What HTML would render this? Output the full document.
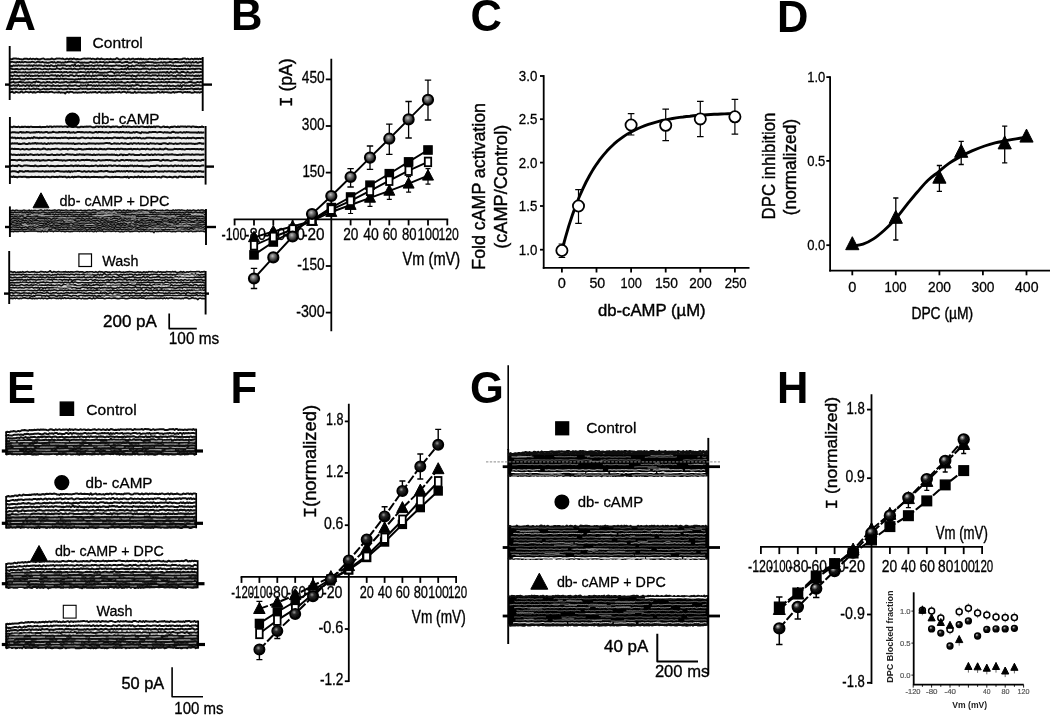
<!DOCTYPE html>
<html><head><meta charset="utf-8"><title>Figure</title>
<style>
html,body{margin:0;padding:0;background:#fff;}
body{width:1050px;height:716px;overflow:hidden;font-family:"Liberation Sans",sans-serif;}
svg{display:block;font-family:"Liberation Sans",sans-serif;}
</style></head><body>
<svg width="1050" height="716" viewBox="0 0 1050 716">
<defs>
<radialGradient id="sph" cx="0.42" cy="0.36" r="0.6">
<stop offset="0" stop-color="#c4c4c4"/><stop offset="0.3" stop-color="#808080"/><stop offset="0.7" stop-color="#3a3a3a"/><stop offset="1" stop-color="#0a0a0a"/>
</radialGradient>
<radialGradient id="sphd" cx="0.4" cy="0.35" r="0.6">
<stop offset="0" stop-color="#9a9a9a"/><stop offset="0.35" stop-color="#2a2a2a"/><stop offset="1" stop-color="#000"/>
</radialGradient>
<radialGradient id="sphh" cx="0.36" cy="0.32" r="0.62">
<stop offset="0" stop-color="#d8d8d8"/><stop offset="0.2" stop-color="#7a7a7a"/><stop offset="0.48" stop-color="#1a1a1a"/><stop offset="1" stop-color="#000"/>
</radialGradient>
<filter id="soft" x="-2%" y="-2%" width="104%" height="104%"><feGaussianBlur stdDeviation="0.45"/></filter>
</defs>
<rect width="1050" height="716" fill="#fff"/>
<g filter="url(#soft)">

<text x="4.6" y="29.8" font-size="43.5" font-weight="bold" fill="#000">A</text>
<text x="231" y="29.7" font-size="43.5" font-weight="bold" fill="#000">B</text>
<text x="470.5" y="31.2" font-size="43.5" font-weight="bold" fill="#000">C</text>
<text x="777" y="31.7" font-size="43.5" font-weight="bold" fill="#000">D</text>
<text x="7" y="402.8" font-size="43.5" font-weight="bold" fill="#000">E</text>
<text x="230.5" y="402.9" font-size="43.5" font-weight="bold" fill="#000">F</text>
<text x="470" y="402.9" font-size="43.5" font-weight="bold" fill="#000">G</text>
<text x="777" y="402.9" font-size="43.5" font-weight="bold" fill="#000">H</text>
<g id="pA">
<rect x="10" y="58.2" width="192.6" height="34.9" fill="#e6e6e6"/>
<path d="M10 58.8l1.2 .4l1.2 -.2l1.2 -.5l1.2 0l1.2 0l1.2 .4l1.2 -.3l1.2 .5l1.2 0l1.2 .4l1.2 -.1l1.2 -.8l1.2 .2l1.2 -.2l1.2 .6l1.2 -.1l1.2 -.6l1.2 .7l1.2 -.4l1.2 .1l1.2 .4l1.2 -.6l1.2 .3l1.2 .3l1.2 .2l1.2 -.6l1.2 -.3l1.2 -.1l1.2 .8l1.2 .1l1.2 -.2l1.2 -.1l1.2 .3l1.2 -.4l1.2 -.5l1.2 .7l1.2 .2l1.2 -.5l1.2 -.4l1.2 .1l1.2 -.1l1.2 .1l1.2 .3l1.2 -.4l1.2 .6l1.2 .3l1.2 -.6l1.2 0l1.2 .7l1.2 -.9l1.2 .1l1.2 .4l1.2 -.6l1.2 .4l1.2 .6l1.2 -.5l1.2 .2l1.2 .2l1.2 0l1.2 -.5l1.2 -.3l1.2 -.1l1.2 .2l1.2 .1l1.2 -.3l1.2 .1l1.2 -.1l1.2 .6l1.2 -.4l1.2 .2l1.2 .5l1.2 -.4l1.2 -.5l1.2 .3l1.2 .6l1.2 -.9l1.2 .5l1.2 .1l1.2 .4l1.2 -.3l1.2 -.3l1.2 .4l1.2 0l1.2 -.6l1.2 .8l1.2 -.2l1.2 0l1.2 -.3l1.2 -.9l1.2 .6l1.2 .8l1.2 0l1.2 0l1.2 -.8l1.2 0l1.2 .4l1.2 .3l1.2 -.2l1.2 -.7l1.2 1l1.2 -.2l1.2 -.7l1.2 .2l1.2 .7l1.2 -.6l1.2 .3l1.2 -.6l1.2 .8l1.2 -.8l1.2 .9l1.2 -.7l1.2 .6l1.2 -.2l1.2 .3l1.2 -.1l1.2 -.7l1.2 .1l1.2 .3l1.2 -.2l1.2 .6l1.2 -.5l1.2 .4l1.2 .1l1.2 -.5l1.2 -.5l1.2 .7l1.2 -.6l1.2 .6l1.2 -.4l1.2 .3l1.2 -.5l1.2 .1l1.2 .6l1.2 -.2l1.2 .4l1.2 -.4l1.2 -.1l1.2 -.1l1.2 .1l1.2 .2l1.2 .3l1.2 -.4l1.2 .3l1.2 -.8l1.2 -.1l1.2 0l1.2 .8l1.2 -.7l1.2 .6l1.2 .2l1.2 -.7l1.2 .2l1.2 .6l1.2 -.9l1.2 .4l1.2 -.3l1.2 .6l1.2 -.7l1.2 .5l1.2 -.6" stroke="#111" stroke-width="1.9" fill="none" stroke-linejoin="round"/>
<path d="M10 62.6l1.2 -.7l1.2 -.1l1.2 .3l1.2 .1l1.2 .5l1.2 -.8l1.2 .5l1.2 -.5l1.2 .6l1.2 -.6l1.2 .6l1.2 -.6l1.2 0l1.2 .4l1.2 .1l1.2 -.3l1.2 .3l1.2 -.5l1.2 -.1l1.2 .3l1.2 .5l1.2 -.3l1.2 -.6l1.2 .1l1.2 .6l1.2 -.1l1.2 -.4l1.2 .4l1.2 .4l1.2 -.4l1.2 .6l1.2 -.2l1.2 -.2l1.2 -.3l1.2 -.3l1.2 .7l1.2 -.6l1.2 .7l1.2 -.2l1.2 -.5l1.2 .3l1.2 0l1.2 .5l1.2 -.4l1.2 .4l1.2 -.8l1.2 .3l1.2 -.3l1.2 -.2l1.2 .1l1.2 -.4l1.2 .5l1.2 .4l1.2 .1l1.2 .2l1.2 -.6l1.2 -.2l1.2 .6l1.2 .2l1.2 -.2l1.2 .2l1.2 -.3l1.2 .3l1.2 0l1.2 .1l1.2 -.3l1.2 -.7l1.2 .4l1.2 .5l1.2 -.2l1.2 0l1.2 -.7l1.2 .8l1.2 -.2l1.2 -.5l1.2 .2l1.2 0l1.2 -.1l1.2 .9l1.2 -.7l1.2 .3l1.2 0l1.2 -.6l1.2 .2l1.2 0l1.2 -.3l1.2 .3l1.2 .4l1.2 -.4l1.2 .2l1.2 -.4l1.2 .1l1.2 .7l1.2 0l1.2 -.4l1.2 -.3l1.2 0l1.2 -.1l1.2 .9l1.2 -.1l1.2 .1l1.2 -.8l1.2 -.6l1.2 .9l1.2 -.2l1.2 .1l1.2 .9l1.2 -.4l1.2 .1l1.2 0l1.2 -.6l1.2 .7l1.2 -.7l1.2 -.1l1.2 -.2l1.2 .2l1.2 0l1.2 .2l1.2 -.1l1.2 .6l1.2 -.3l1.2 .3l1.2 -.2l1.2 0l1.2 0l1.2 -.5l1.2 .7l1.2 -.5l1.2 -.2l1.2 .8l1.2 -.4l1.2 -.1l1.2 -.4l1.2 0l1.2 .3l1.2 .5l1.2 -.5l1.2 -.3l1.2 .2l1.2 -.2l1.2 .4l1.2 .2l1.2 -.4l1.2 0l1.2 -.4l1.2 1l1.2 -.5l1.2 .4l1.2 -.6l1.2 .1l1.2 .6l1.2 -.9l1.2 .7l1.2 -.3l1.2 -.5l1.2 1l1.2 -.1l1.2 -.6l1.2 -.2l1.2 .6" stroke="#111" stroke-width="1.9" fill="none" stroke-linejoin="round"/>
<path d="M10 65.9l1.2 .1l1.2 .2l1.2 -.8l1.2 .4l1.2 -.5l1.2 .5l1.2 -.6l1.2 .5l1.2 -.2l1.2 -.1l1.2 .2l1.2 .2l1.2 -.2l1.2 -.2l1.2 .5l1.2 -.8l1.2 .8l1.2 -.5l1.2 .7l1.2 -1l1.2 .5l1.2 -.3l1.2 .6l1.2 -.6l1.2 .2l1.2 -.1l1.2 .5l1.2 .3l1.2 -.9l1.2 .3l1.2 .6l1.2 -.7l1.2 .7l1.2 -1l1.2 .3l1.2 .6l1.2 .1l1.2 -.7l1.2 .6l1.2 -1l1.2 .4l1.2 0l1.2 -.4l1.2 .4l1.2 -.3l1.2 .1l1.2 .7l1.2 -.4l1.2 0l1.2 .5l1.2 -.6l1.2 -.4l1.2 .9l1.2 -1.6l1.2 1.7l1.2 -.2l1.2 -.4l1.2 .7l1.2 -.8l1.2 .1l1.2 -.4l1.2 1l1.2 -.4l1.2 -.1l1.2 .6l1.2 -.8l1.2 .3l1.2 -.4l1.2 .6l1.2 .1l1.2 -.5l1.2 0l1.2 -.3l1.2 .7l1.2 -.6l1.2 .2l1.2 .6l1.2 -.7l1.2 -.2l1.2 .7l1.2 -.5l1.2 .4l1.2 .1l1.2 -.1l1.2 .2l1.2 -.3l1.2 .2l1.2 -.5l1.2 -.1l1.2 .4l1.2 -.2l1.2 .2l1.2 .3l1.2 .2l1.2 -.6l1.2 .4l1.2 -.8l1.2 0l1.2 1l1.2 -.1l1.2 0l1.2 -.7l1.2 .8l1.2 -.4l1.2 -.5l1.2 0l1.2 .1l1.2 .4l1.2 -.7l1.2 .8l1.2 -.4l1.2 .5l1.2 -.8l1.2 .3l1.2 .3l1.2 -.5l1.2 .3l1.2 -.2l1.2 .1l1.2 0l1.2 .6l1.2 -.6l1.2 .4l1.2 -.8l1.2 .5l1.2 0l1.2 0l1.2 -.5l1.2 .7l1.2 -.6l1.2 .3l1.2 -.2l1.2 .4l1.2 -.5l1.2 .8l1.2 -.7l1.2 .8l1.2 -.5l1.2 .5l1.2 0l1.2 -.1l1.2 0l1.2 -.4l1.2 .4l1.2 -.7l1.2 .4l1.2 -.5l1.2 .7l1.2 -.7l1.2 1.3l1.2 -1.3l1.2 .5l1.2 -.3l1.2 .4l1.2 0l1.2 0l1.2 -.2l1.2 .3l1.2 -.3l1.2 0" stroke="#111" stroke-width="1.9" fill="none" stroke-linejoin="round"/>
<path d="M10 68.6l1.2 -.1l1.2 .5l1.2 .1l1.2 .1l1.2 -.2l1.2 0l1.2 .5l1.2 -.1l1.2 -.2l1.2 -.5l1.2 .3l1.2 .4l1.2 -.1l1.2 -.8l1.2 .8l1.2 .1l1.2 -.1l1.2 -.3l1.2 -.3l1.2 .3l1.2 -.5l1.2 .1l1.2 .6l1.2 -.6l1.2 0l1.2 .5l1.2 .3l1.2 -.3l1.2 -.5l1.2 .5l1.2 .2l1.2 .2l1.2 -.7l1.2 .1l1.2 .4l1.2 0l1.2 -.2l1.2 0l1.2 -1.1l1.2 .6l1.2 .3l1.2 .5l1.2 -.7l1.2 -.5l1.2 .4l1.2 .1l1.2 .4l1.2 0l1.2 -.5l1.2 .1l1.2 -.2l1.2 .9l1.2 -.5l1.2 -.4l1.2 .6l1.2 .1l1.2 .3l1.2 -.8l1.2 -.2l1.2 .4l1.2 -.4l1.2 0l1.2 1l1.2 -.8l1.2 .3l1.2 .3l1.2 -.5l1.2 -.3l1.2 .8l1.2 -.9l1.2 .9l1.2 0l1.2 -.6l1.2 -.3l1.2 .9l1.2 .1l1.2 -.7l1.2 .2l1.2 .1l1.2 .1l1.2 -.4l1.2 -.2l1.2 .2l1.2 .8l1.2 -.7l1.2 0l1.2 .6l1.2 -.2l1.2 .3l1.2 -.1l1.2 0l1.2 -.2l1.2 -.4l1.2 .3l1.2 .3l1.2 -.9l1.2 1l1.2 -1.7l1.2 1.4l1.2 0l1.2 -.7l1.2 .3l1.2 .5l1.2 -.8l1.2 .9l1.2 -.8l1.2 .6l1.2 .1l1.2 0l1.2 -.5l1.2 -.3l1.2 .2l1.2 -.2l1.2 .3l1.2 0l1.2 .7l1.2 -.1l1.2 -.9l1.2 .4l1.2 -.1l1.2 .2l1.2 .4l1.2 -.1l1.2 -.9l1.2 .9l1.2 -.9l1.2 .6l1.2 -.4l1.2 .2l1.2 -.1l1.2 .1l1.2 .4l1.2 -.6l1.2 -.1l1.2 .7l1.2 -.1l1.2 -.2l1.2 .5l1.2 -.5l1.2 -.2l1.2 .3l1.2 .4l1.2 -.5l1.2 .4l1.2 -.1l1.2 -.4l1.2 .6l1.2 -.1l1.2 -.4l1.2 .2l1.2 -.2l1.2 -.2l1.2 .1l1.2 .6l1.2 -.8l1.2 .2l1.2 -.2l1.2 0l1.2 .6l1.2 .3" stroke="#111" stroke-width="1.9" fill="none" stroke-linejoin="round"/>
<path d="M10 72.2l1.2 .4l1.2 -.4l1.2 .3l1.2 -.5l1.2 -.2l1.2 .8l1.2 -.3l1.2 0l1.2 .1l1.2 .2l1.2 -.4l1.2 .4l1.2 -.6l1.2 .7l1.2 -.2l1.2 0l1.2 -.2l1.2 .2l1.2 -.3l1.2 .4l1.2 -.6l1.2 .3l1.2 -.1l1.2 .6l1.2 -.3l1.2 -.3l1.2 .7l1.2 -1l1.2 .9l1.2 -.9l1.2 .5l1.2 -.1l1.2 .4l1.2 -.5l1.2 -.2l1.2 .2l1.2 -.3l1.2 .3l1.2 -.1l1.2 -.3l1.2 .4l1.2 0l1.2 -.2l1.2 .8l1.2 -.8l1.2 .2l1.2 -.3l1.2 .8l1.2 -.4l1.2 -.3l1.2 .2l1.2 .5l1.2 -.4l1.2 .1l1.2 .3l1.2 0l1.2 -.5l1.2 0l1.2 -.4l1.2 .3l1.2 0l1.2 .1l1.2 .3l1.2 .3l1.2 -1l1.2 1l1.2 -.9l1.2 -.3l1.2 1.2l1.2 -.8l1.2 -.1l1.2 .7l1.2 -.7l1.2 .7l1.2 .2l1.2 -.2l1.2 .2l1.2 -.1l1.2 -.2l1.2 .1l1.2 .1l1.2 -.6l1.2 -.2l1.2 -.1l1.2 .1l1.2 .4l1.2 1l1.2 -1l1.2 .2l1.2 -.3l1.2 .6l1.2 -.3l1.2 -.7l1.2 .7l1.2 -.4l1.2 .2l1.2 .8l1.2 -.6l1.2 .2l1.2 -.4l1.2 .3l1.2 -.4l1.2 .2l1.2 -.3l1.2 .1l1.2 -.1l1.2 .7l1.2 -.2l1.2 -.5l1.2 .3l1.2 .2l1.2 0l1.2 -.2l1.2 -.8l1.2 1.2l1.2 -.3l1.2 .3l1.2 -.4l1.2 .1l1.2 0l1.2 0l1.2 .1l1.2 -.1l1.2 .3l1.2 -.6l1.2 .4l1.2 -.5l1.2 .1l1.2 0l1.2 .6l1.2 -1.1l1.2 1l1.2 .1l1.2 -1l1.2 .6l1.2 .4l1.2 -.6l1.2 .3l1.2 -1.4l1.2 1.4l1.2 .3l1.2 -.1l1.2 -.9l1.2 .2l1.2 0l1.2 .6l1.2 .1l1.2 -.8l1.2 .7l1.2 .2l1.2 0l1.2 -.8l1.2 .7l1.2 -.6l1.2 -.1l1.2 .3l1.2 -.1l1.2 .1l1.2 -.4l1.2 .3" stroke="#111" stroke-width="1.9" fill="none" stroke-linejoin="round"/>
<path d="M10 75.8l1.2 -.3l1.2 .6l1.2 -.4l1.2 -.5l1.2 .7l1.2 -.4l1.2 .7l1.2 -.4l1.2 -.2l1.2 -.1l1.2 .3l1.2 .2l1.2 -.9l1.2 .5l1.2 .4l1.2 -.9l1.2 .9l1.2 -.3l1.2 .3l1.2 -.1l1.2 -.4l1.2 .2l1.2 -.4l1.2 .8l1.2 -.3l1.2 -.2l1.2 -.2l1.2 .6l1.2 -.8l1.2 .7l1.2 -.2l1.2 .4l1.2 -.5l1.2 -.3l1.2 0l1.2 .2l1.2 0l1.2 -.2l1.2 .9l1.2 -1l1.2 .8l1.2 -.2l1.2 -.9l1.2 1.3l1.2 -.6l1.2 -.2l1.2 .2l1.2 .3l1.2 .3l1.2 -1.1l1.2 .2l1.2 -.1l1.2 .9l1.2 0l1.2 -.9l1.2 .3l1.2 .7l1.2 -.5l1.2 .5l1.2 -.7l1.2 -.2l1.2 .9l1.2 -1.1l1.2 .4l1.2 .6l1.2 -.9l1.2 .7l1.2 .3l1.2 -.9l1.2 .8l1.2 -.7l1.2 .5l1.2 -.4l1.2 -.3l1.2 .1l1.2 0l1.2 -.2l1.2 1l1.2 -.8l1.2 .8l1.2 -.8l1.2 -.1l1.2 .8l1.2 -.4l1.2 .4l1.2 -.2l1.2 -.5l1.2 .6l1.2 -.6l1.2 .1l1.2 -.1l1.2 .7l1.2 -.7l1.2 .1l1.2 -.2l1.2 0l1.2 .6l1.2 -.2l1.2 -.2l1.2 .1l1.2 .7l1.2 -1l1.2 .9l1.2 -.2l1.2 .8l1.2 -1.2l1.2 -.4l1.2 .6l1.2 -.1l1.2 -.3l1.2 0l1.2 .6l1.2 -.6l1.2 -.1l1.2 .4l1.2 -.3l1.2 .6l1.2 -.2l1.2 -.5l1.2 .3l1.2 -.3l1.2 .3l1.2 .6l1.2 -1l1.2 .5l1.2 -.2l1.2 .6l1.2 -.7l1.2 .5l1.2 -.2l1.2 -.4l1.2 .8l1.2 -.5l1.2 0l1.2 -.3l1.2 .9l1.2 -.4l1.2 .8l1.2 -1.2l1.2 -.1l1.2 .1l1.2 .6l1.2 -.8l1.2 .6l1.2 .2l1.2 .2l1.2 -1l1.2 .5l1.2 -.2l1.2 .1l1.2 .3l1.2 -.5l1.2 .6l1.2 .1l1.2 -.5l1.2 .5l1.2 -.5l1.2 .5l1.2 -.6l1.2 .2" stroke="#111" stroke-width="1.9" fill="none" stroke-linejoin="round"/>
<path d="M10 79.3l1.2 0l1.2 -.8l1.2 1l1.2 -.8l1.2 .4l1.2 -.1l1.2 -.1l1.2 -.4l1.2 1l1.2 0l1.2 -.2l1.2 .4l1.2 -1l1.2 0l1.2 .7l1.2 -.7l1.2 .2l1.2 -.2l1.2 .4l1.2 0l1.2 -.1l1.2 -.1l1.2 -.3l1.2 0l1.2 .3l1.2 -.2l1.2 .3l1.2 .1l1.2 0l1.2 .1l1.2 -.2l1.2 -.1l1.2 -.2l1.2 .3l1.2 -.2l1.2 .6l1.2 -.4l1.2 -.3l1.2 .1l1.2 -.2l1.2 .8l1.2 -.9l1.2 .4l1.2 -.3l1.2 .9l1.2 -.9l1.2 .2l1.2 .3l1.2 .2l1.2 -.1l1.2 .1l1.2 0l1.2 .1l1.2 .5l1.2 -.8l1.2 .4l1.2 -.6l1.2 .5l1.2 -.6l1.2 .1l1.2 -.1l1.2 .2l1.2 -.2l1.2 .6l1.2 -.5l1.2 -.1l1.2 .3l1.2 -.6l1.2 .3l1.2 .6l1.2 -.7l1.2 -.1l1.2 .5l1.2 .3l1.2 -.4l1.2 0l1.2 .2l1.2 -.4l1.2 0l1.2 .4l1.2 -.7l1.2 .4l1.2 .2l1.2 .4l1.2 -.6l1.2 .6l1.2 -.5l1.2 -.4l1.2 .9l1.2 -.5l1.2 .4l1.2 -.1l1.2 .1l1.2 -.8l1.2 .4l1.2 -.4l1.2 .5l1.2 -.3l1.2 .3l1.2 -.2l1.2 -.1l1.2 -.4l1.2 1l1.2 -.2l1.2 -.2l1.2 -.3l1.2 .3l1.2 .1l1.2 -.5l1.2 .7l1.2 -.8l1.2 .5l1.2 .1l1.2 -.1l1.2 -.2l1.2 0l1.2 -.1l1.2 .7l1.2 -.6l1.2 .1l1.2 .5l1.2 .1l1.2 -.4l1.2 -.6l1.2 .9l1.2 0l1.2 -.6l1.2 .7l1.2 0l1.2 -.6l1.2 -.2l1.2 .7l1.2 -.1l1.2 -.7l1.2 0l1.2 .1l1.2 -.1l1.2 .3l1.2 -.4l1.2 .8l1.2 -.6l1.2 0l1.2 -.2l1.2 .3l1.2 .4l1.2 -.5l1.2 -.1l1.2 .7l1.2 -.7l1.2 .6l1.2 .3l1.2 0l1.2 -.8l1.2 -.1l1.2 .1l1.2 .4l1.2 -.4l1.2 0l1.2 -.1l1.2 .4" stroke="#111" stroke-width="1.9" fill="none" stroke-linejoin="round"/>
<path d="M10 82.6l1.2 -.1l1.2 -.4l1.2 -.2l1.2 .8l1.2 -.2l1.2 -.1l1.2 -.1l1.2 -.5l1.2 .2l1.2 .5l1.2 -.3l1.2 .4l1.2 .1l1.2 -.3l1.2 .1l1.2 -.3l1.2 .3l1.2 .2l1.2 -.2l1.2 -.6l1.2 .7l1.2 -1.4l1.2 .8l1.2 -.2l1.2 .7l1.2 .2l1.2 -.2l1.2 -.3l1.2 .5l1.2 -.1l1.2 -.8l1.2 .6l1.2 -.4l1.2 .6l1.2 .2l1.2 -.9l1.2 .3l1.2 .5l1.2 -.8l1.2 .3l1.2 .3l1.2 .2l1.2 -.4l1.2 .2l1.2 -.2l1.2 -.4l1.2 -.1l1.2 .8l1.2 -.2l1.2 .1l1.2 -.5l1.2 .2l1.2 -.2l1.2 -.1l1.2 .6l1.2 -.5l1.2 .2l1.2 -.1l1.2 .6l1.2 -.3l1.2 .3l1.2 -.1l1.2 -.1l1.2 -.2l1.2 .4l1.2 -.6l1.2 -.1l1.2 .1l1.2 .4l1.2 -.6l1.2 .4l1.2 -.4l1.2 -.1l1.2 .8l1.2 -.1l1.2 -.1l1.2 -.1l1.2 -.3l1.2 -.2l1.2 .7l1.2 .3l1.2 -.8l1.2 .4l1.2 .3l1.2 -.7l1.2 .7l1.2 -.8l1.2 .8l1.2 -.6l1.2 .6l1.2 -.5l1.2 0l1.2 -.2l1.2 .4l1.2 .3l1.2 .1l1.2 -.5l1.2 -.4l1.2 .5l1.2 .1l1.2 -.3l1.2 -.4l1.2 .2l1.2 -.2l1.2 .9l1.2 -.5l1.2 .3l1.2 -.3l1.2 0l1.2 .5l1.2 -.8l1.2 .3l1.2 -.1l1.2 -.2l1.2 .4l1.2 .5l1.2 0l1.2 -.4l1.2 -.6l1.2 .6l1.2 0l1.2 -.1l1.2 -.2l1.2 .1l1.2 .3l1.2 -.6l1.2 .3l1.2 0l1.2 .2l1.2 -.5l1.2 .8l1.2 -.8l1.2 .1l1.2 .3l1.2 0l1.2 -.3l1.2 -.1l1.2 .5l1.2 -.2l1.2 0l1.2 .2l1.2 .2l1.2 .2l1.2 -.9l1.2 .3l1.2 .6l1.2 -.2l1.2 0l1.2 -.6l1.2 -.2l1.2 .2l1.2 .5l1.2 .2l1.2 0l1.2 .1l1.2 -.9l1.2 .2l1.2 .4l1.2 -.6l1.2 .7" stroke="#111" stroke-width="1.9" fill="none" stroke-linejoin="round"/>
<path d="M10 85.9l1.2 -.1l1.2 -.1l1.2 -.5l1.2 .6l1.2 -.5l1.2 .7l1.2 -1.5l1.2 1.5l1.2 -.3l1.2 .1l1.2 -.6l1.2 .5l1.2 .3l1.2 -.9l1.2 .2l1.2 .8l1.2 -1l1.2 .9l1.2 -.5l1.2 -.2l1.2 .2l1.2 .3l1.2 -.3l1.2 .6l1.2 -1l1.2 .4l1.2 .2l1.2 -.1l1.2 -.2l1.2 .8l1.2 -.9l1.2 .1l1.2 .2l1.2 .1l1.2 .4l1.2 -1l1.2 .8l1.2 0l1.2 -.1l1.2 -.4l1.2 .7l1.2 -.3l1.2 .1l1.2 -.3l1.2 -.1l1.2 0l1.2 0l1.2 .7l1.2 -.7l1.2 -.2l1.2 .6l1.2 -.3l1.2 .1l1.2 -.4l1.2 .1l1.2 .5l1.2 .2l1.2 0l1.2 -.9l1.2 .5l1.2 -.2l1.2 .1l1.2 -.4l1.2 .9l1.2 -1.3l1.2 .6l1.2 -.1l1.2 0l1.2 .7l1.2 -.7l1.2 .8l1.2 -.9l1.2 .9l1.2 -.9l1.2 .5l1.2 .1l1.2 -.5l1.2 .6l1.2 -.4l1.2 0l1.2 0l1.2 .3l1.2 -.2l1.2 -.2l1.2 -.3l1.2 .6l1.2 -.5l1.2 .7l1.2 -.7l1.2 0l1.2 0l1.2 .4l1.2 .1l1.2 .1l1.2 -.3l1.2 -.1l1.2 .5l1.2 -.5l1.2 .8l1.2 -.8l1.2 .7l1.2 -1l1.2 .7l1.2 -.3l1.2 -.2l1.2 -.8l1.2 .7l1.2 .5l1.2 .4l1.2 -.8l1.2 .6l1.2 -.1l1.2 -.4l1.2 .2l1.2 -.1l1.2 .1l1.2 .5l1.2 -.2l1.2 -.1l1.2 .2l1.2 -.3l1.2 .4l1.2 -.3l1.2 -.4l1.2 .2l1.2 -.3l1.2 .5l1.2 .4l1.2 -.5l1.2 .3l1.2 -.6l1.2 .6l1.2 -.5l1.2 .6l1.2 -.3l1.2 -.2l1.2 .5l1.2 0l1.2 -.2l1.2 -.6l1.2 .9l1.2 -1.1l1.2 1.8l1.2 -1.6l1.2 -.1l1.2 .6l1.2 -.3l1.2 .4l1.2 -.2l1.2 .3l1.2 -.9l1.2 .2l1.2 .8l1.2 -.7l1.2 -.2l1.2 0l1.2 .1l1.2 0l1.2 .3l1.2 -.1" stroke="#111" stroke-width="1.9" fill="none" stroke-linejoin="round"/>
<path d="M10 89.4l1.2 -.7l1.2 .7l1.2 -.7l1.2 0l1.2 -.2l1.2 .4l1.2 .3l1.2 -.1l1.2 -.1l1.2 .5l1.2 -.3l1.2 -.4l1.2 .7l1.2 -.7l1.2 -.2l1.2 -.2l1.2 1l1.2 -.3l1.2 -.4l1.2 -.2l1.2 .8l1.2 -.8l1.2 .3l1.2 .2l1.2 .9l1.2 -.5l1.2 -.3l1.2 -.4l1.2 .5l1.2 0l1.2 -.2l1.2 .2l1.2 -.1l1.2 -.4l1.2 0l1.2 .2l1.2 .1l1.2 -.3l1.2 .7l1.2 -.4l1.2 .3l1.2 -.7l1.2 .3l1.2 .4l1.2 .1l1.2 -.6l1.2 .5l1.2 -.7l1.2 -.1l1.2 .8l1.2 -.4l1.2 0l1.2 .3l1.2 -.3l1.2 .4l1.2 -.1l1.2 -.2l1.2 -.2l1.2 -.5l1.2 .7l1.2 -.4l1.2 .1l1.2 0l1.2 -.2l1.2 .9l1.2 -.5l1.2 .2l1.2 -.6l1.2 .3l1.2 -.1l1.2 .4l1.2 -.3l1.2 .3l1.2 -.5l1.2 .6l1.2 0l1.2 -.7l1.2 .3l1.2 .2l1.2 .4l1.2 -.5l1.2 .4l1.2 -.4l1.2 0l1.2 .1l1.2 .2l1.2 -.3l1.2 .3l1.2 .1l1.2 -.8l1.2 0l1.2 0l1.2 .7l1.2 -.7l1.2 .7l1.2 -.7l1.2 .4l1.2 .6l1.2 -.1l1.2 -.6l1.2 -.4l1.2 .3l1.2 .1l1.2 .6l1.2 -.4l1.2 -.5l1.2 .9l1.2 0l1.2 -.8l1.2 .4l1.2 -.1l1.2 .2l1.2 .2l1.2 .1l1.2 -.9l1.2 .5l1.2 0l1.2 -.3l1.2 0l1.2 .6l1.2 -.4l1.2 0l1.2 -.4l1.2 .6l1.2 .3l1.2 -.3l1.2 .3l1.2 -.1l1.2 -.1l1.2 -.5l1.2 .6l1.2 .1l1.2 -.9l1.2 .8l1.2 -.4l1.2 -.2l1.2 .5l1.2 -.7l1.2 0l1.2 .2l1.2 .4l1.2 -.1l1.2 .4l1.2 -.1l1.2 0l1.2 -.7l1.2 .5l1.2 -.1l1.2 -.1l1.2 0l1.2 -.4l1.2 .1l1.2 .9l1.2 -.5l1.2 -.2l1.2 .2l1.2 -.5l1.2 .9l1.2 -.4l1.2 -.4" stroke="#111" stroke-width="1.9" fill="none" stroke-linejoin="round"/>
<path d="M10 92.7l1.2 -.7l1.2 -.2l1.2 1l1.2 0l1.2 -1l1.2 .4l1.2 .4l1.2 0l1.2 -.8l1.2 .1l1.2 .7l1.2 -.3l1.2 -.4l1.2 0l1.2 .2l1.2 .4l1.2 -.6l1.2 .2l1.2 .6l1.2 -.8l1.2 .8l1.2 -.4l1.2 -.4l1.2 0l1.2 .4l1.2 -.3l1.2 0l1.2 0l1.2 .3l1.2 -.5l1.2 .5l1.2 .1l1.2 -.4l1.2 -.1l1.2 -.1l1.2 .5l1.2 .4l1.2 -.3l1.2 0l1.2 .1l1.2 -.5l1.2 .8l1.2 -.4l1.2 .2l1.2 0l1.2 .9l1.2 -1.3l1.2 -.4l1.2 .8l1.2 -.7l1.2 0l1.2 .1l1.2 .8l1.2 -.2l1.2 -.3l1.2 .4l1.2 -.2l1.2 -.1l1.2 .2l1.2 -.1l1.2 -.6l1.2 .6l1.2 -.6l1.2 .9l1.2 -.2l1.2 0l1.2 -.4l1.2 .4l1.2 -.5l1.2 .2l1.2 -.4l1.2 .7l1.2 .1l1.2 -.7l1.2 0l1.2 .7l1.2 -.2l1.2 .1l1.2 -.1l1.2 .2l1.2 -.9l1.2 .9l1.2 -.3l1.2 .2l1.2 -.8l1.2 .8l1.2 -.2l1.2 -.3l1.2 0l1.2 .3l1.2 -.6l1.2 .7l1.2 0l1.2 -.6l1.2 -.1l1.2 .2l1.2 .8l1.2 -.8l1.2 .4l1.2 -.2l1.2 .6l1.2 0l1.2 -.1l1.2 -.9l1.2 1l1.2 -.2l1.2 -.5l1.2 .3l1.2 -.1l1.2 .5l1.2 -.3l1.2 -.1l1.2 .4l1.2 -.3l1.2 -.3l1.2 .3l1.2 -.2l1.2 .5l1.2 -.1l1.2 -.3l1.2 .2l1.2 0l1.2 -.8l1.2 .1l1.2 .8l1.2 -.3l1.2 -.6l1.2 .8l1.2 -.5l1.2 0l1.2 .1l1.2 .3l1.2 0l1.2 .3l1.2 -.3l1.2 -.6l1.2 .8l1.2 -.6l1.2 .2l1.2 -.4l1.2 0l1.2 -.1l1.2 .4l1.2 .6l1.2 -.7l1.2 -.1l1.2 .2l1.2 -.2l1.2 .2l1.2 -.2l1.2 .7l1.2 0l1.2 -.1l1.2 -.7l1.2 .4l1.2 .2l1.2 -.4l1.2 .7l1.2 -.7l1.2 -.1" stroke="#111" stroke-width="1.9" fill="none" stroke-linejoin="round"/>
<path d="M9.7 46L9.7 100" stroke="#000" stroke-width="1.9" stroke-linecap="butt" fill="none"/>
<path d="M202.7 57L202.7 111" stroke="#000" stroke-width="1.9" stroke-linecap="butt" fill="none"/>
<path d="M5 84.6L10 84.6" stroke="#000" stroke-width="2.4" stroke-linecap="butt" fill="none"/>
<path d="M202.5 84.6L212 84.6" stroke="#000" stroke-width="2.4" stroke-linecap="butt" fill="none"/>
<rect x="67.1" y="37.5" width="13.2" height="13.2" fill="#000" stroke="#000" stroke-width="1.4"/>
<text x="92.6" y="47.7" font-size="15.5" font-weight="normal" fill="#000" stroke="#000" stroke-width=".3" textLength="50.2" lengthAdjust="spacingAndGlyphs">Control</text>
<rect x="10" y="126" width="195.5" height="51.8" fill="#eeeeee"/>
<path d="M10 126.4l1.2 .5l1.2 .3l1.2 -.6l1.2 .2l1.2 .2l1.2 .1l1.2 -.5l1.2 .6l1.2 -.2l1.2 -.3l1.2 .3l1.2 -.3l1.2 0l1.2 .4l1.2 -.3l1.2 .4l1.2 -.5l1.2 0l1.2 .4l1.2 -.2l1.2 0l1.2 .2l1.2 0l1.2 -.1l1.2 -.2l1.2 .4l1.2 -.1l1.2 0l1.2 -.1l1.2 -.1l1.2 -.5l1.2 .7l1.2 -.6l1.2 -.1l1.2 .8l1.2 -.5l1.2 -.3l1.2 .4l1.2 -.3l1.2 -.1l1.2 .4l1.2 -.4l1.2 0l1.2 .5l1.2 -.3l1.2 -.1l1.2 0l1.2 .6l1.2 -.7l1.2 0l1.2 .3l1.2 .2l1.2 0l1.2 -.1l1.2 -.2l1.2 .6l1.2 0l1.2 0l1.2 -.4l1.2 0l1.2 .2l1.2 -.3l1.2 0l1.2 -.2l1.2 .3l1.2 -.3l1.2 0l1.2 .4l1.2 .3l1.2 0l1.2 -.2l1.2 -.6l1.2 0l1.2 .6l1.2 -.4l1.2 -.1l1.2 .7l1.2 -.8l1.2 .3l1.2 .4l1.2 -.7l1.2 .1l1.2 .3l1.2 .4l1.2 -.4l1.2 -.3l1.2 .4l1.2 -.4l1.2 -.1l1.2 .6l1.2 .2l1.2 -.2l1.2 .1l1.2 -1l1.2 .8l1.2 -.5l1.2 .7l1.2 -.7l1.2 .4l1.2 -.2l1.2 .5l1.2 -.2l1.2 -.3l1.2 .1l1.2 .2l1.2 -.4l1.2 .4l1.2 .1l1.2 -.6l1.2 0l1.2 .3l1.2 .3l1.2 -.1l1.2 -.1l1.2 .4l1.2 -.8l1.2 .8l1.2 -.5l1.2 .4l1.2 -.7l1.2 .8l1.2 -.8l1.2 .2l1.2 -.1l1.2 .7l1.2 0l1.2 -.3l1.2 -.5l1.2 .6l1.2 .1l1.2 -.3l1.2 .3l1.2 .6l1.2 -.8l1.2 -.1l1.2 .1l1.2 -.5l1.2 .4l1.2 .3l1.2 -.7l1.2 .7l1.2 -.6l1.2 0l1.2 -.1l1.2 .4l1.2 -.4l1.2 .7l1.2 -.7l1.2 .2l1.2 -.1l1.2 .7l1.2 -.8l1.2 .1l1.2 .4l1.2 -.1l1.2 .1l1.2 .3l1.2 -.1l1.2 0l1.2 -.7l1.2 .7l1.2 0" stroke="#111" stroke-width="2" fill="none" stroke-linejoin="round"/>
<path d="M10 132.8l1.2 -.2l1.2 -.4l1.2 0l1.2 .1l1.2 .2l1.2 .1l1.2 .2l1.2 -.6l1.2 -.3l1.2 .8l1.2 -.5l1.2 .4l1.2 0l1.2 -.6l1.2 .2l1.2 .1l1.2 .5l1.2 -.4l1.2 0l1.2 -.1l1.2 .2l1.2 -.5l1.2 .2l1.2 -.3l1.2 .7l1.2 -.5l1.2 .4l1.2 .1l1.2 -.4l1.2 -.2l1.2 .1l1.2 .7l1.2 -.3l1.2 0l1.2 -.3l1.2 -.4l1.2 .3l1.2 .3l1.2 .1l1.2 .1l1.2 -.6l1.2 .3l1.2 0l1.2 -.3l1.2 .2l1.2 -.2l1.2 .1l1.2 .6l1.2 -1l1.2 1l1.2 -.2l1.2 0l1.2 -.4l1.2 .7l1.2 -.3l1.2 -.4l1.2 -.2l1.2 .1l1.2 .3l1.2 -.2l1.2 .1l1.2 .2l1.2 -.2l1.2 0l1.2 .4l1.2 -.5l1.2 .2l1.2 .2l1.2 .2l1.2 -.2l1.2 -.4l1.2 -.1l1.2 .6l1.2 -.6l1.2 .1l1.2 .2l1.2 -.3l1.2 .4l1.2 0l1.2 -.3l1.2 .3l1.2 .4l1.2 -.8l1.2 .4l1.2 -.3l1.2 0l1.2 .1l1.2 .1l1.2 -.3l1.2 .2l1.2 .3l1.2 -.5l1.2 .4l1.2 -.5l1.2 .4l1.2 .3l1.2 -.5l1.2 .4l1.2 -.4l1.2 .7l1.2 -.1l1.2 0l1.2 -.6l1.2 .6l1.2 -.7l1.2 .1l1.2 .5l1.2 .2l1.2 .4l1.2 -1.1l1.2 .3l1.2 0l1.2 .1l1.2 .2l1.2 .1l1.2 -.7l1.2 .1l1.2 0l1.2 -.3l1.2 .2l1.2 -.2l1.2 .3l1.2 .2l1.2 -.3l1.2 -.1l1.2 .1l1.2 .3l1.2 .3l1.2 -.6l1.2 .4l1.2 -.2l1.2 .2l1.2 .3l1.2 0l1.2 -.8l1.2 -.3l1.2 .5l1.2 .5l1.2 -.3l1.2 .3l1.2 -.3l1.2 -.3l1.2 .4l1.2 .2l1.2 -.6l1.2 .6l1.2 -.6l1.2 .1l1.2 .1l1.2 .2l1.2 .1l1.2 -.2l1.2 .2l1.2 -.1l1.2 0l1.2 .3l1.2 -.7l1.2 .7l1.2 -.5l1.2 .4l1.2 -.1l1.2 -.1" stroke="#111" stroke-width="2" fill="none" stroke-linejoin="round"/>
<path d="M10 137.6l1.2 .1l1.2 -.2l1.2 .4l1.2 -.3l1.2 .8l1.2 -.6l1.2 .1l1.2 .3l1.2 -.5l1.2 .7l1.2 -.1l1.2 -.2l1.2 .3l1.2 -.2l1.2 -.5l1.2 .3l1.2 .3l1.2 -.6l1.2 .5l1.2 -1.1l1.2 .6l1.2 0l1.2 .1l1.2 .5l1.2 -.7l1.2 .4l1.2 -.1l1.2 -.2l1.2 -.1l1.2 0l1.2 .5l1.2 .1l1.2 -.4l1.2 -.1l1.2 .3l1.2 -.4l1.2 .3l1.2 -.2l1.2 .5l1.2 -.2l1.2 .1l1.2 .1l1.2 -.6l1.2 .4l1.2 -.3l1.2 -.1l1.2 .1l1.2 .2l1.2 .6l1.2 -.8l1.2 .4l1.2 0l1.2 -.4l1.2 .4l1.2 -.5l1.2 .6l1.2 0l1.2 0l1.2 -.4l1.2 -.2l1.2 0l1.2 .4l1.2 .3l1.2 -.4l1.2 -.3l1.2 .4l1.2 .2l1.2 0l1.2 -.6l1.2 .3l1.2 .2l1.2 -.3l1.2 .3l1.2 -.3l1.2 .5l1.2 -.2l1.2 -.2l1.2 .5l1.2 -.1l1.2 -.4l1.2 -.1l1.2 .4l1.2 -.3l1.2 0l1.2 .5l1.2 -.6l1.2 -.2l1.2 0l1.2 .4l1.2 -.3l1.2 .5l1.2 -.4l1.2 -.1l1.2 -.1l1.2 .6l1.2 .1l1.2 .1l1.2 -.6l1.2 .3l1.2 -.5l1.2 .8l1.2 -.2l1.2 -.5l1.2 .2l1.2 -.3l1.2 .2l1.2 .4l1.2 -.5l1.2 .5l1.2 .2l1.2 -.3l1.2 .3l1.2 -.1l1.2 -.6l1.2 .1l1.2 0l1.2 -.1l1.2 .2l1.2 .4l1.2 -.6l1.2 .5l1.2 0l1.2 0l1.2 -.1l1.2 .2l1.2 -.3l1.2 .2l1.2 .1l1.2 0l1.2 0l1.2 -.2l1.2 -.6l1.2 .5l1.2 -.2l1.2 .4l1.2 -.5l1.2 0l1.2 .5l1.2 -.5l1.2 -.1l1.2 .1l1.2 .2l1.2 .5l1.2 -.3l1.2 -.2l1.2 .3l1.2 .1l1.2 -.7l1.2 .7l1.2 -.4l1.2 .4l1.2 -.6l1.2 .1l1.2 .3l1.2 .4l1.2 -.6l1.2 0l1.2 .1l1.2 .2l1.2 -.5l1.2 .5l1.2 .1" stroke="#111" stroke-width="2" fill="none" stroke-linejoin="round"/>
<path d="M10 143.5l1.2 .2l1.2 -.4l1.2 .1l1.2 -.1l1.2 .2l1.2 -.3l1.2 .8l1.2 -.2l1.2 .1l1.2 -.1l1.2 -.4l1.2 -.1l1.2 .6l1.2 0l1.2 0l1.2 -.7l1.2 .6l1.2 -.2l1.2 -.3l1.2 .2l1.2 -.6l1.2 .8l1.2 -.4l1.2 .2l1.2 .1l1.2 -.3l1.2 .4l1.2 0l1.2 -.4l1.2 .6l1.2 0l1.2 -.7l1.2 .6l1.2 -.6l1.2 .5l1.2 -.3l1.2 -.1l1.2 -.1l1.2 .4l1.2 -.4l1.2 0l1.2 .2l1.2 -.2l1.2 .3l1.2 0l1.2 0l1.2 .1l1.2 -.4l1.2 .5l1.2 -.3l1.2 .1l1.2 .2l1.2 -.5l1.2 .9l1.2 -.4l1.2 0l1.2 -.3l1.2 0l1.2 .3l1.2 .2l1.2 -.5l1.2 .4l1.2 -.1l1.2 .2l1.2 -.5l1.2 -.2l1.2 .3l1.2 0l1.2 -.1l1.2 0l1.2 .5l1.2 -.4l1.2 -.1l1.2 .4l1.2 -.4l1.2 0l1.2 .2l1.2 -.2l1.2 -.2l1.2 -.1l1.2 0l1.2 .1l1.2 -.1l1.2 .6l1.2 .2l1.2 -.3l1.2 -.4l1.2 .3l1.2 .3l1.2 -.4l1.2 .5l1.2 -.3l1.2 -.5l1.2 .4l1.2 .2l1.2 -.5l1.2 .4l1.2 .4l1.2 0l1.2 -.6l1.2 -.1l1.2 .7l1.2 -.8l1.2 0l1.2 .5l1.2 -.1l1.2 -.5l1.2 .7l1.2 -.3l1.2 .1l1.2 -.2l1.2 .5l1.2 -.3l1.2 -.4l1.2 .9l1.2 -.3l1.2 -.7l1.2 .4l1.2 .1l1.2 -.1l1.2 .4l1.2 -.3l1.2 -.2l1.2 .5l1.2 -.1l1.2 .2l1.2 -.6l1.2 -.1l1.2 -.1l1.2 .3l1.2 .4l1.2 0l1.2 -.7l1.2 .4l1.2 0l1.2 .3l1.2 -.1l1.2 -.5l1.2 .6l1.2 -.2l1.2 0l1.2 -.5l1.2 .5l1.2 0l1.2 -.3l1.2 .5l1.2 -.4l1.2 .3l1.2 -.3l1.2 -.1l1.2 .1l1.2 .3l1.2 -.1l1.2 .3l1.2 -.3l1.2 0l1.2 -.4l1.2 -.2l1.2 .1l1.2 .6l1.2 -.3l1.2 .2" stroke="#111" stroke-width="2" fill="none" stroke-linejoin="round"/>
<path d="M10 149.5l1.2 -.7l1.2 0l1.2 .3l1.2 -.3l1.2 .3l1.2 -.2l1.2 0l1.2 .3l1.2 .2l1.2 -.3l1.2 0l1.2 .4l1.2 -.2l1.2 -.4l1.2 .5l1.2 .1l1.2 -.2l1.2 -.3l1.2 -.2l1.2 .3l1.2 -.1l1.2 .3l1.2 -.5l1.2 .2l1.2 .5l1.2 -.3l1.2 -.2l1.2 -.5l1.2 .3l1.2 .4l1.2 .3l1.2 -.5l1.2 .2l1.2 .2l1.2 -.4l1.2 -.1l1.2 0l1.2 -.1l1.2 0l1.2 0l1.2 .5l1.2 .2l1.2 -.2l1.2 -.6l1.2 .3l1.2 -.1l1.2 -.2l1.2 .8l1.2 -.5l1.2 -.2l1.2 0l1.2 .1l1.2 .2l1.2 .4l1.2 -.2l1.2 .1l1.2 -.6l1.2 .1l1.2 .1l1.2 .5l1.2 .1l1.2 -.4l1.2 .1l1.2 -.3l1.2 -.1l1.2 -.1l1.2 .4l1.2 -.4l1.2 .4l1.2 -.2l1.2 -.3l1.2 .3l1.2 .3l1.2 .1l1.2 -.7l1.2 .3l1.2 .3l1.2 0l1.2 -.2l1.2 .4l1.2 -.7l1.2 -.1l1.2 0l1.2 .3l1.2 .1l1.2 -.2l1.2 0l1.2 .6l1.2 -.5l1.2 -.3l1.2 .7l1.2 -.6l1.2 -.1l1.2 .3l1.2 .3l1.2 -.2l1.2 .2l1.2 0l1.2 -.2l1.2 -.1l1.2 -.3l1.2 .9l1.2 -.7l1.2 0l1.2 .4l1.2 -.5l1.2 .3l1.2 .4l1.2 -.4l1.2 -.3l1.2 .3l1.2 -.2l1.2 .5l1.2 -.6l1.2 0l1.2 .5l1.2 .2l1.2 -.2l1.2 -.5l1.2 -.1l1.2 .6l1.2 0l1.2 0l1.2 .2l1.2 -.8l1.2 .6l1.2 -.1l1.2 .2l1.2 -.6l1.2 -.2l1.2 .4l1.2 .6l1.2 -.1l1.2 -.1l1.2 .1l1.2 0l1.2 -.7l1.2 .3l1.2 -.1l1.2 .2l1.2 -.3l1.2 .2l1.2 .2l1.2 -.2l1.2 .3l1.2 0l1.2 -.5l1.2 .2l1.2 -.2l1.2 .4l1.2 -.2l1.2 -.2l1.2 .1l1.2 0l1.2 .3l1.2 -.4l1.2 .4l1.2 -.1l1.2 -.3l1.2 .8l1.2 -.6l1.2 .4" stroke="#111" stroke-width="2" fill="none" stroke-linejoin="round"/>
<path d="M10 154.4l1.2 -.1l1.2 .6l1.2 -.3l1.2 .1l1.2 .3l1.2 0l1.2 -.4l1.2 .5l1.2 -.7l1.2 .7l1.2 -.6l1.2 .5l1.2 -.6l1.2 .2l1.2 .5l1.2 -.5l1.2 -.3l1.2 .1l1.2 .5l1.2 0l1.2 -.2l1.2 .1l1.2 -.4l1.2 .7l1.2 -.3l1.2 -.5l1.2 .5l1.2 -.1l1.2 -.3l1.2 .2l1.2 .5l1.2 0l1.2 -.1l1.2 -.2l1.2 -.5l1.2 .7l1.2 -.1l1.2 .2l1.2 -.5l1.2 .2l1.2 .2l1.2 -.4l1.2 -.3l1.2 .6l1.2 .2l1.2 -.4l1.2 -.5l1.2 .1l1.2 .3l1.2 -.1l1.2 .2l1.2 -.3l1.2 .3l1.2 .3l1.2 0l1.2 -.5l1.2 .2l1.2 -.4l1.2 .3l1.2 .2l1.2 -.3l1.2 .5l1.2 -.4l1.2 0l1.2 -.2l1.2 .4l1.2 -.2l1.2 .3l1.2 .1l1.2 -.5l1.2 .6l1.2 -.3l1.2 -.1l1.2 -.3l1.2 .5l1.2 -.1l1.2 0l1.2 -.1l1.2 0l1.2 0l1.2 -.3l1.2 .4l1.2 0l1.2 0l1.2 -.2l1.2 .1l1.2 -.1l1.2 .5l1.2 -.3l1.2 .6l1.2 -.3l1.2 -.6l1.2 -.1l1.2 .9l1.2 -.7l1.2 .3l1.2 .1l1.2 0l1.2 -.7l1.2 0l1.2 .5l1.2 -.4l1.2 .1l1.2 .6l1.2 0l1.2 -.1l1.2 .1l1.2 -.2l1.2 -.6l1.2 .4l1.2 .3l1.2 -.1l1.2 0l1.2 -.5l1.2 .1l1.2 .5l1.2 -.1l1.2 -.5l1.2 .7l1.2 -.4l1.2 -.4l1.2 .6l1.2 -.3l1.2 0l1.2 .2l1.2 -.1l1.2 .4l1.2 -.4l1.2 -.3l1.2 .2l1.2 -.3l1.2 .5l1.2 -.2l1.2 -.2l1.2 -.2l1.2 .3l1.2 .2l1.2 .1l1.2 .1l1.2 .1l1.2 -.2l1.2 -.2l1.2 .5l1.2 -.8l1.2 .4l1.2 -.3l1.2 .2l1.2 -.2l1.2 0l1.2 .3l1.2 0l1.2 -.4l1.2 .5l1.2 0l1.2 -.4l1.2 .1l1.2 -.1l1.2 .4l1.2 -.1l1.2 .1l1.2 -.4l1.2 .5" stroke="#111" stroke-width="2" fill="none" stroke-linejoin="round"/>
<path d="M10 160.6l1.2 -.7l1.2 0l1.2 0l1.2 .1l1.2 .2l1.2 .3l1.2 -.6l1.2 -.1l1.2 .1l1.2 .6l1.2 -.1l1.2 -.2l1.2 0l1.2 -.3l1.2 .4l1.2 -.1l1.2 .4l1.2 -.6l1.2 .6l1.2 -.2l1.2 -.2l1.2 -.2l1.2 .6l1.2 -.5l1.2 .8l1.2 -.5l1.2 -.2l1.2 -.1l1.2 .4l1.2 -.1l1.2 -.1l1.2 -.2l1.2 0l1.2 .3l1.2 .1l1.2 -.2l1.2 -.4l1.2 0l1.2 -.1l1.2 .3l1.2 .1l1.2 0l1.2 .1l1.2 .4l1.2 -.5l1.2 .5l1.2 -.3l1.2 -.2l1.2 -.1l1.2 -.2l1.2 .7l1.2 -.4l1.2 -.1l1.2 .2l1.2 .4l1.2 -.7l1.2 .1l1.2 .5l1.2 -.3l1.2 -.4l1.2 0l1.2 .4l1.2 -.4l1.2 -.1l1.2 .2l1.2 -.1l1.2 .4l1.2 .3l1.2 -.6l1.2 .6l1.2 -.1l1.2 .2l1.2 -.3l1.2 -.5l1.2 .5l1.2 .1l1.2 -.2l1.2 -.1l1.2 .1l1.2 -.2l1.2 -.2l1.2 .4l1.2 -.4l1.2 .4l1.2 -.1l1.2 .4l1.2 .1l1.2 0l1.2 -.7l1.2 .4l1.2 .3l1.2 -.2l1.2 -.6l1.2 .1l1.2 .4l1.2 -.2l1.2 -.3l1.2 0l1.2 .5l1.2 -.5l1.2 .8l1.2 -.5l1.2 .2l1.2 0l1.2 -.1l1.2 -.3l1.2 .7l1.2 0l1.2 -.1l1.2 -.1l1.2 .2l1.2 -.1l1.2 -.1l1.2 -.4l1.2 .4l1.2 .1l1.2 -.6l1.2 .3l1.2 -.2l1.2 -.1l1.2 0l1.2 .1l1.2 0l1.2 0l1.2 .6l1.2 .1l1.2 -.8l1.2 -.2l1.2 .7l1.2 -.2l1.2 -.2l1.2 .1l1.2 .4l1.2 .3l1.2 -.4l1.2 -.2l1.2 -.3l1.2 .1l1.2 -.1l1.2 .3l1.2 .1l1.2 .2l1.2 -.3l1.2 .4l1.2 -.8l1.2 .6l1.2 -.1l1.2 .3l1.2 -.5l1.2 .3l1.2 -.6l1.2 .6l1.2 -.1l1.2 -.5l1.2 .4l1.2 .4l1.2 -.5l1.2 .2l1.2 .3l1.2 -.8l1.2 -.1l1.2 .4" stroke="#111" stroke-width="2" fill="none" stroke-linejoin="round"/>
<path d="M10 165.8l1.2 .3l1.2 -.5l1.2 .2l1.2 .2l1.2 -.3l1.2 .6l1.2 -1.2l1.2 .3l1.2 .7l1.2 .2l1.2 -.4l1.2 -.5l1.2 .2l1.2 -.1l1.2 .2l1.2 .1l1.2 .3l1.2 -.2l1.2 0l1.2 .4l1.2 -.9l1.2 .6l1.2 .2l1.2 0l1.2 -.3l1.2 -.2l1.2 .2l1.2 0l1.2 0l1.2 0l1.2 -.5l1.2 .5l1.2 .4l1.2 -.5l1.2 .1l1.2 .1l1.2 .2l1.2 .1l1.2 -.2l1.2 -.4l1.2 .3l1.2 -.1l1.2 0l1.2 .2l1.2 -.5l1.2 .1l1.2 .4l1.2 -.2l1.2 0l1.2 -.1l1.2 -.3l1.2 .3l1.2 .4l1.2 -.5l1.2 -.2l1.2 .5l1.2 -.5l1.2 .4l1.2 .2l1.2 -.5l1.2 .5l1.2 -.7l1.2 .7l1.2 0l1.2 -.1l1.2 .3l1.2 -.2l1.2 -.4l1.2 .3l1.2 -.1l1.2 -.3l1.2 -.1l1.2 .7l1.2 -.2l1.2 -.5l1.2 .6l1.2 -.6l1.2 .6l1.2 0l1.2 -.6l1.2 .7l1.2 -.7l1.2 0l1.2 0l1.2 .5l1.2 -.2l1.2 -.4l1.2 .2l1.2 .4l1.2 -.1l1.2 -.4l1.2 .2l1.2 .4l1.2 -.4l1.2 .5l1.2 -.4l1.2 .4l1.2 -.4l1.2 .4l1.2 -.6l1.2 .2l1.2 -.3l1.2 .8l1.2 -.6l1.2 .5l1.2 -.7l1.2 .6l1.2 -.1l1.2 -.1l1.2 -.1l1.2 .4l1.2 0l1.2 .1l1.2 -.1l1.2 0l1.2 .6l1.2 -.7l1.2 0l1.2 0l1.2 -.3l1.2 .3l1.2 -.6l1.2 .1l1.2 .2l1.2 .4l1.2 -.2l1.2 -.5l1.2 .4l1.2 -.1l1.2 0l1.2 0l1.2 .4l1.2 -.3l1.2 -.3l1.2 .2l1.2 .5l1.2 -.7l1.2 -.1l1.2 .6l1.2 -.5l1.2 .2l1.2 .1l1.2 -.4l1.2 .5l1.2 .2l1.2 -.5l1.2 .2l1.2 -.3l1.2 .6l1.2 -.2l1.2 -.2l1.2 -.2l1.2 .5l1.2 -.1l1.2 .1l1.2 -.1l1.2 -.1l1.2 .4l1.2 -.4l1.2 -.4l1.2 .1l1.2 -.2" stroke="#111" stroke-width="2" fill="none" stroke-linejoin="round"/>
<path d="M10 171.8l1.2 -.2l1.2 -.4l1.2 0l1.2 .1l1.2 .2l1.2 .4l1.2 .5l1.2 -1.4l1.2 .3l1.2 0l1.2 .4l1.2 0l1.2 -.7l1.2 .2l1.2 -.2l1.2 .6l1.2 -.1l1.2 .1l1.2 -.4l1.2 .3l1.2 -.3l1.2 .1l1.2 0l1.2 .2l1.2 .1l1.2 0l1.2 -.5l1.2 .3l1.2 .4l1.2 -.6l1.2 .4l1.2 -.4l1.2 .4l1.2 -.3l1.2 .1l1.2 -.4l1.2 .8l1.2 -.6l1.2 -.1l1.2 0l1.2 .1l1.2 .2l1.2 0l1.2 .2l1.2 .2l1.2 -.3l1.2 -.2l1.2 .5l1.2 -.7l1.2 1l1.2 -.9l1.2 .5l1.2 -.3l1.2 -.3l1.2 .3l1.2 -.3l1.2 -.1l1.2 .1l1.2 .3l1.2 .3l1.2 -.2l1.2 -.4l1.2 .6l1.2 .1l1.2 -.5l1.2 0l1.2 .5l1.2 -.3l1.2 -.4l1.2 .6l1.2 -.2l1.2 .3l1.2 -.1l1.2 -.4l1.2 0l1.2 -.3l1.2 .3l1.2 .1l1.2 -.2l1.2 -.2l1.2 0l1.2 .6l1.2 .2l1.2 0l1.2 -.2l1.2 .5l1.2 -.7l1.2 .3l1.2 -.7l1.2 .2l1.2 -.1l1.2 .5l1.2 -.5l1.2 .5l1.2 -.5l1.2 .6l1.2 -.7l1.2 .1l1.2 .6l1.2 -.7l1.2 .4l1.2 -.3l1.2 .6l1.2 .1l1.2 -.6l1.2 .2l1.2 .1l1.2 -.1l1.2 .5l1.2 -.9l1.2 .3l1.2 .7l1.2 -.6l1.2 .2l1.2 .1l1.2 -.1l1.2 -.1l1.2 .2l1.2 -.4l1.2 .4l1.2 -.6l1.2 0l1.2 .5l1.2 .1l1.2 -.2l1.2 .1l1.2 -.1l1.2 .2l1.2 -.6l1.2 .3l1.2 .1l1.2 -.2l1.2 0l1.2 .1l1.2 -.1l1.2 .2l1.2 .2l1.2 .1l1.2 -.4l1.2 -.4l1.2 .7l1.2 -.5l1.2 .5l1.2 -.4l1.2 .4l1.2 0l1.2 -.2l1.2 .1l1.2 -.5l1.2 .5l1.2 .1l1.2 -.3l1.2 .4l1.2 -.7l1.2 .3l1.2 .4l1.2 -.7l1.2 .2l1.2 0l1.2 .4l1.2 -.1l1.2 .2" stroke="#111" stroke-width="2" fill="none" stroke-linejoin="round"/>
<path d="M10 176.8l1.2 -.2l1.2 .5l1.2 -.8l1.2 .8l1.2 -.3l1.2 .6l1.2 -.6l1.2 0l1.2 -.1l1.2 .2l1.2 -.2l1.2 0l1.2 .1l1.2 .4l1.2 -.2l1.2 .2l1.2 -.3l1.2 -.1l1.2 .2l1.2 -.1l1.2 -.2l1.2 .2l1.2 .1l1.2 -.3l1.2 .2l1.2 .4l1.2 -.4l1.2 -.1l1.2 .5l1.2 -.5l1.2 0l1.2 .1l1.2 .4l1.2 0l1.2 -.6l1.2 0l1.2 .3l1.2 .1l1.2 -.3l1.2 .4l1.2 -.6l1.2 .2l1.2 -.1l1.2 .2l1.2 -.1l1.2 -.1l1.2 .7l1.2 -.2l1.2 -.4l1.2 .6l1.2 -.3l1.2 -.4l1.2 .7l1.2 -.7l1.2 .4l1.2 -.4l1.2 -.1l1.2 .2l1.2 .2l1.2 .2l1.2 -.2l1.2 0l1.2 -.3l1.2 .6l1.2 -.5l1.2 .4l1.2 0l1.2 -.3l1.2 .2l1.2 -.4l1.2 .2l1.2 0l1.2 .1l1.2 .3l1.2 -.5l1.2 .5l1.2 -.1l1.2 .1l1.2 -.6l1.2 -.1l1.2 .2l1.2 .2l1.2 .2l1.2 .1l1.2 -.5l1.2 .4l1.2 -.3l1.2 -.2l1.2 .3l1.2 -.1l1.2 .1l1.2 .3l1.2 -.1l1.2 .1l1.2 -.3l1.2 -.2l1.2 .5l1.2 -.7l1.2 1.3l1.2 -.9l1.2 0l1.2 .1l1.2 .3l1.2 -.7l1.2 .4l1.2 .1l1.2 -1l1.2 1.1l1.2 -.3l1.2 -.3l1.2 .7l1.2 -.5l1.2 -.1l1.2 .5l1.2 -.5l1.2 .2l1.2 -.1l1.2 .3l1.2 -.1l1.2 -.1l1.2 -.4l1.2 .6l1.2 .1l1.2 -.4l1.2 .4l1.2 .1l1.2 -.8l1.2 0l1.2 .2l1.2 .2l1.2 .4l1.2 -.3l1.2 -.3l1.2 .1l1.2 .5l1.2 -.1l1.2 -.6l1.2 0l1.2 .7l1.2 0l1.2 -1l1.2 .2l1.2 .2l1.2 .3l1.2 -.3l1.2 .4l1.2 -.2l1.2 -.2l1.2 .2l1.2 -.3l1.2 .6l1.2 0l1.2 -.6l1.2 .5l1.2 -.8l1.2 .5l1.2 -.2l1.2 .2l1.2 -.1l1.2 -.1l1.2 .4l1.2 -.5" stroke="#111" stroke-width="2" fill="none" stroke-linejoin="round"/>
<path d="M9.9 117L9.9 184" stroke="#000" stroke-width="1.9" stroke-linecap="butt" fill="none"/>
<path d="M205.6 126L205.6 184.6" stroke="#000" stroke-width="1.9" stroke-linecap="butt" fill="none"/>
<path d="M5 166.6L10 166.6" stroke="#000" stroke-width="2.4" stroke-linecap="butt" fill="none"/>
<path d="M205.5 166.6L214 166.6" stroke="#000" stroke-width="2.4" stroke-linecap="butt" fill="none"/>
<circle cx="72.4" cy="120" r="6.6" fill="#000" stroke="#000" stroke-width="1.6"/>
<text x="92.6" y="124" font-size="15.5" font-weight="normal" fill="#000" stroke="#000" stroke-width=".3" textLength="66.9" lengthAdjust="spacingAndGlyphs">db- cAMP</text>
<rect x="10" y="209.6" width="196" height="22.5" fill="#8e8e8e"/>
<path d="M10 210.7l1.2 .2l1.2 -.7l1.2 .2l1.2 .6l1.2 -.9l1.2 .1l1.2 .7l1.2 0l1.2 -.3l1.2 .3l1.2 -.7l1.2 -.1l1.2 .5l1.2 .3l1.2 -.3l1.2 -.6l1.2 1l1.2 -.6l1.2 .6l1.2 -.6l1.2 0l1.2 .3l1.2 .1l1.2 -.3l1.2 -.5l1.2 -.2l1.2 .7l1.2 .4l1.2 -.9l1.2 .5l1.2 -.7l1.2 .9l1.2 -.6l1.2 .7l1.2 -.3l1.2 0l1.2 -.7l1.2 .3l1.2 .9l1.2 -1.1l1.2 0l1.2 .4l1.2 -.1l1.2 .2l1.2 -.1l1.2 -.1l1.2 -.2l1.2 .6l1.2 .3l1.2 -.2l1.2 -.5l1.2 .3l1.2 -.1l1.2 .2l1.2 -.3l1.2 .1l1.2 .5l1.2 -.4l1.2 -.4l1.2 .6l1.2 -.1l1.2 -.3l1.2 0l1.2 .5l1.2 -.6l1.2 -.3l1.2 .5l1.2 .2l1.2 -.8l1.2 0l1.2 0l1.2 .8l1.2 .2l1.2 .2l1.2 -.5l1.2 -.4l1.2 -.3l1.2 .4l1.2 -.2l1.2 .5l1.2 -.6l1.2 .4l1.2 0l1.2 .7l1.2 -.1l1.2 -.3l1.2 -.8l1.2 .8l1.2 -.4l1.2 .7l1.2 -1.1l1.2 .4l1.2 .8l1.2 -.4l1.2 -.7l1.2 .9l1.2 0l1.2 -1l1.2 1l1.2 -.4l1.2 .4l1.2 .3l1.2 -.8l1.2 .5l1.2 .2l1.2 -.1l1.2 -1l1.2 .2l1.2 .1l1.2 -.3l1.2 .1l1.2 .4l1.2 0l1.2 -.2l1.2 .5l1.2 .2l1.2 -.1l1.2 -.3l1.2 0l1.2 -.6l1.2 0l1.2 .8l1.2 -.2l1.2 .2l1.2 -.2l1.2 0l1.2 -.4l1.2 .7l1.2 .1l1.2 -.8l1.2 -.2l1.2 .5l1.2 .5l1.2 -.3l1.2 .1l1.2 -.9l1.2 1l1.2 -.9l1.2 .7l1.2 -.8l1.2 0l1.2 .5l1.2 -.5l1.2 .3l1.2 .2l1.2 .5l1.2 -.1l1.2 -.9l1.2 1.1l1.2 -.9l1.2 .9l1.2 -.5l1.2 -.5l1.2 .6l1.2 .1l1.2 -.3l1.2 -.5l1.2 1l1.2 -.9l1.2 .1l1.2 0l1.2 .8l1.2 -.5" stroke="#111" stroke-width="1.3" fill="none" stroke-linejoin="round"/>
<path d="M10 212.2l1.2 .5l1.2 -.4l1.2 .5l1.2 -.7l1.2 .6l1.2 -.2l1.2 .3l1.2 -.3l1.2 -.3l1.2 -.2l1.2 1l1.2 -1l1.2 .6l1.2 -.7l1.2 .7l1.2 -.6l1.2 .2l1.2 .3l1.2 .5l1.2 -.6l1.2 .5l1.2 -.1l1.2 0l1.2 .2l1.2 -.2l1.2 -.2l1.2 -.4l1.2 0l1.2 .3l1.2 .2l1.2 .4l1.2 -.3l1.2 -.1l1.2 .3l1.2 -.7l1.2 .2l1.2 -.5l1.2 0l1.2 .4l1.2 .1l1.2 -.1l1.2 -.5l1.2 1.2l1.2 -.8l1.2 .5l1.2 -.7l1.2 0l1.2 .3l1.2 .6l1.2 -.4l1.2 .1l1.2 .2l1.2 -1l1.2 .6l1.2 -.5l1.2 .3l1.2 -.1l1.2 .1l1.2 .7l1.2 -.8l1.2 .9l1.2 -1l1.2 -.1l1.2 .8l1.2 0l1.2 .2l1.2 -.1l1.2 .1l1.2 -.8l1.2 .3l1.2 -.4l1.2 .5l1.2 -.5l1.2 .4l1.2 -.3l1.2 .6l1.2 -.2l1.2 .4l1.2 -1l1.2 .1l1.2 0l1.2 .5l1.2 -.1l1.2 .3l1.2 -.5l1.2 .7l1.2 .1l1.2 -.7l1.2 -.2l1.2 .8l1.2 -.5l1.2 .5l1.2 -1l1.2 .5l1.2 -.4l1.2 1.2l1.2 -1.3l1.2 .4l1.2 -.2l1.2 0l1.2 -.2l1.2 .4l1.2 -.1l1.2 -.4l1.2 .6l1.2 .1l1.2 -.3l1.2 .4l1.2 -.7l1.2 .2l1.2 .9l1.2 -.2l1.2 -.1l1.2 -.3l1.2 .1l1.2 -.5l1.2 .5l1.2 -.6l1.2 1.1l1.2 -.9l1.2 -.2l1.2 1l1.2 -.2l1.2 -.2l1.2 -.1l1.2 -.3l1.2 -.2l1.2 .2l1.2 .3l1.2 .5l1.2 -.8l1.2 .7l1.2 -.5l1.2 .7l1.2 -1l1.2 .2l1.2 .5l1.2 -.5l1.2 .6l1.2 -.3l1.2 -.4l1.2 .3l1.2 .3l1.2 -.5l1.2 .6l1.2 .1l1.2 -1l1.2 -.1l1.2 .8l1.2 -.3l1.2 -.3l1.2 .7l1.2 -.2l1.2 -.4l1.2 -.3l1.2 .7l1.2 0l1.2 -.1l1.2 -.3l1.2 .8l1.2 -1.1l1.2 .2l1.2 .4" stroke="#111" stroke-width="1.3" fill="none" stroke-linejoin="round"/>
<path d="M10 215.1l1.2 -.6l1.2 .2l1.2 -.2l1.2 .5l1.2 -1l1.2 1.1l1.2 -.9l1.2 .9l1.2 -.3l1.2 -.7l1.2 .9l1.2 -.8l1.2 -.2l1.2 .6l1.2 .1l1.2 -.6l1.2 .1l1.2 0l1.2 -.2l1.2 .8l1.2 .1l1.2 .1l1.2 .1l1.2 -1l1.2 .1l1.2 .4l1.2 0l1.2 .2l1.2 -.3l1.2 0l1.2 -.2l1.2 .3l1.2 -.5l1.2 1l1.2 -.2l1.2 -.8l1.2 .9l1.2 -1l1.2 .7l1.2 .1l1.2 -.6l1.2 -.1l1.2 .9l1.2 -.4l1.2 0l1.2 -.2l1.2 -.4l1.2 1.1l1.2 -.9l1.2 .1l1.2 .5l1.2 .1l1.2 .1l1.2 -.1l1.2 -.6l1.2 .1l1.2 .6l1.2 -.4l1.2 .4l1.2 -.6l1.2 .2l1.2 -.3l1.2 .5l1.2 .3l1.2 0l1.2 -.5l1.2 -.2l1.2 .2l1.2 .3l1.2 -.6l1.2 -.3l1.2 1l1.2 .1l1.2 -.7l1.2 .3l1.2 .3l1.2 -.1l1.2 -.1l1.2 -.7l1.2 1l1.2 -.6l1.2 -.3l1.2 -.1l1.2 .8l1.2 0l1.2 .1l1.2 .1l1.2 -.5l1.2 .3l1.2 -.1l1.2 -.4l1.2 .6l1.2 -.7l1.2 -.2l1.2 .3l1.2 .7l1.2 -.7l1.2 .2l1.2 -.1l1.2 .6l1.2 -.5l1.2 -.5l1.2 .5l1.2 -.1l1.2 .6l1.2 -.1l1.2 -.2l1.2 -.5l1.2 .6l1.2 -.4l1.2 .1l1.2 .5l1.2 -1l1.2 .3l1.2 -.4l1.2 .4l1.2 -.1l1.2 .1l1.2 -.1l1.2 .2l1.2 -.2l1.2 .3l1.2 .2l1.2 -.7l1.2 .1l1.2 0l1.2 .2l1.2 -.1l1.2 -.1l1.2 .6l1.2 -.5l1.2 .5l1.2 -.1l1.2 -.2l1.2 -.1l1.2 0l1.2 -.3l1.2 .9l1.2 -.6l1.2 -.1l1.2 -.2l1.2 .5l1.2 .5l1.2 0l1.2 -1.1l1.2 1.2l1.2 -.5l1.2 -.2l1.2 -.3l1.2 .1l1.2 .7l1.2 0l1.2 -.3l1.2 .3l1.2 -.2l1.2 -.4l1.2 .2l1.2 .4l1.2 -.8l1.2 .7l1.2 -1l1.2 .9l1.2 -.7" stroke="#111" stroke-width="1.3" fill="none" stroke-linejoin="round"/>
<path d="M10 217.2l1.2 -.5l1.2 0l1.2 .4l1.2 -.6l1.2 -.2l1.2 .8l1.2 -.3l1.2 0l1.2 -.5l1.2 -.9l1.2 1.5l1.2 .4l1.2 .3l1.2 -.9l1.2 -.6l1.2 .5l1.2 0l1.2 .2l1.2 .1l1.2 0l1.2 0l1.2 -.5l1.2 .1l1.2 .6l1.2 -.3l1.2 .4l1.2 0l1.2 -.1l1.2 0l1.2 -.5l1.2 .4l1.2 -.3l1.2 -.7l1.2 .2l1.2 0l1.2 .1l1.2 .7l1.2 -.4l1.2 .1l1.2 0l1.2 -.1l1.2 .3l1.2 0l1.2 .1l1.2 -.5l1.2 -.3l1.2 .9l1.2 -.8l1.2 .7l1.2 .1l1.2 -.6l1.2 .4l1.2 -.5l1.2 .1l1.2 -.2l1.2 .6l1.2 0l1.2 -.8l1.2 .3l1.2 .8l1.2 -1.1l1.2 .2l1.2 .4l1.2 -.3l1.2 -.1l1.2 .9l1.2 -.9l1.2 -.1l1.2 .6l1.2 -.1l1.2 .3l1.2 .2l1.2 -.9l1.2 .6l1.2 -.8l1.2 .3l1.2 .7l1.2 -.1l1.2 -.6l1.2 .1l1.2 .2l1.2 -.4l1.2 0l1.2 .8l1.2 -.6l1.2 -.4l1.2 .7l1.2 -.5l1.2 -.2l1.2 .4l1.2 .1l1.2 .4l1.2 .2l1.2 -.9l1.2 .8l1.2 -.4l1.2 -.2l1.2 -.2l1.2 .2l1.2 .3l1.2 -.6l1.2 .5l1.2 -.3l1.2 .2l1.2 .2l1.2 -.4l1.2 -.3l1.2 .6l1.2 -.2l1.2 .1l1.2 -.4l1.2 .2l1.2 0l1.2 -.1l1.2 .2l1.2 .5l1.2 .6l1.2 -.8l1.2 -.1l1.2 .2l1.2 .3l1.2 -1l1.2 .9l1.2 -.2l1.2 .2l1.2 0l1.2 -.1l1.2 -.4l1.2 .4l1.2 .2l1.2 -.2l1.2 -.4l1.2 .1l1.2 -.3l1.2 .7l1.2 -.2l1.2 -.1l1.2 -.7l1.2 1.1l1.2 -.6l1.2 -.2l1.2 -.3l1.2 .9l1.2 -.6l1.2 .1l1.2 .7l1.2 -.3l1.2 -.8l1.2 .1l1.2 .2l1.2 .5l1.2 0l1.2 -.2l1.2 .4l1.2 -.3l1.2 -.3l1.2 0l1.2 .2l1.2 -.3l1.2 -.3l1.2 .5l1.2 .5l1.2 -.1" stroke="#111" stroke-width="1.3" fill="none" stroke-linejoin="round"/>
<path d="M10 218.5l1.2 .9l1.2 -.8l1.2 -.1l1.2 0l1.2 0l1.2 .7l1.2 -.8l1.2 .6l1.2 .2l1.2 -.3l1.2 .2l1.2 -.9l1.2 .3l1.2 .1l1.2 .2l1.2 .4l1.2 -.7l1.2 -.2l1.2 1l1.2 -.7l1.2 .6l1.2 .2l1.2 -1.2l1.2 .1l1.2 .4l1.2 -.4l1.2 .3l1.2 -.3l1.2 .8l1.2 -.9l1.2 1l1.2 -.7l1.2 -.2l1.2 1l1.2 0l1.2 -1.1l1.2 .7l1.2 .1l1.2 -.6l1.2 0l1.2 .5l1.2 0l1.2 .3l1.2 -.4l1.2 0l1.2 0l1.2 0l1.2 -.6l1.2 1l1.2 -.8l1.2 .5l1.2 -.2l1.2 .3l1.2 -.2l1.2 .2l1.2 -.5l1.2 .1l1.2 -.1l1.2 .5l1.2 0l1.2 -.6l1.2 .9l1.2 -.1l1.2 -.7l1.2 .6l1.2 -.5l1.2 .4l1.2 .3l1.2 -.9l1.2 -.2l1.2 .4l1.2 .1l1.2 .2l1.2 -.4l1.2 .7l1.2 -.1l1.2 -.6l1.2 .5l1.2 .3l1.2 -.5l1.2 -.3l1.2 .8l1.2 -.4l1.2 .4l1.2 -.2l1.2 -.7l1.2 -.2l1.2 .1l1.2 .1l1.2 .7l1.2 .2l1.2 -1l1.2 .8l1.2 0l1.2 0l1.2 -.9l1.2 .8l1.2 .1l1.2 -.6l1.2 .7l1.2 -.9l1.2 -.1l1.2 .3l1.2 .5l1.2 -.6l1.2 .5l1.2 -.7l1.2 1l1.2 -.4l1.2 .5l1.2 -.5l1.2 0l1.2 -.1l1.2 -.1l1.2 -.1l1.2 .7l1.2 0l1.2 -.4l1.2 .3l1.2 -.7l1.2 .5l1.2 -.3l1.2 .2l1.2 .4l1.2 -.1l1.2 0l1.2 .3l1.2 -.5l1.2 -.6l1.2 .7l1.2 -.5l1.2 .6l1.2 .2l1.2 0l1.2 -.5l1.2 -.1l1.2 .5l1.2 -.4l1.2 -.5l1.2 1l1.2 -.9l1.2 0l1.2 .6l1.2 -.2l1.2 -.1l1.2 -.5l1.2 0l1.2 .9l1.2 -.6l1.2 -.5l1.2 1l1.2 -.7l1.2 .3l1.2 -.4l1.2 0l1.2 1.1l1.2 -1l1.2 .3l1.2 .4l1.2 -.5l1.2 .3l1.2 0l1.2 -.1" stroke="#111" stroke-width="1.3" fill="none" stroke-linejoin="round"/>
<path d="M10 220.7l1.2 .5l1.2 -.1l1.2 0l1.2 -.7l1.2 .1l1.2 1.4l1.2 -1.5l1.2 1l1.2 -.1l1.2 -.5l1.2 -.5l1.2 .7l1.2 -.6l1.2 .5l1.2 .2l1.2 -.2l1.2 -.3l1.2 .8l1.2 -.6l1.2 0l1.2 -.5l1.2 .2l1.2 .2l1.2 .2l1.2 .4l1.2 -.5l1.2 .1l1.2 .3l1.2 -.2l1.2 -.2l1.2 .6l1.2 -.7l1.2 .7l1.2 -.5l1.2 .3l1.2 0l1.2 -.2l1.2 -.1l1.2 -.1l1.2 -.3l1.2 .2l1.2 .1l1.2 .2l1.2 -.5l1.2 1.3l1.2 -.9l1.2 -.4l1.2 .4l1.2 .5l1.2 -.1l1.2 -.1l1.2 -.4l1.2 -.4l1.2 -.1l1.2 .5l1.2 .6l1.2 -.6l1.2 .4l1.2 -.7l1.2 -.2l1.2 .5l1.2 -.4l1.2 .8l1.2 -.3l1.2 -.3l1.2 -.2l1.2 .9l1.2 -.1l1.2 -.4l1.2 -.4l1.2 .7l1.2 -.7l1.2 -.1l1.2 .9l1.2 .2l1.2 -.9l1.2 0l1.2 .5l1.2 .2l1.2 -.6l1.2 .8l1.2 -.6l1.2 .3l1.2 .2l1.2 .1l1.2 -.4l1.2 .2l1.2 -.8l1.2 -.1l1.2 1.1l1.2 0l1.2 -.3l1.2 -.6l1.2 .6l1.2 -.7l1.2 .2l1.2 .7l1.2 -.2l1.2 -.3l1.2 0l1.2 .4l1.2 -.6l1.2 .3l1.2 .3l1.2 .2l1.2 -.8l1.2 .7l1.2 0l1.2 -.7l1.2 .3l1.2 -.3l1.2 .4l1.2 .1l1.2 -.5l1.2 -.3l1.2 .6l1.2 -.9l1.2 1.4l1.2 -1.1l1.2 .6l1.2 .4l1.2 .1l1.2 -.1l1.2 -.1l1.2 .2l1.2 0l1.2 -.7l1.2 .5l1.2 -.3l1.2 .2l1.2 -.1l1.2 -.3l1.2 .6l1.2 -.4l1.2 .4l1.2 -.7l1.2 .4l1.2 .4l1.2 -.3l1.2 -.8l1.2 .6l1.2 .5l1.2 -1.1l1.2 .4l1.2 -.2l1.2 .1l1.2 .5l1.2 .1l1.2 -.8l1.2 .4l1.2 .6l1.2 -.1l1.2 .4l1.2 -.9l1.2 0l1.2 -.3l1.2 .5l1.2 -.4l1.2 0l1.2 .3l1.2 .5l1.2 -1l1.2 .1" stroke="#111" stroke-width="1.3" fill="none" stroke-linejoin="round"/>
<path d="M10 222.7l1.2 .7l1.2 -1l1.2 .3l1.2 .2l1.2 .3l1.2 .3l1.2 -.4l1.2 0l1.2 .3l1.2 -.9l1.2 .7l1.2 -.8l1.2 0l1.2 .9l1.2 -1l1.2 1.2l1.2 -.7l1.2 .5l1.2 -.5l1.2 .7l1.2 -.6l1.2 .3l1.2 -.3l1.2 -.1l1.2 .5l1.2 -.1l1.2 .1l1.2 .2l1.2 -.6l1.2 .8l1.2 -1l1.2 -.3l1.2 .9l1.2 -.2l1.2 -.7l1.2 .9l1.2 -.3l1.2 -.1l1.2 0l1.2 .3l1.2 .1l1.2 -.2l1.2 .3l1.2 -.1l1.2 -.5l1.2 .4l1.2 .3l1.2 -.1l1.2 .1l1.2 -.3l1.2 -.4l1.2 .6l1.2 -.2l1.2 -.3l1.2 -.1l1.2 .1l1.2 .2l1.2 .3l1.2 -.1l1.2 -.2l1.2 .1l1.2 0l1.2 .1l1.2 -.2l1.2 .3l1.2 -.4l1.2 .3l1.2 -.5l1.2 0l1.2 .5l1.2 -.5l1.2 0l1.2 .6l1.2 .1l1.2 -.5l1.2 -.3l1.2 .7l1.2 -.5l1.2 -.3l1.2 .5l1.2 0l1.2 -.8l1.2 .7l1.2 0l1.2 -.3l1.2 .1l1.2 .4l1.2 -.8l1.2 .6l1.2 .2l1.2 1.1l1.2 -1.2l1.2 .3l1.2 -.1l1.2 -.5l1.2 .5l1.2 .1l1.2 -1.5l1.2 .8l1.2 .8l1.2 -.8l1.2 .4l1.2 0l1.2 -.7l1.2 .8l1.2 -.8l1.2 0l1.2 .8l1.2 -.4l1.2 -.4l1.2 1l1.2 -.2l1.2 -.2l1.2 .1l1.2 -.3l1.2 -.1l1.2 .5l1.2 -.4l1.2 0l1.2 0l1.2 -.2l1.2 .1l1.2 .6l1.2 -.4l1.2 .2l1.2 -.5l1.2 .1l1.2 .7l1.2 -.1l1.2 -.4l1.2 0l1.2 -.5l1.2 .2l1.2 .1l1.2 -.3l1.2 .6l1.2 .2l1.2 -.5l1.2 .4l1.2 .4l1.2 -.6l1.2 -.5l1.2 .9l1.2 -.8l1.2 .4l1.2 -.1l1.2 .6l1.2 -.4l1.2 -.1l1.2 .3l1.2 -.6l1.2 .4l1.2 -.6l1.2 .5l1.2 .5l1.2 -.2l1.2 -.1l1.2 -.7l1.2 .1l1.2 -.6l1.2 .6l1.2 .4l1.2 -.5" stroke="#111" stroke-width="1.3" fill="none" stroke-linejoin="round"/>
<path d="M10 224.7l1.2 -.2l1.2 .4l1.2 .1l1.2 .3l1.2 -.5l1.2 .8l1.2 -.4l1.2 -.2l1.2 -.4l1.2 .9l1.2 -.1l1.2 -.4l1.2 -.1l1.2 -.4l1.2 .1l1.2 .2l1.2 .8l1.2 -.6l1.2 -.1l1.2 .7l1.2 0l1.2 -1.1l1.2 0l1.2 .6l1.2 .3l1.2 .2l1.2 0l1.2 -.7l1.2 .4l1.2 -.8l1.2 .8l1.2 -.8l1.2 .6l1.2 .3l1.2 .2l1.2 -.7l1.2 0l1.2 .6l1.2 -.4l1.2 .2l1.2 .1l1.2 -.2l1.2 -.6l1.2 .6l1.2 -.6l1.2 .2l1.2 0l1.2 .2l1.2 -.2l1.2 .5l1.2 .3l1.2 -.3l1.2 -.8l1.2 .7l1.2 0l1.2 -.3l1.2 .5l1.2 -.4l1.2 .6l1.2 -.4l1.2 .3l1.2 -.9l1.2 .1l1.2 .6l1.2 .2l1.2 -.3l1.2 .2l1.2 0l1.2 -.1l1.2 -.4l1.2 0l1.2 .1l1.2 0l1.2 .3l1.2 .3l1.2 -.4l1.2 -.5l1.2 .4l1.2 -.4l1.2 .7l1.2 -.7l1.2 .8l1.2 -.5l1.2 -.8l1.2 1.2l1.2 -.6l1.2 -.3l1.2 .9l1.2 -.7l1.2 -.2l1.2 .6l1.2 -.1l1.2 .6l1.2 -1.1l1.2 .7l1.2 .3l1.2 -1l1.2 .4l1.2 .2l1.2 -.3l1.2 .5l1.2 0l1.2 -.3l1.2 -.4l1.2 .6l1.2 -.7l1.2 .5l1.2 .4l1.2 -.3l1.2 .2l1.2 -.4l1.2 .4l1.2 -.2l1.2 .5l1.2 -.3l1.2 -.6l1.2 .1l1.2 .3l1.2 .4l1.2 -.6l1.2 .2l1.2 -.2l1.2 -.2l1.2 -.1l1.2 .2l1.2 .3l1.2 -.2l1.2 .2l1.2 -.6l1.2 0l1.2 .9l1.2 -.3l1.2 .1l1.2 .2l1.2 .2l1.2 0l1.2 -.8l1.2 .3l1.2 -.6l1.2 .7l1.2 -.3l1.2 0l1.2 .1l1.2 .5l1.2 -1l1.2 .2l1.2 .2l1.2 -.5l1.2 .7l1.2 -.7l1.2 1.1l1.2 -.8l1.2 .2l1.2 -.1l1.2 .2l1.2 -.1l1.2 .1l1.2 -.2l1.2 -.1l1.2 .4l1.2 -.5l1.2 -.1l1.2 0" stroke="#111" stroke-width="1.3" fill="none" stroke-linejoin="round"/>
<path d="M10 227.2l1.2 .1l1.2 -.4l1.2 -.1l1.2 .4l1.2 -.2l1.2 .3l1.2 .3l1.2 -.7l1.2 .7l1.2 -.1l1.2 -.2l1.2 .1l1.2 -.7l1.2 .7l1.2 .2l1.2 -1l1.2 .2l1.2 .3l1.2 -.5l1.2 .8l1.2 .2l1.2 -.4l1.2 -.7l1.2 .7l1.2 .4l1.2 -.4l1.2 -.2l1.2 -.1l1.2 .4l1.2 -.7l1.2 0l1.2 .3l1.2 .2l1.2 -.5l1.2 .7l1.2 -.4l1.2 .7l1.2 -.5l1.2 -.2l1.2 .1l1.2 .3l1.2 0l1.2 -.6l1.2 .8l1.2 -.3l1.2 0l1.2 -.3l1.2 .5l1.2 -.5l1.2 .1l1.2 0l1.2 -.3l1.2 .1l1.2 .2l1.2 .2l1.2 0l1.2 .2l1.2 -.2l1.2 -.5l1.2 .6l1.2 -.4l1.2 .3l1.2 .5l1.2 -.4l1.2 .1l1.2 .3l1.2 -.4l1.2 -.2l1.2 .5l1.2 -.4l1.2 .1l1.2 -.5l1.2 .1l1.2 .7l1.2 -.3l1.2 -.2l1.2 -.5l1.2 -.1l1.2 .1l1.2 .5l1.2 -.3l1.2 .5l1.2 -.7l1.2 0l1.2 .8l1.2 -.5l1.2 .6l1.2 -1l1.2 1l1.2 -.3l1.2 .3l1.2 -.6l1.2 .2l1.2 .2l1.2 -.2l1.2 .3l1.2 -.3l1.2 .1l1.2 -.7l1.2 .2l1.2 .4l1.2 -.4l1.2 .7l1.2 -.7l1.2 .3l1.2 .4l1.2 .3l1.2 -.6l1.2 -.4l1.2 .2l1.2 -.2l1.2 .5l1.2 -.2l1.2 .4l1.2 -.1l1.2 -.7l1.2 0l1.2 .6l1.2 .3l1.2 0l1.2 -.6l1.2 .5l1.2 -.1l1.2 -.2l1.2 -.1l1.2 .7l1.2 -.1l1.2 -.6l1.2 .1l1.2 -.1l1.2 -.2l1.2 0l1.2 .7l1.2 -.1l1.2 -.4l1.2 -.2l1.2 .8l1.2 -1l1.2 .8l1.2 .3l1.2 -.4l1.2 -.3l1.2 0l1.2 -.1l1.2 .3l1.2 .1l1.2 -.3l1.2 .5l1.2 -.4l1.2 -.2l1.2 .8l1.2 -.5l1.2 -.3l1.2 .1l1.2 .2l1.2 0l1.2 -.2l1.2 0l1.2 -.5l1.2 .6l1.2 .3l1.2 -.7l1.2 -.1" stroke="#111" stroke-width="1.3" fill="none" stroke-linejoin="round"/>
<path d="M10 229.2l1.2 .4l1.2 -.6l1.2 .5l1.2 0l1.2 0l1.2 0l1.2 -.2l1.2 .4l1.2 -.4l1.2 -.6l1.2 1l1.2 -.2l1.2 0l1.2 -.2l1.2 -.7l1.2 .6l1.2 -.2l1.2 .5l1.2 -.8l1.2 .7l1.2 .1l1.2 -.4l1.2 -.3l1.2 .6l1.2 0l1.2 .4l1.2 -.1l1.2 -.8l1.2 .4l1.2 .1l1.2 0l1.2 .4l1.2 -.7l1.2 .7l1.2 -1l1.2 .4l1.2 -.3l1.2 -.3l1.2 .5l1.2 -.2l1.2 .7l1.2 -.6l1.2 .7l1.2 -.4l1.2 -.2l1.2 .5l1.2 .1l1.2 -1l1.2 .7l1.2 -.3l1.2 -.2l1.2 .2l1.2 .4l1.2 .1l1.2 -.5l1.2 -.2l1.2 .5l1.2 -.1l1.2 -.4l1.2 .6l1.2 -.7l1.2 0l1.2 0l1.2 1.6l1.2 -.9l1.2 -.4l1.2 -.4l1.2 1l1.2 0l1.2 0l1.2 -.6l1.2 -.1l1.2 -.4l1.2 .7l1.2 -.4l1.2 -.1l1.2 .9l1.2 -.9l1.2 .2l1.2 .5l1.2 -.6l1.2 .6l1.2 -.5l1.2 -.1l1.2 .4l1.2 0l1.2 -.6l1.2 .4l1.2 .2l1.2 .1l1.2 -.1l1.2 -.6l1.2 1l1.2 -.1l1.2 -.5l1.2 .1l1.2 .4l1.2 -.4l1.2 -.3l1.2 .4l1.2 0l1.2 -.5l1.2 .5l1.2 -.1l1.2 -.3l1.2 -.2l1.2 .6l1.2 0l1.2 -.4l1.2 .4l1.2 -.2l1.2 .6l1.2 -.3l1.2 -.4l1.2 -.1l1.2 -.1l1.2 .6l1.2 -.6l1.2 .2l1.2 -.5l1.2 1.1l1.2 -.9l1.2 .4l1.2 -.1l1.2 -.3l1.2 0l1.2 1.1l1.2 -.1l1.2 .1l1.2 -.9l1.2 .8l1.2 -.6l1.2 .2l1.2 -.2l1.2 -.3l1.2 .9l1.2 0l1.2 -.4l1.2 -.7l1.2 1l1.2 .2l1.2 -.1l1.2 -.6l1.2 .5l1.2 -.6l1.2 -.2l1.2 0l1.2 .2l1.2 .7l1.2 -1l1.2 -.1l1.2 0l1.2 .8l1.2 -.5l1.2 .9l1.2 -.1l1.2 -.6l1.2 0l1.2 -.3l1.2 .4l1.2 .6l1.2 -1.2l1.2 1.1" stroke="#111" stroke-width="1.3" fill="none" stroke-linejoin="round"/>
<path d="M10 231.3l1.2 .4l1.2 -.3l1.2 .5l1.2 -.8l1.2 .5l1.2 -.1l1.2 .1l1.2 -.6l1.2 .4l1.2 -.4l1.2 .1l1.2 .8l1.2 -.5l1.2 0l1.2 -.1l1.2 -.2l1.2 -.1l1.2 0l1.2 .2l1.2 -.4l1.2 .4l1.2 0l1.2 .3l1.2 -.1l1.2 .2l1.2 .3l1.2 -1.1l1.2 1l1.2 -.6l1.2 .3l1.2 .4l1.2 -1.1l1.2 -.1l1.2 .7l1.2 -.6l1.2 1l1.2 -.6l1.2 -.4l1.2 .6l1.2 -.1l1.2 -.6l1.2 .5l1.2 .4l1.2 -.4l1.2 .3l1.2 .3l1.2 -.4l1.2 -.1l1.2 .2l1.2 .4l1.2 -.6l1.2 .4l1.2 -.6l1.2 .1l1.2 0l1.2 .1l1.2 -.5l1.2 .8l1.2 -.7l1.2 .6l1.2 -.1l1.2 -.6l1.2 .5l1.2 .2l1.2 -.5l1.2 .5l1.2 -.3l1.2 -.2l1.2 .6l1.2 .2l1.2 -1.1l1.2 1.1l1.2 -1l1.2 .4l1.2 -.5l1.2 .6l1.2 -.6l1.2 1.1l1.2 -.1l1.2 -.2l1.2 -.4l1.2 .1l1.2 -.4l1.2 .7l1.2 -.2l1.2 -.4l1.2 .1l1.2 .7l1.2 -.5l1.2 -.1l1.2 .7l1.2 .1l1.2 -.6l1.2 .5l1.2 0l1.2 -.8l1.2 .5l1.2 -.5l1.2 -.2l1.2 1.1l1.2 -.6l1.2 .2l1.2 -.2l1.2 -.3l1.2 .1l1.2 -.1l1.2 .7l1.2 .1l1.2 -.9l1.2 .8l1.2 -.7l1.2 -.1l1.2 .7l1.2 -.4l1.2 .1l1.2 -.5l1.2 .8l1.2 0l1.2 -.1l1.2 1.2l1.2 -1.5l1.2 .4l1.2 -.2l1.2 .2l1.2 -.4l1.2 .5l1.2 -.6l1.2 -.2l1.2 .5l1.2 0l1.2 .1l1.2 -.1l1.2 -.4l1.2 .7l1.2 .2l1.2 -.6l1.2 .2l1.2 .3l1.2 -.6l1.2 -.4l1.2 .4l1.2 -.4l1.2 1l1.2 -.2l1.2 -.1l1.2 -.5l1.2 .4l1.2 -.1l1.2 .5l1.2 -.7l1.2 -.2l1.2 .9l1.2 -.1l1.2 -.4l1.2 .4l1.2 -.5l1.2 -.2l1.2 .5l1.2 -.7l1.2 .4l1.2 0l1.2 .7l1.2 -.6" stroke="#111" stroke-width="1.3" fill="none" stroke-linejoin="round"/>
<path d="M40.7 215.8l2.5 -.1l2.5 0l2.5 .1l2.5 -.2l2.5 -.2" stroke="#dcdcdc" stroke-width=".6" fill="none" stroke-linejoin="round"/>
<path d="M163.7 223.3l2.5 -.4l2.5 .2" stroke="#dcdcdc" stroke-width=".6" fill="none" stroke-linejoin="round"/>
<path d="M147.7 218.2l2.5 -.2l2.5 .2l2.5 .1l2.5 0l2.5 .1" stroke="#dcdcdc" stroke-width=".6" fill="none" stroke-linejoin="round"/>
<path d="M52.2 229.7l2.5 -.1" stroke="#dcdcdc" stroke-width=".6" fill="none" stroke-linejoin="round"/>
<path d="M57.7 218.1l2.5 -.2l2.5 -.3l2.5 .3l2.5 .2l2.5 -.4l2.5 .3l2.5 0" stroke="#dcdcdc" stroke-width=".6" fill="none" stroke-linejoin="round"/>
<path d="M22.1 224.8l2.5 -.3l2.5 .2" stroke="#dcdcdc" stroke-width=".6" fill="none" stroke-linejoin="round"/>
<path d="M84.5 224.4l2.5 0l2.5 0l2.5 .1l2.5 .2" stroke="#dcdcdc" stroke-width=".6" fill="none" stroke-linejoin="round"/>
<path d="M191.2 214.6l2.5 0l2.5 -.5l2.5 .4l2.5 .2l2.5 -.1" stroke="#dcdcdc" stroke-width=".6" fill="none" stroke-linejoin="round"/>
<path d="M182.7 218l2.5 -.2" stroke="#dcdcdc" stroke-width=".6" fill="none" stroke-linejoin="round"/>
<path d="M131.7 212.7l2.5 .3l2.5 -.5l2.5 .6l2.5 -.4l2.5 .4l2.5 -.3l2.5 -.3" stroke="#dcdcdc" stroke-width=".6" fill="none" stroke-linejoin="round"/>
<path d="M131.2 218.1l2.5 .1l2.5 -.1" stroke="#dcdcdc" stroke-width=".6" fill="none" stroke-linejoin="round"/>
<path d="M120.8 216.7l2.5 0l2.5 -.1l2.5 -.1l2.5 .1l2.5 0l2.5 0" stroke="#dcdcdc" stroke-width=".6" fill="none" stroke-linejoin="round"/>
<path d="M170.8 225.9l2.5 -.1l2.5 .1l2.5 -.2l2.5 .1l2.5 0l2.5 .1l2.5 -.4l2.5 .7" stroke="#dcdcdc" stroke-width=".6" fill="none" stroke-linejoin="round"/>
<path d="M137.9 219.1l2.5 0" stroke="#dcdcdc" stroke-width=".6" fill="none" stroke-linejoin="round"/>
<path d="M125.5 222.3l2.5 .2l2.5 0" stroke="#dcdcdc" stroke-width=".6" fill="none" stroke-linejoin="round"/>
<path d="M107.7 219.2l2.5 -.1" stroke="#dcdcdc" stroke-width=".6" fill="none" stroke-linejoin="round"/>
<path d="M191.1 214.7l2.5 -.1l2.5 -.3l2.5 0l2.5 .2l2.5 -.1" stroke="#dcdcdc" stroke-width=".6" fill="none" stroke-linejoin="round"/>
<path d="M147.5 228.4l2.5 -.1l2.5 0l2.5 -.1l2.5 .2" stroke="#dcdcdc" stroke-width=".6" fill="none" stroke-linejoin="round"/>
<path d="M166 228.6l2.5 -.3l2.5 .1l2.5 .2" stroke="#dcdcdc" stroke-width=".6" fill="none" stroke-linejoin="round"/>
<path d="M92.3 215.9l2.5 .1l2.5 -.2l2.5 .2l2.5 .4l2.5 -.6l2.5 0" stroke="#dcdcdc" stroke-width=".6" fill="none" stroke-linejoin="round"/>
<path d="M193.6 230.1l2.5 -.5l2.5 .1l2.5 0l2.5 .2" stroke="#dcdcdc" stroke-width=".6" fill="none" stroke-linejoin="round"/>
<path d="M103.8 214.9l2.5 0l2.5 -.2l2.5 .2l2.5 -.1l2.5 .3l2.5 -.3l2.5 .2" stroke="#dcdcdc" stroke-width=".6" fill="none" stroke-linejoin="round"/>
<path d="M155.6 211.6l2.5 0l2.5 .4l2.5 -.1l2.5 -.2" stroke="#dcdcdc" stroke-width=".6" fill="none" stroke-linejoin="round"/>
<path d="M76.3 211.3l2.5 .3l2.5 .1" stroke="#dcdcdc" stroke-width=".6" fill="none" stroke-linejoin="round"/>
<path d="M31 214.6l2.5 -.1l2.5 .2l2.5 0l2.5 .1l2.5 0" stroke="#dcdcdc" stroke-width=".6" fill="none" stroke-linejoin="round"/>
<path d="M13.8 213.9l2.5 0l2.5 0l2.5 .4l2.5 -.1l2.5 .1" stroke="#dcdcdc" stroke-width=".6" fill="none" stroke-linejoin="round"/>
<path d="M144.3 212.9l2.5 0l2.5 .2" stroke="#dcdcdc" stroke-width=".6" fill="none" stroke-linejoin="round"/>
<path d="M96.7 212.5l2.5 .2l2.5 .1l2.5 -.1l2.5 -.4l2.5 .3l2.5 .1l2.5 -.3l2.5 .2" stroke="#dcdcdc" stroke-width=".6" fill="none" stroke-linejoin="round"/>
<path d="M63.8 220.7l2.5 0l2.5 .2l2.5 0l2.5 -.2" stroke="#dcdcdc" stroke-width=".6" fill="none" stroke-linejoin="round"/>
<path d="M131.3 225l2.5 .5" stroke="#dcdcdc" stroke-width=".6" fill="none" stroke-linejoin="round"/>
<path d="M95 215.5l2.5 -.3l2.5 .3l2.5 .1l2.5 -.4l2.5 0l2.5 -.1l2.5 0" stroke="#dcdcdc" stroke-width=".6" fill="none" stroke-linejoin="round"/>
<path d="M173.5 230l2.5 0l2.5 -.2l2.5 .1l2.5 .2" stroke="#dcdcdc" stroke-width=".6" fill="none" stroke-linejoin="round"/>
<path d="M154 228.3l2.5 -.2l2.5 .3l2.5 -.1l2.5 .1" stroke="#dcdcdc" stroke-width=".6" fill="none" stroke-linejoin="round"/>
<path d="M179 223.9l2.5 0l2.5 -.3l2.5 .5l2.5 -.6l2.5 .1l2.5 0l2.5 0" stroke="#dcdcdc" stroke-width=".6" fill="none" stroke-linejoin="round"/>
<path d="M35.6 229.4l2.5 -.2l2.5 .1l2.5 .1l2.5 -.2l2.5 .4" stroke="#dcdcdc" stroke-width=".6" fill="none" stroke-linejoin="round"/>
<path d="M23.3 225.2l2.5 .3l2.5 -.3l2.5 .1l2.5 -.2l2.5 0l2.5 0" stroke="#dcdcdc" stroke-width=".6" fill="none" stroke-linejoin="round"/>
<path d="M162.3 216.8l2.5 -.4l2.5 .5l2.5 -.4l2.5 0l2.5 .1l2.5 .4" stroke="#dcdcdc" stroke-width=".6" fill="none" stroke-linejoin="round"/>
<path d="M69.8 226.2l2.5 -.1" stroke="#dcdcdc" stroke-width=".6" fill="none" stroke-linejoin="round"/>
<path d="M132.5 229.4l2.5 -.4" stroke="#dcdcdc" stroke-width=".6" fill="none" stroke-linejoin="round"/>
<path d="M131.7 222.4l2.5 -.1" stroke="#dcdcdc" stroke-width=".6" fill="none" stroke-linejoin="round"/>
<path d="M9.9 206.4L9.9 237" stroke="#000" stroke-width="1.9" stroke-linecap="butt" fill="none"/>
<path d="M206 209L206 245" stroke="#000" stroke-width="1.9" stroke-linecap="butt" fill="none"/>
<path d="M5 227L10 227" stroke="#000" stroke-width="2.4" stroke-linecap="butt" fill="none"/>
<path d="M206 227L216 227" stroke="#000" stroke-width="2.4" stroke-linecap="butt" fill="none"/>
<path d="M41 192.8L49 207.8L33 207.8Z" fill="#000" stroke="#000" stroke-width="1" stroke-linejoin="round"/>
<text x="59.6" y="206" font-size="15.5" font-weight="normal" fill="#000" stroke="#000" stroke-width=".3" textLength="109.9" lengthAdjust="spacingAndGlyphs">db- cAMP + DPC</text>
<rect x="9.5" y="271.2" width="196" height="27.9" fill="#d6d6d6"/>
<path d="M9.5 271.5l1.2 .1l1.2 .3l1.2 .6l1.2 -.8l1.2 .6l1.2 .2l1.2 -.4l1.2 .1l1.2 -.3l1.2 .5l1.2 -.8l1.2 .7l1.2 -.1l1.2 -.5l1.2 -.2l1.2 .6l1.2 .2l1.2 -.4l1.2 -.2l1.2 .2l1.2 -.3l1.2 .8l1.2 0l1.2 -.1l1.2 -.2l1.2 -.5l1.2 -.1l1.2 .4l1.2 .2l1.2 -.4l1.2 .7l1.2 -.3l1.2 -.6l1.2 -.7l1.2 1.5l1.2 .1l1.2 -.9l1.2 .4l1.2 .3l1.2 -.4l1.2 -.2l1.2 .4l1.2 0l1.2 0l1.2 -.3l1.2 .2l1.2 -.3l1.2 .7l1.2 -.5l1.2 .5l1.2 -.5l1.2 .1l1.2 .2l1.2 -.1l1.2 -.2l1.2 -.2l1.2 0l1.2 .5l1.2 -.2l1.2 -.2l1.2 .2l1.2 .4l1.2 .2l1.2 -.6l1.2 0l1.2 .1l1.2 -.3l1.2 .1l1.2 0l1.2 .5l1.2 -.1l1.2 -.6l1.2 .8l1.2 -.3l1.2 -.5l1.2 .3l1.2 0l1.2 .3l1.2 .3l1.2 -.8l1.2 .1l1.2 .7l1.2 -.5l1.2 .5l1.2 -.2l1.2 -.6l1.2 .3l1.2 .1l1.2 -.4l1.2 .3l1.2 -.1l1.2 -.3l1.2 .6l1.2 0l1.2 -.2l1.2 .5l1.2 -.5l1.2 -.1l1.2 0l1.2 -.3l1.2 .1l1.2 .1l1.2 .4l1.2 .2l1.2 0l1.2 -.1l1.2 -.6l1.2 .5l1.2 -.2l1.2 .5l1.2 0l1.2 -.7l1.2 .6l1.2 -.5l1.2 .6l1.2 -.9l1.2 .2l1.2 .1l1.2 -.4l1.2 .5l1.2 0l1.2 .2l1.2 .2l1.2 -.9l1.2 .6l1.2 -.3l1.2 .5l1.2 -.3l1.2 .1l1.2 .1l1.2 -.7l1.2 .3l1.2 0l1.2 .1l1.2 .1l1.2 -.5l1.2 .4l1.2 -.4l1.2 .9l1.2 .1l1.2 0l1.2 -.6l1.2 -.3l1.2 .6l1.2 -.6l1.2 .9l1.2 0l1.2 -.8l1.2 .5l1.2 -.5l1.2 -.1l1.2 .1l1.2 0l1.2 0l1.2 .2l1.2 -.4l1.2 0l1.2 0l1.2 .9l1.2 -.6l1.2 .1l1.2 -.4l1.2 .1" stroke="#111" stroke-width="1.6" fill="none" stroke-linejoin="round"/>
<path d="M9.5 274.4l1.2 .4l1.2 -.2l1.2 0l1.2 .3l1.2 -.6l1.2 .5l1.2 -.4l1.2 -.1l1.2 .3l1.2 .4l1.2 -.7l1.2 0l1.2 .8l1.2 -.6l1.2 .5l1.2 -.1l1.2 0l1.2 -.2l1.2 .4l1.2 0l1.2 -.8l1.2 .9l1.2 -.7l1.2 .5l1.2 .1l1.2 -.8l1.2 .8l1.2 -.1l1.2 -.4l1.2 .1l1.2 .3l1.2 -.2l1.2 -.2l1.2 .4l1.2 .2l1.2 -.4l1.2 .2l1.2 -.4l1.2 .4l1.2 -.9l1.2 .1l1.2 .7l1.2 -.7l1.2 .6l1.2 -.4l1.2 -.1l1.2 .2l1.2 .2l1.2 -.3l1.2 .6l1.2 -.8l1.2 0l1.2 .3l1.2 .6l1.2 -.9l1.2 0l1.2 .5l1.2 -.4l1.2 .8l1.2 -.4l1.2 -.3l1.2 -.3l1.2 1l1.2 -.5l1.2 -.3l1.2 .5l1.2 -.4l1.2 .7l1.2 -.6l1.2 .5l1.2 .1l1.2 0l1.2 -.3l1.2 -.6l1.2 .9l1.2 -.7l1.2 .8l1.2 -.7l1.2 -1.1l1.2 1l1.2 .6l1.2 0l1.2 -.5l1.2 -.4l1.2 1l1.2 0l1.2 -.5l1.2 -.4l1.2 .1l1.2 .6l1.2 .3l1.2 -.3l1.2 -.6l1.2 .9l1.2 -1l1.2 .6l1.2 -.2l1.2 -.4l1.2 .5l1.2 -.6l1.2 .1l1.2 .1l1.2 .8l1.2 -.3l1.2 -.5l1.2 .8l1.2 -.1l1.2 -.7l1.2 .7l1.2 -.7l1.2 0l1.2 .7l1.2 -.7l1.2 .4l1.2 -.1l1.2 .2l1.2 .3l1.2 -.8l1.2 .4l1.2 -.5l1.2 0l1.2 0l1.2 .3l1.2 .6l1.2 -.4l1.2 -.2l1.2 -.4l1.2 .8l1.2 -.1l1.2 -.3l1.2 -.2l1.2 .4l1.2 0l1.2 -.3l1.2 .2l1.2 .5l1.2 -.5l1.2 .5l1.2 -.6l1.2 -.5l1.2 .6l1.2 -.2l1.2 0l1.2 -.2l1.2 .1l1.2 .6l1.2 -.1l1.2 0l1.2 0l1.2 .2l1.2 -.4l1.2 -.5l1.2 .4l1.2 .5l1.2 -1.2l1.2 1.3l1.2 -.6l1.2 .6l1.2 -.1l1.2 -.4l1.2 .1l1.2 0l1.2 -.3" stroke="#111" stroke-width="1.6" fill="none" stroke-linejoin="round"/>
<path d="M9.5 276.7l1.2 .7l1.2 .2l1.2 .1l1.2 -.4l1.2 .1l1.2 .3l1.2 0l1.2 -.2l1.2 -.1l1.2 .4l1.2 -.7l1.2 -.3l1.2 .6l1.2 -.6l1.2 0l1.2 .5l1.2 .4l1.2 -.3l1.2 -.5l1.2 -.2l1.2 .6l1.2 .2l1.2 -.6l1.2 .6l1.2 -.6l1.2 .2l1.2 .5l1.2 -.5l1.2 .7l1.2 -.1l1.2 -.7l1.2 -.1l1.2 .8l1.2 -.6l1.2 .6l1.2 -.3l1.2 .4l1.2 -.6l1.2 -.2l1.2 .3l1.2 -.1l1.2 .1l1.2 -.4l1.2 .4l1.2 -.4l1.2 .3l1.2 -.3l1.2 .4l1.2 -.2l1.2 .6l1.2 -.6l1.2 0l1.2 .1l1.2 -.1l1.2 .3l1.2 -.6l1.2 .6l1.2 -.4l1.2 .5l1.2 -.2l1.2 .1l1.2 -.7l1.2 .9l1.2 .1l1.2 -.5l1.2 .3l1.2 -.4l1.2 .3l1.2 .2l1.2 -.7l1.2 0l1.2 .8l1.2 -.7l1.2 .6l1.2 -.2l1.2 .3l1.2 -.3l1.2 .3l1.2 -.2l1.2 -.7l1.2 .2l1.2 0l1.2 .1l1.2 .2l1.2 .5l1.2 -1l1.2 0l1.2 .5l1.2 .2l1.2 .1l1.2 -.6l1.2 -.3l1.2 0l1.2 .6l1.2 .5l1.2 .3l1.2 -.5l1.2 .1l1.2 -.4l1.2 -.4l1.2 .4l1.2 -.4l1.2 -.1l1.2 .6l1.2 -.1l1.2 .4l1.2 0l1.2 .1l1.2 -.3l1.2 .3l1.2 -1l1.2 0l1.2 .9l1.2 -.6l1.2 -.4l1.2 .4l1.2 .6l1.2 .1l1.2 -.4l1.2 -.2l1.2 .1l1.2 -.1l1.2 -.5l1.2 .2l1.2 -.1l1.2 1l1.2 -.2l1.2 0l1.2 .1l1.2 -.7l1.2 0l1.2 .5l1.2 .3l1.2 -.7l1.2 .3l1.2 .3l1.2 .1l1.2 -.9l1.2 .2l1.2 -.3l1.2 .9l1.2 -.9l1.2 .4l1.2 -.2l1.2 .2l1.2 -.4l1.2 .6l1.2 -.1l1.2 .4l1.2 -.4l1.2 -.1l1.2 -.1l1.2 .4l1.2 -.1l1.2 -.3l1.2 .1l1.2 -.1l1.2 .3l1.2 -.5l1.2 .4l1.2 .1l1.2 -.7l1.2 .6" stroke="#111" stroke-width="1.6" fill="none" stroke-linejoin="round"/>
<path d="M9.5 280.4l1.2 -.3l1.2 .1l1.2 .1l1.2 -.5l1.2 .1l1.2 -.4l1.2 .5l1.2 -.4l1.2 .3l1.2 -.2l1.2 -.1l1.2 .8l1.2 -.7l1.2 .7l1.2 -1l1.2 .5l1.2 -.1l1.2 -.5l1.2 .3l1.2 0l1.2 .1l1.2 .4l1.2 -.1l1.2 -.4l1.2 -.1l1.2 .2l1.2 -.4l1.2 .6l1.2 .2l1.2 .1l1.2 .1l1.2 -.9l1.2 .2l1.2 .1l1.2 .1l1.2 .4l1.2 -.8l1.2 .3l1.2 -.2l1.2 .9l1.2 -.3l1.2 -.5l1.2 .1l1.2 .5l1.2 -.4l1.2 -.4l1.2 .6l1.2 -.4l1.2 .7l1.2 -.9l1.2 .2l1.2 .4l1.2 .3l1.2 -.6l1.2 .2l1.2 -.5l1.2 .1l1.2 0l1.2 .4l1.2 .4l1.2 -.2l1.2 0l1.2 -.2l1.2 -.1l1.2 .5l1.2 -.2l1.2 -.4l1.2 -.1l1.2 .6l1.2 .1l1.2 -.6l1.2 .2l1.2 .4l1.2 -.4l1.2 .2l1.2 -.3l1.2 .4l1.2 .2l1.2 -.2l1.2 -.5l1.2 .3l1.2 -.5l1.2 .9l1.2 -.5l1.2 -.2l1.2 -.1l1.2 .7l1.2 -.4l1.2 -.5l1.2 .6l1.2 -.6l1.2 0l1.2 .2l1.2 .4l1.2 -.2l1.2 -.3l1.2 -.1l1.2 1l1.2 -.6l1.2 -.3l1.2 .6l1.2 -.3l1.2 1l1.2 -1.4l1.2 .2l1.2 .5l1.2 .2l1.2 -.2l1.2 -.6l1.2 1.2l1.2 -.8l1.2 0l1.2 .4l1.2 -.2l1.2 -.7l1.2 .9l1.2 .1l1.2 0l1.2 -.3l1.2 -.1l1.2 -.4l1.2 .4l1.2 -.4l1.2 .5l1.2 -.5l1.2 .4l1.2 .3l1.2 -.2l1.2 .2l1.2 -.9l1.2 .1l1.2 .7l1.2 -.1l1.2 .3l1.2 -.8l1.2 0l1.2 .7l1.2 -.6l1.2 0l1.2 .2l1.2 .4l1.2 -.1l1.2 -.6l1.2 .6l1.2 .2l1.2 -.8l1.2 .1l1.2 .5l1.2 -.1l1.2 -.7l1.2 .9l1.2 0l1.2 0l1.2 -.7l1.2 .1l1.2 .6l1.2 -.6l1.2 .4l1.2 -.5l1.2 -.2l1.2 .9l1.2 .1l1.2 -.2" stroke="#111" stroke-width="1.6" fill="none" stroke-linejoin="round"/>
<path d="M9.5 282.6l1.2 .4l1.2 -.6l1.2 .2l1.2 .3l1.2 -.2l1.2 -.1l1.2 0l1.2 .1l1.2 -.6l1.2 .8l1.2 -.9l1.2 .4l1.2 0l1.2 -.3l1.2 .4l1.2 .3l1.2 -.7l1.2 .5l1.2 .1l1.2 -.3l1.2 .2l1.2 -.5l1.2 .8l1.2 0l1.2 -.3l1.2 -.3l1.2 0l1.2 -.4l1.2 .3l1.2 .6l1.2 -.7l1.2 .1l1.2 .4l1.2 .2l1.2 0l1.2 -.8l1.2 .3l1.2 .2l1.2 .1l1.2 .3l1.2 -.8l1.2 .1l1.2 .6l1.2 -.7l1.2 .9l1.2 -.8l1.2 0l1.2 .5l1.2 -.6l1.2 .9l1.2 -.2l1.2 -1.6l1.2 1.6l1.2 -.8l1.2 0l1.2 .3l1.2 .6l1.2 -.2l1.2 0l1.2 -.5l1.2 .1l1.2 .4l1.2 -.1l1.2 .1l1.2 -.1l1.2 .3l1.2 -.3l1.2 .4l1.2 -.8l1.2 .4l1.2 -.6l1.2 .5l1.2 .4l1.2 -.8l1.2 .9l1.2 -.4l1.2 .1l1.2 -.5l1.2 .2l1.2 .5l1.2 -.6l1.2 -.2l1.2 -.1l1.2 .6l1.2 0l1.2 -.4l1.2 .2l1.2 .6l1.2 -.2l1.2 -.3l1.2 -.3l1.2 .2l1.2 .6l1.2 -.7l1.2 .1l1.2 .2l1.2 0l1.2 -.2l1.2 .1l1.2 -.3l1.2 -.2l1.2 .7l1.2 -.2l1.2 -.1l1.2 -.4l1.2 1l1.2 -.7l1.2 .7l1.2 -.6l1.2 .5l1.2 -.2l1.2 -.3l1.2 0l1.2 .1l1.2 -.4l1.2 -.1l1.2 .9l1.2 -.4l1.2 -.1l1.2 -.3l1.2 .8l1.2 -.1l1.2 -.1l1.2 0l1.2 -.2l1.2 .2l1.2 -.5l1.2 .9l1.2 -.4l1.2 -.7l1.2 .3l1.2 -.2l1.2 .6l1.2 .4l1.2 -.9l1.2 .4l1.2 0l1.2 -.4l1.2 .7l1.2 -.2l1.2 -.5l1.2 .7l1.2 -.9l1.2 .9l1.2 -.5l1.2 .1l1.2 .1l1.2 -.1l1.2 .2l1.2 -.1l1.2 -.6l1.2 0l1.2 .9l1.2 -.7l1.2 .2l1.2 -.3l1.2 0l1.2 .2l1.2 -.2l1.2 .3l1.2 -.4l1.2 .7l1.2 .3" stroke="#111" stroke-width="1.6" fill="none" stroke-linejoin="round"/>
<path d="M9.5 285.1l1.2 .2l1.2 -.6l1.2 .9l1.2 -.7l1.2 .4l1.2 .3l1.2 -.1l1.2 0l1.2 -.5l1.2 -.4l1.2 .5l1.2 .4l1.2 -.1l1.2 -.6l1.2 .1l1.2 .7l1.2 -.2l1.2 -.6l1.2 .4l1.2 -.1l1.2 -.1l1.2 -.2l1.2 .4l1.2 .8l1.2 -1l1.2 .3l1.2 -.3l1.2 .3l1.2 0l1.2 -.3l1.2 .3l1.2 -.6l1.2 .4l1.2 .1l1.2 -.3l1.2 .5l1.2 -.1l1.2 0l1.2 -.4l1.2 .1l1.2 -.2l1.2 .4l1.2 .7l1.2 -.6l1.2 -.7l1.2 .1l1.2 .2l1.2 .7l1.2 -.1l1.2 -.4l1.2 -.2l1.2 -.2l1.2 .3l1.2 -.1l1.2 0l1.2 1l1.2 0l1.2 -.4l1.2 .2l1.2 -.4l1.2 -.7l1.2 .8l1.2 -.8l1.2 .3l1.2 .7l1.2 -.9l1.2 .7l1.2 .2l1.2 -.3l1.2 -.4l1.2 .2l1.2 -.4l1.2 0l1.2 .2l1.2 .6l1.2 -.5l1.2 .4l1.2 -.7l1.2 .5l1.2 -.4l1.2 .5l1.2 .3l1.2 -.3l1.2 -.4l1.2 .6l1.2 -.6l1.2 .3l1.2 .1l1.2 -.3l1.2 .1l1.2 -.1l1.2 -.2l1.2 .3l1.2 -.3l1.2 .5l1.2 .2l1.2 0l1.2 -.5l1.2 -.7l1.2 .6l1.2 -.1l1.2 .4l1.2 .1l1.2 .2l1.2 -.5l1.2 -.2l1.2 0l1.2 -.1l1.2 .5l1.2 -.5l1.2 0l1.2 .2l1.2 0l1.2 .5l1.2 -.4l1.2 .3l1.2 -.5l1.2 .8l1.2 -.1l1.2 -.8l1.2 .2l1.2 .6l1.2 -.5l1.2 -.1l1.2 -.1l1.2 .4l1.2 .3l1.2 -.4l1.2 0l1.2 -.2l1.2 -.1l1.2 -.1l1.2 .5l1.2 .5l1.2 -1l1.2 1l1.2 -.1l1.2 -.3l1.2 .2l1.2 0l1.2 0l1.2 .2l1.2 -.4l1.2 .1l1.2 -.6l1.2 .1l1.2 -.3l1.2 .1l1.2 .2l1.2 .5l1.2 -.5l1.2 .6l1.2 .1l1.2 -.9l1.2 .1l1.2 .1l1.2 .7l1.2 .1l1.2 -.7l1.2 .6l1.2 -.6l1.2 .4l1.2 -.3" stroke="#111" stroke-width="1.6" fill="none" stroke-linejoin="round"/>
<path d="M9.5 287.4l1.2 .2l1.2 .1l1.2 -.2l1.2 .5l1.2 -.5l1.2 .3l1.2 .2l1.2 -.3l1.2 -.3l1.2 .5l1.2 0l1.2 .4l1.2 -.8l1.2 -.2l1.2 .2l1.2 .5l1.2 -.1l1.2 -.6l1.2 -.1l1.2 .9l1.2 -.4l1.2 -.3l1.2 .5l1.2 -.5l1.2 .9l1.2 -.9l1.2 -.2l1.2 1.6l1.2 -1.3l1.2 .8l1.2 -.9l1.2 .2l1.2 .3l1.2 -.2l1.2 -.1l1.2 .1l1.2 -.2l1.2 .1l1.2 .4l1.2 -.7l1.2 .8l1.2 0l1.2 -.1l1.2 0l1.2 .2l1.2 -.5l1.2 .6l1.2 -.4l1.2 -.3l1.2 -.2l1.2 -.1l1.2 .7l1.2 -.5l1.2 0l1.2 .3l1.2 .5l1.2 -.1l1.2 0l1.2 .1l1.2 -.9l1.2 -.1l1.2 0l1.2 .3l1.2 -.3l1.2 1l1.2 -.6l1.2 -.1l1.2 .7l1.2 -.6l1.2 .1l1.2 .5l1.2 0l1.2 -.2l1.2 -.1l1.2 -.4l1.2 .7l1.2 -.5l1.2 .1l1.2 -.4l1.2 .2l1.2 .3l1.2 -.2l1.2 .3l1.2 -.8l1.2 .7l1.2 .1l1.2 .1l1.2 .1l1.2 -.1l1.2 -.8l1.2 .6l1.2 -.7l1.2 0l1.2 .2l1.2 .4l1.2 -.3l1.2 .2l1.2 0l1.2 -.4l1.2 .1l1.2 .2l1.2 .3l1.2 -.4l1.2 0l1.2 -.9l1.2 1.1l1.2 -.3l1.2 .2l1.2 -.3l1.2 1.2l1.2 -1.1l1.2 0l1.2 .2l1.2 0l1.2 -.4l1.2 .4l1.2 .5l1.2 -.1l1.2 -.7l1.2 .1l1.2 .8l1.2 -.6l1.2 .3l1.2 -.6l1.2 0l1.2 .5l1.2 .2l1.2 -.3l1.2 -.1l1.2 -.1l1.2 .2l1.2 -.4l1.2 -.2l1.2 .3l1.2 .2l1.2 .1l1.2 .2l1.2 .3l1.2 0l1.2 -.5l1.2 -.4l1.2 .2l1.2 0l1.2 .5l1.2 -.9l1.2 .1l1.2 .1l1.2 .2l1.2 -.1l1.2 -.3l1.2 .3l1.2 .1l1.2 0l1.2 .1l1.2 -.3l1.2 .5l1.2 -.5l1.2 .3l1.2 .3l1.2 -.8l1.2 .9l1.2 -.7l1.2 .2" stroke="#111" stroke-width="1.6" fill="none" stroke-linejoin="round"/>
<path d="M9.5 290.3l1.2 -.3l1.2 .1l1.2 .3l1.2 .4l1.2 .2l1.2 -.2l1.2 -.5l1.2 .2l1.2 -.5l1.2 .4l1.2 -.1l1.2 .3l1.2 0l1.2 -.6l1.2 -.1l1.2 .2l1.2 .4l1.2 -.1l1.2 .2l1.2 .1l1.2 -.4l1.2 .5l1.2 0l1.2 -.8l1.2 -.1l1.2 .7l1.2 -.7l1.2 .8l1.2 .2l1.2 -.7l1.2 .7l1.2 -.3l1.2 -.6l1.2 .6l1.2 -.3l1.2 0l1.2 -.4l1.2 .1l1.2 .2l1.2 .5l1.2 -.2l1.2 -.4l1.2 .2l1.2 -.2l1.2 .6l1.2 -.6l1.2 .2l1.2 .4l1.2 -.8l1.2 .4l1.2 .1l1.2 .4l1.2 -.5l1.2 .3l1.2 -.4l1.2 .2l1.2 .2l1.2 .2l1.2 -.6l1.2 .6l1.2 -.1l1.2 -.5l1.2 .4l1.2 .2l1.2 -.5l1.2 0l1.2 -.1l1.2 -.1l1.2 .7l1.2 -.7l1.2 .7l1.2 -.7l1.2 -.2l1.2 .3l1.2 -.3l1.2 1l1.2 -.4l1.2 -.4l1.2 .7l1.2 -.6l1.2 0l1.2 .6l1.2 -.2l1.2 -.2l1.2 .3l1.2 -.8l1.2 .3l1.2 .5l1.2 -.2l1.2 -.5l1.2 .8l1.2 -.7l1.2 .2l1.2 0l1.2 .4l1.2 -.4l1.2 -.2l1.2 0l1.2 .2l1.2 -.1l1.2 0l1.2 .6l1.2 -.6l1.2 -.2l1.2 .7l1.2 .2l1.2 -.9l1.2 .3l1.2 -.3l1.2 -.1l1.2 .6l1.2 .4l1.2 -.8l1.2 -.9l1.2 .8l1.2 .4l1.2 0l1.2 -.4l1.2 .9l1.2 -.8l1.2 .2l1.2 -.1l1.2 -.3l1.2 1l1.2 -.6l1.2 -.2l1.2 -.2l1.2 .8l1.2 -.6l1.2 .4l1.2 -.1l1.2 0l1.2 .3l1.2 .2l1.2 -.6l1.2 .3l1.2 -.2l1.2 -.1l1.2 .2l1.2 0l1.2 0l1.2 -.4l1.2 .8l1.2 -.5l1.2 .1l1.2 -.1l1.2 .5l1.2 -.8l1.2 .4l1.2 -.5l1.2 .4l1.2 -.5l1.2 .7l1.2 -.5l1.2 .6l1.2 -.2l1.2 .2l1.2 -.4l1.2 -.4l1.2 .5l1.2 -.3l1.2 .1l1.2 -.3" stroke="#111" stroke-width="1.6" fill="none" stroke-linejoin="round"/>
<path d="M9.5 293.4l1.2 -.7l1.2 -.2l1.2 .9l1.2 -.4l1.2 -.2l1.2 0l1.2 .2l1.2 0l1.2 .5l1.2 -.1l1.2 -.4l1.2 -.3l1.2 .3l1.2 0l1.2 .2l1.2 -.2l1.2 .1l1.2 .8l1.2 -1.1l1.2 .1l1.2 .3l1.2 .2l1.2 -.6l1.2 -.1l1.2 -.1l1.2 .1l1.2 .2l1.2 .2l1.2 .1l1.2 -.2l1.2 -.4l1.2 -.1l1.2 1l1.2 -.1l1.2 .1l1.2 -.6l1.2 0l1.2 .1l1.2 -.5l1.2 1l1.2 -.1l1.2 .1l1.2 -.5l1.2 .5l1.2 -.2l1.2 -.1l1.2 -.6l1.2 .4l1.2 -.4l1.2 .9l1.2 -.6l1.2 -.1l1.2 .3l1.2 -.1l1.2 .1l1.2 .2l1.2 -.8l1.2 .1l1.2 .1l1.2 .2l1.2 .4l1.2 -.4l1.2 .3l1.2 0l1.2 .4l1.2 -.6l1.2 -.1l1.2 .2l1.2 .3l1.2 .1l1.2 -.2l1.2 -.3l1.2 -.2l1.2 .6l1.2 .1l1.2 -.7l1.2 .7l1.2 -.8l1.2 .6l1.2 -.8l1.2 .7l1.2 .3l1.2 -.2l1.2 -.5l1.2 .4l1.2 .7l1.2 -1.4l1.2 .3l1.2 -.2l1.2 0l1.2 .3l1.2 -.1l1.2 .7l1.2 0l1.2 -.4l1.2 -.2l1.2 0l1.2 .1l1.2 .4l1.2 -.9l1.2 .8l1.2 -.4l1.2 -.2l1.2 0l1.2 .7l1.2 0l1.2 -.2l1.2 .1l1.2 .3l1.2 -.7l1.2 -.1l1.2 .6l1.2 -.1l1.2 -.5l1.2 .5l1.2 -.4l1.2 .5l1.2 0l1.2 -.2l1.2 -.5l1.2 .4l1.2 0l1.2 -.1l1.2 -.4l1.2 .2l1.2 .2l1.2 0l1.2 0l1.2 .6l1.2 -.6l1.2 .2l1.2 .2l1.2 -.8l1.2 .6l1.2 .1l1.2 .1l1.2 0l1.2 -.4l1.2 -.1l1.2 .2l1.2 -.4l1.2 .9l1.2 0l1.2 -.4l1.2 -.1l1.2 -.1l1.2 1.2l1.2 -1.7l1.2 .1l1.2 .4l1.2 .4l1.2 .1l1.2 -.4l1.2 .2l1.2 -.2l1.2 -.2l1.2 -.1l1.2 .4l1.2 -.5l1.2 .5l1.2 .2l1.2 -.2l1.2 -.1" stroke="#111" stroke-width="1.6" fill="none" stroke-linejoin="round"/>
<path d="M9.5 295.1l1.2 .5l1.2 .4l1.2 -.8l1.2 .3l1.2 .5l1.2 -.2l1.2 -.4l1.2 0l1.2 0l1.2 .4l1.2 .1l1.2 -.8l1.2 .4l1.2 .1l1.2 .2l1.2 -.6l1.2 .7l1.2 .1l1.2 .7l1.2 -1.1l1.2 .6l1.2 -1l1.2 0l1.2 .1l1.2 -.1l1.2 0l1.2 .8l1.2 -.2l1.2 0l1.2 .3l1.2 -.8l1.2 .8l1.2 0l1.2 -.7l1.2 -.2l1.2 .2l1.2 -.1l1.2 .5l1.2 .6l1.2 -.3l1.2 -.7l1.2 .2l1.2 .4l1.2 0l1.2 -.8l1.2 0l1.2 .1l1.2 -.2l1.2 .3l1.2 .2l1.2 .5l1.2 .1l1.2 -1l1.2 .3l1.2 -.3l1.2 .8l1.2 .2l1.2 -.3l1.2 -.6l1.2 0l1.2 .3l1.2 -.2l1.2 .5l1.2 -.5l1.2 .4l1.2 -.5l1.2 .2l1.2 .3l1.2 -.4l1.2 .8l1.2 -.8l1.2 .8l1.2 -.2l1.2 -.3l1.2 .2l1.2 .3l1.2 -.6l1.2 0l1.2 .6l1.2 -.9l1.2 -.2l1.2 .1l1.2 .4l1.2 .3l1.2 .1l1.2 -.1l1.2 0l1.2 -.1l1.2 -.4l1.2 -.3l1.2 .1l1.2 .1l1.2 .8l1.2 .1l1.2 -.4l1.2 0l1.2 -.5l1.2 .1l1.2 0l1.2 .7l1.2 -.8l1.2 .2l1.2 .6l1.2 -.4l1.2 -.4l1.2 .3l1.2 -.1l1.2 .3l1.2 -.6l1.2 .9l1.2 -.2l1.2 -.4l1.2 .6l1.2 -.9l1.2 .3l1.2 .2l1.2 -.5l1.2 0l1.2 -.1l1.2 .3l1.2 .4l1.2 -.1l1.2 -.3l1.2 .5l1.2 -.4l1.2 .4l1.2 0l1.2 0l1.2 -.6l1.2 .1l1.2 -.2l1.2 .1l1.2 0l1.2 -.1l1.2 .7l1.2 -.3l1.2 .5l1.2 -.6l1.2 .4l1.2 -.1l1.2 -.5l1.2 .2l1.2 -.2l1.2 .2l1.2 0l1.2 .3l1.2 -.5l1.2 .2l1.2 .1l1.2 0l1.2 .3l1.2 -.7l1.2 .4l1.2 -.3l1.2 -.1l1.2 -.6l1.2 1.3l1.2 -.4l1.2 -.3l1.2 .9l1.2 -.8l1.2 .2l1.2 .5" stroke="#111" stroke-width="1.6" fill="none" stroke-linejoin="round"/>
<path d="M9.5 298.4l1.2 0l1.2 0l1.2 .2l1.2 -.6l1.2 .6l1.2 -.5l1.2 .4l1.2 .2l1.2 -.5l1.2 .4l1.2 -.6l1.2 -.2l1.2 .1l1.2 .3l1.2 .2l1.2 .1l1.2 -.7l1.2 .7l1.2 .3l1.2 -.6l1.2 .5l1.2 -.4l1.2 .4l1.2 -.4l1.2 -.1l1.2 .4l1.2 -.7l1.2 .8l1.2 -.5l1.2 .1l1.2 .5l1.2 -.1l1.2 -.8l1.2 .2l1.2 .3l1.2 -.4l1.2 0l1.2 .2l1.2 .4l1.2 -.4l1.2 .4l1.2 -.6l1.2 .7l1.2 -.7l1.2 .4l1.2 -.6l1.2 .7l1.2 -.2l1.2 -.2l1.2 .4l1.2 -.1l1.2 -.2l1.2 0l1.2 -.1l1.2 .1l1.2 .4l1.2 0l1.2 -.5l1.2 .4l1.2 .2l1.2 -.6l1.2 .6l1.2 -.1l1.2 .1l1.2 .1l1.2 -.7l1.2 -.2l1.2 .8l1.2 .1l1.2 -1l1.2 .9l1.2 -.5l1.2 -.4l1.2 .3l1.2 .2l1.2 0l1.2 -.3l1.2 .1l1.2 .6l1.2 -.1l1.2 -.4l1.2 .1l1.2 -.4l1.2 .4l1.2 .2l1.2 -.3l1.2 -.2l1.2 .1l1.2 .3l1.2 .2l1.2 .2l1.2 -.4l1.2 -.1l1.2 -.2l1.2 .2l1.2 .1l1.2 .4l1.2 0l1.2 -.4l1.2 -.2l1.2 -.2l1.2 -.2l1.2 .5l1.2 -.2l1.2 0l1.2 .1l1.2 .2l1.2 -.3l1.2 -.3l1.2 .3l1.2 0l1.2 -.2l1.2 .6l1.2 .2l1.2 -.3l1.2 .1l1.2 -.1l1.2 -.2l1.2 .3l1.2 -.3l1.2 .2l1.2 -.3l1.2 .4l1.2 -.2l1.2 .1l1.2 -.3l1.2 .1l1.2 .5l1.2 -.8l1.2 .7l1.2 -.7l1.2 .8l1.2 -.6l1.2 -.1l1.2 -.1l1.2 .2l1.2 .5l1.2 -.3l1.2 .1l1.2 .1l1.2 -.2l1.2 .1l1.2 .4l1.2 -.5l1.2 .3l1.2 -.7l1.2 0l1.2 -.1l1.2 .8l1.2 .1l1.2 -.2l1.2 -.7l1.2 .1l1.2 .6l1.2 -.3l1.2 .5l1.2 .9l1.2 -1.4l1.2 -.2l1.2 .6l1.2 -.1l1.2 .3l1.2 -.1" stroke="#111" stroke-width="1.6" fill="none" stroke-linejoin="round"/>
<path d="M53.8 288.1l2.5 .1l2.5 -.1l2.5 -.3l2.5 -.2l2.5 .1l2.5 .2l2.5 .3" stroke="#f4f4f4" stroke-width=".6" fill="none" stroke-linejoin="round"/>
<path d="M63.5 285.7l2.5 -.3l2.5 0l2.5 -.2l2.5 0" stroke="#f4f4f4" stroke-width=".6" fill="none" stroke-linejoin="round"/>
<path d="M177.6 275.2l2.5 -.4l2.5 .5l2.5 -.5l2.5 .5l2.5 -.5l2.5 .3l2.5 -.3l2.5 .4" stroke="#f4f4f4" stroke-width=".6" fill="none" stroke-linejoin="round"/>
<path d="M41.4 280.6l2.5 .1l2.5 -.2l2.5 .4" stroke="#f4f4f4" stroke-width=".6" fill="none" stroke-linejoin="round"/>
<path d="M84.8 275.2l2.5 -.1l2.5 -.2l2.5 .1" stroke="#f4f4f4" stroke-width=".6" fill="none" stroke-linejoin="round"/>
<path d="M185.9 279l2.5 -.2l2.5 .2" stroke="#f4f4f4" stroke-width=".6" fill="none" stroke-linejoin="round"/>
<path d="M76.1 281.2l2.5 .2l2.5 -.3l2.5 .2l2.5 .2l2.5 -.1l2.5 -.3" stroke="#f4f4f4" stroke-width=".6" fill="none" stroke-linejoin="round"/>
<path d="M180.9 276.8l2.5 -.3l2.5 -.1l2.5 .2l2.5 -.2l2.5 .2" stroke="#f4f4f4" stroke-width=".6" fill="none" stroke-linejoin="round"/>
<path d="M110.9 275.4l2.5 -.2l2.5 .2" stroke="#f4f4f4" stroke-width=".6" fill="none" stroke-linejoin="round"/>
<path d="M170.4 296.4l2.5 .2l2.5 0l2.5 .1l2.5 -.2l2.5 -.1l2.5 .3" stroke="#f4f4f4" stroke-width=".6" fill="none" stroke-linejoin="round"/>
<path d="M34.1 286.3l2.5 -.2l2.5 .1l2.5 .3l2.5 .2l2.5 -.3" stroke="#f4f4f4" stroke-width=".6" fill="none" stroke-linejoin="round"/>
<path d="M129 281.8l2.5 .3l2.5 -.1l2.5 .1" stroke="#f4f4f4" stroke-width=".6" fill="none" stroke-linejoin="round"/>
<path d="M89.1 280.5l2.5 .1" stroke="#f4f4f4" stroke-width=".6" fill="none" stroke-linejoin="round"/>
<path d="M53 280.7l2.5 .1l2.5 -.1l2.5 .2" stroke="#f4f4f4" stroke-width=".6" fill="none" stroke-linejoin="round"/>
<path d="M12.2 289.5l2.5 -.2l2.5 .2l2.5 -.1l2.5 0l2.5 -.3l2.5 .2l2.5 -.1l2.5 -.1" stroke="#f4f4f4" stroke-width=".6" fill="none" stroke-linejoin="round"/>
<path d="M68.5 294.4l2.5 .1l2.5 -.3l2.5 .3l2.5 -.4l2.5 .2l2.5 -.1" stroke="#f4f4f4" stroke-width=".6" fill="none" stroke-linejoin="round"/>
<path d="M72 286.2l2.5 .4l2.5 -.1l2.5 -.2l2.5 -.1" stroke="#f4f4f4" stroke-width=".6" fill="none" stroke-linejoin="round"/>
<path d="M65 276l2.5 .2l2.5 .1l2.5 .2l2.5 -.1l2.5 -.3" stroke="#f4f4f4" stroke-width=".6" fill="none" stroke-linejoin="round"/>
<path d="M20.6 283.5l2.5 -.2l2.5 0" stroke="#f4f4f4" stroke-width=".6" fill="none" stroke-linejoin="round"/>
<path d="M97.9 279.7l2.5 -.5l2.5 0l2.5 .4" stroke="#f4f4f4" stroke-width=".6" fill="none" stroke-linejoin="round"/>
<path d="M152.5 285.6l2.5 .1l2.5 -.3l2.5 .2l2.5 -.2l2.5 .2l2.5 -.3l2.5 0" stroke="#f4f4f4" stroke-width=".6" fill="none" stroke-linejoin="round"/>
<path d="M53.9 284.3l2.5 -.4l2.5 -.1" stroke="#f4f4f4" stroke-width=".6" fill="none" stroke-linejoin="round"/>
<path d="M173.5 277.9l2.5 -.3l2.5 .6l2.5 -.2l2.5 .2l2.5 -.1" stroke="#f4f4f4" stroke-width=".6" fill="none" stroke-linejoin="round"/>
<path d="M197.1 297.1l2.5 -.3l2.5 .1" stroke="#f4f4f4" stroke-width=".6" fill="none" stroke-linejoin="round"/>
<path d="M98.4 289.8l2.5 0l2.5 .2l2.5 0" stroke="#f4f4f4" stroke-width=".6" fill="none" stroke-linejoin="round"/>
<path d="M103.3 285.2l2.5 -.1l2.5 -.4l2.5 0l2.5 .5l2.5 -.4l2.5 .3l2.5 -.4" stroke="#f4f4f4" stroke-width=".6" fill="none" stroke-linejoin="round"/>
<path d="M193 291.2l2.5 .1l2.5 -.3l2.5 .2l2.5 -.3" stroke="#f4f4f4" stroke-width=".6" fill="none" stroke-linejoin="round"/>
<path d="M101.4 296.4l2.5 -.4l2.5 .3l2.5 .1l2.5 -.3l2.5 -.2l2.5 .1l2.5 .1l2.5 0" stroke="#f4f4f4" stroke-width=".6" fill="none" stroke-linejoin="round"/>
<path d="M27.4 275.9l2.5 -.3l2.5 .1l2.5 .3l2.5 -.3l2.5 .3" stroke="#f4f4f4" stroke-width=".6" fill="none" stroke-linejoin="round"/>
<path d="M79.8 275.6l2.5 -.1" stroke="#f4f4f4" stroke-width=".6" fill="none" stroke-linejoin="round"/>
<path d="M9.2 251L9.2 304" stroke="#000" stroke-width="1.9" stroke-linecap="butt" fill="none"/>
<path d="M205.6 271L205.6 314.5" stroke="#000" stroke-width="1.9" stroke-linecap="butt" fill="none"/>
<path d="M4 293.6L9.5 293.6" stroke="#000" stroke-width="2.4" stroke-linecap="butt" fill="none"/>
<path d="M205.5 293.6L209 293.6" stroke="#000" stroke-width="2.4" stroke-linecap="butt" fill="none"/>
<rect x="78.9" y="253.9" width="12.6" height="12.6" fill="#fff" stroke="#000" stroke-width="1.2"/>
<text x="102.3" y="265.5" font-size="15.5" font-weight="normal" fill="#000" stroke="#000" stroke-width=".3" textLength="36.2" lengthAdjust="spacingAndGlyphs">Wash</text>
<text x="103" y="327" font-size="16.5" font-weight="normal" fill="#000" stroke="#000" stroke-width=".4" textLength="53.8" lengthAdjust="spacingAndGlyphs">200 pA</text>
<path d="M169.2 313.4L169.2 328.6L196.8 328.6" stroke="#000" stroke-width="1.7" fill="none" stroke-linejoin="round"/>
<text x="168.8" y="343.6" font-size="15.6" font-weight="normal" fill="#000" stroke="#000" stroke-width=".3" textLength="50.4" lengthAdjust="spacingAndGlyphs">100 ms</text>
</g>
<g id="pB">
<path d="M331.3 58.8L331.3 331.3" stroke="#000" stroke-width="1.8" stroke-linecap="butt" fill="none"/>
<path d="M233.7 219.4L448.2 219.4" stroke="#000" stroke-width="1.8" stroke-linecap="butt" fill="none"/>
<path d="M234.6 219.4L234.6 225.4" stroke="#000" stroke-width="1.8" stroke-linecap="butt" fill="none"/>
<path d="M254 219.4L254 225.4" stroke="#000" stroke-width="1.8" stroke-linecap="butt" fill="none"/>
<path d="M273.3 219.4L273.3 225.4" stroke="#000" stroke-width="1.8" stroke-linecap="butt" fill="none"/>
<path d="M292.6 219.4L292.6 225.4" stroke="#000" stroke-width="1.8" stroke-linecap="butt" fill="none"/>
<path d="M312 219.4L312 225.4" stroke="#000" stroke-width="1.8" stroke-linecap="butt" fill="none"/>
<path d="M350.6 219.4L350.6 225.4" stroke="#000" stroke-width="1.8" stroke-linecap="butt" fill="none"/>
<path d="M370 219.4L370 225.4" stroke="#000" stroke-width="1.8" stroke-linecap="butt" fill="none"/>
<path d="M389.3 219.4L389.3 225.4" stroke="#000" stroke-width="1.8" stroke-linecap="butt" fill="none"/>
<path d="M408.6 219.4L408.6 225.4" stroke="#000" stroke-width="1.8" stroke-linecap="butt" fill="none"/>
<path d="M428 219.4L428 225.4" stroke="#000" stroke-width="1.8" stroke-linecap="butt" fill="none"/>
<path d="M447.3 219.4L447.3 225.4" stroke="#000" stroke-width="1.8" stroke-linecap="butt" fill="none"/>
<path d="M325.8 79.4L331.3 79.4" stroke="#000" stroke-width="1.8" stroke-linecap="butt" fill="none"/>
<path d="M325.8 126L331.3 126" stroke="#000" stroke-width="1.8" stroke-linecap="butt" fill="none"/>
<path d="M325.8 172.6L331.3 172.6" stroke="#000" stroke-width="1.8" stroke-linecap="butt" fill="none"/>
<path d="M325.8 266L331.3 266" stroke="#000" stroke-width="1.8" stroke-linecap="butt" fill="none"/>
<path d="M325.8 312.6L331.3 312.6" stroke="#000" stroke-width="1.8" stroke-linecap="butt" fill="none"/>
<text x="301.8" y="83.4" font-size="15.6" font-weight="normal" fill="#000" stroke="#000" stroke-width=".3" textLength="22.9" lengthAdjust="spacingAndGlyphs">450</text>
<text x="301.8" y="130" font-size="15.6" font-weight="normal" fill="#000" stroke="#000" stroke-width=".3" textLength="22.9" lengthAdjust="spacingAndGlyphs">300</text>
<text x="302.4" y="176.6" font-size="15.6" font-weight="normal" fill="#000" stroke="#000" stroke-width=".3" textLength="22.3" lengthAdjust="spacingAndGlyphs">150</text>
<text x="297.2" y="270" font-size="15.6" font-weight="normal" fill="#000" stroke="#000" stroke-width=".3" textLength="27.5" lengthAdjust="spacingAndGlyphs">-150</text>
<text x="296.2" y="316.6" font-size="15.6" font-weight="normal" fill="#000" stroke="#000" stroke-width=".3" textLength="28.5" lengthAdjust="spacingAndGlyphs">-300</text>
<text x="221.5" y="239.9" font-size="15.6" font-weight="normal" fill="#000" stroke="#000" stroke-width=".3" textLength="25" lengthAdjust="spacingAndGlyphs">-100</text>
<text x="244.5" y="239.9" font-size="15.6" font-weight="normal" fill="#000" stroke="#000" stroke-width=".3" textLength="21.5" lengthAdjust="spacingAndGlyphs">-80</text>
<text x="263.8" y="239.9" font-size="15.6" font-weight="normal" fill="#000" stroke="#000" stroke-width=".3" textLength="21.5" lengthAdjust="spacingAndGlyphs">-60</text>
<text x="283" y="239.9" font-size="15.6" font-weight="normal" fill="#000" stroke="#000" stroke-width=".3" textLength="21.8" lengthAdjust="spacingAndGlyphs">-40</text>
<text x="302.4" y="239.9" font-size="15.6" font-weight="normal" fill="#000" stroke="#000" stroke-width=".3" textLength="22.2" lengthAdjust="spacingAndGlyphs">-20</text>
<text x="343.2" y="239.9" font-size="15.6" font-weight="normal" fill="#000" stroke="#000" stroke-width=".3" textLength="15.2" lengthAdjust="spacingAndGlyphs">20</text>
<text x="363.2" y="239.9" font-size="15.6" font-weight="normal" fill="#000" stroke="#000" stroke-width=".3" textLength="15.6" lengthAdjust="spacingAndGlyphs">40</text>
<text x="382.8" y="239.9" font-size="15.6" font-weight="normal" fill="#000" stroke="#000" stroke-width=".3" textLength="14.6" lengthAdjust="spacingAndGlyphs">60</text>
<text x="402" y="239.9" font-size="15.6" font-weight="normal" fill="#000" stroke="#000" stroke-width=".3" textLength="14.6" lengthAdjust="spacingAndGlyphs">80</text>
<text x="417.6" y="239.9" font-size="15.6" font-weight="normal" fill="#000" stroke="#000" stroke-width=".3" textLength="21.8" lengthAdjust="spacingAndGlyphs">100</text>
<text x="438.4" y="239.9" font-size="15.6" font-weight="normal" fill="#000" stroke="#000" stroke-width=".3" textLength="20.4" lengthAdjust="spacingAndGlyphs">120</text>
<text x="402.6" y="265.1" font-size="18" font-weight="normal" fill="#000" stroke="#000" stroke-width=".4" textLength="57.6" lengthAdjust="spacingAndGlyphs">Vm (mV)</text>
<text transform="translate(291.7 106.9) rotate(-90)" x="0" y="0" font-size="19" font-weight="normal" fill="#000" stroke="#000" stroke-width=".4" textLength="48.6" lengthAdjust="spacingAndGlyphs"><tspan font-family="Liberation Mono">I</tspan> (pA)</text>
<path d="M254 268.4V288.5M250.8 268.4H257.2M250.8 288.5H257.2" stroke="#000" stroke-width="1.3" fill="none"/>
<path d="M350.6 168.6V187M347.4 168.6H353.8M347.4 187H353.8" stroke="#000" stroke-width="1.3" fill="none"/>
<path d="M370 146V169.4M366.8 146H373.2M366.8 169.4H373.2" stroke="#000" stroke-width="1.3" fill="none"/>
<path d="M389.3 124.2V154.3M386.1 124.2H392.5M386.1 154.3H392.5" stroke="#000" stroke-width="1.3" fill="none"/>
<path d="M408.6 101.5V138M405.4 101.5H411.8M405.4 138H411.8" stroke="#000" stroke-width="1.3" fill="none"/>
<path d="M428 80.2V120M424.8 80.2H431.2M424.8 120H431.2" stroke="#000" stroke-width="1.3" fill="none"/>
<path d="M350.6 198V213.5M348.1 198H353.1M348.1 213.5H353.1" stroke="#000" stroke-width="1.2" fill="none"/>
<path d="M370 190.8V206.3M367.5 190.8H372.5M367.5 206.3H372.5" stroke="#000" stroke-width="1.2" fill="none"/>
<path d="M389.3 183.8V199.3M386.8 183.8H391.8M386.8 199.3H391.8" stroke="#000" stroke-width="1.2" fill="none"/>
<path d="M408.6 176.7V192.2M406.1 176.7H411.1M406.1 192.2H411.1" stroke="#000" stroke-width="1.2" fill="none"/>
<path d="M428 168.7V184.2M425.5 168.7H430.5M425.5 184.2H430.5" stroke="#000" stroke-width="1.2" fill="none"/>
<path d="M254 237.3L273.3 231.5L292.6 226.5L312 221L331.3 212L350.6 205L370 197.8L389.3 190.8L408.6 183.7L428 175.7" stroke="#000" stroke-width="1.9" fill="none" stroke-linejoin="round"/>
<path d="M254 254.9L273.3 242L292.6 231L312 220L331.3 207.6L350.6 197L370 185.2L389.3 173.7L408.6 161.9L428 150" stroke="#000" stroke-width="1.9" fill="none" stroke-linejoin="round"/>
<path d="M254 245.3L273.3 237L292.6 229.5L312 220.5L331.3 209.6L350.6 200.8L370 190.8L389.3 180.7L408.6 170.7L428 161.9" stroke="#000" stroke-width="1.9" fill="none" stroke-linejoin="round"/>
<path d="M254 278.5L273.3 257.4L292.6 236.5L312 214L331.3 196L350.6 177L370 157.6L389.3 138.7L408.6 119.4L428 99.8" stroke="#000" stroke-width="1.9" fill="none" stroke-linejoin="round"/>
<path d="M254 231.2L259.5 241.7L248.5 241.7Z" fill="#000" stroke="#000" stroke-width="1" stroke-linejoin="round"/>
<path d="M273.3 225.4L278.8 235.9L267.8 235.9Z" fill="#000" stroke="#000" stroke-width="1" stroke-linejoin="round"/>
<path d="M292.6 220.4L298.1 230.9L287.1 230.9Z" fill="#000" stroke="#000" stroke-width="1" stroke-linejoin="round"/>
<path d="M312 214.9L317.5 225.4L306.5 225.4Z" fill="#000" stroke="#000" stroke-width="1" stroke-linejoin="round"/>
<path d="M331.3 205.9L336.8 216.4L325.8 216.4Z" fill="#000" stroke="#000" stroke-width="1" stroke-linejoin="round"/>
<path d="M350.6 198.9L356.1 209.4L345.1 209.4Z" fill="#000" stroke="#000" stroke-width="1" stroke-linejoin="round"/>
<path d="M370 191.7L375.5 202.2L364.5 202.2Z" fill="#000" stroke="#000" stroke-width="1" stroke-linejoin="round"/>
<path d="M389.3 184.7L394.8 195.2L383.8 195.2Z" fill="#000" stroke="#000" stroke-width="1" stroke-linejoin="round"/>
<path d="M408.6 177.6L414.1 188.1L403.1 188.1Z" fill="#000" stroke="#000" stroke-width="1" stroke-linejoin="round"/>
<path d="M428 169.6L433.5 180.1L422.5 180.1Z" fill="#000" stroke="#000" stroke-width="1" stroke-linejoin="round"/>
<rect x="249.9" y="250.8" width="8.2" height="8.2" fill="#000" stroke="#000" stroke-width="1.4"/>
<rect x="269.2" y="237.9" width="8.2" height="8.2" fill="#000" stroke="#000" stroke-width="1.4"/>
<rect x="288.5" y="226.9" width="8.2" height="8.2" fill="#000" stroke="#000" stroke-width="1.4"/>
<rect x="307.9" y="215.9" width="8.2" height="8.2" fill="#000" stroke="#000" stroke-width="1.4"/>
<rect x="327.2" y="203.5" width="8.2" height="8.2" fill="#000" stroke="#000" stroke-width="1.4"/>
<rect x="346.5" y="192.9" width="8.2" height="8.2" fill="#000" stroke="#000" stroke-width="1.4"/>
<rect x="365.9" y="181.1" width="8.2" height="8.2" fill="#000" stroke="#000" stroke-width="1.4"/>
<rect x="385.2" y="169.6" width="8.2" height="8.2" fill="#000" stroke="#000" stroke-width="1.4"/>
<rect x="404.5" y="157.8" width="8.2" height="8.2" fill="#000" stroke="#000" stroke-width="1.4"/>
<rect x="423.9" y="145.9" width="8.2" height="8.2" fill="#000" stroke="#000" stroke-width="1.4"/>
<rect x="250.8" y="241" width="6.4" height="8.6" fill="#fff" stroke="#000" stroke-width="1.8"/>
<rect x="270.1" y="232.7" width="6.4" height="8.6" fill="#fff" stroke="#000" stroke-width="1.8"/>
<rect x="289.4" y="225.2" width="6.4" height="8.6" fill="#fff" stroke="#000" stroke-width="1.8"/>
<rect x="308.8" y="216.2" width="6.4" height="8.6" fill="#fff" stroke="#000" stroke-width="1.8"/>
<rect x="328.1" y="205.3" width="6.4" height="8.6" fill="#fff" stroke="#000" stroke-width="1.8"/>
<rect x="347.4" y="196.5" width="6.4" height="8.6" fill="#fff" stroke="#000" stroke-width="1.8"/>
<rect x="366.8" y="186.5" width="6.4" height="8.6" fill="#fff" stroke="#000" stroke-width="1.8"/>
<rect x="386.1" y="176.4" width="6.4" height="8.6" fill="#fff" stroke="#000" stroke-width="1.8"/>
<rect x="405.4" y="166.4" width="6.4" height="8.6" fill="#fff" stroke="#000" stroke-width="1.8"/>
<rect x="424.8" y="157.6" width="6.4" height="8.6" fill="#fff" stroke="#000" stroke-width="1.8"/>
<circle cx="254" cy="278.5" r="5.1" fill="url(#sph)" stroke="#000" stroke-width="2"/>
<circle cx="273.3" cy="257.4" r="5.1" fill="url(#sph)" stroke="#000" stroke-width="2"/>
<circle cx="292.6" cy="236.5" r="5.1" fill="url(#sph)" stroke="#000" stroke-width="2"/>
<circle cx="312" cy="214" r="5.1" fill="url(#sph)" stroke="#000" stroke-width="2"/>
<circle cx="331.3" cy="196" r="5.1" fill="url(#sph)" stroke="#000" stroke-width="2"/>
<circle cx="350.6" cy="177" r="5.1" fill="url(#sph)" stroke="#000" stroke-width="2"/>
<circle cx="370" cy="157.6" r="5.1" fill="url(#sph)" stroke="#000" stroke-width="2"/>
<circle cx="389.3" cy="138.7" r="5.1" fill="url(#sph)" stroke="#000" stroke-width="2"/>
<circle cx="408.6" cy="119.4" r="5.1" fill="url(#sph)" stroke="#000" stroke-width="2"/>
<circle cx="428" cy="99.8" r="5.1" fill="url(#sph)" stroke="#000" stroke-width="2"/>
</g>
<g id="pC">
<path d="M543.7 75.1L543.7 268.8" stroke="#000" stroke-width="1.8" stroke-linecap="butt" fill="none"/>
<path d="M542.8 267.9L749.5 267.9" stroke="#000" stroke-width="1.8" stroke-linecap="butt" fill="none"/>
<path d="M540 76L543.7 76" stroke="#000" stroke-width="1.8" stroke-linecap="butt" fill="none"/>
<path d="M540 119.2L543.7 119.2" stroke="#000" stroke-width="1.8" stroke-linecap="butt" fill="none"/>
<path d="M540 162.6L543.7 162.6" stroke="#000" stroke-width="1.8" stroke-linecap="butt" fill="none"/>
<path d="M540 206L543.7 206" stroke="#000" stroke-width="1.8" stroke-linecap="butt" fill="none"/>
<path d="M540 249.7L543.7 249.7" stroke="#000" stroke-width="1.8" stroke-linecap="butt" fill="none"/>
<path d="M561.9 267.9L561.9 272.5" stroke="#000" stroke-width="1.8" stroke-linecap="butt" fill="none"/>
<path d="M596.5 267.9L596.5 272.5" stroke="#000" stroke-width="1.8" stroke-linecap="butt" fill="none"/>
<path d="M631.1 267.9L631.1 272.5" stroke="#000" stroke-width="1.8" stroke-linecap="butt" fill="none"/>
<path d="M665.7 267.9L665.7 272.5" stroke="#000" stroke-width="1.8" stroke-linecap="butt" fill="none"/>
<path d="M700.3 267.9L700.3 272.5" stroke="#000" stroke-width="1.8" stroke-linecap="butt" fill="none"/>
<path d="M734.9 267.9L734.9 272.5" stroke="#000" stroke-width="1.8" stroke-linecap="butt" fill="none"/>
<text x="518.8" y="81.1" font-size="15" font-weight="normal" fill="#000" stroke="#000" stroke-width=".3" textLength="18.5" lengthAdjust="spacingAndGlyphs">3.0</text>
<text x="518.8" y="124.3" font-size="15" font-weight="normal" fill="#000" stroke="#000" stroke-width=".3" textLength="18.5" lengthAdjust="spacingAndGlyphs">2.5</text>
<text x="518.8" y="167.7" font-size="15" font-weight="normal" fill="#000" stroke="#000" stroke-width=".3" textLength="18.5" lengthAdjust="spacingAndGlyphs">2.0</text>
<text x="518.8" y="211.1" font-size="15" font-weight="normal" fill="#000" stroke="#000" stroke-width=".3" textLength="18.5" lengthAdjust="spacingAndGlyphs">1.5</text>
<text x="518.8" y="254.8" font-size="15" font-weight="normal" fill="#000" stroke="#000" stroke-width=".3" textLength="18.5" lengthAdjust="spacingAndGlyphs">1.0</text>
<text x="557.8" y="287.9" font-size="15" font-weight="normal" fill="#000" stroke="#000" stroke-width=".3" textLength="8.1" lengthAdjust="spacingAndGlyphs">0</text>
<text x="589.4" y="287.9" font-size="15" font-weight="normal" fill="#000" stroke="#000" stroke-width=".3" textLength="15.8" lengthAdjust="spacingAndGlyphs">50</text>
<text x="620.6" y="287.9" font-size="15" font-weight="normal" fill="#000" stroke="#000" stroke-width=".3" textLength="21.3" lengthAdjust="spacingAndGlyphs">100</text>
<text x="654.9" y="287.9" font-size="15" font-weight="normal" fill="#000" stroke="#000" stroke-width=".3" textLength="23.1" lengthAdjust="spacingAndGlyphs">150</text>
<text x="689.3" y="287.9" font-size="15" font-weight="normal" fill="#000" stroke="#000" stroke-width=".3" textLength="22.5" lengthAdjust="spacingAndGlyphs">200</text>
<text x="724.7" y="287.9" font-size="15" font-weight="normal" fill="#000" stroke="#000" stroke-width=".3" textLength="21.9" lengthAdjust="spacingAndGlyphs">250</text>
<text x="598" y="316" font-size="16.5" font-weight="normal" fill="#000" stroke="#000" stroke-width=".4" textLength="107.6" lengthAdjust="spacingAndGlyphs">db-cAMP (&#181;M)</text>
<text transform="translate(485.3 269.7) rotate(-90)" x="0" y="0" font-size="18" font-weight="normal" fill="#000" stroke="#000" stroke-width=".4" textLength="166.7" lengthAdjust="spacingAndGlyphs">Fold cAMP activation</text>
<text transform="translate(506.8 248.8) rotate(-90)" x="0" y="0" font-size="18" font-weight="normal" fill="#000" stroke="#000" stroke-width=".4" textLength="124.1" lengthAdjust="spacingAndGlyphs">(cAMP/Control)</text>
<path d="M578.5 189.7V223.3M575.2 189.7H581.8M575.2 223.3H581.8" stroke="#000" stroke-width="1.2" fill="none"/>
<path d="M631.1 113.6V135M627.8 113.6H634.4M627.8 135H634.4" stroke="#000" stroke-width="1.2" fill="none"/>
<path d="M665.7 109.1V140.7M662.4 109.1H669M662.4 140.7H669" stroke="#000" stroke-width="1.2" fill="none"/>
<path d="M700.3 101.4V136.7M697 101.4H703.6M697 136.7H703.6" stroke="#000" stroke-width="1.2" fill="none"/>
<path d="M734.9 99.4V134.2M731.6 99.4H738.2M731.6 134.2H738.2" stroke="#000" stroke-width="1.2" fill="none"/>
<path d="M561.9 244V257.5M558.6 244H565.2M558.6 257.5H565.2" stroke="#000" stroke-width="1.2" fill="none"/>
<path d="M561.9 250.5L565.4 237.6L568.8 225.9L572.3 215.3L575.7 205.7L579.2 197L582.7 189.1L586.1 182L589.6 175.5L593 169.6L596.5 164.3L600 159.4L603.4 155.1L606.9 151.1L610.3 147.5L613.8 144.2L617.3 141.2L620.7 138.6L624.2 136.1L627.6 133.9L631.1 131.9L634.6 130.1L638 128.5L641.5 127L644.9 125.6L648.4 124.4L651.9 123.3L655.3 122.3L658.8 121.4L662.2 120.5L665.7 119.8L669.2 119.1L672.6 118.5L676.1 117.9L679.5 117.4L683 117L686.5 116.5L689.9 116.2L693.4 115.8L696.8 115.5L700.3 115.2L703.8 115L707.2 114.7L710.7 114.5L714.1 114.3L717.6 114.2L721.1 114L724.5 113.9L728 113.7L731.4 113.6L734.9 113.5" stroke="#000" stroke-width="2.9" fill="none" stroke-linejoin="round"/>
<circle cx="561.9" cy="250.5" r="5.6" fill="#fff" stroke="#000" stroke-width="1.8"/>
<circle cx="578.5" cy="206" r="5.6" fill="#fff" stroke="#000" stroke-width="1.8"/>
<circle cx="631.1" cy="125" r="5.6" fill="#fff" stroke="#000" stroke-width="1.8"/>
<circle cx="665.7" cy="125.3" r="5.6" fill="#fff" stroke="#000" stroke-width="1.8"/>
<circle cx="700.3" cy="118.9" r="5.6" fill="#fff" stroke="#000" stroke-width="1.8"/>
<circle cx="734.9" cy="116.8" r="5.6" fill="#fff" stroke="#000" stroke-width="1.8"/>
</g>
<g id="pD">
<path d="M830.1 76.3L830.1 271.6" stroke="#000" stroke-width="1.8" stroke-linecap="butt" fill="none"/>
<path d="M829.2 270.7L1050 270.7" stroke="#000" stroke-width="1.8" stroke-linecap="butt" fill="none"/>
<path d="M826.3 77.1L830.1 77.1" stroke="#000" stroke-width="1.8" stroke-linecap="butt" fill="none"/>
<path d="M826.3 160.9L830.1 160.9" stroke="#000" stroke-width="1.8" stroke-linecap="butt" fill="none"/>
<path d="M826.3 245.2L830.1 245.2" stroke="#000" stroke-width="1.8" stroke-linecap="butt" fill="none"/>
<path d="M852.3 270.7L852.3 275.3" stroke="#000" stroke-width="1.8" stroke-linecap="butt" fill="none"/>
<path d="M895.8 270.7L895.8 275.3" stroke="#000" stroke-width="1.8" stroke-linecap="butt" fill="none"/>
<path d="M939.4 270.7L939.4 275.3" stroke="#000" stroke-width="1.8" stroke-linecap="butt" fill="none"/>
<path d="M982.9 270.7L982.9 275.3" stroke="#000" stroke-width="1.8" stroke-linecap="butt" fill="none"/>
<path d="M1026.5 270.7L1026.5 275.3" stroke="#000" stroke-width="1.8" stroke-linecap="butt" fill="none"/>
<text x="807.2" y="82.2" font-size="15" font-weight="normal" fill="#000" stroke="#000" stroke-width=".3" textLength="18.1" lengthAdjust="spacingAndGlyphs">1.0</text>
<text x="807.2" y="166" font-size="15" font-weight="normal" fill="#000" stroke="#000" stroke-width=".3" textLength="18.1" lengthAdjust="spacingAndGlyphs">0.5</text>
<text x="807.2" y="250.3" font-size="15" font-weight="normal" fill="#000" stroke="#000" stroke-width=".3" textLength="18.1" lengthAdjust="spacingAndGlyphs">0.0</text>
<text x="848.3" y="292.2" font-size="15" font-weight="normal" fill="#000" stroke="#000" stroke-width=".3" textLength="8.1" lengthAdjust="spacingAndGlyphs">0</text>
<text x="884.6" y="292.2" font-size="15" font-weight="normal" fill="#000" stroke="#000" stroke-width=".3" textLength="22" lengthAdjust="spacingAndGlyphs">100</text>
<text x="928" y="292.2" font-size="15" font-weight="normal" fill="#000" stroke="#000" stroke-width=".3" textLength="23" lengthAdjust="spacingAndGlyphs">200</text>
<text x="971.5" y="292.2" font-size="15" font-weight="normal" fill="#000" stroke="#000" stroke-width=".3" textLength="23" lengthAdjust="spacingAndGlyphs">300</text>
<text x="1015" y="292.2" font-size="15" font-weight="normal" fill="#000" stroke="#000" stroke-width=".3" textLength="23.5" lengthAdjust="spacingAndGlyphs">400</text>
<text x="911.4" y="319.3" font-size="16.5" font-weight="normal" fill="#000" stroke="#000" stroke-width=".4" textLength="61.8" lengthAdjust="spacingAndGlyphs">DPC (&#181;M)</text>
<text transform="translate(775 219.4) rotate(-90)" x="0" y="0" font-size="17.5" font-weight="normal" fill="#000" stroke="#000" stroke-width=".4" textLength="106.8" lengthAdjust="spacingAndGlyphs">DPC inhibition</text>
<text transform="translate(796.3 215.2) rotate(-90)" x="0" y="0" font-size="17.5" font-weight="normal" fill="#000" stroke="#000" stroke-width=".4" textLength="96.3" lengthAdjust="spacingAndGlyphs">(normalized)</text>
<path d="M895.8 198V240M893.2 198H898.4M893.2 240H898.4" stroke="#000" stroke-width="1.3" fill="none"/>
<path d="M939.4 165.5V191.3M936.8 165.5H942M936.8 191.3H942" stroke="#000" stroke-width="1.3" fill="none"/>
<path d="M961.2 141.4V164.5M958.6 141.4H963.8M958.6 164.5H963.8" stroke="#000" stroke-width="1.3" fill="none"/>
<path d="M1004.7 126.1V162.8M1002.1 126.1H1007.3M1002.1 162.8H1007.3" stroke="#000" stroke-width="1.3" fill="none"/>
<path d="M852.6 246.2C854.3 245.8 859.5 245.3 863 244.1C866.5 242.9 870 241.2 873.5 238.9C877 236.6 880.3 233.8 884 230.5C887.7 227.2 891.6 223.4 895.5 219C899.4 214.6 903.4 208.9 907.1 204.3C910.8 199.8 914.1 195.7 917.6 191.7C921.1 187.7 924.5 183.5 928 180.2C931.5 176.9 935 174.6 938.5 171.8C942 169 945.3 166 949 163.4C952.7 160.8 956.7 158.6 960.5 156.5C964.3 154.4 968 152.7 972 150.9C976 149.2 980.8 147.3 984.6 146C988.5 144.7 991.6 143.8 995.1 142.9C998.6 142 1002.1 141.5 1005.6 140.8C1009.1 140.1 1012.6 139.5 1016.1 138.9C1019.6 138.3 1024.8 137.5 1026.5 137.2" stroke="#000" stroke-width="2.9" fill="none" stroke-linecap="round"/>
<path d="M852.3 236.7L858.9 249.7L845.7 249.7Z" fill="#000" stroke="#000" stroke-width="1" stroke-linejoin="round"/>
<path d="M895.8 210.3L902.4 223.3L889.2 223.3Z" fill="#000" stroke="#000" stroke-width="1" stroke-linejoin="round"/>
<path d="M939.4 170.2L946 183.2L932.8 183.2Z" fill="#000" stroke="#000" stroke-width="1" stroke-linejoin="round"/>
<path d="M961.2 144.3L967.8 157.3L954.6 157.3Z" fill="#000" stroke="#000" stroke-width="1" stroke-linejoin="round"/>
<path d="M1004.7 135.9L1011.3 148.9L998.1 148.9Z" fill="#000" stroke="#000" stroke-width="1" stroke-linejoin="round"/>
<path d="M1026.5 129.1L1033.1 142.1L1019.9 142.1Z" fill="#000" stroke="#000" stroke-width="1" stroke-linejoin="round"/>
</g>
<g id="pE">
<rect x="5.8" y="440.5" width="190.7" height="13.9" fill="#5a5a5a"/>
<path d="M5.8 432.7l1.2 -1l1.3 .2l1.3 .4l1.2 -.9l1.3 .2l1.2 -.5l1.3 .1l1.2 .5l1.3 -.3l1.2 -.5l1.3 .5l1.2 -.5l1.3 -.7l1.2 0l1.3 -.1l1.2 .2l1.3 .3l1.2 .2l1.3 -.9l1.2 .4l1.2 -.2l1.3 .1l1.2 -.5l1.3 .4l1.2 -.4l1.3 -.1l1.2 .4l1.3 -.5l1.2 .3l1.3 -.2l1.2 .1l1.3 .1l1.2 .3l1.3 .3l1.2 -1l1.3 -.1l1.2 .2l1.3 .6l1.2 .2l1.3 -1l1.2 .7l1.3 -.4l1.2 -.3l1.3 .6l1.2 -.1l1.3 -.2l1.2 .2l1.3 -.3l1.2 0l1.3 1l1.2 -1.4l1.3 .8l1.2 -.5l1.3 .7l1.2 -.7l1.3 -.1l1.2 .5l1.3 .1l1.2 -.1l1.3 -.5l1.2 .6l1.3 -.3l1.2 -.2l1.3 .6l1.2 0l1.3 -.6l1.2 .6l1.3 0l1.2 -.2l1.3 -.4l1.2 -.2l1.3 .5l1.2 .2l1.3 -.6l1.2 .1l1.3 .5l1.2 -.2l1.3 -.4l1.2 .5l1.3 .3l1.2 -.9l1.3 .8l1.2 0l1.3 -.9l1.2 .1l1.3 .5l1.2 .3l1.3 -.3l1.2 .2l1.3 -.4l1.2 .5l1.3 -.8l1.2 .4l1.3 -.1l1.2 -.1l1.3 .4l1.2 -.7l1.3 .4l1.3 -.2l1.2 -.1l1.3 .7l1.2 0l1.3 -.9l1.2 .5l1.3 -.1l1.2 .1l1.3 -.1l1.2 -.1l1.3 -.2l1.2 .7l1.3 -.8l1.2 .1l1.3 .2l1.2 -.2l1.3 .4l1.2 .5l1.3 -.3l1.2 -.5l1.3 .7l1.2 -.2l1.3 -.2l1.2 0l1.3 -.2l1.2 0l1.3 0l1.2 -.1l1.3 .7l1.2 .1l1.3 -.1l1.2 -.1l1.3 -.6l1.2 .1l1.3 0l1.2 -.2l1.3 .8l1.2 -.9l1.3 0l1.2 1l1.3 -.4l1.2 .2l1.3 0l1.2 .2l1.3 -.4l1.2 .2l1.3 .2l1.2 -.5l1.3 0l1.2 -.1l1.3 .5l1.2 -.8l1.3 .8l1.2 -.6" stroke="#111" stroke-width="2" fill="none" stroke-linejoin="round"/>
<path d="M5.8 436.3l1.2 -1.1l1.3 -.2l1.3 .6l1.2 -.2l1.3 .3l1.2 -.7l1.3 -.2l1.2 0l1.3 0l1.2 -.4l1.3 .5l1.2 -.4l1.3 .2l1.2 .2l1.3 -.9l1.2 .3l1.3 -.5l1.2 .1l1.3 .7l1.2 -.5l1.2 .1l1.3 -.3l1.2 -.2l1.3 0l1.2 0l1.3 -.3l1.2 .6l1.3 .1l1.2 .6l1.3 -.7l1.2 -.7l1.3 .2l1.2 .5l1.3 .2l1.2 -.9l1.3 .3l1.2 -.4l1.3 .7l1.2 -.7l1.3 -.1l1.2 0l1.3 1l1.2 -.5l1.3 .1l1.2 .2l1.3 .1l1.2 0l1.3 -.9l1.2 -.1l1.3 1.1l1.2 -.8l1.3 -.3l1.2 .9l1.3 -.8l1.2 .2l1.3 0l1.2 .4l1.3 -.1l1.2 .3l1.3 -.4l1.2 .4l1.3 -.5l1.2 -.4l1.3 0l1.2 .8l1.3 -.6l1.2 .3l1.3 -.1l1.2 0l1.3 -.4l1.2 -.1l1.3 .2l1.2 .5l1.3 .1l1.2 -.2l1.3 -.1l1.2 -.4l1.3 .3l1.2 -.2l1.3 .1l1.2 .1l1.3 -.2l1.2 1.1l1.3 -1.2l1.2 1l1.3 -.8l1.2 .6l1.3 -.8l1.2 0l1.3 .6l1.2 -.1l1.3 -.3l1.2 -.3l1.3 1l1.2 -.5l1.3 .2l1.2 -.4l1.3 .1l1.3 .1l1.2 .5l1.3 -.5l1.2 -.4l1.3 .1l1.2 -.1l1.3 .7l1.2 -.3l1.3 -.3l1.2 .8l1.3 -.2l1.2 -.3l1.3 .2l1.2 .1l1.3 -.6l1.2 .6l1.3 -.8l1.2 1l1.3 -.4l1.2 0l1.3 -.3l1.2 .2l1.3 -.5l1.2 .2l1.3 .6l1.2 -.2l1.3 0l1.2 .6l1.3 -.7l1.2 .2l1.3 -.5l1.2 .6l1.3 -.8l1.2 .4l1.3 .1l1.2 -.3l1.3 .8l1.2 -.1l1.3 -.7l1.2 .8l1.3 -.9l1.2 -.1l1.3 1.1l1.2 -1.1l1.3 .8l1.2 -.7l1.3 .4l1.2 -.4l1.3 .3l1.2 -.1l1.3 -.3l1.2 .1l1.3 .2l1.2 .3" stroke="#111" stroke-width="2" fill="none" stroke-linejoin="round"/>
<path d="M5.8 438.8l1.2 0l1.3 -.9l1.3 .8l1.2 -.4l1.3 .2l1.2 -.3l1.3 .2l1.2 -.1l1.3 -.6l1.2 .1l1.3 .2l1.2 -.8l1.3 .4l1.2 .3l1.3 -.5l1.2 -.3l1.3 .8l1.2 -.4l1.3 .2l1.2 -.6l1.2 .1l1.3 -.2l1.2 -.1l1.3 .4l1.2 .3l1.3 -.6l1.2 .4l1.3 -.6l1.2 .5l1.3 -.5l1.2 -.3l1.3 .4l1.2 .2l1.3 -.4l1.2 -.2l1.3 .6l1.2 .3l1.3 -.7l1.2 -.1l1.3 -.1l1.2 .9l1.3 -.1l1.2 -.2l1.3 -.1l1.2 -.5l1.3 .8l1.2 .1l1.3 -.4l1.2 .1l1.3 .1l1.2 0l1.3 0l1.2 -.7l1.3 .6l1.2 -.3l1.3 .4l1.2 -.2l1.3 -.7l1.2 .9l1.3 -.9l1.2 .2l1.3 .7l1.2 -.4l1.3 .4l1.2 -.5l1.3 -.3l1.2 .7l1.3 -.9l1.2 .7l1.3 -.2l1.2 0l1.3 -.2l1.2 .7l1.3 -.6l1.2 0l1.3 -.2l1.2 .2l1.3 0l1.2 .6l1.3 -.2l1.2 -.4l1.3 .3l1.2 -.1l1.3 -.5l1.2 .4l1.3 -.1l1.2 .5l1.3 -.3l1.2 -.3l1.3 .6l1.2 0l1.3 0l1.2 -.3l1.3 .2l1.2 -.6l1.3 .8l1.2 -.8l1.3 .2l1.3 -.1l1.2 .1l1.3 -.1l1.2 -.2l1.3 .3l1.2 .5l1.3 .1l1.2 -.2l1.3 -.6l1.2 .2l1.3 .1l1.2 .4l1.3 -.1l1.2 -.8l1.3 1l1.2 -.5l1.3 .6l1.2 -1.1l1.3 .2l1.2 .4l1.3 -.5l1.2 .6l1.3 .2l1.2 .2l1.3 -.6l1.2 -.3l1.3 .6l1.2 -.4l1.3 .2l1.2 -.3l1.3 .7l1.2 -.6l1.3 0l1.2 -.2l1.3 -.2l1.2 .1l1.3 .6l1.2 -.4l1.3 .1l1.2 .5l1.3 -.3l1.2 .5l1.3 -1.1l1.2 1l1.3 -.2l1.2 0l1.3 -.2l1.2 .3l1.3 -.2l1.2 -.5l1.3 .8l1.2 -.5l1.3 .1l1.2 .4" stroke="#111" stroke-width="2.1" fill="none" stroke-linejoin="round"/>
<path d="M5.8 441.6l1.2 -.6l1.3 .2l1.3 -.2l1.2 -.3l1.3 -.2l1.2 .3l1.3 -.1l1.2 0l1.3 -.1l1.2 -.3l1.3 .1l1.2 .2l1.3 -.1l1.2 -.1l1.3 -.5l1.2 .3l1.3 0l1.2 -.3l1.3 0l1.2 0l1.2 .3l1.3 0l1.2 .5l1.3 -.9l1.2 .3l1.3 -.5l1.2 .7l1.3 -.1l1.2 .1l1.3 -.2l1.2 -.2l1.3 -.4l1.2 .8l1.3 -.4l1.2 .2l1.3 -.1l1.2 -.4l1.3 .4l1.2 -.2l1.3 .6l1.2 .1l1.3 -.8l1.2 .7l1.3 -.4l1.2 .2l1.3 -.6l1.2 -.2l1.3 .2l1.2 .7l1.3 -.5l1.2 .6l1.3 -.2l1.2 -.4l1.3 0l1.2 -.3l1.3 .9l1.2 -.7l1.3 .5l1.2 -.5l1.3 -.1l1.2 .2l1.3 .3l1.2 .1l1.3 -.6l1.2 .4l1.3 .1l1.2 .1l1.3 0l1.2 -.1l1.3 0l1.2 -.2l1.3 -.4l1.2 -.1l1.3 .9l1.2 -.5l1.3 .3l1.2 -.4l1.3 .4l1.2 -.1l1.3 -.2l1.2 .4l1.3 -.1l1.2 .2l1.3 -1.5l1.2 1.1l1.3 -.4l1.2 0l1.3 .4l1.2 0l1.3 -.1l1.2 .6l1.3 -.3l1.2 -.7l1.3 .1l1.2 0l1.3 .7l1.2 -.1l1.3 .2l1.3 -.9l1.2 .9l1.3 -.4l1.2 -.5l1.3 0l1.2 .7l1.3 -.4l1.2 -.1l1.3 -.1l1.2 0l1.3 .8l1.2 .4l1.3 -.9l1.2 .1l1.3 0l1.2 -.2l1.3 .6l1.2 -1l1.3 .1l1.2 0l1.3 .2l1.2 .6l1.3 -.3l1.2 -.5l1.3 0l1.2 .1l1.3 0l1.2 .8l1.3 -.3l1.2 .3l1.3 -.5l1.2 .3l1.3 -.2l1.2 -.5l1.3 .9l1.2 0l1.3 -.7l1.2 .5l1.3 -.6l1.2 .2l1.3 .2l1.2 -.2l1.3 -.3l1.2 .6l1.3 .3l1.2 -.5l1.3 .2l1.2 .2l1.3 -.7l1.2 .8l1.3 -.6l1.2 -.1l1.3 -.3l1.2 0" stroke="#111" stroke-width="2.1" fill="none" stroke-linejoin="round"/>
<path d="M5.8 443.6l1.2 .4l1.3 -.5l1.3 .3l1.2 -.6l1.3 .2l1.2 .3l1.3 0l1.2 -.3l1.3 -.5l1.2 .5l1.3 .3l1.2 -.6l1.3 .3l1.2 -.6l1.3 .6l1.2 .1l1.3 -.1l1.2 .2l1.3 -.1l1.2 -.3l1.2 -.3l1.3 .6l1.2 -.5l1.3 .1l1.2 -.6l1.3 0l1.2 .7l1.3 0l1.2 -.2l1.3 .1l1.2 -.3l1.3 .1l1.2 -.2l1.3 -.2l1.2 .1l1.3 .8l1.2 -.1l1.3 -.5l1.2 -.1l1.3 .7l1.2 -.5l1.3 .9l1.2 -1.1l1.3 .5l1.2 0l1.3 -.4l1.2 .4l1.3 -.6l1.2 .2l1.3 .5l1.2 -.9l1.3 .4l1.2 .2l1.3 -.5l1.2 .7l1.3 -.2l1.2 0l1.3 -.5l1.2 .2l1.3 .5l1.2 -.1l1.3 -.5l1.2 .7l1.3 -.5l1.2 .1l1.3 0l1.2 -.2l1.3 .4l1.2 -.4l1.3 -.3l1.2 .3l1.3 .1l1.2 .4l1.3 0l1.2 -.3l1.3 0l1.2 -.4l1.3 .1l1.2 .1l1.3 .4l1.2 -.3l1.3 0l1.2 -.4l1.3 .3l1.2 .1l1.3 0l1.2 -.5l1.3 .2l1.2 .2l1.3 0l1.2 -.2l1.3 -.1l1.2 .7l1.3 -.5l1.2 .5l1.3 .1l1.2 -.8l1.3 .1l1.3 .7l1.2 0l1.3 -.6l1.2 .1l1.3 -.2l1.2 .4l1.3 -.4l1.2 .5l1.3 -.4l1.2 .2l1.3 -.2l1.2 .5l1.3 -.7l1.2 .6l1.3 .3l1.2 -.3l1.3 -.4l1.2 0l1.3 .2l1.2 -.4l1.3 .3l1.2 -.3l1.3 .1l1.2 .4l1.3 .3l1.2 -.1l1.3 -.8l1.2 .2l1.3 .6l1.2 -.6l1.3 .5l1.2 .3l1.3 -.7l1.2 .2l1.3 .3l1.2 .1l1.3 -.5l1.2 -.1l1.3 .7l1.2 0l1.3 -.2l1.2 -.5l1.3 .7l1.2 -.7l1.3 -.2l1.2 .5l1.3 -.6l1.2 .6l1.3 -.5l1.2 -.1l1.3 0l1.2 .5l1.3 .2l1.2 -.2" stroke="#111" stroke-width="2.1" fill="none" stroke-linejoin="round"/>
<path d="M5.8 446l1.2 .8l1.3 -.5l1.3 .4l1.2 -.7l1.3 .2l1.2 .2l1.3 .1l1.2 -.2l1.3 .2l1.2 -.2l1.3 .2l1.2 -.7l1.3 .6l1.2 -.8l1.3 .1l1.2 .5l1.3 .1l1.2 -.4l1.3 -.9l1.2 1.4l1.2 -.7l1.3 0l1.2 .6l1.3 -.3l1.2 -.6l1.3 .7l1.2 -.1l1.3 -.1l1.2 -.4l1.3 .2l1.2 -.2l1.3 .6l1.2 -.7l1.3 .7l1.2 -.9l1.3 .8l1.2 0l1.3 -.4l1.2 -.1l1.3 -.2l1.2 .7l1.3 -.4l1.2 .3l1.3 .1l1.2 .1l1.3 -.1l1.2 .2l1.3 -.4l1.2 .3l1.3 -.3l1.2 .2l1.3 -.6l1.2 .1l1.3 .5l1.2 -.5l1.3 .3l1.2 -.2l1.3 -.4l1.2 .4l1.3 .3l1.2 -.5l1.3 0l1.2 .6l1.3 -.7l1.2 .6l1.3 -.3l1.2 -.4l1.3 .5l1.2 -.3l1.3 .3l1.2 -.3l1.3 0l1.2 .4l1.3 -.2l1.2 -.4l1.3 .8l1.2 -.5l1.3 -.1l1.2 .8l1.3 -.2l1.2 .2l1.3 -.9l1.2 .2l1.3 .6l1.2 -.7l1.3 0l1.2 0l1.3 .5l1.2 .1l1.3 -.5l1.2 0l1.3 .7l1.2 -.6l1.3 -.2l1.2 .8l1.3 0l1.2 -1l1.3 1.1l1.3 -.2l1.2 -.5l1.3 -.2l1.2 .8l1.3 -.4l1.2 -.3l1.3 .6l1.2 .1l1.3 -1.2l1.2 1l1.3 .2l1.2 -.9l1.3 .1l1.2 -.2l1.3 .3l1.2 -.3l1.3 .4l1.2 0l1.3 -.4l1.2 .3l1.3 .5l1.2 -.2l1.3 -.2l1.2 .1l1.3 .5l1.2 0l1.3 -.9l1.2 -.1l1.3 1l1.2 0l1.3 -.2l1.2 .2l1.3 -.9l1.2 0l1.3 .3l1.2 -.3l1.3 .5l1.2 .1l1.3 -.7l1.2 .5l1.3 .3l1.2 -.5l1.3 .6l1.2 -.4l1.3 .5l1.2 -.8l1.3 -.1l1.2 .6l1.3 .3l1.2 -.1l1.3 -.3l1.2 .4l1.3 0l1.2 -.3" stroke="#111" stroke-width="2.2" fill="none" stroke-linejoin="round"/>
<path d="M5.8 448.6l1.2 .3l1.3 0l1.3 .4l1.2 -.6l1.3 -1.3l1.2 1.8l1.3 -.2l1.2 -.1l1.3 -.1l1.2 .1l1.3 .3l1.2 0l1.3 -.3l1.2 .3l1.3 -.7l1.2 .4l1.3 -.1l1.2 .2l1.3 -.1l1.2 -.7l1.2 .7l1.3 .9l1.2 -1.1l1.3 -.6l1.2 .5l1.3 0l1.2 .5l1.3 -.3l1.2 -.6l1.3 .9l1.2 -.4l1.3 -.1l1.2 0l1.3 -.3l1.2 0l1.3 -.1l1.2 .9l1.3 -1.1l1.2 .6l1.3 .4l1.2 -1l1.3 .2l1.2 .7l1.3 -.3l1.2 -.2l1.3 .4l1.2 -.7l1.3 -.1l1.2 .5l1.3 -.4l1.2 .4l1.3 -.4l1.2 .5l1.3 .9l1.2 -1.1l1.3 .7l1.2 -.7l1.3 .1l1.2 -.4l1.3 .8l1.2 -.2l1.3 -.5l1.2 -.1l1.3 0l1.2 .2l1.3 .4l1.2 .1l1.3 -.3l1.2 .3l1.3 -.4l1.2 -.3l1.3 .3l1.2 -.1l1.3 .4l1.2 -.6l1.3 .9l1.2 -.9l1.3 .5l1.2 -.6l1.3 .5l1.2 -.2l1.3 -.3l1.2 .4l1.3 .2l1.2 -.5l1.3 .1l1.2 .2l1.3 0l1.2 0l1.3 0l1.2 .6l1.3 -.2l1.2 0l1.3 .3l1.2 -1.1l1.3 .7l1.2 .3l1.3 -.3l1.3 .4l1.2 -.3l1.3 -.3l1.2 .3l1.3 -.8l1.2 .5l1.3 .5l1.2 -.5l1.3 0l1.2 -.5l1.3 1l1.2 -.4l1.3 -.3l1.2 .5l1.3 -.2l1.2 0l1.3 -.2l1.2 .2l1.3 -.2l1.2 .4l1.3 -.6l1.2 .4l1.3 -.6l1.2 .2l1.3 -.1l1.2 .2l1.3 .1l1.2 .2l1.3 .3l1.2 -.1l1.3 0l1.2 0l1.3 -.2l1.2 -.1l1.3 -.2l1.2 .6l1.3 .1l1.2 -.1l1.3 -.8l1.2 .6l1.3 -.6l1.2 .6l1.3 -.2l1.2 .5l1.3 -.3l1.2 .2l1.3 -.9l1.2 .7l1.3 .3l1.2 -.5l1.3 -.4l1.2 .6l1.3 -.1l1.2 .2" stroke="#111" stroke-width="2.2" fill="none" stroke-linejoin="round"/>
<path d="M5.8 451l1.2 .7l1.3 0l1.3 -.4l1.2 -.4l1.3 .1l1.2 .7l1.3 .1l1.2 -.6l1.3 .4l1.2 .3l1.3 -.4l1.2 -.5l1.3 0l1.2 .1l1.3 .6l1.2 -.6l1.3 .5l1.2 .2l1.3 -.4l1.2 -.3l1.2 .8l1.3 -.7l1.2 -.4l1.3 .5l1.2 -.2l1.3 .2l1.2 -.2l1.3 -.9l1.2 .8l1.3 .5l1.2 -.7l1.3 1l1.2 -.1l1.3 -.2l1.2 0l1.3 -.1l1.2 -.4l1.3 .3l1.2 -.1l1.3 .2l1.2 -.3l1.3 .3l1.2 0l1.3 -.3l1.2 .4l1.3 0l1.2 -.1l1.3 0l1.2 -.3l1.3 .7l1.2 -.7l1.3 -.3l1.2 .2l1.3 0l1.2 .5l1.3 .2l1.2 -.4l1.3 -.1l1.2 .1l1.3 .2l1.2 .1l1.3 .1l1.2 -.1l1.3 -.5l1.2 .5l1.3 -.2l1.2 .3l1.3 -.7l1.2 .4l1.3 -.6l1.2 .9l1.3 -.8l1.2 .8l1.3 -.9l1.2 .6l1.3 -.1l1.2 .2l1.3 -.6l1.2 0l1.3 .3l1.2 -.3l1.3 .1l1.2 -.1l1.3 .4l1.2 .2l1.3 .3l1.2 -.8l1.3 .6l1.2 -.2l1.3 .4l1.2 -.5l1.3 -.4l1.2 .7l1.3 .2l1.2 -.7l1.3 -.1l1.2 -.3l1.3 .9l1.3 -.2l1.2 -.3l1.3 .7l1.2 -.3l1.3 .1l1.2 -.7l1.3 .4l1.2 0l1.3 -.2l1.2 -.3l1.3 0l1.2 .9l1.3 -.4l1.2 -.4l1.3 .8l1.2 0l1.3 -.2l1.2 -.6l1.3 .1l1.2 -.1l1.3 .2l1.2 .6l1.3 -.3l1.2 .2l1.3 .1l1.2 .7l1.3 -1.1l1.2 -.4l1.3 .7l1.2 -.6l1.3 .4l1.2 0l1.3 -.6l1.2 .6l1.3 .3l1.2 -.4l1.3 -.1l1.2 0l1.3 -.2l1.2 0l1.3 .8l1.2 -.2l1.3 -.1l1.2 -.5l1.3 .6l1.2 -.4l1.3 .6l1.2 -1l1.3 0l1.2 .9l1.3 -.8l1.2 -.1l1.3 .1l1.2 .1" stroke="#111" stroke-width="2.3" fill="none" stroke-linejoin="round"/>
<path d="M5.8 454.4l1.2 -.2l1.3 -.3l1.3 -.2l1.2 -.2l1.3 .6l1.2 0l1.3 -.3l1.2 .1l1.3 .4l1.2 -.5l1.3 .5l1.2 -.3l1.3 -.3l1.2 .1l1.3 .2l1.2 .2l1.3 -.5l1.2 .1l1.3 0l1.2 .1l1.2 .4l1.3 .2l1.2 -.4l1.3 .4l1.2 -.1l1.3 -.1l1.2 -.5l1.3 .1l1.2 0l1.3 -.1l1.2 .4l1.3 -.1l1.2 -.1l1.3 .1l1.2 0l1.3 -.5l1.2 .2l1.3 -.3l1.2 .3l1.3 -.1l1.2 .8l1.3 -.6l1.2 -.2l1.3 .5l1.2 .1l1.3 -.5l1.2 -.3l1.3 .8l1.2 -.2l1.3 -.6l1.2 .1l1.3 .7l1.2 .1l1.3 -.2l1.2 -.6l1.3 .5l1.2 -.5l1.3 .8l1.2 .1l1.3 -1l1.2 .9l1.3 -.4l1.2 -.1l1.3 -.1l1.2 .3l1.3 -.5l1.2 .5l1.3 -.1l1.2 .5l1.3 -.5l1.2 .1l1.3 -.2l1.2 -.1l1.3 .3l1.2 -.6l1.3 .2l1.2 .7l1.3 -.2l1.2 -.2l1.3 -.4l1.2 .1l1.3 0l1.2 .2l1.3 .1l1.2 -.3l1.3 .3l1.2 -.7l1.3 .5l1.2 .3l1.3 -.5l1.2 .9l1.3 -.9l1.2 .4l1.3 .4l1.2 -.5l1.3 .6l1.2 -.5l1.3 .2l1.3 .1l1.2 0l1.3 .1l1.2 -.9l1.3 .7l1.2 -.2l1.3 -.5l1.2 .8l1.3 0l1.2 -.3l1.3 .2l1.2 -.6l1.3 .7l1.2 -.2l1.3 -.4l1.2 .8l1.3 -.3l1.2 -.2l1.3 -.2l1.2 .5l1.3 .2l1.2 0l1.3 -.4l1.2 -.6l1.3 .1l1.2 .1l1.3 .5l1.2 .2l1.3 -.7l1.2 .5l1.3 -.3l1.2 .6l1.3 -.4l1.2 -.6l1.3 .9l1.2 0l1.3 0l1.2 -.3l1.3 -.5l1.2 .2l1.3 .4l1.2 .3l1.3 -.3l1.2 -.7l1.3 .9l1.2 -.4l1.3 .1l1.2 -.1l1.3 -.5l1.2 0l1.3 .1l1.2 -.1l1.3 1l1.2 -.6" stroke="#111" stroke-width="2.3" fill="none" stroke-linejoin="round"/>
<path d="M10 441.3L15.8 441.5M18 441.5L31.8 441.5M38.1 441.7L48.3 441.4M55.2 441.4L68.8 441.7M70.3 441.5L81.3 441.2M86.5 441.4L100.1 441.4M107.4 441.1L122.3 441M129.6 441.3L142.5 441.6M151 441.2L161.7 441M162.9 441.3L171 441M173.8 441.5L188 441.4M189.9 441.6L194.5 441.8" stroke="#efefef" stroke-width=".7" fill="none"/>
<path d="M11.9 444.3L18.4 444M23.1 444L28.5 444.1M34.5 444.5L41.6 444.5M49.9 444L64.6 444M66.8 444.4L79.3 444.2M84.2 444.5L88.2 444.5M92.1 444.6L104.2 444.8M109.6 444.2L112.9 444M121.5 444.5L128.8 444.4M139.3 444.3L154.4 444M163.8 444L177.9 444.1M180.3 444.1L187.4 443.9" stroke="#efefef" stroke-width=".6" fill="none"/>
<path d="M13.7 447.4L23.3 447.3M26.9 447.3L33.6 447.2M40.1 447.2L54.4 447.1M68 446.9L72.8 447M81.3 447.3L93.2 447.4M97.5 446.9L109.9 446.7M115.7 447.1L123.7 446.9M134.1 447.5L142 447.4M155.1 447.2L168.6 447.3M171.6 447.4L186.4 447.7M189.4 447L194.5 446.8" stroke="#efefef" stroke-width=".6" fill="none"/>
<path d="M8.4 450.2L19 450.1M36.3 450L50.5 450.2M57.5 450L68.5 449.7M88.4 449.9L94.8 450.1M105.8 450.2L110.4 450.5M121.7 449.6L128.9 449.4M148.7 449.7L161.5 449.7M165.6 450.2L175 449.9M186.3 449.6L194.5 449.6" stroke="#efefef" stroke-width=".6" fill="none"/>
<path d="M12.9 452.7L22.8 452.7M42.2 452.8L57.9 452.6M66.8 452.8L76.2 452.9M86 452.4L91.5 452.5M95.6 452.6L98.8 452.8M125.4 452.5L131.9 452.3M138.4 452.8L144 453M163.9 452.4L177 452.7" stroke="#efefef" stroke-width=".5" fill="none"/>
<path d="M6.1 431.6L6.1 455" stroke="#000" stroke-width="1.7" stroke-linecap="butt" fill="none"/>
<path d="M196.2 428.6L196.2 455" stroke="#000" stroke-width="1.7" stroke-linecap="butt" fill="none"/>
<path d="M1.8 451L7.8 451" stroke="#000" stroke-width="3.2" stroke-linecap="butt" fill="none"/>
<path d="M194.5 451L203 451" stroke="#000" stroke-width="3.2" stroke-linecap="butt" fill="none"/>
<rect x="60.3" y="402.1" width="13.2" height="13.2" fill="#000" stroke="#000" stroke-width="1.4"/>
<text x="86.3" y="414.7" font-size="15.5" font-weight="normal" fill="#000" stroke="#000" stroke-width=".3" textLength="50.3" lengthAdjust="spacingAndGlyphs">Control</text>
<rect x="5.8" y="515.6" width="190.7" height="12.1" fill="#5a5a5a"/>
<path d="M5.8 496.4l1.2 .3l1.3 -.7l1.3 .6l1.2 0l1.3 -.6l1.2 .3l1.3 -.8l1.2 -.1l1.3 .6l1.2 -.5l1.3 -.7l1.2 .7l1.3 .1l1.2 -1.1l1.3 .4l1.2 .2l1.3 -.2l1.2 .1l1.3 -.3l1.2 .3l1.2 -.5l1.3 0l1.2 -.3l1.3 .5l1.2 -.7l1.3 .7l1.2 -.2l1.3 .3l1.2 -.6l1.3 -.1l1.2 .6l1.3 -.7l1.2 -.2l1.3 .3l1.2 -.4l1.3 0l1.2 .4l1.3 -.3l1.2 -.2l1.3 .3l1.2 .6l1.3 0l1.2 .4l1.3 -1l1.2 .6l1.3 -.6l1.2 .5l1.3 -.5l1.2 .1l1.3 .2l1.2 0l1.3 .1l1.2 .1l1.3 -.5l1.2 0l1.3 -.4l1.2 0l1.3 .4l1.2 0l1.3 -.4l1.2 .6l1.3 -.1l1.2 -.2l1.3 .1l1.2 0l1.3 .1l1.2 .7l1.3 -1.5l1.2 1.6l1.3 -.6l1.2 -.3l1.3 -.4l1.2 1.1l1.3 -.4l1.2 -.1l1.3 .2l1.2 .1l1.3 -.3l1.2 .7l1.3 -.9l1.2 -.1l1.3 .4l1.2 -.4l1.3 -.4l1.2 1l1.3 -.5l1.2 -.5l1.3 .3l1.2 .7l1.3 -.5l1.2 .1l1.3 .2l1.2 -.1l1.3 .3l1.2 -.8l1.3 .2l1.2 -.3l1.3 -.1l1.3 .4l1.2 .6l1.3 0l1.2 -.1l1.3 -.9l1.2 .4l1.3 -.4l1.2 .3l1.3 .5l1.2 0l1.3 -.7l1.2 .9l1.3 -.4l1.2 -.5l1.3 .2l1.2 .7l1.3 -.8l1.2 .3l1.3 -.4l1.2 .3l1.3 .2l1.2 -.3l1.3 .3l1.2 .3l1.3 -.6l1.2 .2l1.3 -.5l1.2 .5l1.3 .4l1.2 -.2l1.3 -.3l1.2 -.2l1.3 .8l1.2 -.9l1.3 .3l1.2 .4l1.3 -.1l1.2 0l1.3 -.6l1.2 .5l1.3 .4l1.2 0l1.3 -.1l1.2 -.8l1.3 .4l1.2 .1l1.3 -.6l1.2 .1l1.3 .7l1.2 -.7l1.3 .9l1.2 -.9l1.3 -.1l1.2 .3" stroke="#111" stroke-width="2" fill="none" stroke-linejoin="round"/>
<path d="M5.8 501.5l1.2 -.8l1.3 .3l1.3 -.1l1.2 -.5l1.3 -.3l1.2 -.1l1.3 .6l1.2 -.6l1.3 .5l1.2 -.9l1.3 .1l1.2 -.1l1.3 0l1.2 .5l1.3 -.4l1.2 -.3l1.3 0l1.2 .2l1.3 -.4l1.2 .4l1.2 .2l1.3 -.8l1.2 -.1l1.3 .1l1.2 .7l1.3 -.7l1.2 .4l1.3 -.7l1.2 .5l1.3 .2l1.2 -.6l1.3 -.2l1.2 1l1.3 -.9l1.2 0l1.3 .3l1.2 .2l1.3 -.6l1.2 .4l1.3 .2l1.2 -.6l1.3 .3l1.2 -.4l1.3 -.2l1.2 1l1.3 -.3l1.2 -.3l1.3 -.4l1.2 .5l1.3 .2l1.2 -.3l1.3 -.2l1.2 -.2l1.3 1l1.2 .1l1.3 -.6l1.2 -.4l1.3 0l1.2 .7l1.3 0l1.2 0l1.3 -.2l1.2 -.4l1.3 .5l1.2 -.2l1.3 -.6l1.2 .9l1.3 -.7l1.2 .1l1.3 .2l1.2 .1l1.3 -.5l1.2 .9l1.3 -.3l1.2 0l1.3 .1l1.2 -.5l1.3 0l1.2 -.1l1.3 .3l1.2 .2l1.3 -.1l1.2 -.4l1.3 .7l1.2 -.9l1.3 -.3l1.2 1.2l1.3 -.2l1.2 -.6l1.3 .9l1.2 .1l1.3 -.7l1.2 .5l1.3 -.6l1.2 .1l1.3 .2l1.2 .4l1.3 0l1.3 -.4l1.2 -.6l1.3 .5l1.2 .5l1.3 -.6l1.2 .3l1.3 -.1l1.2 -.2l1.3 .5l1.2 .1l1.3 -.9l1.2 .8l1.3 .2l1.2 -.4l1.3 -.1l1.2 0l1.3 .4l1.2 -.5l1.3 .1l1.2 .4l1.3 -.9l1.2 .6l1.3 -.6l1.2 -.1l1.3 .1l1.2 .7l1.3 0l1.2 .3l1.3 -.5l1.2 1l1.3 -.8l1.2 -.7l1.3 .7l1.2 -.3l1.3 .4l1.2 -.2l1.3 -.5l1.2 .7l1.3 -.6l1.2 .2l1.3 -.5l1.2 .8l1.3 -.7l1.2 0l1.3 0l1.2 -.1l1.3 1l1.2 -.9l1.3 .6l1.2 -.8l1.3 1.1l1.2 -.7l1.3 .5l1.2 0" stroke="#111" stroke-width="2" fill="none" stroke-linejoin="round"/>
<path d="M5.8 504.6l1.2 -.5l1.3 .4l1.3 .1l1.2 -.3l1.3 -.2l1.2 -.1l1.3 0l1.2 .2l1.3 .1l1.2 -.8l1.3 .3l1.2 -.1l1.3 -.4l1.2 -.2l1.3 .4l1.2 0l1.3 .2l1.2 -.8l1.3 .3l1.2 .5l1.2 0l1.3 0l1.2 0l1.3 -.6l1.2 .1l1.3 -.3l1.2 .6l1.3 0l1.2 0l1.3 -.5l1.2 -.2l1.3 .6l1.2 -.5l1.3 .4l1.2 -.7l1.3 .1l1.2 .4l1.3 .2l1.2 -.4l1.3 -.3l1.2 -.1l1.3 .3l1.2 -.3l1.3 0l1.2 .9l1.3 -.1l1.2 -.8l1.3 .5l1.2 .1l1.3 -.5l1.2 .7l1.3 -.1l1.2 .6l1.3 -1l1.2 .2l1.3 -.3l1.2 .2l1.3 .5l1.2 -.6l1.3 -.7l1.2 .7l1.3 0l1.2 -.5l1.3 .7l1.2 -.7l1.3 .4l1.2 .3l1.3 -.5l1.2 .7l1.3 .1l1.2 -.6l1.3 -.4l1.2 .9l1.3 -.1l1.2 -.5l1.3 -.3l1.2 0l1.3 0l1.2 .6l1.3 0l1.2 -.3l1.3 .6l1.2 .1l1.3 -.5l1.2 .5l1.3 -.7l1.2 -.3l1.3 .2l1.2 .1l1.3 .1l1.2 .2l1.3 -.6l1.2 .3l1.3 .6l1.2 -.4l1.3 -.1l1.2 .1l1.3 -.2l1.3 .6l1.2 .1l1.3 -1l1.2 .6l1.3 -.4l1.2 .6l1.3 -.5l1.2 0l1.3 -.3l1.2 .8l1.3 -.4l1.2 .6l1.3 -.2l1.2 -.4l1.3 -.5l1.2 .6l1.3 -.1l1.2 -.3l1.3 .8l1.2 -.9l1.3 .5l1.2 .4l1.3 -.3l1.2 .1l1.3 -.2l1.2 -.2l1.3 .2l1.2 0l1.3 0l1.2 -.5l1.3 .6l1.2 .1l1.3 -.7l1.2 .2l1.3 .7l1.2 -.5l1.3 .1l1.2 .2l1.3 .3l1.2 0l1.3 -.4l1.2 -.5l1.3 .6l1.2 -.6l1.3 .9l1.2 -.2l1.3 -.7l1.2 .7l1.3 -.5l1.2 .4l1.3 0l1.2 -.2l1.3 -.3l1.2 -.2" stroke="#111" stroke-width="2.1" fill="none" stroke-linejoin="round"/>
<path d="M5.8 508.7l1.2 -.3l1.3 -.9l1.3 .4l1.2 .1l1.3 .2l1.2 -.4l1.3 -.1l1.2 -.5l1.3 .5l1.2 -.3l1.3 0l1.2 -.3l1.3 0l1.2 .6l1.3 -.8l1.2 .2l1.3 0l1.2 0l1.3 -.3l1.2 -.3l1.2 .9l1.3 -.8l1.2 .4l1.3 .4l1.2 -.7l1.3 .6l1.2 -.2l1.3 -.8l1.2 .5l1.3 -.4l1.2 0l1.3 .5l1.2 -.5l1.3 .7l1.2 -.5l1.3 .2l1.2 -.5l1.3 .8l1.2 -.8l1.3 0l1.2 .1l1.3 .3l1.2 -.1l1.3 .2l1.2 .3l1.3 -.4l1.2 .3l1.3 -.2l1.2 -.6l1.3 .5l1.2 -.4l1.3 .8l1.2 -.8l1.3 -.8l1.2 1.5l1.3 -.6l1.2 .5l1.3 .2l1.2 -1l1.3 .8l1.2 0l1.3 .2l1.2 -.2l1.3 .3l1.2 -.6l1.3 .5l1.2 -.2l1.3 -.5l1.2 .5l1.3 -.5l1.2 .2l1.3 .4l1.2 -.1l1.3 .2l1.2 -.7l1.3 .6l1.2 -.2l1.3 -.6l1.2 .3l1.3 .5l1.2 -.2l1.3 .3l1.2 -1l1.3 .3l1.2 -.3l1.3 0l1.2 0l1.3 .6l1.2 -.6l1.3 .9l1.2 0l1.3 0l1.2 -.9l1.3 .3l1.2 .5l1.3 -.5l1.2 .1l1.3 .2l1.3 0l1.2 .1l1.3 .3l1.2 -1l1.3 .3l1.2 .4l1.3 -.2l1.2 .4l1.3 -.6l1.2 .2l1.3 -.2l1.2 .7l1.3 -.5l1.2 .1l1.3 -.4l1.2 .8l1.3 -.5l1.2 .5l1.3 -.4l1.2 -.5l1.3 .8l1.2 -.9l1.3 1l1.2 -.5l1.3 -.7l1.2 1.1l1.3 0l1.2 -.2l1.3 -.3l1.2 -.2l1.3 -.2l1.2 .5l1.3 .1l1.2 -.3l1.3 .1l1.2 0l1.3 .5l1.2 0l1.3 .1l1.2 -.1l1.3 -.9l1.2 .3l1.3 -.3l1.2 .7l1.3 -.4l1.2 .3l1.3 -.1l1.2 -.2l1.3 .6l1.2 -.5l1.3 .6l1.2 -.8l1.3 -.1l1.2 .9" stroke="#111" stroke-width="2.1" fill="none" stroke-linejoin="round"/>
<path d="M5.8 511.1l1.2 .8l1.3 -.3l1.3 -.5l1.2 .2l1.3 .3l1.2 -.1l1.3 -.9l1.2 0l1.3 -.1l1.2 1.2l1.3 -.5l1.2 .1l1.3 -1l1.2 .1l1.3 .5l1.2 .1l1.3 -.3l1.2 -.2l1.3 .2l1.2 -.2l1.2 .3l1.3 -.6l1.2 .3l1.3 .6l1.2 -.8l1.3 -.1l1.2 -.2l1.3 .2l1.2 .4l1.3 .1l1.2 0l1.3 -.4l1.2 -.1l1.3 .2l1.2 -.2l1.3 .6l1.2 -.5l1.3 .1l1.2 .3l1.3 -.8l1.2 .5l1.3 .6l1.2 -.5l1.3 -.6l1.2 .1l1.3 -.3l1.2 .7l1.3 0l1.2 -.3l1.3 .1l1.2 -.3l1.3 .6l1.2 .1l1.3 -.2l1.2 .3l1.3 -.3l1.2 -.6l1.3 .9l1.2 -.5l1.3 .1l1.2 -.1l1.3 .2l1.2 -.6l1.3 .7l1.2 -.4l1.3 .7l1.2 -.1l1.3 -.2l1.2 -.2l1.3 -.3l1.2 .8l1.3 -.4l1.2 -.4l1.3 -.2l1.2 .6l1.3 -.5l1.2 .5l1.3 -.3l1.2 .6l1.3 0l1.2 -.5l1.3 -.3l1.2 .5l1.3 -.4l1.2 -.2l1.3 .6l1.2 -.5l1.3 .5l1.2 .3l1.3 -.3l1.2 -.3l1.3 0l1.2 .2l1.3 -.2l1.2 .6l1.3 -.5l1.2 -.6l1.3 .6l1.3 .4l1.2 .2l1.3 -.8l1.2 .4l1.3 .3l1.2 -.2l1.3 .1l1.2 -.7l1.3 .1l1.2 .1l1.3 .2l1.2 .1l1.3 -.7l1.2 .4l1.3 -.1l1.2 .6l1.3 -.3l1.2 -.2l1.3 -.1l1.2 -.2l1.3 .9l1.2 -.2l1.3 -.1l1.2 .3l1.3 -.6l1.2 -.1l1.3 -.2l1.2 0l1.3 .2l1.2 .7l1.3 -.9l1.2 .3l1.3 -.1l1.2 .2l1.3 .2l1.2 .2l1.3 -.6l1.2 .4l1.3 -.5l1.2 .8l1.3 -.7l1.2 -.2l1.3 .3l1.2 0l1.3 -.3l1.2 1l1.3 -.5l1.2 -.3l1.3 .8l1.2 -.9l1.3 .6l1.2 -.1l1.3 -.2l1.2 .3" stroke="#111" stroke-width="2.1" fill="none" stroke-linejoin="round"/>
<path d="M5.8 514.7l1.2 -.1l1.3 .3l1.3 -.3l1.2 .2l1.3 -.8l1.2 .3l1.3 .3l1.2 -.2l1.3 .1l1.2 0l1.3 0l1.2 -.3l1.3 -.3l1.2 .7l1.3 -1l1.2 .8l1.3 -.1l1.2 .1l1.3 .2l1.2 -.3l1.2 -.5l1.3 -.2l1.2 -.1l1.3 .8l1.2 -.5l1.3 -.1l1.2 .1l1.3 .2l1.2 -.3l1.3 -.3l1.2 .2l1.3 .5l1.2 .3l1.3 -.9l1.2 .5l1.3 .2l1.2 -.6l1.3 .8l1.2 -.9l1.3 .1l1.2 -.1l1.3 .3l1.2 0l1.3 -.5l1.2 .4l1.3 .4l1.2 -.2l1.3 -.6l1.2 .8l1.3 .2l1.2 -.9l1.3 .1l1.2 0l1.3 .1l1.2 .7l1.3 -.2l1.2 -.1l1.3 -.1l1.2 .1l1.3 .3l1.2 -.5l1.3 -.2l1.2 -.1l1.3 .1l1.2 .5l1.3 -.7l1.2 .3l1.3 .3l1.2 .2l1.3 -.3l1.2 -.6l1.3 0l1.2 .3l1.3 -.3l1.2 .2l1.3 .1l1.2 .3l1.3 -.7l1.2 .2l1.3 .1l1.2 .5l1.3 .1l1.2 0l1.3 -.8l1.2 1l1.3 -1l1.2 .1l1.3 .3l1.2 -.1l1.3 .5l1.2 -.4l1.3 -.1l1.2 -.3l1.3 .3l1.2 -.1l1.3 .5l1.2 -.6l1.3 -.1l1.3 .2l1.2 -.2l1.3 .5l1.2 .5l1.3 -.9l1.2 .5l1.3 -.5l1.2 .9l1.3 -.5l1.2 .1l1.3 0l1.2 .1l1.3 -.1l1.2 -.5l1.3 .2l1.2 .1l1.3 .9l1.2 -.7l1.3 .2l1.2 -.2l1.3 -.5l1.2 .5l1.3 .1l1.2 .1l1.3 -.4l1.2 .5l1.3 -.8l1.2 .6l1.3 -.3l1.2 .4l1.3 -.1l1.2 -.7l1.3 .8l1.2 -.4l1.3 .4l1.2 -.8l1.3 .8l1.2 .1l1.3 -.3l1.2 -.5l1.3 .2l1.2 -.2l1.3 .2l1.2 0l1.3 .2l1.2 -.1l1.3 .2l1.2 -.6l1.3 1l1.2 -.7l1.3 .6l1.2 -.4l1.3 -.4l1.2 0" stroke="#111" stroke-width="2.2" fill="none" stroke-linejoin="round"/>
<path d="M5.8 517.4l1.2 .5l1.3 -.4l1.3 .7l1.2 -.6l1.3 -.4l1.2 -.1l1.3 .7l1.2 .3l1.3 -.1l1.2 -.2l1.3 0l1.2 .2l1.3 -.6l1.2 -.1l1.3 .2l1.2 -.2l1.3 .6l1.2 -.2l1.3 -.8l1.2 1l1.2 0l1.3 -.8l1.2 .3l1.3 .6l1.2 -1.1l1.3 .1l1.2 .6l1.3 -.2l1.2 -.2l1.3 .6l1.2 0l1.3 -.6l1.2 .2l1.3 -.6l1.2 .7l1.3 .4l1.2 -.3l1.3 .1l1.2 -.8l1.3 .1l1.2 .8l1.3 -.8l1.2 .1l1.3 .5l1.2 -.6l1.3 .5l1.2 .3l1.3 -.1l1.2 -.1l1.3 -.4l1.2 .3l1.3 0l1.2 -.4l1.3 -.3l1.2 -.3l1.3 .8l1.2 -.4l1.3 .8l1.2 -.8l1.3 -.1l1.2 .6l1.3 .4l1.2 -.3l1.3 -.2l1.2 .1l1.3 -.5l1.2 .7l1.3 -.7l1.2 0l1.3 .2l1.2 .3l1.3 .1l1.2 0l1.3 -.2l1.2 .2l1.3 -.1l1.2 -.3l1.3 .5l1.2 -.8l1.3 .4l1.2 -.1l1.3 -.6l1.2 .7l1.3 -.4l1.2 .9l1.3 -.5l1.2 -.4l1.3 .2l1.2 .5l1.3 -1.1l1.2 .7l1.3 -.1l1.2 .3l1.3 -.1l1.2 .6l1.3 -1l1.2 .9l1.3 -.8l1.3 .7l1.2 0l1.3 -.7l1.2 .8l1.3 -.9l1.2 .6l1.3 .1l1.2 -.1l1.3 .3l1.2 0l1.3 -.5l1.2 .3l1.3 -.8l1.2 .3l1.3 -.2l1.2 .3l1.3 0l1.2 .3l1.3 .2l1.2 -.7l1.3 -.1l1.2 0l1.3 .9l1.2 -.5l1.3 .4l1.2 -.3l1.3 .3l1.2 0l1.3 0l1.2 -.8l1.3 .7l1.2 -.1l1.3 .3l1.2 -.6l1.3 .2l1.2 -.5l1.3 .1l1.2 .6l1.3 -.7l1.2 .5l1.3 .4l1.2 -.8l1.3 .4l1.2 0l1.3 -.4l1.2 -.2l1.3 .6l1.2 0l1.3 -.1l1.2 .3l1.3 -.6l1.2 .8l1.3 -.8l1.2 .2" stroke="#111" stroke-width="2.2" fill="none" stroke-linejoin="round"/>
<path d="M5.8 520.7l1.2 .4l1.3 -.4l1.3 .6l1.2 -.2l1.3 .2l1.2 -.3l1.3 -.1l1.2 -.2l1.3 .1l1.2 -.1l1.3 .3l1.2 0l1.3 -.3l1.2 .6l1.3 -.8l1.2 -.1l1.3 .8l1.2 -.7l1.3 .3l1.2 -.4l1.2 .2l1.3 .3l1.2 .3l1.3 -.4l1.2 .2l1.3 -.2l1.2 -.5l1.3 .9l1.2 -.8l1.3 .3l1.2 -.1l1.3 .2l1.2 -.6l1.3 .4l1.2 -.2l1.3 .2l1.2 0l1.3 -.1l1.2 .5l1.3 -.4l1.2 -.3l1.3 .8l1.2 -1.3l1.3 .8l1.2 0l1.3 .2l1.2 -.4l1.3 .7l1.2 -.6l1.3 .2l1.2 -.3l1.3 .8l1.2 -.3l1.3 -.3l1.2 .3l1.3 0l1.2 -.1l1.3 -.3l1.2 .5l1.3 -.1l1.2 0l1.3 -.7l1.2 0l1.3 .3l1.2 .6l1.3 -.4l1.2 0l1.3 .1l1.2 -.6l1.3 1.3l1.2 -1l1.3 .5l1.2 -.1l1.3 0l1.2 .2l1.3 -.9l1.2 .3l1.3 .6l1.2 -.5l1.3 .3l1.2 -.6l1.3 .3l1.2 -.1l1.3 .1l1.2 .3l1.3 -.7l1.2 .3l1.3 0l1.2 .6l1.3 -.6l1.2 .6l1.3 -.3l1.2 -.6l1.3 .6l1.2 .1l1.3 .1l1.2 -.5l1.3 -.1l1.3 .1l1.2 .3l1.3 -.2l1.2 .6l1.3 -1l1.2 .8l1.3 -.5l1.2 0l1.3 -.1l1.2 .1l1.3 -.4l1.2 .3l1.3 .3l1.2 .5l1.3 -.4l1.2 -.3l1.3 .7l1.2 -.6l1.3 .3l1.2 -.5l1.3 .7l1.2 -.1l1.3 0l1.2 -.5l1.3 -.3l1.2 .5l1.3 -.5l1.2 .8l1.3 -.3l1.2 .3l1.3 -.4l1.2 0l1.3 .5l1.2 0l1.3 -.9l1.2 .1l1.3 .7l1.2 -.9l1.3 .8l1.2 -.7l1.3 .8l1.2 0l1.3 .1l1.2 -.5l1.3 0l1.2 .2l1.3 -.6l1.2 .2l1.3 .4l1.2 .1l1.3 .1l1.2 -.4l1.3 -.1l1.2 .3" stroke="#111" stroke-width="2.2" fill="none" stroke-linejoin="round"/>
<path d="M5.8 524.1l1.2 -.2l1.3 .7l1.3 0l1.2 -.5l1.3 -.2l1.2 .4l1.3 -.7l1.2 .4l1.3 -.1l1.2 .4l1.3 -.5l1.2 -.2l1.3 .9l1.2 -1.1l1.3 1.2l1.2 -.1l1.3 -.9l1.2 .7l1.3 0l1.2 -.8l1.2 .2l1.3 .1l1.2 .6l1.3 -.6l1.2 0l1.3 .6l1.2 -.2l1.3 0l1.2 .1l1.3 .2l1.2 -.2l1.3 -.2l1.2 .1l1.3 -.2l1.2 .4l1.3 0l1.2 .1l1.3 -.7l1.2 .5l1.3 -.6l1.2 0l1.3 -.2l1.2 .4l1.3 .1l1.2 .3l1.3 -.8l1.2 .1l1.3 .5l1.2 .4l1.3 -.4l1.2 .4l1.3 -.4l1.2 -.5l1.3 .1l1.2 .4l1.3 -.1l1.2 .4l1.3 0l1.2 -.4l1.3 .5l1.2 -1l1.3 .8l1.2 -.6l1.3 .4l1.2 0l1.3 -.2l1.2 .5l1.3 -.9l1.2 .8l1.3 0l1.2 -.3l1.3 -.1l1.2 .2l1.3 -.1l1.2 .5l1.3 -.3l1.2 0l1.3 -.3l1.2 .5l1.3 -.3l1.2 .2l1.3 -.3l1.2 -.4l1.3 .8l1.2 -.1l1.3 0l1.2 -.8l1.3 .5l1.2 -.5l1.3 .1l1.2 1l1.3 -.3l1.2 -.8l1.3 .8l1.2 -.7l1.3 .4l1.2 -.4l1.3 .3l1.3 0l1.2 .4l1.3 -.1l1.2 -.1l1.3 .4l1.2 -.4l1.3 .2l1.2 -.8l1.3 .5l1.2 -.2l1.3 -.2l1.2 .4l1.3 .4l1.2 .1l1.3 -.5l1.2 .4l1.3 -.2l1.2 -.3l1.3 .3l1.2 0l1.3 .3l1.2 -.9l1.3 .2l1.2 .2l1.3 .1l1.2 .2l1.3 .1l1.2 -.7l1.3 .2l1.2 .1l1.3 .4l1.2 -.7l1.3 .6l1.2 -.5l1.3 .3l1.2 -.5l1.3 .1l1.2 .8l1.3 -.8l1.2 0l1.3 .1l1.2 .6l1.3 -.6l1.2 .4l1.3 .3l1.2 .7l1.3 -1.5l1.2 .2l1.3 .1l1.2 .2l1.3 -.3l1.2 .4l1.3 -.6l1.2 -.1" stroke="#111" stroke-width="2.3" fill="none" stroke-linejoin="round"/>
<path d="M5.8 527.3l1.2 .4l1.3 -.3l1.3 .2l1.2 -.7l1.3 .6l1.2 -.1l1.3 -.3l1.2 .5l1.3 -.8l1.2 .3l1.3 -.1l1.2 .8l1.3 -.7l1.2 .2l1.3 0l1.2 -.5l1.3 .5l1.2 .3l1.3 -.8l1.2 .3l1.2 .5l1.3 -.7l1.2 .9l1.3 -.4l1.2 .4l1.3 -.8l1.2 .8l1.3 -1l1.2 .2l1.3 .3l1.2 -.5l1.3 .9l1.2 .1l1.3 -.9l1.2 .6l1.3 -.2l1.2 -.5l1.3 .9l1.2 -.4l1.3 -.4l1.2 .6l1.3 -.3l1.2 .6l1.3 -.5l1.2 -.3l1.3 .6l1.2 .2l1.3 -.6l1.2 .4l1.3 .2l1.2 -.5l1.3 .5l1.2 -.2l1.3 -.3l1.2 -.3l1.3 .5l1.2 0l1.3 -.5l1.2 .6l1.3 0l1.2 -.1l1.3 .3l1.2 0l1.3 -1l1.2 .9l1.3 .1l1.2 -.6l1.3 .2l1.2 -.2l1.3 .3l1.2 .1l1.3 .2l1.2 -.3l1.3 -.2l1.2 -.1l1.3 -.1l1.2 -.3l1.3 .3l1.2 .4l1.3 .2l1.2 -.1l1.3 .2l1.2 -.8l1.3 .4l1.2 -.4l1.3 0l1.2 .5l1.3 -.1l1.2 -.4l1.3 .1l1.2 .1l1.3 .5l1.2 -.1l1.3 -.3l1.2 -.1l1.3 0l1.2 .1l1.3 -.1l1.3 .5l1.2 -.5l1.3 .6l1.2 -.8l1.3 -.1l1.2 .4l1.3 .4l1.2 -.6l1.3 .1l1.2 .6l1.3 -.8l1.2 0l1.3 .6l1.2 .1l1.3 -.4l1.2 .4l1.3 -.4l1.2 .5l1.3 -1l1.2 1l1.3 -.7l1.2 -.2l1.3 .2l1.2 .2l1.3 .1l1.2 .3l1.3 -.8l1.2 .4l1.3 .2l1.2 .1l1.3 -.2l1.2 .1l1.3 -.4l1.2 .5l1.3 -.2l1.2 0l1.3 -.1l1.2 -.3l1.3 .5l1.2 -.6l1.3 .8l1.2 .1l1.3 0l1.2 -.7l1.3 -.2l1.2 .3l1.3 -.1l1.2 .1l1.3 .6l1.2 0l1.3 -.4l1.2 -.5l1.3 0l1.2 -.1" stroke="#111" stroke-width="2.3" fill="none" stroke-linejoin="round"/>
<path d="M10.7 515.8L15.4 515.8M18.7 515.3L29.8 515.2M34.7 515.3L39.6 515.1M46.5 515.8L57.8 515.9M62.8 515.4L71.6 515.4M73.8 515.5L89.1 515.4M96.1 515.3L110.9 515.6M118.1 515.4L128.1 515.1M133.7 515.8L143.7 515.9M150.8 515.7L162.8 516M166.6 515.6L182.5 515.5M189.3 515.4L194.5 515.4" stroke="#efefef" stroke-width=".7" fill="none"/>
<path d="M12.4 519.1L25 519M27.8 518.9L37.9 518.8M48.7 518.9L60 519M63.5 518.7L76.4 518.8M84.5 519.3L92.5 519.6M100.4 518.8L106 519M111.2 519L119.2 518.9M121.9 518.9L129 518.8M130.9 519.3L144.2 519M153.2 519.2L165.4 519.4M170.7 519.2L178.1 519.3M184.1 519.1L193 518.8" stroke="#efefef" stroke-width=".6" fill="none"/>
<path d="M11.3 522.5L22.1 522.3M35.8 522.2L39.6 521.9M44.3 522.5L55.8 522.7M70.9 522.1L85.5 522.2M90.3 522.2L101.9 522.4M115.9 522.6L129.1 522.5M144.7 522.6L155.2 522.7M165.7 522.6L169.2 522.7M174.4 522.3L183.9 522.5M190.6 522.7L193.9 522.9" stroke="#efefef" stroke-width=".6" fill="none"/>
<path d="M11.8 525.9L16.2 525.8M24.4 525.9L35.3 526M40.5 525.6L51.9 525.8M75 525.7L88.6 525.9M99.3 526L110.6 525.8M130.9 525.3L141.5 525.5M160.6 526L166.5 526.1M186.8 525.4L194.5 525.3" stroke="#efefef" stroke-width=".5" fill="none"/>
<path d="M6.1 496L6.1 528.3" stroke="#000" stroke-width="1.7" stroke-linecap="butt" fill="none"/>
<path d="M196.2 493L196.2 528.3" stroke="#000" stroke-width="1.7" stroke-linecap="butt" fill="none"/>
<path d="M1.8 523.3L7.8 523.3" stroke="#000" stroke-width="3.2" stroke-linecap="butt" fill="none"/>
<path d="M194.5 523.3L203 523.3" stroke="#000" stroke-width="3.2" stroke-linecap="butt" fill="none"/>
<circle cx="61.8" cy="482.6" r="6.8" fill="#000" stroke="#000" stroke-width="1.6"/>
<text x="85.6" y="487.6" font-size="15.5" font-weight="normal" fill="#000" stroke="#000" stroke-width=".3" textLength="66.9" lengthAdjust="spacingAndGlyphs">db- cAMP</text>
<rect x="5.8" y="572.8" width="192.2" height="14.9" fill="#5a5a5a"/>
<path d="M5.8 564.3l1.2 -.2l1.3 -.7l1.3 .2l1.2 .2l1.3 -.3l1.2 -.1l1.3 -.7l1.2 .5l1.3 0l1.2 -.8l1.3 .3l1.2 -.1l1.3 -.5l1.2 .6l1.3 -.5l1.2 -.1l1.3 .4l1.2 -.7l1.3 .3l1.2 -.7l1.2 .2l1.3 .2l1.2 -.3l1.3 .7l1.2 -.6l1.3 -.4l1.2 .7l1.3 -.1l1.2 -.1l1.3 -.3l1.2 .3l1.3 -.6l1.2 .4l1.3 -.1l1.2 -.2l1.3 .4l1.2 -.2l1.3 -.2l1.2 .7l1.3 -.4l1.2 -.3l1.3 .6l1.2 -.3l1.3 .3l1.2 -.8l1.3 0l1.2 .3l1.3 .2l1.2 0l1.3 -.7l1.2 .3l1.3 -.2l1.2 .7l1.3 -.1l1.2 -.4l1.3 -.3l1.2 .6l1.3 .2l1.2 -.2l1.3 -.2l1.2 .5l1.3 -.8l1.2 .4l1.3 0l1.2 -.3l1.3 .5l1.2 .1l1.3 -1l1.2 0l1.3 .4l1.2 0l1.3 .5l1.2 -.6l1.3 .1l1.2 .2l1.3 0l1.2 -.2l1.3 -.4l1.2 .7l1.3 -.4l1.2 .6l1.3 -.7l1.2 .3l1.3 -.2l1.2 .2l1.3 -.3l1.2 -.1l1.3 .4l1.2 -.2l1.3 -.3l1.2 -.2l1.3 .4l1.2 .1l1.3 .2l1.2 0l1.3 .3l1.2 -.6l1.3 .5l1.3 -.3l1.2 .1l1.3 -.4l1.2 .1l1.3 .1l1.2 .2l1.3 -.1l1.2 .7l1.3 -.8l1.2 .5l1.3 -.1l1.2 -.4l1.3 -.2l1.2 .9l1.3 -.4l1.2 0l1.3 -.6l1.2 .8l1.3 -.1l1.2 -.4l1.3 .1l1.2 .1l1.3 -.3l1.2 0l1.3 0l1.2 .5l1.3 .2l1.2 -.7l1.3 .8l1.2 0l1.3 .2l1.2 -1.1l1.3 .3l1.2 .6l1.3 -.2l1.2 -.2l1.3 0l1.2 0l1.3 -.3l1.2 .1l1.3 .3l1.2 -.2l1.3 -.3l1.2 .5l1.3 -.5l1.2 -.8l1.3 .7l1.2 .9l1.3 -.6l1.2 .4l1.3 -.7l1.2 .5l1.3 -.4l1.2 .1l1.3 .4" stroke="#111" stroke-width="2" fill="none" stroke-linejoin="round"/>
<path d="M5.8 567.6l1.2 0l1.3 -.4l1.3 -.1l1.2 -.3l1.3 .1l1.2 -.4l1.3 .4l1.2 .2l1.3 -.7l1.2 .2l1.3 -.6l1.2 .4l1.3 0l1.2 0l1.3 -.6l1.2 .7l1.3 -.9l1.2 .4l1.3 .1l1.2 -.4l1.2 .1l1.3 -.2l1.2 -.2l1.3 .6l1.2 -.4l1.3 .4l1.2 -.8l1.3 .9l1.2 .1l1.3 -1l1.2 .4l1.3 .5l1.2 -.7l1.3 .4l1.2 -.2l1.3 -.4l1.2 .2l1.3 -.4l1.2 1l1.3 -.7l1.2 -.1l1.3 .2l1.2 -.1l1.3 .4l1.2 -.6l1.3 .7l1.2 -.8l1.3 .3l1.2 -.2l1.3 .2l1.2 .1l1.3 -.1l1.2 0l1.3 .2l1.2 .4l1.3 -.5l1.2 -.6l1.3 .6l1.2 0l1.3 -.5l1.2 .3l1.3 .7l1.2 -.3l1.3 .1l1.2 -.6l1.3 .5l1.2 0l1.3 0l1.2 -.7l1.3 .5l1.2 -.4l1.3 -.1l1.2 .6l1.3 -.1l1.2 .3l1.3 -.8l1.2 .1l1.3 .1l1.2 .5l1.3 -.1l1.2 -.4l1.3 .4l1.2 -.6l1.3 .3l1.2 .2l1.3 -.3l1.2 -.2l1.3 .2l1.2 .5l1.3 -.6l1.2 .1l1.3 0l1.2 -.7l1.3 .7l1.2 .5l1.3 .2l1.2 -.3l1.3 .2l1.3 -.8l1.2 .2l1.3 .7l1.2 -.8l1.3 0l1.2 -.2l1.3 .9l1.2 0l1.3 -.1l1.2 -.8l1.3 .2l1.2 .2l1.3 0l1.2 -.1l1.3 -.3l1.2 1l1.3 -.1l1.2 -.2l1.3 -.5l1.2 .4l1.3 -.2l1.2 .1l1.3 .2l1.2 -.6l1.3 .1l1.2 .2l1.3 -.2l1.2 -.2l1.3 .5l1.2 -.5l1.3 .8l1.2 0l1.3 -.2l1.2 .3l1.3 -.9l1.2 .2l1.3 -.1l1.2 .1l1.3 .4l1.2 .3l1.3 -.6l1.2 .6l1.3 .1l1.2 -.2l1.3 .2l1.2 -.1l1.3 -.3l1.2 .2l1.3 0l1.2 .2l1.3 .6l1.2 -.6l1.3 -1l1.2 .3l1.3 .4" stroke="#111" stroke-width="2" fill="none" stroke-linejoin="round"/>
<path d="M5.8 570.8l1.2 -.6l1.3 .4l1.3 .3l1.2 -1.2l1.3 .6l1.2 -.7l1.3 .6l1.2 .1l1.3 -.4l1.2 -.4l1.3 .7l1.2 -.1l1.3 -.4l1.2 -.6l1.3 .4l1.2 0l1.3 .1l1.2 0l1.3 .1l1.2 -.7l1.2 -.1l1.3 0l1.2 -.1l1.3 .8l1.2 -.6l1.3 0l1.2 -.2l1.3 .3l1.2 -.2l1.3 .2l1.2 .5l1.3 -.9l1.2 .7l1.3 -.1l1.2 -.2l1.3 .4l1.2 -.5l1.3 -.2l1.2 -.1l1.3 .6l1.2 -.1l1.3 0l1.2 .3l1.3 -.8l1.2 .4l1.3 -.4l1.2 .5l1.3 -.2l1.2 -.1l1.3 -.3l1.2 .3l1.3 .5l1.2 -.4l1.3 -.4l1.2 .5l1.3 .3l1.2 -.7l1.3 .2l1.2 .2l1.3 -.8l1.2 .6l1.3 -.5l1.2 .3l1.3 0l1.2 -.3l1.3 .4l1.2 .5l1.3 -.1l1.2 -.7l1.3 .7l1.2 0l1.3 0l1.2 -.4l1.3 .5l1.2 -.9l1.3 .1l1.2 .4l1.3 -.1l1.2 0l1.3 -.5l1.2 .8l1.3 -.5l1.2 .1l1.3 -.2l1.2 .7l1.3 .1l1.2 -.3l1.3 -.2l1.2 -.1l1.3 .6l1.2 -.3l1.3 -.3l1.2 -.3l1.3 .3l1.2 .2l1.3 .2l1.2 -.3l1.3 .1l1.3 .3l1.2 -.8l1.3 .4l1.2 -.3l1.3 .4l1.2 0l1.3 .2l1.2 -.5l1.3 0l1.2 .6l1.3 0l1.2 .1l1.3 -.8l1.2 0l1.3 .4l1.2 -.5l1.3 .9l1.2 0l1.3 -1l1.2 .9l1.3 0l1.2 -.9l1.3 .1l1.2 .8l1.3 -.9l1.2 0l1.3 .7l1.2 -.3l1.3 0l1.2 .7l1.3 -.2l1.2 -.2l1.3 0l1.2 -.6l1.3 .7l1.2 -.6l1.3 .3l1.2 0l1.3 -.4l1.2 .5l1.3 -.3l1.2 .8l1.3 -.9l1.2 -.2l1.3 .1l1.2 .9l1.3 -.3l1.2 -.6l1.3 .2l1.2 -.2l1.3 .7l1.2 -.6l1.3 .8l1.2 -.6l1.3 .2" stroke="#111" stroke-width="2.1" fill="none" stroke-linejoin="round"/>
<path d="M5.8 574.1l1.2 -.9l1.3 .6l1.3 0l1.2 -.2l1.3 -.8l1.2 .1l1.3 .5l1.2 -.9l1.3 .1l1.2 0l1.3 .4l1.2 -.4l1.3 -.3l1.2 .5l1.3 -.2l1.2 0l1.3 -.3l1.2 .2l1.3 -.2l1.2 -.3l1.2 .2l1.3 .2l1.2 -.2l1.3 .1l1.2 -.3l1.3 .4l1.2 -.3l1.3 0l1.2 .7l1.3 -.9l1.2 .8l1.3 -.2l1.2 -.4l1.3 -.1l1.2 -.1l1.3 0l1.2 0l1.3 .7l1.2 -.6l1.3 .4l1.2 -.2l1.3 -.5l1.2 .7l1.3 -.7l1.2 1l1.3 -.5l1.2 .1l1.3 -.2l1.2 -.1l1.3 .8l1.2 -.5l1.3 .3l1.2 -.9l1.3 1l1.2 -.8l1.3 .7l1.2 -.5l1.3 -.2l1.2 .3l1.3 0l1.2 .3l1.3 0l1.2 0l1.3 -.5l1.2 -.3l1.3 .8l1.2 -.5l1.3 -.2l1.2 .5l1.3 -.1l1.2 .4l1.3 -.6l1.2 .7l1.3 -1l1.2 .1l1.3 .8l1.2 0l1.3 -.5l1.2 -.3l1.3 0l1.2 .3l1.3 .3l1.2 .2l1.3 -.8l1.2 .6l1.3 -.8l1.2 -.5l1.3 .8l1.2 .2l1.3 .2l1.2 -.3l1.3 0l1.2 0l1.3 .2l1.2 .1l1.3 -.2l1.2 -.2l1.3 0l1.3 .7l1.2 -.3l1.3 -.1l1.2 -.4l1.3 .2l1.2 0l1.3 .3l1.2 0l1.3 .1l1.2 .2l1.3 -.6l1.2 -.1l1.3 .2l1.2 .3l1.3 -.2l1.2 .3l1.3 -.2l1.2 -.1l1.3 -.5l1.2 .6l1.3 .1l1.2 .2l1.3 -.1l1.2 -.1l1.3 -.2l1.2 -.2l1.3 0l1.2 .5l1.3 .2l1.2 0l1.3 -1l1.2 .6l1.3 -.2l1.2 -.2l1.3 .1l1.2 -.1l1.3 -.3l1.2 1l1.3 -.7l1.2 .1l1.3 -.1l1.2 .3l1.3 .3l1.2 -.8l1.3 .4l1.2 .2l1.3 -.2l1.2 -.3l1.3 .8l1.2 -.5l1.3 -.5l1.2 .7l1.3 -.4l1.2 .7l1.3 -.4" stroke="#111" stroke-width="2.1" fill="none" stroke-linejoin="round"/>
<path d="M5.8 576.7l1.2 -.7l1.3 .1l1.3 -.5l1.2 .2l1.3 .1l1.2 .4l1.3 -.1l1.2 -.4l1.3 -.3l1.2 .2l1.3 -.1l1.2 .1l1.3 .3l1.2 .1l1.3 -.4l1.2 .5l1.3 -1l1.2 .3l1.3 .6l1.2 0l1.2 -.4l1.3 -.1l1.2 -.4l1.3 -.1l1.2 .3l1.3 -.4l1.2 0l1.3 .3l1.2 .5l1.3 -.7l1.2 .6l1.3 .1l1.2 -.7l1.3 .3l1.2 -.2l1.3 .3l1.2 -.4l1.3 -.1l1.2 .7l1.3 -.4l1.2 0l1.3 .3l1.2 -.6l1.3 .9l1.2 -.6l1.3 .1l1.2 .2l1.3 -.5l1.2 .4l1.3 -.3l1.2 -.4l1.3 .4l1.2 .2l1.3 -.3l1.2 -.1l1.3 .3l1.2 -.4l1.3 0l1.2 0l1.3 .1l1.2 .5l1.3 .1l1.2 -.2l1.3 -.4l1.2 .7l1.3 -.2l1.2 -.6l1.3 0l1.2 .7l1.3 .2l1.2 -.2l1.3 .2l1.2 -.6l1.3 .1l1.2 -.2l1.3 .2l1.2 .4l1.3 -.3l1.2 .2l1.3 -.1l1.2 0l1.3 -.2l1.2 -.4l1.3 .5l1.2 .2l1.3 -.4l1.2 .2l1.3 .2l1.2 -.3l1.3 .4l1.2 -.3l1.3 .1l1.2 -.4l1.3 -.1l1.2 .3l1.3 .5l1.2 -.6l1.3 .1l1.3 .1l1.2 0l1.3 .4l1.2 -.8l1.3 .3l1.2 .1l1.3 0l1.2 -.3l1.3 .2l1.2 -.4l1.3 .1l1.2 .2l1.3 -.3l1.2 .6l1.3 .4l1.2 -1.1l1.3 .4l1.2 .4l1.3 0l1.2 .2l1.3 -.4l1.2 -.2l1.3 .4l1.2 -.7l1.3 .3l1.2 .2l1.3 .4l1.2 -.2l1.3 0l1.2 -.1l1.3 .3l1.2 -.4l1.3 -.1l1.2 .1l1.3 .3l1.2 .1l1.3 -.8l1.2 .5l1.3 -.5l1.2 .2l1.3 -.4l1.2 1l1.3 0l1.2 -.2l1.3 .1l1.2 -.4l1.3 .2l1.2 -.4l1.3 .4l1.2 .3l1.3 -.8l1.2 -.2l1.3 .8l1.2 -.1l1.3 .2" stroke="#111" stroke-width="2.1" fill="none" stroke-linejoin="round"/>
<path d="M5.8 578.9l1.2 -.1l1.3 -.3l1.3 .5l1.2 -.1l1.3 -.2l1.2 -.3l1.3 .5l1.2 -.6l1.3 .4l1.2 -.4l1.3 .9l1.2 -1l1.3 .4l1.2 0l1.3 .3l1.2 .3l1.3 -.9l1.2 .6l1.3 .1l1.2 -.7l1.2 .4l1.3 0l1.2 -.4l1.3 .2l1.2 -.3l1.3 .3l1.2 .5l1.3 -.4l1.2 .3l1.3 -.3l1.2 -.5l1.3 -.1l1.2 .2l1.3 .4l1.2 -.6l1.3 1l1.2 -.6l1.3 -.3l1.2 .7l1.3 -.6l1.2 .2l1.3 -.7l1.2 .3l1.3 .4l1.2 .4l1.3 0l1.2 0l1.3 0l1.2 .1l1.3 -1l1.2 1l1.3 -.5l1.2 -.4l1.3 .4l1.2 -.5l1.3 .5l1.2 .1l1.3 -.4l1.2 .4l1.3 0l1.2 -.1l1.3 -.1l1.2 .4l1.3 -.7l1.2 .5l1.3 -.5l1.2 .2l1.3 .4l1.2 -.2l1.3 -.1l1.2 .5l1.3 0l1.2 .5l1.3 -.4l1.2 -.1l1.3 -.8l1.2 .3l1.3 .3l1.2 -.2l1.3 .1l1.2 .1l1.3 .3l1.2 -.1l1.3 -.1l1.2 .1l1.3 -.5l1.2 -.4l1.3 1l1.2 -.8l1.3 0l1.2 -.2l1.3 .8l1.2 -.1l1.3 0l1.2 -.6l1.3 .2l1.2 1.3l1.3 -1.4l1.3 .3l1.2 .4l1.3 -.5l1.2 .3l1.3 .3l1.2 -.4l1.3 -.5l1.2 .3l1.3 -.1l1.2 -.1l1.3 -.2l1.2 0l1.3 .6l1.2 -.2l1.3 -.3l1.2 .4l1.3 .4l1.2 -.3l1.3 -.1l1.2 -.4l1.3 .7l1.2 -.8l1.3 .9l1.2 -.9l1.3 0l1.2 .5l1.3 -.2l1.2 .5l1.3 -.4l1.2 -.8l1.3 1.2l1.2 -.7l1.3 .6l1.2 -.7l1.3 1.1l1.2 -.1l1.3 -1l1.2 1l1.3 -.9l1.2 .7l1.3 -.7l1.2 .4l1.3 -.5l1.2 .4l1.3 .5l1.2 -.2l1.3 -.4l1.2 .3l1.3 -.3l1.2 0l1.3 1l1.2 -.7l1.3 -.2l1.2 -.1l1.3 .4" stroke="#111" stroke-width="2.2" fill="none" stroke-linejoin="round"/>
<path d="M5.8 581.8l1.2 .3l1.3 -.3l1.3 -.4l1.2 -.2l1.3 .6l1.2 -.7l1.3 .6l1.2 -.3l1.3 .1l1.2 -.2l1.3 .1l1.2 -.3l1.3 .6l1.2 0l1.3 -.3l1.2 .4l1.3 -.1l1.2 .4l1.3 -.4l1.2 -.6l1.2 .6l1.3 -.4l1.2 0l1.3 -.2l1.2 .3l1.3 .6l1.2 -.4l1.3 .1l1.2 -.4l1.3 .5l1.2 -.6l1.3 .3l1.2 -.1l1.3 .2l1.2 .3l1.3 -.1l1.2 -.8l1.3 -.2l1.2 1.1l1.3 -.7l1.2 .1l1.3 .1l1.2 .5l1.3 -.9l1.2 .7l1.3 0l1.2 .1l1.3 -.5l1.2 -.2l1.3 .2l1.2 -.1l1.3 -.1l1.2 .5l1.3 -.3l1.2 -.3l1.3 .7l1.2 -.5l1.3 .2l1.2 0l1.3 .1l1.2 -.2l1.3 .4l1.2 -.3l1.3 -.2l1.2 .7l1.3 -.6l1.2 .5l1.3 -.9l1.2 .5l1.3 -.7l1.2 .8l1.3 -.3l1.2 .4l1.3 0l1.2 -.3l1.3 .5l1.2 -.8l1.3 0l1.2 .6l1.3 -.3l1.2 .6l1.3 -.7l1.2 -.1l1.3 -.1l1.2 .3l1.3 .2l1.2 -.5l1.3 .1l1.2 .1l1.3 .1l1.2 .2l1.3 -.3l1.2 -.2l1.3 .8l1.2 -.3l1.3 .2l1.2 -.6l1.3 -.2l1.3 0l1.2 .5l1.3 .4l1.2 -.9l1.3 .2l1.2 .4l1.3 -.2l1.2 -.2l1.3 .8l1.2 -.4l1.3 0l1.2 0l1.3 .3l1.2 -.3l1.3 .1l1.2 .1l1.3 -.2l1.2 -.3l1.3 .2l1.2 .3l1.3 -.1l1.2 -.1l1.3 0l1.2 -.1l1.3 .4l1.2 -.3l1.3 -.4l1.2 -.1l1.3 0l1.2 .1l1.3 -.2l1.2 1l1.3 -.5l1.2 -.3l1.3 .6l1.2 -.2l1.3 .1l1.2 -.7l1.3 .3l1.2 .3l1.3 0l1.2 .2l1.3 -.1l1.2 -.5l1.3 .1l1.2 .1l1.3 .3l1.2 -.1l1.3 -.4l1.2 0l1.3 .2l1.2 .2l1.3 -.5l1.2 .9l1.3 -.1" stroke="#111" stroke-width="2.2" fill="none" stroke-linejoin="round"/>
<path d="M5.8 584.9l1.2 -.9l1.3 .5l1.3 0l1.2 .4l1.3 -.6l1.2 .3l1.3 -.3l1.2 .5l1.3 -.7l1.2 .2l1.3 -.2l1.2 -.2l1.3 .5l1.2 .3l1.3 -.8l1.2 .7l1.3 -.2l1.2 -.4l1.3 .9l1.2 -.5l1.2 -.4l1.3 .2l1.2 .3l1.3 -.3l1.2 .2l1.3 .3l1.2 0l1.3 0l1.2 -.3l1.3 .2l1.2 .1l1.3 -.8l1.2 .2l1.3 .7l1.2 -.1l1.3 .1l1.2 -.3l1.3 .3l1.2 0l1.3 -.4l1.2 .5l1.3 -.9l1.2 .4l1.3 -.4l1.2 .7l1.3 -.5l1.2 0l1.3 -.1l1.2 .3l1.3 .1l1.2 -.6l1.3 .8l1.2 -.6l1.3 .7l1.2 -.1l1.3 -.7l1.2 .7l1.3 -.7l1.2 .2l1.3 -.2l1.2 .2l1.3 .5l1.2 -.4l1.3 -.2l1.2 .6l1.3 -.1l1.2 -.2l1.3 -.1l1.2 .4l1.3 -.3l1.2 -.4l1.3 .8l1.2 -.4l1.3 -.3l1.2 .6l1.3 -.6l1.2 .8l1.3 -.3l1.2 -.5l1.3 .2l1.2 .1l1.3 -.5l1.2 .4l1.3 .2l1.2 -.6l1.3 0l1.2 .3l1.3 .3l1.2 -.5l1.3 .1l1.2 1.2l1.3 -1.3l1.2 .3l1.3 .3l1.2 -.2l1.3 -.4l1.2 .1l1.3 .3l1.3 -.3l1.2 .5l1.3 0l1.2 .3l1.3 -.4l1.2 -.4l1.3 .4l1.2 .1l1.3 -.1l1.2 -.1l1.3 .4l1.2 0l1.3 -.5l1.2 -.1l1.3 .6l1.2 -.9l1.3 .7l1.2 -1l1.3 .5l1.2 .5l1.3 -.6l1.2 .1l1.3 .1l1.2 .2l1.3 .6l1.2 -.2l1.3 -.1l1.2 -.3l1.3 -.1l1.2 .4l1.3 -.6l1.2 .5l1.3 .2l1.2 -.3l1.3 .1l1.2 -.2l1.3 0l1.2 .2l1.3 -.1l1.2 .4l1.3 -.6l1.2 -.4l1.3 -.3l1.2 1.1l1.3 -.1l1.2 -.2l1.3 -.2l1.2 -.1l1.3 .3l1.2 0l1.3 0l1.2 -.4l1.3 .5l1.2 -.5l1.3 .8" stroke="#111" stroke-width="2.3" fill="none" stroke-linejoin="round"/>
<path d="M5.8 587.1l1.2 -.3l1.3 1l1.3 -.2l1.2 -.4l1.3 -.4l1.2 .9l1.3 -.1l1.2 -.1l1.3 .2l1.2 -.8l1.3 0l1.2 -.1l1.3 .1l1.2 .3l1.3 .6l1.2 -.1l1.3 -.1l1.2 -.6l1.3 .4l1.2 .3l1.2 .1l1.3 -1l1.2 .1l1.3 0l1.2 .9l1.3 -.9l1.2 .7l1.3 -.1l1.2 -.5l1.3 .8l1.2 -.6l1.3 -.4l1.2 .2l1.3 1.2l1.2 -.8l1.3 .2l1.2 -.8l1.3 .4l1.2 -.2l1.3 .3l1.2 -.2l1.3 -.1l1.2 0l1.3 .6l1.2 0l1.3 0l1.2 -.6l1.3 .3l1.2 -.3l1.3 -.1l1.2 .8l1.3 -.7l1.2 .6l1.3 -.2l1.2 -.3l1.3 -.3l1.2 0l1.3 .2l1.2 .5l1.3 -.2l1.2 .8l1.3 -1.2l1.2 .5l1.3 -.4l1.2 .6l1.3 0l1.2 0l1.3 -.1l1.2 -.1l1.3 .4l1.2 -.3l1.3 .1l1.2 -.3l1.3 .3l1.2 -.4l1.3 .3l1.2 -.2l1.3 .5l1.2 -.8l1.3 .8l1.2 -.6l1.3 .6l1.2 -.9l1.3 -.1l1.2 .2l1.3 .5l1.2 0l1.3 -.7l1.2 .9l1.3 0l1.2 -.5l1.3 -.2l1.2 .8l1.3 -.3l1.2 .1l1.3 -.8l1.2 .7l1.3 -.6l1.3 0l1.2 .8l1.3 -.9l1.2 .1l1.3 .9l1.2 0l1.3 -.8l1.2 .8l1.3 -.7l1.2 .7l1.3 -.6l1.2 .5l1.3 -.3l1.2 -.2l1.3 0l1.2 -.3l1.3 .4l1.2 -.2l1.3 -.1l1.2 .2l1.3 -.2l1.2 -.1l1.3 0l1.2 .1l1.3 .1l1.2 -.2l1.3 0l1.2 0l1.3 .4l1.2 0l1.3 -.3l1.2 0l1.3 .4l1.2 -.2l1.3 -.3l1.2 .5l1.3 -.1l1.2 .2l1.3 .3l1.2 -.9l1.3 0l1.2 .2l1.3 -.3l1.2 .6l1.3 -.3l1.2 .7l1.3 -1.3l1.2 .5l1.3 .1l1.2 .3l1.3 .1l1.2 0l1.3 -.2l1.2 -.1l1.3 .2" stroke="#111" stroke-width="2.3" fill="none" stroke-linejoin="round"/>
<path d="M10.8 574L24.2 573.9M32.3 574L39.6 574.2M42.5 573.7L53.7 573.9M62 574.1L67.2 573.8M68.4 573.5L78.5 573.4M83.5 573.6L93.4 573.4M101.1 574L113.1 574.2M120.8 573.4L130.3 573.7M134 573.5L145.3 573.4M151.5 573.5L160.4 573.4M164.8 574L180.1 574.2M181.2 573.9L196 573.6" stroke="#efefef" stroke-width=".7" fill="none"/>
<path d="M13.3 576.9L21.6 576.8M33 576.7L40.2 576.8M47.7 577L61.6 576.9M71.3 576.9L81.3 576.8M86.4 577.1L89.5 577.2M94.9 576.6L100.7 576.4M108.2 576.9L118.7 577.1M124.4 576.7L133.7 576.7M135.3 577.1L149.9 577.1M158.6 576.7L174 577M177.2 577L188.2 576.7" stroke="#efefef" stroke-width=".6" fill="none"/>
<path d="M8.5 579.8L13.4 579.9M28 579.6L39.1 579.6M50.7 580L54.5 580M64.9 580L72.9 579.8M76 579.9L80.2 580.1M95.3 579.8L101.3 580M116.3 579.9L131.4 579.8M144.8 579.8L151.5 579.5M157 579.9L160.6 580.2M169.8 580.1L177.2 580M182.2 580.3L193.9 580.1" stroke="#efefef" stroke-width=".6" fill="none"/>
<path d="M13.1 582.9L27.2 582.8M30.3 582.7L40 582.6M44.2 583.1L59.7 583.2M71.6 582.9L84.9 582.8M100.5 582.6L115.6 582.6M129.8 582.6L142.1 582.7M157.2 582.8L165.5 582.9M177.1 583L183.3 582.7M192.5 582.7L196 582.6" stroke="#efefef" stroke-width=".6" fill="none"/>
<path d="M10.3 586.1L26.2 586.2M45.6 585.7L53.7 585.8M64 586.1L69 585.9M95.6 585.6L106.8 585.7M130.1 586.2L137 586.2M152.1 585.6L157.8 585.6M183.3 585.9L193.1 585.9" stroke="#efefef" stroke-width=".5" fill="none"/>
<path d="M6.1 563.2L6.1 588.3" stroke="#000" stroke-width="1.7" stroke-linecap="butt" fill="none"/>
<path d="M197.7 560.2L197.7 588.3" stroke="#000" stroke-width="1.7" stroke-linecap="butt" fill="none"/>
<path d="M1.8 583.7L7.8 583.7" stroke="#000" stroke-width="3.2" stroke-linecap="butt" fill="none"/>
<path d="M196 583.7L204.5 583.7" stroke="#000" stroke-width="3.2" stroke-linecap="butt" fill="none"/>
<path d="M39 545.5L47.2 560.5L30.8 560.5Z" fill="#000" stroke="#000" stroke-width="1" stroke-linejoin="round"/>
<text x="54.9" y="556.1" font-size="15.5" font-weight="normal" fill="#000" stroke="#000" stroke-width=".3" textLength="108.9" lengthAdjust="spacingAndGlyphs">db- cAMP + DPC</text>
<rect x="5.8" y="634.6" width="192.7" height="13.4" fill="#5a5a5a"/>
<path d="M5.8 624.5l1.2 -.7l1.3 .5l1.3 -.5l1.2 .2l1.3 -.4l1.2 .2l1.3 -.2l1.2 -.1l1.3 .1l1.2 -.1l1.3 -.5l1.2 -.2l1.3 -.2l1.2 .3l1.3 -.2l1.2 -.5l1.3 .3l1.2 -.5l1.3 .5l1.2 -.4l1.2 0l1.3 -.1l1.2 .7l1.3 -.6l1.2 .5l1.3 -.1l1.2 -.5l1.3 .4l1.2 -.5l1.3 -.1l1.2 .6l1.3 -.8l1.2 .6l1.3 -.4l1.2 -.4l1.3 .9l1.2 -.6l1.3 -.2l1.2 -.2l1.3 .4l1.2 -.5l1.3 .9l1.2 -.5l1.3 .6l1.2 -.2l1.3 -.7l1.2 .8l1.3 -.3l1.2 -.5l1.3 -.1l1.2 1.1l1.3 -1l1.2 .1l1.3 .6l1.2 -.6l1.3 .3l1.2 -.3l1.3 -.1l1.2 .3l1.3 -.4l1.2 0l1.3 -.2l1.2 .1l1.3 .3l1.2 -.3l1.3 .9l1.2 -.2l1.3 -.5l1.2 .3l1.3 -.5l1.2 .4l1.3 -.3l1.2 .6l1.3 -.8l1.2 .5l1.3 .5l1.2 -.9l1.3 .1l1.2 .3l1.3 -.3l1.2 .5l1.3 .1l1.2 -.6l1.3 -.2l1.2 .1l1.3 .5l1.2 .3l1.3 0l1.2 -.3l1.3 -.6l1.2 .8l1.3 -.7l1.2 .3l1.3 -.1l1.2 .1l1.3 -.4l1.2 .6l1.3 .2l1.3 -.3l1.2 .2l1.3 .2l1.2 -.9l1.3 .1l1.2 0l1.3 .5l1.2 .3l1.3 -.9l1.2 .5l1.3 .4l1.2 -.9l1.3 1l1.2 -1l1.3 .6l1.2 0l1.3 .2l1.2 -.2l1.3 -.1l1.2 .2l1.3 -.7l1.2 .5l1.3 .4l1.2 0l1.3 -.4l1.2 -.1l1.3 -.2l1.2 .3l1.3 -.5l1.2 .8l1.3 -.3l1.2 .2l1.3 .3l1.2 -.9l1.3 .4l1.2 .2l1.3 .3l1.2 -.3l1.3 -.1l1.2 -.4l1.3 .5l1.2 -.2l1.3 .4l1.2 -.6l1.3 .7l1.2 -.9l1.3 .2l1.2 -.3l1.3 0l1.2 1l1.3 -.6l1.2 .3l1.3 -.7l1.2 1l1.3 -.6l1.2 .4" stroke="#111" stroke-width="2" fill="none" stroke-linejoin="round"/>
<path d="M5.8 627.9l1.2 -.4l1.3 .5l1.3 -.3l1.2 .2l1.3 -.3l1.2 -.2l1.3 -.4l1.2 -.1l1.3 .3l1.2 .2l1.3 -.8l1.2 .6l1.3 .5l1.2 -.7l1.3 -.7l1.2 .8l1.3 -.6l1.2 -.5l1.3 .3l1.2 -.2l1.2 .4l1.3 .1l1.2 -.7l1.3 .4l1.2 -.5l1.3 .4l1.2 .3l1.3 -.2l1.2 .3l1.3 -.6l1.2 .1l1.3 -.1l1.2 -.4l1.3 .7l1.2 0l1.3 -.8l1.2 .9l1.3 -.8l1.2 .2l1.3 -.2l1.2 -.1l1.3 .3l1.2 -.1l1.3 -.1l1.2 .3l1.3 -.6l1.2 .5l1.3 -.4l1.2 .9l1.3 -.2l1.2 -.7l1.3 .6l1.2 -.1l1.3 -.3l1.2 .6l1.3 -.8l1.2 .5l1.3 -.6l1.2 .2l1.3 .4l1.2 -.5l1.3 .5l1.2 -.3l1.3 .2l1.2 -.3l1.3 .3l1.2 -.5l1.3 .8l1.2 -.2l1.3 -.7l1.2 .8l1.3 -.2l1.2 -.3l1.3 .7l1.2 -.6l1.3 -.3l1.2 .6l1.3 0l1.2 -.1l1.3 -.5l1.2 .7l1.3 -.1l1.2 .2l1.3 .1l1.2 -.1l1.3 -.9l1.2 .3l1.3 .2l1.2 .6l1.3 -1l1.2 -.1l1.3 .6l1.2 .4l1.3 -.7l1.2 -.2l1.3 .6l1.2 -.5l1.3 .3l1.3 -.5l1.2 .8l1.3 -.7l1.2 .3l1.3 1l1.2 -.4l1.3 -.3l1.2 -.5l1.3 .7l1.2 -.1l1.3 0l1.2 -.1l1.3 .2l1.2 -.4l1.3 -.5l1.2 .5l1.3 .1l1.2 .2l1.3 -.2l1.2 -.4l1.3 .2l1.2 -.2l1.3 .6l1.2 0l1.3 -.8l1.2 .7l1.3 .2l1.2 0l1.3 -.3l1.2 -.4l1.3 .6l1.2 0l1.3 -.6l1.2 .6l1.3 -.6l1.2 .2l1.3 .4l1.2 0l1.3 -.5l1.2 .6l1.3 -.7l1.2 .8l1.3 0l1.2 -.4l1.3 -.1l1.2 -.3l1.3 .5l1.2 -.7l1.3 .9l1.2 0l1.3 -.6l1.2 .1l1.3 -.1l1.2 -.2l1.3 .8l1.2 -.9" stroke="#111" stroke-width="2" fill="none" stroke-linejoin="round"/>
<path d="M5.8 631l1.2 .2l1.3 -.6l1.3 .3l1.2 -.7l1.3 .2l1.2 -.1l1.3 -.2l1.2 -.1l1.3 .6l1.2 0l1.3 -.6l1.2 -.1l1.3 .2l1.2 .3l1.3 -.8l1.2 .1l1.3 .5l1.2 -.7l1.3 -.1l1.2 .7l1.2 -.8l1.3 .5l1.2 -.1l1.3 -.3l1.2 .2l1.3 .4l1.2 -.6l1.3 .6l1.2 -1l1.3 .3l1.2 .2l1.3 -.3l1.2 -.1l1.3 .4l1.2 .4l1.3 -.4l1.2 .3l1.3 .1l1.2 -.1l1.3 -.6l1.2 0l1.3 .1l1.2 -.4l1.3 .4l1.2 -.3l1.3 .4l1.2 .3l1.3 -.9l1.2 .5l1.3 -.4l1.2 .5l1.3 -.2l1.2 .6l1.3 -.4l1.2 .1l1.3 -.2l1.2 -.4l1.3 .8l1.2 -.2l1.3 .3l1.2 -.3l1.3 .3l1.2 -.6l1.3 .6l1.2 -.8l1.3 .3l1.2 .5l1.3 -.3l1.2 -.2l1.3 .2l1.2 -.4l1.3 -.2l1.2 .5l1.3 .2l1.2 0l1.3 -.5l1.2 0l1.3 .6l1.2 -.5l1.3 -.4l1.2 .4l1.3 .5l1.2 -.1l1.3 -.2l1.2 -.6l1.3 .8l1.2 -.8l1.3 .8l1.2 -.6l1.3 .5l1.2 -.5l1.3 -.2l1.2 .9l1.3 -.4l1.2 0l1.3 0l1.2 .2l1.3 -.7l1.3 .6l1.2 -.2l1.3 .1l1.2 -.1l1.3 0l1.2 -.2l1.3 .1l1.2 .3l1.3 -.7l1.2 0l1.3 .2l1.2 .5l1.3 .1l1.2 0l1.3 -.8l1.2 .9l1.3 -.5l1.2 .6l1.3 -.5l1.2 .1l1.3 -.2l1.2 -.2l1.3 .8l1.2 0l1.3 -.9l1.2 1l1.3 -.8l1.2 .4l1.3 .3l1.2 -.9l1.3 .4l1.2 0l1.3 .1l1.2 -.6l1.3 .1l1.2 .3l1.3 .1l1.2 .5l1.3 -.4l1.2 -.4l1.3 .6l1.2 -.7l1.3 0l1.2 .6l1.3 0l1.2 -.4l1.3 .4l1.2 -.4l1.3 -.1l1.2 0l1.3 -.7l1.2 .5l1.3 .9l1.2 -.1l1.3 -.7l1.2 .3" stroke="#111" stroke-width="2.1" fill="none" stroke-linejoin="round"/>
<path d="M5.8 634.2l1.2 -.5l1.3 -.2l1.3 .4l1.2 -.1l1.3 -.5l1.2 .4l1.3 -.5l1.2 0l1.3 .1l1.2 .4l1.3 -.5l1.2 -.2l1.3 .2l1.2 0l1.3 -.5l1.2 .7l1.3 0l1.2 -.5l1.3 -.4l1.2 0l1.2 .4l1.3 .4l1.2 0l1.3 -.3l1.2 -.2l1.3 .2l1.2 0l1.3 .2l1.2 -.7l1.3 .4l1.2 -.2l1.3 0l1.2 .4l1.3 -.2l1.2 -.6l1.3 .6l1.2 -.2l1.3 -.3l1.2 .3l1.3 .2l1.2 -.7l1.3 .5l1.2 -.3l1.3 .7l1.2 -.9l1.3 .2l1.2 -.2l1.3 .6l1.2 -.3l1.3 -.2l1.2 .7l1.3 -.9l1.2 .7l1.3 0l1.2 -.7l1.3 .1l1.2 .9l1.3 -.7l1.2 .2l1.3 0l1.2 .2l1.3 0l1.2 -.5l1.3 .3l1.2 0l1.3 0l1.2 .2l1.3 -.6l1.2 .6l1.3 .1l1.2 .1l1.3 -.1l1.2 -.3l1.3 0l1.2 -.3l1.3 .1l1.2 -.4l1.3 1l1.2 -.2l1.3 0l1.2 .1l1.3 -.3l1.2 -.6l1.3 .8l1.2 -.4l1.3 -.2l1.2 0l1.3 .4l1.2 -.4l1.3 .6l1.2 0l1.3 -.1l1.2 -.5l1.3 .5l1.2 .1l1.3 .1l1.2 -.8l1.3 .7l1.3 0l1.2 -.6l1.3 .5l1.2 -.2l1.3 .2l1.2 -.2l1.3 -.1l1.2 .1l1.3 -.2l1.2 .5l1.3 .2l1.2 -.8l1.3 0l1.2 .1l1.3 .4l1.2 -.3l1.3 .5l1.2 -.4l1.3 -.1l1.2 .1l1.3 0l1.2 .1l1.3 .4l1.2 -1l1.3 .7l1.2 -.6l1.3 .6l1.2 -.1l1.3 -.6l1.2 .1l1.3 .6l1.2 0l1.3 -.5l1.2 .7l1.3 -.8l1.2 0l1.3 .3l1.2 .5l1.3 0l1.2 0l1.3 -.1l1.2 -.5l1.3 0l1.2 .1l1.3 .6l1.2 -.5l1.3 -.5l1.2 .9l1.3 0l1.2 -.3l1.3 .2l1.2 -.3l1.3 -.1l1.2 .5l1.3 -.3l1.2 -.6" stroke="#111" stroke-width="2.1" fill="none" stroke-linejoin="round"/>
<path d="M5.8 636.9l1.2 -.5l1.3 .1l1.3 -.5l1.2 .6l1.3 -.6l1.2 -.5l1.3 .8l1.2 .2l1.3 .1l1.2 -.5l1.3 .3l1.2 .2l1.3 0l1.2 -.1l1.3 -.2l1.2 -.7l1.3 .4l1.2 -.3l1.3 .2l1.2 .6l1.2 -1l1.3 -.1l1.2 0l1.3 .2l1.2 .7l1.3 -.1l1.2 0l1.3 -.7l1.2 -.1l1.3 .6l1.2 -.1l1.3 -.3l1.2 .5l1.3 -.4l1.2 0l1.3 .2l1.2 -.5l1.3 .2l1.2 .7l1.3 -.1l1.2 -.1l1.3 -.4l1.2 .3l1.3 -.3l1.2 -.4l1.3 .2l1.2 -.3l1.3 .5l1.2 .1l1.3 .3l1.2 -.9l1.3 .9l1.2 -.3l1.3 -.4l1.2 .3l1.3 0l1.2 .1l1.3 0l1.2 .3l1.3 -.4l1.2 -.2l1.3 -.3l1.2 .4l1.3 .3l1.2 0l1.3 -.2l1.2 0l1.3 -.2l1.2 0l1.3 .4l1.2 -.1l1.3 -.5l1.2 .7l1.3 -.5l1.2 .1l1.3 -.1l1.2 -.2l1.3 0l1.2 .5l1.3 -.3l1.2 .1l1.3 -.1l1.2 .1l1.3 .4l1.2 .2l1.3 -.2l1.2 -.8l1.3 .9l1.2 -.5l1.3 -.2l1.2 .1l1.3 .4l1.2 -.7l1.3 .2l1.2 .3l1.3 0l1.2 1l1.3 -1.1l1.3 .3l1.2 -.2l1.3 -.5l1.2 .3l1.3 -.3l1.2 .9l1.3 0l1.2 -.1l1.3 .1l1.2 -.8l1.3 .1l1.2 .4l1.3 -.6l1.2 .5l1.3 -.3l1.2 .5l1.3 -.7l1.2 .7l1.3 .3l1.2 -.5l1.3 .3l1.2 -.4l1.3 -.3l1.2 .8l1.3 .1l1.2 0l1.3 -.4l1.2 .2l1.3 .2l1.2 -1l1.3 .7l1.2 -.7l1.3 -.1l1.2 .1l1.3 0l1.2 .8l1.3 -.2l1.2 .4l1.3 -.8l1.2 0l1.3 .4l1.2 -.3l1.3 .4l1.2 .1l1.3 .1l1.2 -.9l1.3 .6l1.2 .4l1.3 -.8l1.2 -.1l1.3 .3l1.2 -.4l1.3 .4l1.2 -.4l1.3 .9l1.2 -.8" stroke="#111" stroke-width="2.1" fill="none" stroke-linejoin="round"/>
<path d="M5.8 639l1.2 .4l1.3 -.3l1.3 .2l1.2 .4l1.3 -1l1.2 .7l1.3 .3l1.2 -.5l1.3 -.5l1.2 .6l1.3 -.8l1.2 .5l1.3 -.1l1.2 -.2l1.3 .4l1.2 -.2l1.3 0l1.2 .2l1.3 -.2l1.2 .2l1.2 .1l1.3 0l1.2 -.2l1.3 -.2l1.2 .2l1.3 .4l1.2 -.1l1.3 -.3l1.2 -.3l1.3 -.1l1.2 .1l1.3 0l1.2 .3l1.3 0l1.2 0l1.3 -.2l1.2 .5l1.3 -.5l1.2 -.4l1.3 .8l1.2 -.1l1.3 -.6l1.2 0l1.3 .3l1.2 -.2l1.3 .7l1.2 -1l1.3 .8l1.2 -.6l1.3 .5l1.2 -.6l1.3 .1l1.2 .2l1.3 -.2l1.2 .2l1.3 .3l1.2 -.3l1.3 -.1l1.2 -.2l1.3 .6l1.2 -.4l1.3 .1l1.2 -.9l1.3 1.2l1.2 .2l1.3 .1l1.2 -.7l1.3 0l1.2 .3l1.3 -.4l1.2 .3l1.3 .3l1.2 0l1.3 -.2l1.2 .3l1.3 -.3l1.2 -.6l1.3 -.1l1.2 .4l1.3 .2l1.2 .2l1.3 .1l1.2 -.7l1.3 .3l1.2 0l1.3 .2l1.2 .4l1.3 -.3l1.2 .1l1.3 -.8l1.2 .5l1.3 .5l1.2 -1l1.3 .9l1.2 -.1l1.3 -.4l1.2 .5l1.3 -.4l1.3 -.3l1.2 -.1l1.3 .5l1.2 -.1l1.3 .4l1.2 -.1l1.3 .2l1.2 -.8l1.3 -.2l1.2 .7l1.3 .2l1.2 -.3l1.3 .2l1.2 -.8l1.3 .1l1.2 .7l1.3 -.8l1.2 .1l1.3 .8l1.2 -.2l1.3 0l1.2 .2l1.3 -.6l1.2 .3l1.3 -.4l1.2 .7l1.3 -1.4l1.2 1.1l1.3 .2l1.2 -.2l1.3 .3l1.2 -.3l1.3 -.4l1.2 -.2l1.3 .8l1.2 0l1.3 -.9l1.2 .4l1.3 -.3l1.2 .7l1.3 -.7l1.2 .4l1.3 -.5l1.2 .6l1.3 -.5l1.2 .4l1.3 0l1.2 -.3l1.3 .3l1.2 -.4l1.3 .9l1.2 -.6l1.3 0l1.2 -.1l1.3 -.1l1.2 .7" stroke="#111" stroke-width="2.2" fill="none" stroke-linejoin="round"/>
<path d="M5.8 642.2l1.2 -.2l1.3 -.4l1.3 .3l1.2 .6l1.3 -.8l1.2 0l1.3 .8l1.2 0l1.3 -.3l1.2 -.7l1.3 .5l1.2 .1l1.3 -.4l1.2 .3l1.3 -.6l1.2 .7l1.3 -.3l1.2 .2l1.3 .2l1.2 -.3l1.2 -.5l1.3 .2l1.2 -.1l1.3 .5l1.2 -.1l1.3 -.6l1.2 .8l1.3 .2l1.2 -.6l1.3 .4l1.2 -.7l1.3 .1l1.2 .4l1.3 -.1l1.2 .1l1.3 -.4l1.2 .6l1.3 -.8l1.2 .9l1.3 -.3l1.2 -.6l1.3 .5l1.2 .1l1.3 -.4l1.2 .1l1.3 .6l1.2 -.6l1.3 -.3l1.2 .1l1.3 .5l1.2 -.1l1.3 -.1l1.2 -.1l1.3 .1l1.2 -.2l1.3 0l1.2 0l1.3 .2l1.2 .5l1.3 .1l1.2 -.9l1.3 .4l1.2 .3l1.3 -.7l1.2 -.2l1.3 .7l1.2 -.3l1.3 -.3l1.2 .3l1.3 0l1.2 .1l1.3 -.1l1.2 -.2l1.3 .1l1.2 .3l1.3 -.4l1.2 .3l1.3 -.1l1.2 .5l1.3 0l1.2 -.5l1.3 .3l1.2 -.6l1.3 .5l1.2 -.3l1.3 0l1.2 .6l1.3 -.2l1.2 -.6l1.3 .5l1.2 -.4l1.3 .9l1.2 -1l1.3 .1l1.2 .9l1.3 -.5l1.2 -.6l1.3 .7l1.3 .3l1.2 -1l1.3 0l1.2 1.1l1.3 -.8l1.2 .4l1.3 -.6l1.2 .3l1.3 .4l1.2 -.5l1.3 .1l1.2 .4l1.3 -.8l1.2 .3l1.3 -.3l1.2 .9l1.3 -.7l1.2 .5l1.3 -.3l1.2 -.2l1.3 -.1l1.2 .7l1.3 -.3l1.2 0l1.3 -.4l1.2 1l1.3 -.6l1.2 -.3l1.3 .6l1.2 -.4l1.3 1.1l1.2 -.9l1.3 .2l1.2 -.7l1.3 .5l1.2 -.6l1.3 .9l1.2 .2l1.3 0l1.2 -.8l1.3 .3l1.2 .3l1.3 0l1.2 .1l1.3 -.6l1.2 .1l1.3 .4l1.2 -.2l1.3 .2l1.2 0l1.3 -.3l1.2 .1l1.3 -.5l1.2 -.1l1.3 1.4l1.2 -.7" stroke="#111" stroke-width="2.2" fill="none" stroke-linejoin="round"/>
<path d="M5.8 645l1.2 -.5l1.3 .7l1.3 -.7l1.2 .5l1.3 .1l1.2 -.4l1.3 -.3l1.2 .2l1.3 0l1.2 -.3l1.3 1l1.2 -.4l1.3 -.7l1.2 .7l1.3 -.7l1.2 .1l1.3 -.1l1.2 0l1.3 .8l1.2 -.8l1.2 .9l1.3 -.4l1.2 .3l1.3 -.5l1.2 .2l1.3 .5l1.2 -1.4l1.3 1.7l1.2 -.3l1.3 -.1l1.2 -.5l1.3 -.4l1.2 0l1.3 .6l1.2 -.6l1.3 .3l1.2 -.2l1.3 .6l1.2 .2l1.3 -.9l1.2 .6l1.3 0l1.2 -.4l1.3 -.1l1.2 .7l1.3 -.3l1.2 -.4l1.3 .9l1.2 -.9l1.3 .4l1.2 .4l1.3 -.7l1.2 .8l1.3 -.4l1.2 -.6l1.3 .3l1.2 .4l1.3 -.1l1.2 -.5l1.3 .5l1.2 -.4l1.3 .4l1.2 -.4l1.3 -.1l1.2 .3l1.3 .3l1.2 0l1.3 0l1.2 -.6l1.3 0l1.2 .3l1.3 -.1l1.2 .6l1.3 -.2l1.2 0l1.3 -.5l1.2 -.2l1.3 .2l1.2 .7l1.3 -.1l1.2 -.1l1.3 -.2l1.2 -.4l1.3 .6l1.2 -.6l1.3 -.1l1.2 0l1.3 .6l1.2 -.5l1.3 0l1.2 .5l1.3 .4l1.2 -.2l1.3 .2l1.2 -.2l1.3 -.2l1.2 -.4l1.3 .4l1.3 .1l1.2 -.6l1.3 .1l1.2 0l1.3 .7l1.2 .1l1.3 -.7l1.2 .3l1.3 -.5l1.2 -.1l1.3 .3l1.2 .4l1.3 -.3l1.2 .5l1.3 -.2l1.2 -.5l1.3 .8l1.2 0l1.3 -.3l1.2 -.2l1.3 0l1.2 0l1.3 -.3l1.2 .3l1.3 -.1l1.2 .2l1.3 -.4l1.2 .4l1.3 -.2l1.2 .1l1.3 -.2l1.2 -.1l1.3 .6l1.2 -.7l1.3 .1l1.2 .5l1.3 -.2l1.2 .3l1.3 0l1.2 -.8l1.3 .8l1.2 -.6l1.3 .1l1.2 .2l1.3 0l1.2 -.2l1.3 .1l1.2 -.1l1.3 .3l1.2 .1l1.3 .1l1.2 -.6l1.3 .1l1.2 .5l1.3 -.5l1.2 .9" stroke="#111" stroke-width="2.3" fill="none" stroke-linejoin="round"/>
<path d="M5.8 648.1l1.2 -.2l1.3 -.5l1.3 -.2l1.2 -.1l1.3 .8l1.2 -.5l1.3 -.3l1.2 1l1.3 -.2l1.2 -.6l1.3 .5l1.2 -.5l1.3 .8l1.2 -1.6l1.3 .8l1.2 .6l1.3 -.5l1.2 .2l1.3 -.3l1.2 .5l1.2 .1l1.3 -.7l1.2 .1l1.3 -.1l1.2 .2l1.3 .4l1.2 -.1l1.3 -.3l1.2 .3l1.3 -.2l1.2 -.4l1.3 1l1.2 -1l1.3 .5l1.2 -.3l1.3 .6l1.2 .2l1.3 -.3l1.2 -.3l1.3 -.1l1.2 .1l1.3 .4l1.2 .1l1.3 0l1.2 -.1l1.3 -.7l1.2 0l1.3 .9l1.2 -.4l1.3 -.3l1.2 .1l1.3 -.1l1.2 0l1.3 -.1l1.2 -.2l1.3 1l1.2 .1l1.3 -.4l1.2 .2l1.3 -.2l1.2 0l1.3 -.5l1.2 .4l1.3 -.6l1.2 .6l1.3 .2l1.2 0l1.3 .1l1.2 -.8l1.3 .9l1.2 -.6l1.3 .6l1.2 -.6l1.3 0l1.2 -.4l1.3 .5l1.2 .3l1.3 -.8l1.2 .9l1.3 -.4l1.2 .5l1.3 -.5l1.2 -.5l1.3 .2l1.2 0l1.3 .5l1.2 -.5l1.3 .7l1.2 -.6l1.3 .3l1.2 -.3l1.3 .3l1.2 .1l1.3 -.6l1.2 -.1l1.3 1.1l1.2 -.5l1.3 0l1.3 .2l1.2 -.5l1.3 .1l1.2 .2l1.3 -.5l1.2 .5l1.3 .2l1.2 -.3l1.3 -.2l1.2 -.3l1.3 .5l1.2 0l1.3 .1l1.2 -.4l1.3 .1l1.2 .2l1.3 .2l1.2 -.6l1.3 1.2l1.2 -1.1l1.3 .8l1.2 -.7l1.3 -.1l1.2 .5l1.3 -.5l1.2 .3l1.3 -.3l1.2 -.1l1.3 .8l1.2 -.1l1.3 -.5l1.2 -.2l1.3 -.1l1.2 .3l1.3 0l1.2 .3l1.3 -.6l1.2 .8l1.3 -.2l1.2 .2l1.3 -.5l1.2 .6l1.3 .1l1.2 -.7l1.3 .3l1.2 -.5l1.3 .8l1.2 -.7l1.3 0l1.2 .3l1.3 -.5l1.2 .1l1.3 -.1l1.2 .9l1.3 -.4l1.2 -.2" stroke="#111" stroke-width="2.3" fill="none" stroke-linejoin="round"/>
<path d="M12.4 634.3L18.7 634.1M22.5 633.9L29.1 633.9M30.6 634.3L35.1 634.1M41.3 633.9L56.1 634.1M62.9 633.8L75.4 633.7M82.9 634.2L95.4 634.4M97.5 634.1L111.2 634M118.7 633.9L134.5 633.9M138.8 634.1L148.9 634.1M155.2 633.9L166.2 633.9M173.8 634.1L176.9 634M178.3 634.4L188.2 634.6M192.1 634.3L196.5 634.2" stroke="#efefef" stroke-width=".7" fill="none"/>
<path d="M9.1 637.1L23.6 637M30.9 637.1L45 637.1M55 637.2L66.2 637.5M71.7 637.1L85.6 637.4M90.1 637.5L105.6 637.3M108.6 637L121.9 637M124.9 637.4L134.7 637.1M139.2 637.4L145.6 637.6M149.3 636.9L160.6 636.7M168.2 637.1L177.6 637M184.2 637.1L196.5 636.8" stroke="#efefef" stroke-width=".7" fill="none"/>
<path d="M8.3 640L14.1 639.7M25.1 640.6L30.6 640.4M36.7 640.4L49.1 640.2M57.1 640.4L62 640.2M75.5 640.1L87.8 640.3M90.5 640.6L98.2 640.3M108.8 640.2L115.8 640.4M126 640.4L139 640.7M145.2 640.4L154.5 640.2M157 640.6L171.8 640.5M176.7 640L190.2 639.8" stroke="#efefef" stroke-width=".6" fill="none"/>
<path d="M9.9 643L13.3 643.1M20.5 643L24.6 643.2M35 643.6L45.6 643.6M50.9 643.3L59.6 643.5M67.6 643.1L70.7 643.2M74.1 643L81.1 643M98.9 643.1L102.7 642.8M121.3 643.1L126.1 643.3M141 643.4L151.7 643.2M164.9 643.6L173.6 643.3M188.5 643.3L196.5 643.1" stroke="#efefef" stroke-width=".6" fill="none"/>
<path d="M9.7 646.5L22.9 646.4M39.4 646.3L44.8 646.4M51.7 645.9L59.8 645.7M63.6 646L79.4 646M85.5 645.9L88.9 646.2M100.1 646L112.5 646.2M122.5 646.2L138.1 646.1M147.6 646L152.1 646.1M176.8 646.5L187.6 646.3" stroke="#efefef" stroke-width=".5" fill="none"/>
<path d="M6.1 623.6L6.1 648.6" stroke="#000" stroke-width="1.7" stroke-linecap="butt" fill="none"/>
<path d="M198.2 620.6L198.2 648.6" stroke="#000" stroke-width="1.7" stroke-linecap="butt" fill="none"/>
<path d="M1.8 644.5L7.8 644.5" stroke="#000" stroke-width="3.2" stroke-linecap="butt" fill="none"/>
<path d="M196.5 644.5L205 644.5" stroke="#000" stroke-width="3.2" stroke-linecap="butt" fill="none"/>
<rect x="63.3" y="605.3" width="12.8" height="12.8" fill="#fff" stroke="#000" stroke-width="1.1"/>
<text x="96.4" y="616.4" font-size="15.5" font-weight="normal" fill="#000" stroke="#000" stroke-width=".3" textLength="36.1" lengthAdjust="spacingAndGlyphs">Wash</text>
<text x="121.5" y="688.8" font-size="16.5" font-weight="normal" fill="#000" stroke="#000" stroke-width=".4" textLength="42.8" lengthAdjust="spacingAndGlyphs">50 pA</text>
<path d="M172.1 667.2L172.1 696.8L203 696.8" stroke="#000" stroke-width="1.6" fill="none" stroke-linejoin="round"/>
<text x="174.3" y="714.4" font-size="15.6" font-weight="normal" fill="#000" stroke="#000" stroke-width=".3" textLength="49.2" lengthAdjust="spacingAndGlyphs">100 ms</text>
</g>
<g id="pF">
<path d="M348.8 403.8L348.8 682.1" stroke="#000" stroke-width="1.8" stroke-linecap="butt" fill="none"/>
<path d="M240.6 576.9L457 576.9" stroke="#000" stroke-width="1.8" stroke-linecap="butt" fill="none"/>
<path d="M241.5 576.9L241.5 582.9" stroke="#000" stroke-width="1.8" stroke-linecap="butt" fill="none"/>
<path d="M259.4 576.9L259.4 582.9" stroke="#000" stroke-width="1.8" stroke-linecap="butt" fill="none"/>
<path d="M277.3 576.9L277.3 582.9" stroke="#000" stroke-width="1.8" stroke-linecap="butt" fill="none"/>
<path d="M295.2 576.9L295.2 582.9" stroke="#000" stroke-width="1.8" stroke-linecap="butt" fill="none"/>
<path d="M313 576.9L313 582.9" stroke="#000" stroke-width="1.8" stroke-linecap="butt" fill="none"/>
<path d="M330.9 576.9L330.9 582.9" stroke="#000" stroke-width="1.8" stroke-linecap="butt" fill="none"/>
<path d="M366.7 576.9L366.7 582.9" stroke="#000" stroke-width="1.8" stroke-linecap="butt" fill="none"/>
<path d="M384.6 576.9L384.6 582.9" stroke="#000" stroke-width="1.8" stroke-linecap="butt" fill="none"/>
<path d="M402.4 576.9L402.4 582.9" stroke="#000" stroke-width="1.8" stroke-linecap="butt" fill="none"/>
<path d="M420.3 576.9L420.3 582.9" stroke="#000" stroke-width="1.8" stroke-linecap="butt" fill="none"/>
<path d="M438.2 576.9L438.2 582.9" stroke="#000" stroke-width="1.8" stroke-linecap="butt" fill="none"/>
<path d="M456.1 576.9L456.1 582.9" stroke="#000" stroke-width="1.8" stroke-linecap="butt" fill="none"/>
<path d="M344.8 421.4L348.8 421.4" stroke="#000" stroke-width="1.8" stroke-linecap="butt" fill="none"/>
<path d="M344.8 472.9L348.8 472.9" stroke="#000" stroke-width="1.8" stroke-linecap="butt" fill="none"/>
<path d="M344.8 525.2L348.8 525.2" stroke="#000" stroke-width="1.8" stroke-linecap="butt" fill="none"/>
<path d="M344.8 629L348.8 629" stroke="#000" stroke-width="1.8" stroke-linecap="butt" fill="none"/>
<path d="M344.8 681.2L348.8 681.2" stroke="#000" stroke-width="1.8" stroke-linecap="butt" fill="none"/>
<text x="326" y="425.4" font-size="15.6" font-weight="normal" fill="#000" stroke="#000" stroke-width=".3" textLength="17.4" lengthAdjust="spacingAndGlyphs">1.8</text>
<text x="326" y="476.9" font-size="15.6" font-weight="normal" fill="#000" stroke="#000" stroke-width=".3" textLength="17.4" lengthAdjust="spacingAndGlyphs">1.2</text>
<text x="323.9" y="529.2" font-size="15.6" font-weight="normal" fill="#000" stroke="#000" stroke-width=".3" textLength="19.5" lengthAdjust="spacingAndGlyphs">0.6</text>
<text x="318.4" y="633" font-size="15.6" font-weight="normal" fill="#000" stroke="#000" stroke-width=".3" textLength="25" lengthAdjust="spacingAndGlyphs">-0.6</text>
<text x="319.9" y="685.2" font-size="15.6" font-weight="normal" fill="#000" stroke="#000" stroke-width=".3" textLength="23.5" lengthAdjust="spacingAndGlyphs">-1.2</text>
<text x="231.3" y="597.5" font-size="15.6" font-weight="normal" fill="#000" stroke="#000" stroke-width=".3" textLength="22.7" lengthAdjust="spacingAndGlyphs">-120</text>
<text x="249.5" y="597.5" font-size="15.6" font-weight="normal" fill="#000" stroke="#000" stroke-width=".3" textLength="23" lengthAdjust="spacingAndGlyphs">-100</text>
<text x="268.5" y="597.5" font-size="15.6" font-weight="normal" fill="#000" stroke="#000" stroke-width=".3" textLength="20" lengthAdjust="spacingAndGlyphs">-80</text>
<text x="286.5" y="597.5" font-size="15.6" font-weight="normal" fill="#000" stroke="#000" stroke-width=".3" textLength="19.5" lengthAdjust="spacingAndGlyphs">-60</text>
<text x="304" y="597.5" font-size="15.6" font-weight="normal" fill="#000" stroke="#000" stroke-width=".3" textLength="20" lengthAdjust="spacingAndGlyphs">-40</text>
<text x="322" y="597.5" font-size="15.6" font-weight="normal" fill="#000" stroke="#000" stroke-width=".3" textLength="20.5" lengthAdjust="spacingAndGlyphs">-20</text>
<text x="359.8" y="597.5" font-size="15.6" font-weight="normal" fill="#000" stroke="#000" stroke-width=".3" textLength="14.1" lengthAdjust="spacingAndGlyphs">20</text>
<text x="377.8" y="597.5" font-size="15.6" font-weight="normal" fill="#000" stroke="#000" stroke-width=".3" textLength="14.4" lengthAdjust="spacingAndGlyphs">40</text>
<text x="395.8" y="597.5" font-size="15.6" font-weight="normal" fill="#000" stroke="#000" stroke-width=".3" textLength="14.1" lengthAdjust="spacingAndGlyphs">60</text>
<text x="413.7" y="597.5" font-size="15.6" font-weight="normal" fill="#000" stroke="#000" stroke-width=".3" textLength="14.3" lengthAdjust="spacingAndGlyphs">80</text>
<text x="428.3" y="597.5" font-size="15.6" font-weight="normal" fill="#000" stroke="#000" stroke-width=".3" textLength="20.6" lengthAdjust="spacingAndGlyphs">100</text>
<text x="447.9" y="597.5" font-size="15.6" font-weight="normal" fill="#000" stroke="#000" stroke-width=".3" textLength="19.3" lengthAdjust="spacingAndGlyphs">120</text>
<text x="411.8" y="622.6" font-size="18.3" font-weight="normal" fill="#000" stroke="#000" stroke-width=".4" textLength="53.9" lengthAdjust="spacingAndGlyphs">Vm (mV)</text>
<text transform="translate(315.5 518) rotate(-90)" x="0" y="0" font-size="17.5" font-weight="normal" fill="#000" stroke="#000" stroke-width=".4" textLength="113" lengthAdjust="spacingAndGlyphs"><tspan font-family="Liberation Mono">I</tspan>(normalized)</text>
<path d="M438.2 429.4V445M435.2 429.4H441.2M435.2 445H441.2" stroke="#000" stroke-width="1.4" fill="none"/>
<path d="M420.3 454V479M417.3 454H423.3M417.3 479H423.3" stroke="#000" stroke-width="1.4" fill="none"/>
<path d="M402.4 481V491M399.4 481H405.4M399.4 491H405.4" stroke="#000" stroke-width="1.4" fill="none"/>
<path d="M384.6 506.8V517M381.6 506.8H387.6M381.6 517H387.6" stroke="#000" stroke-width="1.4" fill="none"/>
<path d="M277.3 631V638.5M274.3 631H280.3M274.3 638.5H280.3" stroke="#000" stroke-width="1.4" fill="none"/>
<path d="M259.4 649V659.6M256.4 649H262.4M256.4 659.6H262.4" stroke="#000" stroke-width="1.4" fill="none"/>
<path d="M259.4 601.3V609M256.4 601.3H262.4M256.4 609H262.4" stroke="#000" stroke-width="1.3" fill="none"/>
<path d="M259.4 623.4L277.3 612L295.2 601.5L313 590L330.9 579L348.8 570L366.7 557.5L384.6 542L402.4 524.4L420.3 507.6L438.2 491" stroke="#000" stroke-width="2" fill="none" stroke-linejoin="round"/>
<path d="M259.4 633.5L277.3 620.2L295.2 608.9L313 594L330.9 580L348.8 568.7L366.7 555.8L384.6 538.2L402.4 520.2L420.3 500.5L438.2 481.7" stroke="#000" stroke-width="2" fill="none" stroke-linejoin="round"/>
<path d="M259.4 608.9L277.3 602.6L295.2 595L313 585.5L330.9 577L348.8 566L366.7 548.3L384.6 528.2L402.4 508L420.3 490.5L438.2 469.1" stroke="#000" stroke-width="2" fill="none" stroke-linejoin="round" stroke-dasharray="9 2.2"/>
<path d="M259.4 649.6L277.3 631L295.2 613.9L313 596.3L330.9 579.2L348.8 560.4L366.7 539.5L384.6 516.4L402.4 491L420.3 466.6L438.2 444.8" stroke="#000" stroke-width="2" fill="none" stroke-linejoin="round" stroke-dasharray="9 2.2"/>
<rect x="255.4" y="619.4" width="8" height="8" fill="#000" stroke="#000" stroke-width="1.4"/>
<rect x="273.3" y="608" width="8" height="8" fill="#000" stroke="#000" stroke-width="1.4"/>
<rect x="291.2" y="597.5" width="8" height="8" fill="#000" stroke="#000" stroke-width="1.4"/>
<rect x="309" y="586" width="8" height="8" fill="#000" stroke="#000" stroke-width="1.4"/>
<rect x="326.9" y="575" width="8" height="8" fill="#000" stroke="#000" stroke-width="1.4"/>
<rect x="344.8" y="566" width="8" height="8" fill="#000" stroke="#000" stroke-width="1.4"/>
<rect x="362.7" y="553.5" width="8" height="8" fill="#000" stroke="#000" stroke-width="1.4"/>
<rect x="380.6" y="538" width="8" height="8" fill="#000" stroke="#000" stroke-width="1.4"/>
<rect x="398.4" y="520.4" width="8" height="8" fill="#000" stroke="#000" stroke-width="1.4"/>
<rect x="416.3" y="503.6" width="8" height="8" fill="#000" stroke="#000" stroke-width="1.4"/>
<rect x="434.2" y="487" width="8" height="8" fill="#000" stroke="#000" stroke-width="1.4"/>
<rect x="256.1" y="628.8" width="6.6" height="9.4" fill="#fff" stroke="#000" stroke-width="1.8"/>
<rect x="274" y="615.5" width="6.6" height="9.4" fill="#fff" stroke="#000" stroke-width="1.8"/>
<rect x="291.9" y="604.2" width="6.6" height="9.4" fill="#fff" stroke="#000" stroke-width="1.8"/>
<rect x="309.7" y="589.3" width="6.6" height="9.4" fill="#fff" stroke="#000" stroke-width="1.8"/>
<rect x="327.6" y="575.3" width="6.6" height="9.4" fill="#fff" stroke="#000" stroke-width="1.8"/>
<rect x="345.5" y="564" width="6.6" height="9.4" fill="#fff" stroke="#000" stroke-width="1.8"/>
<rect x="363.4" y="551.1" width="6.6" height="9.4" fill="#fff" stroke="#000" stroke-width="1.8"/>
<rect x="381.3" y="533.5" width="6.6" height="9.4" fill="#fff" stroke="#000" stroke-width="1.8"/>
<rect x="399.1" y="515.5" width="6.6" height="9.4" fill="#fff" stroke="#000" stroke-width="1.8"/>
<rect x="417" y="495.8" width="6.6" height="9.4" fill="#fff" stroke="#000" stroke-width="1.8"/>
<rect x="434.9" y="477" width="6.6" height="9.4" fill="#fff" stroke="#000" stroke-width="1.8"/>
<path d="M259.4 602.5L265.1 613.5L253.6 613.5Z" fill="#000" stroke="#000" stroke-width="1" stroke-linejoin="round"/>
<path d="M277.3 596.2L283 607.2L271.5 607.2Z" fill="#000" stroke="#000" stroke-width="1" stroke-linejoin="round"/>
<path d="M295.2 588.6L300.9 599.6L289.4 599.6Z" fill="#000" stroke="#000" stroke-width="1" stroke-linejoin="round"/>
<path d="M313 579.1L318.8 590.1L307.3 590.1Z" fill="#000" stroke="#000" stroke-width="1" stroke-linejoin="round"/>
<path d="M330.9 570.6L336.7 581.6L325.2 581.6Z" fill="#000" stroke="#000" stroke-width="1" stroke-linejoin="round"/>
<path d="M348.8 559.6L354.6 570.6L343.1 570.6Z" fill="#000" stroke="#000" stroke-width="1" stroke-linejoin="round"/>
<path d="M366.7 541.9L372.4 552.9L360.9 552.9Z" fill="#000" stroke="#000" stroke-width="1" stroke-linejoin="round"/>
<path d="M384.6 521.8L390.3 532.8L378.8 532.8Z" fill="#000" stroke="#000" stroke-width="1" stroke-linejoin="round"/>
<path d="M402.4 501.6L408.2 512.6L396.7 512.6Z" fill="#000" stroke="#000" stroke-width="1" stroke-linejoin="round"/>
<path d="M420.3 484.1L426.1 495.1L414.6 495.1Z" fill="#000" stroke="#000" stroke-width="1" stroke-linejoin="round"/>
<path d="M438.2 462.7L444 473.7L432.5 473.7Z" fill="#000" stroke="#000" stroke-width="1" stroke-linejoin="round"/>
<circle cx="259.4" cy="649.6" r="5.2" fill="url(#sphd)" stroke="#000" stroke-width="1.6"/>
<circle cx="277.3" cy="631" r="5.2" fill="url(#sphd)" stroke="#000" stroke-width="1.6"/>
<circle cx="295.2" cy="613.9" r="5.2" fill="url(#sphd)" stroke="#000" stroke-width="1.6"/>
<circle cx="313" cy="596.3" r="5.2" fill="url(#sphd)" stroke="#000" stroke-width="1.6"/>
<circle cx="330.9" cy="579.2" r="5.2" fill="url(#sphd)" stroke="#000" stroke-width="1.6"/>
<circle cx="348.8" cy="560.4" r="5.2" fill="url(#sphd)" stroke="#000" stroke-width="1.6"/>
<circle cx="366.7" cy="539.5" r="5.2" fill="url(#sphd)" stroke="#000" stroke-width="1.6"/>
<circle cx="384.6" cy="516.4" r="5.2" fill="url(#sphd)" stroke="#000" stroke-width="1.6"/>
<circle cx="402.4" cy="491" r="5.2" fill="url(#sphd)" stroke="#000" stroke-width="1.6"/>
<circle cx="420.3" cy="466.6" r="5.2" fill="url(#sphd)" stroke="#000" stroke-width="1.6"/>
<circle cx="438.2" cy="444.8" r="5.2" fill="url(#sphd)" stroke="#000" stroke-width="1.6"/>
</g>
<g id="pG">
<path d="M508.2 365.3L508.2 450" stroke="#000" stroke-width="1.6" stroke-linecap="butt" fill="none"/>
<path d="M508.2 449L508.2 644" stroke="#000" stroke-width="1.9" stroke-linecap="butt" fill="none"/>
<path d="M708.3 437.9L708.3 674.7" stroke="#000" stroke-width="1.9" stroke-linecap="butt" fill="none"/>
<rect x="508" y="453.8" width="200" height="22" fill="#050505"/>
<path d="M508 454l1.2 -.5l1.3 -.5l1.3 1l1.2 -.1l1.2 -.4l1.3 -.3l1.3 .1l1.2 -.3l1.2 -.1l1.3 .3l1.3 -.3l1.2 -.6l1.2 .3l1.3 -.7l1.3 .3l1.2 .5l1.2 -.7l1.3 .3l1.3 .4l1.2 -.4l1.2 -.7l1.3 .3l1.3 .7l1.2 -1l1.2 .8l1.3 -.1l1.3 -1l1.2 1.1l1.2 -.6l1.3 0l1.3 .2l1.2 -.2l1.2 0l1.3 -.5l1.3 -.1l1.2 .2l1.2 .2l1.3 .1l1.3 -.4l1.2 .1l1.2 -.3l1.3 .4l1.3 -.3l1.2 .4l1.2 -.2l1.3 .4l1.3 -.8l1.2 0l1.2 0l1.3 .9l1.3 -.3l1.2 -.6l1.2 .7l1.3 -.5l1.3 .2l1.2 .4l1.2 -.6l1.3 -.2l1.3 .2l1.2 -.3l1.2 .6l1.3 0l1.3 .3l1.2 0l1.2 -.4l1.3 -.2l1.3 0l1.2 .2l1.2 .3l1.3 -.9l1.3 .1l1.2 .5l1.2 -.5l1.3 1.1l1.3 -.5l1.2 -.2l1.2 .4l1.3 .1l1.3 -.6l1.2 .2l1.2 -.4l1.3 .6l1.3 -.2l1.2 -.4l1.2 .2l1.3 0l1.3 .7l1.2 -.9l1.2 .1l1.3 .4l1.3 -.3l1.2 .5l1.2 -.8l1.3 .1l1.3 .2l1.2 .1l1.2 -.3l1.3 .2l1.3 .2l1.2 .1l1.2 -.2l1.3 .5l1.3 -.2l1.2 -.4l1.2 0l1.3 -.1l1.3 .1l1.2 .6l1.2 -.9l1.3 .6l1.3 -.4l1.2 .8l1.2 -.3l1.3 -.6l1.3 0l1.2 -.1l1.2 .3l1.3 .6l1.3 -.3l1.2 .3l1.2 -1.1l1.3 1.2l1.3 -.5l1.2 .5l1.2 -.6l1.3 -.4l1.3 .9l1.2 -.2l1.2 -.1l1.3 .2l1.3 -.2l1.2 -.1l1.2 .2l1.3 -.3l1.3 .4l1.2 -.9l1.2 .4l1.3 .4l1.3 .1l1.2 -.8l1.2 .7l1.3 .2l1.3 -.9l1.2 1l1.2 -.9l1.3 -.2l1.3 1l1.2 -.6l1.2 .6l1.3 -.1l1.3 .1l1.2 0l1.2 -.6l1.3 -.2l1.3 .7l1.2 -.8l1.2 .4l1.3 .4l1.3 -.8l1.2 1" stroke="#111" stroke-width="1.8" fill="none" stroke-linejoin="round"/>
<path d="M508 454.6l1.2 -.3l1.3 0l1.3 .2l1.2 -.7l1.2 .4l1.3 -.1l1.3 0l1.2 -.1l1.2 -.3l1.3 .2l1.3 -.7l1.2 .3l1.2 -.2l1.3 -.6l1.3 .5l1.2 -.3l1.2 .6l1.3 -.5l1.3 .7l1.2 -.4l1.2 -1l1.3 .7l1.3 .1l1.2 -.4l1.2 -.1l1.3 0l1.3 .4l1.2 0l1.2 .4l1.3 -.1l1.3 -.3l1.2 .1l1.2 -.2l1.3 .2l1.3 -.1l1.2 -.3l1.2 -.2l1.3 .5l1.3 -.3l1.2 .2l1.2 -.1l1.3 .3l1.3 0l1.2 0l1.2 -.2l1.3 .1l1.3 -.3l1.2 -.4l1.2 1.3l1.3 -.7l1.3 .3l1.2 -.9l1.2 .8l1.3 -.6l1.3 0l1.2 0l1.2 .5l1.3 -.2l1.3 -.2l1.2 -.3l1.2 1.1l1.3 -.8l1.3 .5l1.2 -.8l1.2 -.2l1.3 .1l1.3 .7l1.2 0l1.2 -.1l1.3 .1l1.3 .1l1.2 .1l1.2 -.4l1.3 .2l1.3 -.4l1.2 -.3l1.2 .3l1.3 .5l1.3 -.9l1.2 .9l1.2 -.5l1.3 -.3l1.3 0l1.2 .3l1.2 .4l1.3 -.6l1.3 .1l1.2 .7l1.2 -.7l1.3 .4l1.3 -.2l1.2 0l1.2 .4l1.3 -.5l1.3 1.1l1.2 -.9l1.2 -.5l1.3 .1l1.3 -.6l1.2 .5l1.2 0l1.3 .5l1.3 -.5l1.2 .3l1.2 0l1.3 0l1.3 .4l1.2 -.3l1.2 .5l1.3 -1l1.3 .5l1.2 -.4l1.2 -.1l1.3 .1l1.3 .5l1.2 -.2l1.2 .4l1.3 -.5l1.3 .3l1.2 -.4l1.2 .7l1.3 -.5l1.3 .4l1.2 -.6l1.2 -.1l1.3 .8l1.3 -.4l1.2 -.2l1.2 0l1.3 .2l1.3 .4l1.2 -.3l1.2 0l1.3 .3l1.3 -.5l1.2 -.1l1.2 1.1l1.3 -.7l1.3 -.4l1.2 .1l1.2 .2l1.3 .2l1.3 -.2l1.2 .3l1.2 -.4l1.3 -.5l1.3 .1l1.2 .7l1.2 0l1.3 -.7l1.3 .5l1.2 .2l1.2 0l1.3 .2l1.3 -1l1.2 .2l1.2 -.2l1.3 .2l1.3 .2l1.2 .2" stroke="#111" stroke-width="1.8" fill="none" stroke-linejoin="round"/>
<path d="M508 454.6l1.2 .3l1.3 .2l1.3 -.7l1.2 .1l1.2 -.3l1.3 .1l1.3 .3l1.2 .2l1.2 -.4l1.3 .2l1.3 -.5l1.2 0l1.2 .2l1.3 .4l1.3 -.9l1.2 .5l1.2 -.1l1.3 -.2l1.3 .5l1.2 -.4l1.2 -.1l1.3 -.1l1.3 .3l1.2 0l1.2 0l1.3 -.2l1.3 .2l1.2 -.2l1.2 .5l1.3 -.8l1.3 0l1.2 .4l1.2 .2l1.3 -.7l1.3 .5l1.2 0l1.2 -.6l1.3 .7l1.3 -.7l1.2 .9l1.2 -.3l1.3 .2l1.3 0l1.2 -.1l1.2 -.1l1.3 .1l1.3 0l1.2 -.4l1.2 -.4l1.3 1.2l1.3 -1l1.2 -.1l1.2 .3l1.3 .4l1.3 -.6l1.2 .1l1.2 .5l1.3 -.4l1.3 .3l1.2 -.6l1.2 .1l1.3 .7l1.3 -.9l1.2 .1l1.2 .2l1.3 -.1l1.3 .1l1.2 0l1.2 -.2l1.3 -.2l1.3 .8l1.2 -.5l1.2 .1l1.3 .3l1.3 -.3l1.2 .5l1.2 .1l1.3 -.1l1.3 -.6l1.2 -.3l1.2 0l1.3 .8l1.3 -.5l1.2 -.1l1.2 -.1l1.3 0l1.3 .8l1.2 -.9l1.2 .5l1.3 -.4l1.3 -.1l1.2 1l1.2 -.2l1.3 -.5l1.3 -.1l1.2 0l1.2 .1l1.3 .2l1.3 -.1l1.2 .1l1.2 -.1l1.3 -.1l1.3 .1l1.2 -.2l1.2 .1l1.3 .7l1.3 -.7l1.2 .3l1.2 -.1l1.3 -.3l1.3 .2l1.2 -.3l1.2 0l1.3 .5l1.3 -.4l1.2 0l1.2 .6l1.3 -.6l1.3 .3l1.2 -.3l1.2 .4l1.3 -.2l1.3 .6l1.2 0l1.2 -.3l1.3 .1l1.3 -.7l1.2 .2l1.2 0l1.3 .4l1.3 .1l1.2 -.1l1.2 -.3l1.3 .4l1.3 0l1.2 -.6l1.2 .6l1.3 .1l1.3 -.2l1.2 -.5l1.2 .6l1.3 -.3l1.3 -.4l1.2 .2l1.2 .3l1.3 .3l1.3 -.6l1.2 .3l1.2 -.6l1.3 .4l1.3 -.3l1.2 -.1l1.2 .6l1.3 -.2l1.3 -.1l1.2 .7l1.2 -.1l1.3 -.5l1.3 .5l1.2 -.8" stroke="#111" stroke-width="1.8" fill="none" stroke-linejoin="round"/>
<path d="M508 475.3l1.2 .6l1.3 .2l1.3 -.8l1.2 .4l1.2 -.2l1.3 -.1l1.3 .3l1.2 .5l1.2 -.7l1.3 .4l1.3 -.2l1.2 .3l1.2 -.5l1.3 -.1l1.3 .5l1.2 -.3l1.2 .5l1.3 -.2l1.3 -.3l1.2 0l1.2 .2l1.3 -.6l1.3 .6l1.2 .1l1.2 -.2l1.3 -.3l1.3 .4l1.2 -.5l1.2 .6l1.3 0l1.3 -.7l1.2 .7l1.2 -.5l1.3 .2l1.3 -.1l1.2 -.2l1.2 .7l1.3 -.8l1.3 .9l1.2 -.7l1.2 .2l1.3 -.2l1.3 -.2l1.2 .9l1.2 -.2l1.3 -.4l1.3 -.1l1.2 .2l1.2 .1l1.3 .3l1.3 -.5l1.2 0l1.2 .5l1.3 .1l1.3 -.4l1.2 .3l1.2 -.1l1.3 0l1.3 -.4l1.2 .3l1.2 -.5l1.3 .3l1.3 .4l1.2 -.2l1.2 .3l1.3 -.3l1.3 .3l1.2 -.6l1.2 -.2l1.3 .6l1.3 -.1l1.2 -.1l1.2 -.1l1.3 .2l1.3 .5l1.2 -1l1.2 .3l1.3 -.2l1.3 .5l1.2 .2l1.2 -.8l1.3 .5l1.3 -.5l1.2 .9l1.2 -.8l1.3 .7l1.3 -.2l1.2 -.2l1.2 .3l1.3 -.4l1.3 .2l1.2 .1l1.2 -.7l1.3 .1l1.3 .7l1.2 -.3l1.2 .5l1.3 -.3l1.3 .2l1.2 -.7l1.2 .1l1.3 .3l1.3 .3l1.2 -.7l1.2 .6l1.3 -.7l1.3 .5l1.2 -.1l1.2 .3l1.3 0l1.3 -.1l1.2 .1l1.2 -.3l1.3 -.4l1.3 .4l1.2 .1l1.2 .3l1.3 -.2l1.3 -.2l1.2 .4l1.2 -.6l1.3 -.1l1.3 .7l1.2 -.6l1.2 -.3l1.3 .4l1.3 .3l1.2 0l1.2 -.1l1.3 0l1.3 .1l1.2 -.1l1.2 .3l1.3 -.3l1.3 -.3l1.2 .2l1.2 .1l1.3 .2l1.3 .2l1.2 -.2l1.2 -.7l1.3 .3l1.3 .5l1.2 0l1.2 -.4l1.3 .2l1.3 -.5l1.2 .5l1.2 -.6l1.3 .3l1.3 .2l1.2 .3l1.2 -.6l1.3 0l1.3 0l1.2 .3l1.2 -.2l1.3 .1l1.3 -.2l1.2 .4" stroke="#111" stroke-width="1.8" fill="none" stroke-linejoin="round"/>
<path d="M512.2 470l2 -.4l2 .6l2 -.5l2 .3l2 .2l2 -.4l2 .3l2 -.5l2 .2l2 .4l2 -.2l2 -.3l2 -.1l2 .1" stroke="#f4f4f4" stroke-width=".8" fill="none" stroke-linejoin="round"/>
<path d="M544.9 469.9l2 .2l2 -.4l2 .4l2 0l2 .1l2 -.6l2 .3l2 .1l2 .2l2 -.2l2 -.1l2 -.3l2 .4l2 -.3l2 .1l2 0l2 .4l2 -.2l2 -.4l2 .5l2 -.1l2 -.4l2 .4l2 .2l2 0l2 -.5l2 .1l2 .2l2 -.1" stroke="#f4f4f4" stroke-width=".8" fill="none" stroke-linejoin="round"/>
<path d="M608.1 470l2 -.3l2 .3l2 -.3l2 .3l2 -.2l2 .1l2 -.3l2 .2l2 -.2l2 .3l2 0l2 -.1l2 .2l2 0l2 -.4l2 0l2 .3l2 0l2 .2l2 0l2 -.4" stroke="#f4f4f4" stroke-width=".8" fill="none" stroke-linejoin="round"/>
<path d="M652.9 470.1l2 -.4l2 .4l2 -.2l2 -.3l2 .1l2 0l2 0l2 -.1l2 .3l2 -.3l2 .2l2 0l2 0l2 -.2l2 .6" stroke="#f4f4f4" stroke-width=".8" fill="none" stroke-linejoin="round"/>
<path d="M685.1 469.8l2 0l2 -.1l2 .5l2 -.2l2 0l2 -.2l2 -.2l2 .6l2 -.7l2 .5" stroke="#f4f4f4" stroke-width=".8" fill="none" stroke-linejoin="round"/>
<path d="M511.2 472.4l2 -.3l2 .5l2 -.2l2 .2l2 .2l2 0l2 -.2l2 -.3l2 .5l2 0l2 -.5l2 .2l2 -.1l2 .4l2 .1l2 0l2 0l2 0l2 0l2 0l2 -.2l2 -.1l2 .2l2 .1l2 -.2l2 -.4l2 0l2 0l2 0l2 .5l2 -.2l2 -.2l2 .4l2 .1l2 -.1l2 0l2 -.2" stroke="#fff" stroke-width="1.1" fill="none" stroke-linejoin="round"/>
<path d="M586.3 473.1l2 -.6l2 .1l2 .1l2 -.1l2 0l2 .2l2 0l2 .1l2 -.2l2 -.2l2 .4" stroke="#fff" stroke-width="1.1" fill="none" stroke-linejoin="round"/>
<path d="M609.9 472.7l2 -.1l2 .2l2 -.1l2 -.4l2 .6l2 -.3l2 .7l2 -1l2 .6l2 -.3l2 -.1l2 -.1l2 -.1l2 0l2 .2l2 .3l2 -.1l2 .1l2 -.2l2 -.3l2 .1l2 .5l2 -.6" stroke="#fff" stroke-width="1.1" fill="none" stroke-linejoin="round"/>
<path d="M657.4 472.4l2 .4l2 -.5l2 -.4l2 .7l2 .2l2 0l2 .1l2 -.3l2 0l2 0l2 -.1l2 -.1l2 .2l2 .3l2 -.4l2 .3l2 -.5l2 .1l2 .4l2 -.2l2 .1l2 .2l2 -.4l2 0" stroke="#fff" stroke-width="1.1" fill="none" stroke-linejoin="round"/>
<path d="M512.5 475.1l2 .1l2 0l2 -.1l2 -.3l2 .2l2 -.2l2 0l2 .5l2 -.5l2 .5l2 -.1l2 -.1l2 .2l2 0l2 0l2 -.3l2 .3l2 -.1l2 -.3l2 -.2l2 .6l2 -.1l2 -.5l2 0l2 .4l2 -.2" stroke="#eee" stroke-width=".6" fill="none" stroke-linejoin="round"/>
<path d="M574.4 475.1l2 0l2 -.4l2 0l2 .5l2 -.5l2 .5l2 -.1l2 -.2l2 .2l2 .1l2 -.2l2 -.1l2 .4l2 -.6l2 .4l2 0l2 0l2 .2l2 -.2l2 -.1l2 -.1l2 -.2l2 0" stroke="#eee" stroke-width=".6" fill="none" stroke-linejoin="round"/>
<path d="M631.9 475.2l2 0l2 -.4l2 .2l2 -.2l2 0l2 0l2 0l2 .3l2 -.4l2 .2l2 .4l2 -.2l2 .1l2 -.2l2 0l2 0l2 0l2 0l2 .3l2 -.1l2 -.1l2 .2l2 -.1l2 -.1l2 -.4l2 .2l2 .1l2 .3l2 -.3l2 -.3l2 .6l2 -.5l2 .4l2 .1l2 -.5l2 0l2 .3" stroke="#eee" stroke-width=".6" fill="none" stroke-linejoin="round"/>
<path d="M511.5 456.8l2 .2l2 0l2 .1l2 -.3l2 .1l2 .1l2 0l2 -.3l2 0l2 .3l2 .2" stroke="#bbb" stroke-width=".5" fill="none" stroke-linejoin="round"/>
<path d="M587 457.1l2 -.4l2 .5l2 .1l2 -.5l2 .2l2 -.3l2 .5l2 -.5l2 .5l2 -.2l2 -.3l2 .4l2 .1l2 -.3l2 .3l2 -.3l2 .1l2 .1l2 0l2 -.4l2 .2l2 .2" stroke="#bbb" stroke-width=".5" fill="none" stroke-linejoin="round"/>
<path d="M644.9 457.3l2 0l2 -.4l2 .2l2 -.1l2 .1l2 -.4l2 .5l2 0l2 -.1l2 -.1l2 .2l2 -.3l2 .2l2 0l2 .1l2 -.5" stroke="#bbb" stroke-width=".5" fill="none" stroke-linejoin="round"/>
<path d="M702.2 456.9l2 .6l2 -.4" stroke="#bbb" stroke-width=".5" fill="none" stroke-linejoin="round"/>
<path d="M514.1 459.8l2 0l2 -.1l2 .1l2 0l2 .2l2 .3l2 -.4l2 .3l2 -.4l2 .1l2 0l2 -.1l2 .2l2 0l2 -.1l2 .2l2 -.1l2 .2l2 -.4l2 .4l2 -.4l2 .1l2 -.2l2 .2l2 .2l2 -.1l2 .2l2 -.5l2 0l2 0l2 .2l2 .3l2 .1l2 -.1l2 -.3l2 -.3l2 .2l2 .4l2 0" stroke="#bbb" stroke-width=".5" fill="none" stroke-linejoin="round"/>
<path d="M600.6 460.2l2 0l2 -.4l2 .5l2 -.4l2 -.2l2 .1l2 -.1l2 0l2 .4l2 -.4l2 .1l2 .2l2 .1l2 -.4l2 .3l2 -.1l2 -.2l2 .5l2 -.2l2 .2" stroke="#bbb" stroke-width=".5" fill="none" stroke-linejoin="round"/>
<path d="M682.9 460.3l2 -.4l2 -.2l2 .2l2 .3l2 -.2l2 -.3l2 .3l2 -.3l2 .4l2 -.2l2 -.6l2 .5" stroke="#bbb" stroke-width=".5" fill="none" stroke-linejoin="round"/>
<path d="M512.1 464.8l2 0l2 0l2 -.3l2 -.1l2 -.1l2 .2l2 0l2 .1l2 0l2 -.3l2 .4l2 -.1l2 .1l2 -.5l2 .4l2 .2l2 -.2l2 -.4l2 .5l2 0l2 0l2 -.2l2 .2l2 0l2 -.4l2 -.1l2 0l2 .3l2 -.5l2 .6l2 -.2l2 .4l2 -.6" stroke="#ccc" stroke-width=".5" fill="none" stroke-linejoin="round"/>
<path d="M602.9 464.5l2 .3l2 -.5l2 .3l2 .2l2 -.1l2 -.2l2 -.2l2 .5l2 -.2l2 .1l2 .1l2 -.2l2 0" stroke="#ccc" stroke-width=".5" fill="none" stroke-linejoin="round"/>
<path d="M640.7 464.3l2 .2l2 -.2l2 .1l2 -.2l2 .3l2 .3l2 -.6l2 0l2 .6l2 0l2 -.6l2 .5l2 -.2l2 -.3l2 .1l2 .4l2 -.3l2 .2" stroke="#ccc" stroke-width=".5" fill="none" stroke-linejoin="round"/>
<path d="M693.6 464.2l2 .1l2 -.1l2 .3l2 -.1l2 -.2l2 .2" stroke="#ccc" stroke-width=".5" fill="none" stroke-linejoin="round"/>
<path d="M517.2 456.4l2.5 -.2l2.5 .2l2.5 .1l2.5 0l2.5 0l2.5 -.4" stroke="#cfcfcf" stroke-width=".5" fill="none" stroke-linejoin="round"/>
<path d="M554.3 456.5l2.5 .2l2.5 0l2.5 0l2.5 .1l2.5 -.1l2.5 -.1l2.5 0l2.5 .2l2.5 -.2" stroke="#cfcfcf" stroke-width=".5" fill="none" stroke-linejoin="round"/>
<path d="M688.1 464.4l2.5 .3l2.5 -.3l2.5 .1l2.5 -.2l2.5 .2l2.5 .1" stroke="#cfcfcf" stroke-width=".5" fill="none" stroke-linejoin="round"/>
<path d="M511.7 456.8l2.5 .1l2.5 .2l2.5 0l2.5 -.2l2.5 -.1l2.5 0" stroke="#cfcfcf" stroke-width=".5" fill="none" stroke-linejoin="round"/>
<path d="M650.6 455.5l2.5 .1l2.5 .2l2.5 -.1l2.5 0l2.5 .2l2.5 -.3l2.5 -.1l2.5 -.3l2.5 .6" stroke="#cfcfcf" stroke-width=".5" fill="none" stroke-linejoin="round"/>
<path d="M663.8 473.6l2.5 -.2l2.5 -.1l2.5 .2" stroke="#cfcfcf" stroke-width=".5" fill="none" stroke-linejoin="round"/>
<path d="M647.6 468l2.5 0l2.5 .1l2.5 .1l2.5 -.1l2.5 .3" stroke="#cfcfcf" stroke-width=".5" fill="none" stroke-linejoin="round"/>
<path d="M584.9 456l2.5 .2l2.5 -.2" stroke="#cfcfcf" stroke-width=".5" fill="none" stroke-linejoin="round"/>
<path d="M551.2 473.5l2.5 -.2l2.5 -.1l2.5 .2" stroke="#cfcfcf" stroke-width=".5" fill="none" stroke-linejoin="round"/>
<path d="M634.2 467.1l2.5 -.2l2.5 -.2l2.5 .1l2.5 -.1l2.5 0l2.5 .2l2.5 -.1l2.5 .1l2.5 -.2" stroke="#cfcfcf" stroke-width=".5" fill="none" stroke-linejoin="round"/>
<path d="M697.5 457l2.5 -.3" stroke="#cfcfcf" stroke-width=".5" fill="none" stroke-linejoin="round"/>
<path d="M589.9 461l2.5 .4l2.5 -.2l2.5 .2l2.5 -.2l2.5 -.1" stroke="#cfcfcf" stroke-width=".5" fill="none" stroke-linejoin="round"/>
<path d="M659.3 468.3l2.5 .3l2.5 -.1l2.5 -.2l2.5 .3" stroke="#cfcfcf" stroke-width=".5" fill="none" stroke-linejoin="round"/>
<path d="M654.9 463.1l2.5 -.1l2.5 .2" stroke="#cfcfcf" stroke-width=".5" fill="none" stroke-linejoin="round"/>
<path d="M486 461.9H720" stroke="#8a8a8a" stroke-width="1" stroke-dasharray="2.4 1.4" fill="none"/>
<path d="M502.7 466.7L509 466.7" stroke="#000" stroke-width="2.8" stroke-linecap="butt" fill="none"/>
<path d="M707 466.7L720 466.7" stroke="#000" stroke-width="2.8" stroke-linecap="butt" fill="none"/>
<rect x="555.8" y="421.9" width="12.8" height="12.8" fill="#000" stroke="#000" stroke-width="1.4"/>
<text x="586.3" y="433.3" font-size="15.5" font-weight="normal" fill="#000" stroke="#000" stroke-width=".3" textLength="50.1" lengthAdjust="spacingAndGlyphs">Control</text>
<rect x="508" y="526" width="200" height="32.8" fill="#050505"/>
<path d="M508 526.5l1.2 -.5l1.3 -.1l1.3 .8l1.2 -.1l1.2 -.3l1.3 .2l1.3 -1l1.2 .8l1.2 .1l1.3 .2l1.3 -.1l1.2 -.2l1.2 -.2l1.3 .3l1.3 -.6l1.2 -.2l1.2 .8l1.3 -.1l1.3 -.1l1.2 -.3l1.2 .4l1.3 .4l1.3 -.7l1.2 .4l1.2 -.1l1.3 -.8l1.3 0l1.2 1.1l1.2 -1l1.3 1l1.3 -.5l1.2 -.4l1.2 .6l1.3 .3l1.3 -.2l1.2 .1l1.2 -.6l1.3 .1l1.3 .1l1.2 -.3l1.2 0l1.3 .4l1.3 .1l1.2 -.1l1.2 .4l1.3 -.3l1.3 -.8l1.2 .9l1.2 -.3l1.3 -.4l1.3 .1l1.2 .5l1.2 -.1l1.3 -.5l1.3 .8l1.2 .1l1.2 .1l1.3 -1.2l1.3 .1l1.2 .2l1.2 .2l1.3 -.3l1.3 -.1l1.2 .3l1.2 0l1.3 .4l1.3 .1l1.2 0l1.2 -.4l1.3 .2l1.3 -.4l1.2 .3l1.2 .5l1.3 -.5l1.3 .3l1.2 -.3l1.2 -.2l1.3 -.4l1.3 .7l1.2 -.2l1.2 .3l1.3 .1l1.3 .1l1.2 -.4l1.2 -.2l1.3 .2l1.3 0l1.2 -.4l1.2 .4l1.3 -.2l1.3 -.3l1.2 1.7l1.2 -1.8l1.3 .5l1.3 -.3l1.2 .6l1.2 .2l1.3 -.8l1.3 .9l1.2 0l1.2 0l1.3 .1l1.3 -.2l1.2 -.9l1.2 .8l1.3 -.4l1.3 0l1.2 .4l1.2 -.3l1.3 0l1.3 -.5l1.2 1.1l1.2 -.7l1.3 .2l1.3 -.5l1.2 .4l1.2 -.5l1.3 .9l1.3 -.5l1.2 -.3l1.2 .8l1.3 -.3l1.3 -.1l1.2 -.4l1.2 .8l1.3 -.8l1.3 .4l1.2 -.5l1.2 .9l1.3 -.4l1.3 -.3l1.2 .4l1.2 .5l1.3 -1.1l1.3 0l1.2 1.1l1.2 -.6l1.3 -.5l1.3 .5l1.2 .5l1.2 .1l1.3 -1l1.3 0l1.2 .3l1.2 .3l1.3 .2l1.3 -.3l1.2 0l1.2 -.6l1.3 .1l1.3 0l1.2 .2l1.2 -.1l1.3 .8l1.3 -.5l1.2 -.3l1.2 .8l1.3 -1l1.3 .9l1.2 -.2" stroke="#111" stroke-width="1.8" fill="none" stroke-linejoin="round"/>
<path d="M508 559.2l1.2 -.7l1.3 .3l1.3 -.5l1.2 .5l1.2 .2l1.3 -.5l1.3 .2l1.2 .2l1.2 -.1l1.3 -.5l1.3 .9l1.2 -.1l1.2 -.9l1.3 .9l1.3 -.5l1.2 -.3l1.2 .4l1.3 .5l1.3 -.8l1.2 .6l1.2 -.4l1.3 .5l1.3 -.1l1.2 -.1l1.2 -.4l1.3 .7l1.3 0l1.2 -.9l1.2 .1l1.3 .2l1.3 .1l1.2 -.4l1.2 .3l1.3 -.1l1.3 .2l1.2 -.6l1.2 .1l1.3 .2l1.3 .6l1.2 -.7l1.2 .3l1.3 .1l1.3 -.6l1.2 .7l1.2 -.4l1.3 0l1.3 .6l1.2 -.3l1.2 .4l1.3 -.4l1.3 -.4l1.2 .4l1.2 .4l1.3 -.8l1.3 0l1.2 .6l1.2 .3l1.3 -.9l1.3 .6l1.2 -.1l1.2 -.3l1.3 0l1.3 .2l1.2 .3l1.2 -.4l1.3 -.4l1.3 .6l1.2 .1l1.2 -.4l1.3 -.1l1.3 .4l1.2 -.2l1.2 0l1.3 .4l1.3 0l1.2 -.1l1.2 -.2l1.3 0l1.3 .1l1.2 -.5l1.2 .5l1.3 -.6l1.3 .4l1.2 .2l1.2 -.4l1.3 .4l1.3 -.3l1.2 -.2l1.2 -.2l1.3 .4l1.3 .5l1.2 .1l1.2 -.4l1.3 .3l1.3 -.4l1.2 -.3l1.2 .1l1.3 -.1l1.3 .3l1.2 -.3l1.2 -.1l1.3 .8l1.3 -.1l1.2 .1l1.2 -.4l1.3 .6l1.3 -.6l1.2 -.3l1.2 -.1l1.3 .1l1.3 .2l1.2 -.2l1.2 .1l1.3 .5l1.3 -.1l1.2 .2l1.2 -.1l1.3 .1l1.3 -.5l1.2 0l1.2 .4l1.3 .3l1.3 -.3l1.2 -.1l1.2 .2l1.3 -.3l1.3 -.2l1.2 .4l1.2 0l1.3 .3l1.3 -.9l1.2 .1l1.2 .2l1.3 .4l1.3 .1l1.2 -.1l1.2 -.6l1.3 .4l1.3 -.2l1.2 -.3l1.2 .4l1.3 .3l1.3 -.5l1.2 -.1l1.2 0l1.3 .8l1.3 -.3l1.2 -.4l1.2 .6l1.3 0l1.3 0l1.2 -.6l1.2 0l1.3 .6l1.3 0l1.2 -.4l1.2 .4l1.3 -.7l1.3 .4l1.2 -.1" stroke="#111" stroke-width="1.8" fill="none" stroke-linejoin="round"/>
<path d="M511.3 527.6l2 0l2 .3l2 0l2 .3l2 -.3l2 0l2 -.2l2 .1l2 .3l2 0l2 -.1l2 -.1l2 -.3l2 .4l2 -.1l2 .2l2 .1l2 -.5l2 .3l2 .1l2 .1l2 -.2l2 0l2 0l2 0l2 .1l2 -.2l2 -.3l2 .2l2 0l2 .3" stroke="#aaa" stroke-width=".5" fill="none" stroke-linejoin="round"/>
<path d="M579.3 527.7l2 0l2 .1l2 -.2l2 .2l2 .1l2 -.2l2 .1l2 0l2 .2l2 0" stroke="#aaa" stroke-width=".5" fill="none" stroke-linejoin="round"/>
<path d="M613.5 527.9l2 -.1l2 0l2 -.1l2 .5l2 0l2 -.3l2 -.3l2 0l2 .5" stroke="#aaa" stroke-width=".5" fill="none" stroke-linejoin="round"/>
<path d="M637.6 527.8l2 .2l2 -.3l2 0l2 .4l2 -.3l2 .4l2 -.3l2 .2l2 -.2l2 -.3l2 .6l2 -.5l2 .4l2 -.1l2 .1l2 -.4l2 -.1l2 .2l2 -.2l2 .4" stroke="#aaa" stroke-width=".5" fill="none" stroke-linejoin="round"/>
<path d="M695.5 527.6l2 .2l2 0l2 .2l2 0l2 0" stroke="#aaa" stroke-width=".5" fill="none" stroke-linejoin="round"/>
<path d="M516.5 530.6l2 -.1l2 .4l2 0l2 0l2 .1l2 -.2l2 -.1l2 -.2l2 .1l2 0l2 0" stroke="#c4c4c4" stroke-width=".6" fill="none" stroke-linejoin="round"/>
<path d="M548.1 530.5l2 .1l2 .2l2 -.3l2 .3l2 -.2l2 .4l2 .1l2 -.6l2 .4l2 -.1l2 .1l2 -.1l2 -.1l2 .1l2 -.3" stroke="#c4c4c4" stroke-width=".6" fill="none" stroke-linejoin="round"/>
<path d="M590.1 530.9l2 .1l2 0l2 -.4l2 .3l2 -.2l2 0l2 .2l2 .2l2 -.5l2 .2l2 -.3l2 0l2 .5l2 -.1l2 -.4l2 0l2 .5l2 .1l2 -.1l2 -.5l2 .4l2 .1l2 -.1l2 -.1l2 0l2 .2l2 -.8l2 .3l2 .6l2 0l2 0l2 -.5l2 0l2 .3l2 -.2" stroke="#c4c4c4" stroke-width=".6" fill="none" stroke-linejoin="round"/>
<path d="M672.3 530.9l2 -.2l2 .2l2 0l2 -.2l2 0l2 .1l2 0l2 -.3l2 0l2 .1" stroke="#c4c4c4" stroke-width=".6" fill="none" stroke-linejoin="round"/>
<path d="M701.1 530.1l2 .7l2 .1" stroke="#c4c4c4" stroke-width=".6" fill="none" stroke-linejoin="round"/>
<path d="M513.3 533.5l2 -.1l2 .2l2 .3l2 -.3l2 .4l2 -.6l2 .1l2 -.1l2 .5l2 0l2 -.3l2 .3l2 -.2l2 0l2 .3l2 -.1l2 -.2l2 -.2l2 0l2 .4l2 -.1l2 -.1l2 -.3l2 0l2 .4l2 -.2l2 .2l2 -.3l2 -.1l2 0l2 .1l2 .1l2 0l2 .3l2 -.4" stroke="#f0f0f0" stroke-width=".7" fill="none" stroke-linejoin="round"/>
<path d="M586.9 534l2 -.5l2 .1l2 .3l2 -.1l2 -.4l2 .1l2 .3l2 -.2l2 -.1l2 0l2 .2l2 -.7l2 .6l2 .1l2 .2" stroke="#f0f0f0" stroke-width=".7" fill="none" stroke-linejoin="round"/>
<path d="M618.5 533.9l2 .1l2 -.5l2 .4l2 -.5l2 .2l2 -.2l2 0l2 .1l2 .1l2 0l2 .1l2 -.2l2 0l2 -.1l2 0l2 -.3l2 .6l2 0l2 -.3l2 .4l2 -.3l2 .3l2 0l2 .1l2 0l2 -.1l2 -.2l2 .3l2 -.4l2 0l2 .3" stroke="#f0f0f0" stroke-width=".7" fill="none" stroke-linejoin="round"/>
<path d="M683.7 533.5l2 .2l2 -.2l2 .4l2 .1l2 -.2l2 -.3l2 .2l2 0l2 -.1l2 .4l2 -.6" stroke="#f0f0f0" stroke-width=".7" fill="none" stroke-linejoin="round"/>
<path d="M510.9 537.1l2 -.3l2 .3l2 -.3l2 .5l2 -.4l2 .2l2 -.2l2 .1l2 0l2 .3l2 0l2 -.1l2 -.3l2 0l2 .3l2 .1l2 -.1l2 -.1l2 .2l2 -.2l2 .2l2 -.4l2 .3l2 0l2 -.1l2 -.3l2 .3l2 -.3l2 .6l2 0l2 -.4l2 .4l2 -.3" stroke="#d0d0d0" stroke-width=".6" fill="none" stroke-linejoin="round"/>
<path d="M582.4 537.2l2 .1l2 -.3l2 .2l2 -.3l2 .1l2 .1l2 .4l2 -.2l2 0l2 .1l2 0l2 -.1l2 .1l2 -.1l2 .1l2 -.5l2 .5l2 -.2l2 -.2l2 .4l2 -.1l2 -.6l2 .2l2 .5l2 -.6l2 .1l2 .2l2 0l2 -.1l2 0l2 -.1l2 .1l2 -.1l2 .1l2 .3l2 -.1" stroke="#d0d0d0" stroke-width=".6" fill="none" stroke-linejoin="round"/>
<path d="M659.2 536.9l2 .3l2 -.4l2 .6l2 -.4l2 .3l2 -.2l2 -.3l2 .6l2 0l2 -.2l2 -.4l2 .4l2 -.2l2 .5l2 -.6l2 .4l2 -.1l2 -.4l2 .1l2 .5l2 -.5l2 .3l2 .1" stroke="#d0d0d0" stroke-width=".6" fill="none" stroke-linejoin="round"/>
<path d="M513.8 539.8l2 0l2 .6l2 -.5l2 .1l2 .2l2 -.4l2 .5l2 -.2l2 0l2 -.1l2 -.2l2 .6l2 -.4l2 -.1" stroke="#b0b0b0" stroke-width=".5" fill="none" stroke-linejoin="round"/>
<path d="M545.8 540.1l2 .2l2 -.4l2 -.1l2 .6l2 0l2 -.3l2 -.1l2 .3l2 -.4l2 .5l2 -.2l2 -.2l2 .1l2 -.1l2 .1l2 -.2l2 .5l2 -.1l2 -.2l2 -.3l2 .6l2 -.2l2 .1l2 -.2l2 -.3l2 .3l2 .3l2 -.6l2 .5l2 -.4l2 -.1l2 .3l2 0" stroke="#b0b0b0" stroke-width=".5" fill="none" stroke-linejoin="round"/>
<path d="M617.5 539.9l2 -.1l2 .3l2 -.1l2 .4l2 -.3l2 -.3l2 .4l2 -.1l2 .1" stroke="#b0b0b0" stroke-width=".5" fill="none" stroke-linejoin="round"/>
<path d="M646.9 540.3l2 -.1l2 0l2 -.1l2 -.1l2 -.1l2 .3l2 -.1l2 -.3l2 .2l2 -.1l2 .3l2 -.4l2 .3l2 0l2 .1l2 -.2l2 .4l2 .3l2 -.5l2 .1l2 -.5" stroke="#b0b0b0" stroke-width=".5" fill="none" stroke-linejoin="round"/>
<path d="M695.1 540l2 -.1l2 .4l2 0l2 -.1l2 -.3" stroke="#b0b0b0" stroke-width=".5" fill="none" stroke-linejoin="round"/>
<path d="M513.4 543.1l2 -.2l2 -.1l2 .4l2 0l2 0l2 -.2l2 .3l2 -.4l2 -.2l2 0l2 .2l2 .3l2 -.2l2 .6l2 -.9l2 .3l2 0l2 .3l2 -.3l2 0l2 0l2 -.2l2 -.1l2 0l2 0l2 .5l2 0l2 .1l2 -.3l2 0" stroke="#ececec" stroke-width=".7" fill="none" stroke-linejoin="round"/>
<path d="M574.8 542.8l2 -.1l2 .5l2 -.1l2 .2l2 -.4l2 -.2l2 .4l2 -.1l2 -.1l2 .2l2 .2l2 -.6l2 .1l2 .4l2 -.5l2 .2l2 .3l2 -.1l2 .1l2 -.2l2 .3l2 -.3l2 -.1l2 0l2 .2l2 .2" stroke="#ececec" stroke-width=".7" fill="none" stroke-linejoin="round"/>
<path d="M630.8 543.3l2 -.1l2 -.4l2 0l2 .5l2 -.6l2 .2l2 0l2 .2l2 .2l2 0l2 -.3l2 -.1l2 .1l2 0l2 .1l2 .1l2 -.5l2 .6l2 0l2 -.3l2 .1l2 -.4l2 .6l2 -.4l2 .4l2 -.5l2 .5l2 -.5l2 .4l2 -.1" stroke="#ececec" stroke-width=".7" fill="none" stroke-linejoin="round"/>
<path d="M695.2 543.3l2 0l2 -.1l2 -.2l2 -.1l2 .1" stroke="#ececec" stroke-width=".7" fill="none" stroke-linejoin="round"/>
<path d="M509.2 545.9l2 .6l2 -.1l2 0l2 .1l2 -.5l2 0l2 .1l2 .4l2 0l2 0l2 -.3l2 .2l2 -.5l2 .5l2 -.3l2 0l2 0l2 0l2 .1l2 -.1l2 .3l2 0l2 .1l2 -.5l2 0l2 .1l2 -.2l2 .2l2 -.2l2 0l2 .5l2 0l2 -.3l2 -.1l2 .2l2 -.1l2 .1" stroke="#999" stroke-width=".5" fill="none" stroke-linejoin="round"/>
<path d="M593.3 546.3l2 .2l2 -.3l2 .2l2 0l2 -.4l2 .3l2 -.2l2 -.2l2 .4l2 -.3l2 .2l2 -.2l2 .5l2 -.1l2 -.1l2 -.3l2 -.1l2 .3l2 .1l2 .1l2 -.1" stroke="#999" stroke-width=".5" fill="none" stroke-linejoin="round"/>
<path d="M639.2 546.4l2 -.2l2 -.2l2 .2l2 -.3l2 .3l2 -.3l2 .2l2 .1l2 0l2 -.2l2 .1l2 .1l2 0l2 -.3l2 .3l2 0l2 -.2l2 .1l2 .1l2 -.2l2 .5l2 -.6l2 .6l2 -.3l2 .3l2 -.2l2 .1l2 -.3l2 .4l2 -.6l2 0l2 .2l2 .2" stroke="#999" stroke-width=".5" fill="none" stroke-linejoin="round"/>
<path d="M515.9 549.2l2 -.1l2 -.1l2 .1l2 .2l2 -.1l2 .1l2 .3l2 -.1l2 -.4l2 .5l2 -.6l2 .2l2 .2l2 -.3l2 .2l2 .1l2 -.4l2 0l2 .5l2 -.4l2 .1l2 .4l2 -.6l2 .2l2 0l2 -.2" stroke="#c8c8c8" stroke-width=".6" fill="none" stroke-linejoin="round"/>
<path d="M573.3 549.5l2 -.1l2 -.4l2 .6l2 -.1l2 .1l2 -.4l2 .2l2 .2l2 -.5l2 0l2 -.1l2 .6l2 -.6l2 .2l2 .3l2 0l2 -.1l2 -.1l2 -.2l2 .4l2 -.3l2 0l2 -.1l2 .3l2 -.3l2 .5l2 -.3l2 -.1l2 .2l2 -.2l2 .1l2 -.1l2 0l2 -.2l2 .1l2 .1l2 .1l2 .3l2 -.2" stroke="#c8c8c8" stroke-width=".6" fill="none" stroke-linejoin="round"/>
<path d="M656.9 549.3l2 .3l2 -.3l2 .3l2 0l2 -.2l2 .5l2 -.4l2 -.5l2 .6l2 -.2l2 .1l2 -.5l2 0l2 .2l2 -.1l2 .5l2 -.6l2 .5l2 -.5l2 0l2 .4l2 -.3l2 .2l2 -.1l2 -.2" stroke="#c8c8c8" stroke-width=".6" fill="none" stroke-linejoin="round"/>
<path d="M510.4 552l2 .2l2 -.2l2 .1l2 .2l2 -.1l2 .1l2 .1l2 -.2l2 .1l2 .2l2 -.6l2 .1l2 -.1l2 .2l2 .2l2 -.3l2 .2l2 -.3l2 .1l2 0l2 -.1l2 .1l2 .4l2 -.1l2 -.1l2 .2l2 -.4l2 -.1l2 .1l2 -.1l2 .3l2 .2l2 -.5l2 .3l2 -.2" stroke="#b8b8b8" stroke-width=".6" fill="none" stroke-linejoin="round"/>
<path d="M587.3 551.9l2 .4l2 .2l2 -1l2 .5l2 .4l2 -.5l2 .3l2 -.3l2 .5l2 -.3l2 .2l2 .2l2 -.4l2 .3l2 -.3l2 -.2l2 .3l2 0l2 -.1l2 .2l2 -.1l2 0l2 -.3l2 .1" stroke="#b8b8b8" stroke-width=".6" fill="none" stroke-linejoin="round"/>
<path d="M640.1 552.1l2 -.2l2 .2l2 .1l2 0l2 -.2l2 .2l2 -.2l2 .4l2 0l2 -.1l2 .2l2 0l2 0l2 0l2 -.1l2 0l2 0l2 -.5l2 0l2 .1l2 .2l2 .1l2 -.2l2 .2l2 0l2 -.6l2 .6l2 -.4" stroke="#b8b8b8" stroke-width=".6" fill="none" stroke-linejoin="round"/>
<path d="M700.8 552l2 .1l2 -.2l2 .2" stroke="#b8b8b8" stroke-width=".6" fill="none" stroke-linejoin="round"/>
<path d="M515.5 554.8l2 .3l2 .2l2 -.3l2 -.1l2 .1l2 -.3l2 0l2 .3l2 .1l2 0l2 .1l2 -.5l2 .3l2 -.1l2 .3l2 0l2 -.2l2 .2l2 -.1l2 -.3l2 -.1l2 0l2 0l2 .3l2 .1" stroke="#d8d8d8" stroke-width=".6" fill="none" stroke-linejoin="round"/>
<path d="M574.1 555l2 -.2l2 .5l2 -.2l2 -.4l2 .5l2 -.2l2 .1l2 -.2l2 0l2 .2l2 -.3l2 .3l2 -.1l2 -.1l2 .2l2 -.3l2 .3l2 .1l2 .1l2 -.4l2 0l2 -.2l2 .1l2 .2l2 0l2 -.1l2 .2l2 -.2l2 -.2l2 .6" stroke="#d8d8d8" stroke-width=".6" fill="none" stroke-linejoin="round"/>
<path d="M634.9 555.1l2 .2l2 -.1l2 -.1l2 -.1l2 .3l2 -.3l2 .4l2 -.2l2 -.3l2 -.1l2 0l2 .3l2 -.4l2 .2l2 .4l2 -.4l2 -.2l2 .5" stroke="#d8d8d8" stroke-width=".6" fill="none" stroke-linejoin="round"/>
<path d="M679.1 555.3l2 -.6l2 .3l2 .2l2 -.3l2 .1l2 .2l2 .1l2 -.2l2 0l2 -.2l2 .4l2 -.2l2 -.2" stroke="#d8d8d8" stroke-width=".6" fill="none" stroke-linejoin="round"/>
<path d="M512.8 558.1l2 -.4l2 -.1l2 0l2 .3l2 -.3l2 .6l2 -.4l2 .2l2 0l2 .2l2 -.2l2 -.4l2 .2l2 .1l2 -.3l2 .2l2 0l2 .3l2 -.4l2 .3l2 .2l2 -.4l2 -.2l2 .1l2 .4l2 -.2l2 .3l2 -.4l2 -.1l2 -.1l2 .6" stroke="#fff" stroke-width="1.3" fill="none" stroke-linejoin="round"/>
<path d="M575.1 557.6l2 .1l2 -.1l2 .2l2 .2l2 .2l2 -.4l2 -.2l2 .2l2 -.1l2 -.1l2 0l2 .3l2 .2l2 -.1l2 -.1l2 .2l2 0l2 -.5l2 .3l2 0l2 0l2 .2l2 -.3l2 .4l2 -.6l2 .2l2 .1l2 .2l2 -.3l2 .3l2 -.4l2 .3l2 -.1l2 -.1l2 .2" stroke="#fff" stroke-width="1.3" fill="none" stroke-linejoin="round"/>
<path d="M646 557.9l2 .1l2 -.1l2 -.2l2 .2l2 0l2 -.1l2 -.1l2 -.3l2 .7l2 0l2 -.5l2 .6l2 -.3l2 0l2 -.1l2 .4l2 -.6l2 .6" stroke="#fff" stroke-width="1.3" fill="none" stroke-linejoin="round"/>
<path d="M683.3 558.1l2 -.4l2 .4l2 -.2l2 .3l2 -.5l2 .2l2 .3l2 -.5l2 .1l2 0l2 .3" stroke="#fff" stroke-width="1.3" fill="none" stroke-linejoin="round"/>
<path d="M607.3 551.5l2.5 -.2l2.5 -.1l2.5 -.1l2.5 .2l2.5 .1l2.5 0l2.5 0" stroke="#cfcfcf" stroke-width=".5" fill="none" stroke-linejoin="round"/>
<path d="M544.6 553.5l2.5 0l2.5 0l2.5 0l2.5 0l2.5 .2l2.5 -.1" stroke="#cfcfcf" stroke-width=".5" fill="none" stroke-linejoin="round"/>
<path d="M665.5 541.7l2.5 -.1l2.5 0" stroke="#cfcfcf" stroke-width=".5" fill="none" stroke-linejoin="round"/>
<path d="M519.8 531.8l2.5 -.4l2.5 .4l2.5 -.4l2.5 .2l2.5 -.1l2.5 .3l2.5 -.1l2.5 -.1" stroke="#cfcfcf" stroke-width=".5" fill="none" stroke-linejoin="round"/>
<path d="M651 530.4l2.5 .1l2.5 -.2l2.5 .2l2.5 0l2.5 0l2.5 .1l2.5 -.2l2.5 .5l2.5 -.5" stroke="#cfcfcf" stroke-width=".5" fill="none" stroke-linejoin="round"/>
<path d="M637.8 541.3l2.5 -.1l2.5 .2l2.5 .1l2.5 -.1" stroke="#cfcfcf" stroke-width=".5" fill="none" stroke-linejoin="round"/>
<path d="M511.5 554.7l2.5 -.4l2.5 .6l2.5 -.3" stroke="#cfcfcf" stroke-width=".5" fill="none" stroke-linejoin="round"/>
<path d="M684.3 528.9l2.5 .2l2.5 0l2.5 -.4l2.5 .5l2.5 -.1l2.5 0l2.5 -.2" stroke="#cfcfcf" stroke-width=".5" fill="none" stroke-linejoin="round"/>
<path d="M629.9 536l2.5 .1l2.5 -.2" stroke="#cfcfcf" stroke-width=".5" fill="none" stroke-linejoin="round"/>
<path d="M605.5 533.9l2.5 -.2l2.5 -.1l2.5 .4l2.5 0" stroke="#cfcfcf" stroke-width=".5" fill="none" stroke-linejoin="round"/>
<path d="M662.9 531.4l2.5 -.1l2.5 0l2.5 -.1l2.5 0l2.5 0l2.5 .1l2.5 .1l2.5 -.3" stroke="#cfcfcf" stroke-width=".5" fill="none" stroke-linejoin="round"/>
<path d="M588.2 550.3l2.5 .1l2.5 0l2.5 -.2l2.5 0" stroke="#cfcfcf" stroke-width=".5" fill="none" stroke-linejoin="round"/>
<path d="M600.6 537.1l2.5 -.3l2.5 .2l2.5 .1l2.5 -.2" stroke="#cfcfcf" stroke-width=".5" fill="none" stroke-linejoin="round"/>
<path d="M586.1 548.8l2.5 .1l2.5 0l2.5 -.2l2.5 .1l2.5 0l2.5 .2l2.5 -.3l2.5 .3l2.5 -.3" stroke="#cfcfcf" stroke-width=".5" fill="none" stroke-linejoin="round"/>
<path d="M571.6 549.4l2.5 -.3l2.5 0l2.5 .2l2.5 -.2l2.5 .2l2.5 -.1l2.5 .2l2.5 -.3l2.5 .3" stroke="#cfcfcf" stroke-width=".5" fill="none" stroke-linejoin="round"/>
<path d="M554 545.4l2.5 -.3l2.5 0l2.5 .2l2.5 -.1l2.5 0l2.5 .1l2.5 -.5l2.5 .5l2.5 -.1" stroke="#cfcfcf" stroke-width=".5" fill="none" stroke-linejoin="round"/>
<path d="M502.7 547.5L509 547.5" stroke="#000" stroke-width="2.8" stroke-linecap="butt" fill="none"/>
<path d="M707 547.5L720 547.5" stroke="#000" stroke-width="2.8" stroke-linecap="butt" fill="none"/>
<circle cx="561.9" cy="501.9" r="6.7" fill="#000" stroke="#000" stroke-width="1.6"/>
<text x="577.7" y="507.2" font-size="15.5" font-weight="normal" fill="#000" stroke="#000" stroke-width=".3" textLength="65.5" lengthAdjust="spacingAndGlyphs">db- cAMP</text>
<rect x="508" y="596" width="200" height="29.4" fill="#050505"/>
<path d="M508 595.9l1.2 .3l1.3 .2l1.3 -.7l1.2 .3l1.2 0l1.3 .3l1.3 -.3l1.2 -.1l1.2 -.1l1.3 -.2l1.3 .4l1.2 .4l1.2 .3l1.3 -.6l1.3 0l1.2 0l1.2 -.2l1.3 .4l1.3 -.8l1.2 .5l1.2 -.4l1.3 .3l1.3 .1l1.2 0l1.2 .5l1.3 -.5l1.3 .2l1.2 -.5l1.2 .4l1.3 .4l1.3 -.6l1.2 .4l1.2 .2l1.3 -.1l1.3 0l1.2 -.5l1.2 .5l1.3 -.7l1.3 .2l1.2 -.3l1.2 .2l1.3 .4l1.3 -.4l1.2 -.1l1.2 .5l1.3 -.1l1.3 .5l1.2 -.6l1.2 -.2l1.3 -.1l1.3 .7l1.2 .1l1.2 -.3l1.3 -.6l1.3 .3l1.2 .2l1.2 -.4l1.3 -.2l1.3 .9l1.2 .9l1.2 -.9l1.3 .3l1.3 -.1l1.2 0l1.2 -.8l1.3 .4l1.3 -.1l1.2 0l1.2 -.4l1.3 .1l1.3 .4l1.2 0l1.2 -.3l1.3 .6l1.3 -.6l1.2 .4l1.2 -.8l1.3 1.6l1.3 -1.3l1.2 -.3l1.2 .2l1.3 .6l1.3 -.3l1.2 .4l1.2 -.5l1.3 -.1l1.3 .5l1.2 .1l1.2 -.5l1.3 .1l1.3 .7l1.2 -.2l1.2 -.4l1.3 .3l1.3 .2l1.2 -.3l1.2 0l1.3 -.1l1.3 -.2l1.2 -.3l1.2 0l1.3 .4l1.3 -.4l1.2 .2l1.2 1.3l1.3 -.7l1.3 -.4l1.2 -.4l1.2 .5l1.3 .3l1.3 -.1l1.2 -.7l1.2 .4l1.3 -.4l1.3 .9l1.2 -.7l1.2 .6l1.3 -.1l1.3 -.8l1.2 .2l1.2 .6l1.3 -.2l1.3 -.3l1.2 .4l1.2 0l1.3 -.6l1.3 -.2l1.2 .5l1.2 -.3l1.3 .3l1.3 .4l1.2 .2l1.2 -.8l1.3 .9l1.3 -.1l1.2 -.7l1.2 .3l1.3 .4l1.3 -.6l1.2 .1l1.2 -.1l1.3 .1l1.3 0l1.2 .2l1.2 .3l1.3 -.5l1.3 -.1l1.2 .2l1.2 -.5l1.3 .9l1.3 -.6l1.2 -.3l1.2 .1l1.3 .5l1.3 -.3l1.2 .5l1.2 -1l1.3 .9l1.3 -.6l1.2 .2" stroke="#111" stroke-width="1.8" fill="none" stroke-linejoin="round"/>
<path d="M508 625.3l1.2 .4l1.3 .1l1.3 -.2l1.2 -.2l1.2 .2l1.3 0l1.3 -.4l1.2 .4l1.2 -.3l1.3 .1l1.3 .2l1.2 .2l1.2 0l1.3 -.5l1.3 -1.1l1.2 1.5l1.2 -.2l1.3 0l1.3 -.3l1.2 -.4l1.2 .5l1.3 -.4l1.3 -.1l1.2 .8l1.2 -.1l1.3 -.5l1.3 .2l1.2 .3l1.2 -.6l1.3 .7l1.3 -.3l1.2 .2l1.2 -.1l1.3 .2l1.3 -.5l1.2 .6l1.2 -.6l1.3 .2l1.3 .3l1.2 -.2l1.2 -.3l1.3 .6l1.3 0l1.2 0l1.2 -.7l1.3 .2l1.3 .2l1.2 .3l1.2 -.7l1.3 .4l1.3 -.6l1.2 .1l1.2 .8l1.3 -.1l1.3 .1l1.2 -.5l1.2 -.1l1.3 0l1.3 .2l1.2 .3l1.2 -.7l1.3 .8l1.3 0l1.2 -.3l1.2 -.3l1.3 0l1.3 .2l1.2 -.4l1.2 .7l1.3 -.7l1.3 0l1.2 .7l1.2 .2l1.3 -.3l1.3 .1l1.2 -.4l1.2 .1l1.3 .2l1.3 -.1l1.2 -.2l1.2 0l1.3 .3l1.3 -.4l1.2 .2l1.2 .3l1.3 -.6l1.3 .7l1.2 0l1.2 -.4l1.3 0l1.3 -.3l1.2 .1l1.2 .1l1.3 -.2l1.3 -.1l1.2 .6l1.2 -.1l1.3 .1l1.3 .3l1.2 -.8l1.2 .7l1.3 -.4l1.3 -.2l1.2 .1l1.2 .1l1.3 .2l1.3 -.4l1.2 -.1l1.2 .7l1.3 -.6l1.3 .2l1.2 -.2l1.2 .5l1.3 -.6l1.3 .5l1.2 -.1l1.2 -.5l1.3 .3l1.3 -.4l1.2 0l1.2 .6l1.3 -.4l1.3 .2l1.2 -.2l1.2 .3l1.3 -.2l1.3 .6l1.2 -1.1l1.2 .6l1.3 .2l1.3 0l1.2 -.6l1.2 .6l1.3 .1l1.3 .2l1.2 -.7l1.2 0l1.3 0l1.3 .4l1.2 .2l1.2 -.4l1.3 .4l1.3 .2l1.2 -.2l1.2 -.5l1.3 .4l1.3 -.7l1.2 1l1.2 -.8l1.3 .2l1.3 -.2l1.2 .7l1.2 -.2l1.3 .2l1.3 -.5l1.2 .3l1.2 -.4l1.3 0l1.3 -.3l1.2 .1" stroke="#111" stroke-width="1.8" fill="none" stroke-linejoin="round"/>
<path d="M516.7 598.9l2 -.5l2 .4l2 .1l2 0l2 0l2 -.5l2 .5l2 -.2l2 .7l2 -.5l2 -.2l2 .2l2 -.3" stroke="#aaa" stroke-width=".5" fill="none" stroke-linejoin="round"/>
<path d="M553.6 598.8l2 -.5l2 .1l2 .3l2 -.2l2 -.1l2 .1l2 .1l2 .5l2 -.3l2 -.2l2 .3l2 -.6l2 .3l2 -.3l2 .4l2 .2l2 -.1l2 .1l2 -.2l2 -.2l2 -.2l2 .5l2 -.4l2 0l2 .3l2 .1l2 -.1l2 .2l2 -.1l2 -.3l2 .2l2 -.4" stroke="#aaa" stroke-width=".5" fill="none" stroke-linejoin="round"/>
<path d="M636.7 598.4l2 .1l2 .3l2 -.2l2 .3l2 -.4l2 -.1l2 .4l2 -.1l2 -.4l2 .5l2 -.5l2 .3l2 -.2l2 .2l2 .2l2 -.1l2 .2l2 -.3l2 .2l2 -.4" stroke="#aaa" stroke-width=".5" fill="none" stroke-linejoin="round"/>
<path d="M686.6 598.9l2 -.2l2 -.4l2 .5l2 -.3l2 0l2 .2l2 -.1l2 -.3l2 .2l2 .1" stroke="#aaa" stroke-width=".5" fill="none" stroke-linejoin="round"/>
<path d="M514.5 601.3l2 .5l2 -.2l2 -.1l2 .1l2 .1l2 -.4l2 .2l2 .5l2 -.7l2 .6l2 -.5l2 .4l2 0l2 -.3l2 0l2 .1l2 -.2l2 .3l2 -.1l2 .3l2 -.2l2 -.3l2 .3l2 .2l2 0l2 -.7l2 .2l2 -.1l2 .2l2 -.1l2 .2l2 -.1l2 0l2 .1" stroke="#b0b0b0" stroke-width=".5" fill="none" stroke-linejoin="round"/>
<path d="M593.2 601.6l2 0l2 .1l2 -.3l2 -.1l2 .3l2 .3l2 -.5l2 .3l2 .2l2 -.1l2 .1l2 -.4l2 -.1l2 .5l2 -.1l2 -.3l2 -.1l2 .5l2 -.4l2 .4l2 -.6l2 .4l2 0l2 -.2l2 -.4l2 .3l2 0l2 -.5l2 .8l2 -.4" stroke="#b0b0b0" stroke-width=".5" fill="none" stroke-linejoin="round"/>
<path d="M668.8 601.4l2 .4l2 .1l2 0l2 -.4l2 0l2 .4l2 -.2l2 -.2l2 .4l2 -.1l2 -.1l2 -.2l2 -.1l2 0l2 .5l2 0l2 -.5l2 -.1l2 .5" stroke="#b0b0b0" stroke-width=".5" fill="none" stroke-linejoin="round"/>
<path d="M509.8 604.9l2 -.3l2 -.2l2 .2l2 0l2 .1l2 -.4l2 .5l2 0l2 -.5l2 .1l2 .3l2 -.2l2 .1l2 0l2 -.3l2 .1l2 .3l2 -.4l2 .2l2 .4l2 -.6l2 .4l2 .2l2 0l2 -.6" stroke="#c0c0c0" stroke-width=".6" fill="none" stroke-linejoin="round"/>
<path d="M568.8 604.7l2 .1l2 0l2 0l2 -.3l2 -.2l2 .3l2 -.1l2 .1l2 -.2l2 .4l2 -.5l2 0l2 .2l2 -.1l2 .4l2 -.3l2 .2l2 -.1l2 .2" stroke="#c0c0c0" stroke-width=".6" fill="none" stroke-linejoin="round"/>
<path d="M610.7 604.7l2 .1l2 0l2 -.4l2 .2l2 .1l2 -.2l2 .1l2 -.2l2 0l2 0l2 .5l2 -.4l2 .1l2 .3l2 -.1l2 -.1l2 -.3l2 0l2 0" stroke="#c0c0c0" stroke-width=".6" fill="none" stroke-linejoin="round"/>
<path d="M652.1 604.9l2 -.1l2 .1l2 -.5l2 .5l2 -.1l2 -.3l2 0l2 -.1l2 -.1l2 .6l2 -.3l2 -.2l2 .2l2 -.1l2 .3l2 -.1l2 0l2 -.2l2 .1l2 -.2" stroke="#c0c0c0" stroke-width=".6" fill="none" stroke-linejoin="round"/>
<path d="M702.3 604.9l2 -.3l2 -.2" stroke="#c0c0c0" stroke-width=".6" fill="none" stroke-linejoin="round"/>
<path d="M514.1 607.7l2 -.2l2 -.2l2 0l2 .5l2 0l2 -.4l2 .5l2 -.1l2 -.4l2 .3l2 -.2l2 .3l2 -.3l2 -.2l2 .6l2 -.2l2 -.3l2 .4l2 -.3l2 .3l2 -.3l2 .3l2 -.5l2 .6l2 -.5l2 .4l2 -.1l2 -.4l2 .4l2 -.3l2 .5l2 -.2l2 -.1l2 .1l2 -.2l2 .4l2 0l2 -.4" stroke="#dadada" stroke-width=".6" fill="none" stroke-linejoin="round"/>
<path d="M595.7 607.5l2 -.1l2 .4l2 -.2l2 0l2 -.3l2 .6l2 -.4l2 .3l2 -.2l2 -.1l2 .3l2 -.1l2 -.1l2 0l2 0l2 0l2 .1l2 .4l2 -.6l2 -.1l2 .1l2 .1l2 .3l2 -.1" stroke="#dadada" stroke-width=".6" fill="none" stroke-linejoin="round"/>
<path d="M650.8 607.8l2 -.2l2 .1l2 -.1l2 -.3l2 .6l2 -.2l2 .2l2 -.2l2 -.1l2 -.3" stroke="#dadada" stroke-width=".6" fill="none" stroke-linejoin="round"/>
<path d="M680.4 607.6l2 .2l2 .1l2 -.4l2 .2l2 -.2l2 .2l2 -.4l2 .8l2 -.4l2 -.3l2 .3l2 .1l2 -.1" stroke="#dadada" stroke-width=".6" fill="none" stroke-linejoin="round"/>
<path d="M516.6 610.3l2 .1l2 .5l2 0l2 -.6l2 .1l2 -.1l2 .2l2 .1l2 .1l2 -.3l2 .5l2 -.2l2 -.3l2 .5l2 -.6l2 .1l2 0l2 0l2 0l2 .1l2 .4l2 0l2 -.1l2 -.3l2 .4l2 -.2l2 -.2l2 .1l2 .2l2 -.5l2 .2l2 .4" stroke="#b0b0b0" stroke-width=".5" fill="none" stroke-linejoin="round"/>
<path d="M584.7 610.5l2 .2l2 -.4l2 .5l2 -.2l2 .3l2 -.4l2 0l2 .2l2 -.2l2 -.1l2 .4l2 -.5l2 .1l2 .5" stroke="#b0b0b0" stroke-width=".5" fill="none" stroke-linejoin="round"/>
<path d="M626.4 610.4l2 .1l2 -.1l2 .4l2 -.3l2 .3l2 .1l2 -.6l2 .1l2 .4l2 0l2 -.5l2 .2l2 -.1l2 .2l2 .1l2 -.2l2 .1l2 -.2l2 .1l2 .1l2 .2l2 -.4l2 -.1l2 .4l2 .1l2 .6l2 -.9l2 .1" stroke="#b0b0b0" stroke-width=".5" fill="none" stroke-linejoin="round"/>
<path d="M687.5 610.3l2 .4l2 -.4l2 0l2 .2l2 .3l2 -.2l2 .2l2 0l2 -.1" stroke="#b0b0b0" stroke-width=".5" fill="none" stroke-linejoin="round"/>
<path d="M516.7 613.7l2 -.2l2 .2l2 -.3l2 .3l2 .1l2 0l2 .1l2 -.6l2 .6l2 -.6l2 .5l2 -.3l2 .1l2 -.2l2 .5l2 -.1l2 -.5l2 .6l2 -.2l2 -.1l2 -.1l2 .4" stroke="#b0b0b0" stroke-width=".5" fill="none" stroke-linejoin="round"/>
<path d="M575 613.5l2 -.1l2 .4l2 0l2 0l2 -.1l2 0l2 0l2 .2l2 -.2l2 0l2 .2l2 -.3l2 -.2l2 .2l2 0l2 0l2 0l2 -.2l2 .2l2 -.1l2 -.1l2 .5l2 -.4l2 .2l2 .1l2 -.5l2 .6l2 -.2l2 -.4l2 .2" stroke="#b0b0b0" stroke-width=".5" fill="none" stroke-linejoin="round"/>
<path d="M641.5 613.8l2 -.3l2 0l2 .3l2 .1l2 -.5l2 -.1l2 .6l2 -.5l2 -.1l2 .5l2 -.2l2 .2l2 -.4l2 .2l2 .3l2 -.1l2 -.5l2 .5l2 0l2 0l2 -.5l2 .6l2 -.5l2 -.1l2 .1l2 .1l2 .1l2 .2l2 .1l2 -.3l2 -.1l2 0" stroke="#b0b0b0" stroke-width=".5" fill="none" stroke-linejoin="round"/>
<path d="M514 617.1l2 -.2l2 .2l2 .1l2 -.7l2 .6l2 0l2 .2l2 -.3l2 .3l2 -.3l2 .2l2 -.5l2 .2l2 -.2l2 .2l2 0" stroke="#a0a0a0" stroke-width=".5" fill="none" stroke-linejoin="round"/>
<path d="M561.6 617.1l2 .2l2 -.1l2 -.5l2 .5l2 -.1l2 -.3l2 0l2 .5l2 -.2l2 -.2l2 .4l2 -.3" stroke="#a0a0a0" stroke-width=".5" fill="none" stroke-linejoin="round"/>
<path d="M600.9 617l2 -.3l2 0l2 .5l2 -.3l2 -.1l2 .3l2 .2l2 -.6l2 .1l2 .2l2 -.2l2 .5l2 -.3l2 -.2l2 0l2 -.1l2 .2l2 .2l2 -.3l2 -.1l2 .5l2 0l2 .1l2 0l2 -.3l2 .2" stroke="#a0a0a0" stroke-width=".5" fill="none" stroke-linejoin="round"/>
<path d="M657.2 616.9l2 .2l2 -.4l2 .5l2 -.4l2 -.1l2 .5l2 0l2 -.4l2 .1l2 .4l2 -.6l2 .4" stroke="#a0a0a0" stroke-width=".5" fill="none" stroke-linejoin="round"/>
<path d="M687 616.7l2 .6l2 0l2 -.3l2 -.3l2 0l2 .2l2 -.2l2 .3l2 -.3l2 .2" stroke="#a0a0a0" stroke-width=".5" fill="none" stroke-linejoin="round"/>
<path d="M515.6 620l2 0l2 0l2 0l2 0l2 -.3l2 .6l2 -.4l2 -.2l2 .3l2 .2l2 -.3l2 .1l2 -.3l2 .3l2 .2l2 -.5" stroke="#b8b8b8" stroke-width=".6" fill="none" stroke-linejoin="round"/>
<path d="M552.8 619.9l2 .4l2 -.1l2 -.1l2 -.1l2 .3l2 -.3l2 .1l2 .2l2 -.4l2 0l2 .4l2 -.4l2 .2l2 -.2l2 -.1l2 .1l2 .2l2 -.4l2 .4l2 -.1l2 .1l2 -.1l2 -.1l2 -.2l2 0l2 .1l2 .1l2 -.1l2 .1" stroke="#b8b8b8" stroke-width=".6" fill="none" stroke-linejoin="round"/>
<path d="M624.1 619.9l2 -.1l2 .3l2 .2l2 0l2 0l2 -.6l2 .2l2 0l2 -.2l2 .3l2 .2l2 -.5l2 .4l2 -.1l2 0l2 -.2l2 .4l2 -.4l2 -.1l2 .3l2 .1l2 .1l2 -.4l2 -.1l2 .6l2 -.6l2 .3" stroke="#b8b8b8" stroke-width=".6" fill="none" stroke-linejoin="round"/>
<path d="M684.5 620.1l2 .1l2 -.1l2 -.3l2 -.1l2 .4l2 .1l2 -.1l2 -.2l2 0l2 -.1l2 .3" stroke="#b8b8b8" stroke-width=".6" fill="none" stroke-linejoin="round"/>
<path d="M513 622.9l2 -.3l2 0l2 .3l2 -.1l2 0l2 -.2l2 .6l2 0l2 -.4l2 0l2 .3l2 -.1l2 0l2 -.2l2 -.4l2 .7l2 -.2l2 .1l2 .1l2 -.5l2 .5l2 -.3l2 .2l2 0l2 .1l2 -.3l2 .3" stroke="#fafafa" stroke-width=".9" fill="none" stroke-linejoin="round"/>
<path d="M568.3 622.9l2 .1l2 -.3l2 .4l2 -.3l2 .3l2 .1l2 -.6l2 .4l2 -.2l2 .3l2 0l2 -.2l2 -.3l2 .3l2 -.3l2 .5l2 -.3l2 -.1l2 -.1l2 .1l2 .4l2 -.4" stroke="#fafafa" stroke-width=".9" fill="none" stroke-linejoin="round"/>
<path d="M613.9 623.2l2 -.1l2 0l2 -.2l2 0l2 .2l2 -.1l2 -.4l2 .3l2 -.2l2 .1l2 .4" stroke="#fafafa" stroke-width=".9" fill="none" stroke-linejoin="round"/>
<path d="M638.6 623.1l2 -.1l2 -.4l2 .5l2 -.4l2 0l2 .4l2 -.2l2 -.3l2 .1l2 .1l2 .2l2 .2l2 0l2 -.1l2 -.4l2 0l2 .5l2 -.2l2 -.2l2 -.1l2 .4l2 .1l2 -.5l2 .2l2 .3l2 -.2l2 .2l2 -.6l2 .1l2 -.1l2 .6l2 -.1l2 -.4l2 .3" stroke="#fafafa" stroke-width=".9" fill="none" stroke-linejoin="round"/>
<path d="M529.8 608.9l2.5 0l2.5 -.1l2.5 .1l2.5 0l2.5 .1" stroke="#cfcfcf" stroke-width=".5" fill="none" stroke-linejoin="round"/>
<path d="M585.5 613.5l2.5 .1l2.5 .1l2.5 -.2l2.5 .3" stroke="#cfcfcf" stroke-width=".5" fill="none" stroke-linejoin="round"/>
<path d="M655.6 622.2l2.5 -.3l2.5 .4" stroke="#cfcfcf" stroke-width=".5" fill="none" stroke-linejoin="round"/>
<path d="M598.9 615.4l2.5 0l2.5 -.1l2.5 -.1l2.5 .2l2.5 0" stroke="#cfcfcf" stroke-width=".5" fill="none" stroke-linejoin="round"/>
<path d="M561.8 618.8l2.5 -.1l2.5 .3l2.5 -.2l2.5 -.1l2.5 .2" stroke="#cfcfcf" stroke-width=".5" fill="none" stroke-linejoin="round"/>
<path d="M564.5 605.3l2.5 .2l2.5 -.3l2.5 -.1l2.5 .3l2.5 0" stroke="#cfcfcf" stroke-width=".5" fill="none" stroke-linejoin="round"/>
<path d="M615.1 602.1l2.5 .1l2.5 0l2.5 -.2l2.5 .3l2.5 0l2.5 -.3l2.5 .2l2.5 -.1" stroke="#cfcfcf" stroke-width=".5" fill="none" stroke-linejoin="round"/>
<path d="M566.6 600.5l2.5 0l2.5 .1l2.5 .1l2.5 .1l2.5 0l2.5 -.3" stroke="#cfcfcf" stroke-width=".5" fill="none" stroke-linejoin="round"/>
<path d="M521.2 622.5l2.5 -.2l2.5 .2l2.5 -.2l2.5 .2l2.5 -.2" stroke="#cfcfcf" stroke-width=".5" fill="none" stroke-linejoin="round"/>
<path d="M610.8 621.1l2.5 -.1l2.5 .3l2.5 -.1l2.5 0l2.5 -.2l2.5 .1" stroke="#cfcfcf" stroke-width=".5" fill="none" stroke-linejoin="round"/>
<path d="M552.7 604.2l2.5 -.2l2.5 .1l2.5 .1l2.5 -.1l2.5 .1l2.5 -.3l2.5 .3" stroke="#cfcfcf" stroke-width=".5" fill="none" stroke-linejoin="round"/>
<path d="M615.5 606.7l2.5 .3l2.5 -.1l2.5 -.2l2.5 .1l2.5 -.1l2.5 .2" stroke="#cfcfcf" stroke-width=".5" fill="none" stroke-linejoin="round"/>
<path d="M592.1 620.3l2.5 .5l2.5 -.5l2.5 .2l2.5 -.2" stroke="#cfcfcf" stroke-width=".5" fill="none" stroke-linejoin="round"/>
<path d="M516.2 612.5l2.5 -.2l2.5 .3l2.5 -.2l2.5 .2l2.5 -.3l2.5 .3l2.5 -.1" stroke="#cfcfcf" stroke-width=".5" fill="none" stroke-linejoin="round"/>
<path d="M523.7 619.3l2.5 .2l2.5 -.2l2.5 -.2l2.5 .2" stroke="#cfcfcf" stroke-width=".5" fill="none" stroke-linejoin="round"/>
<path d="M557.8 600.1l2.5 .3l2.5 -.1" stroke="#cfcfcf" stroke-width=".5" fill="none" stroke-linejoin="round"/>
<path d="M588.6 606l2.5 0l2.5 -.2l2.5 .2l2.5 -.2l2.5 0l2.5 0l2.5 .2l2.5 -.1l2.5 .1" stroke="#cfcfcf" stroke-width=".5" fill="none" stroke-linejoin="round"/>
<path d="M623.6 612.4l2.5 -.2l2.5 -.2l2.5 .1l2.5 -.1l2.5 .2l2.5 0l2.5 -.1l2.5 .2" stroke="#cfcfcf" stroke-width=".5" fill="none" stroke-linejoin="round"/>
<path d="M645 597.8l2 0l2 -.1l2 -.2l2 0l2 .2l2 0l2 -.1l2 -.1l2 .2l2 0l2 0l2 -.2l2 -.1l2 .3l2 -.2l2 .2l2 -.2l2 .1l2 .3l2 -.2l2 -.3l2 .3l2 .1l2 -.1l2 .2l2 -.4l2 -.1l2 .2l2 .1l2 .5l2 -.8" stroke="#fff" stroke-width="1.2" fill="none" stroke-linejoin="round"/>
<path d="M502.7 616L509 616" stroke="#000" stroke-width="2.8" stroke-linecap="butt" fill="none"/>
<path d="M707 616L720 616" stroke="#000" stroke-width="2.8" stroke-linecap="butt" fill="none"/>
<path d="M539.3 573.2L547.8 589.2L530.8 589.2Z" fill="#000" stroke="#000" stroke-width="1" stroke-linejoin="round"/>
<text x="556.9" y="586.7" font-size="15.5" font-weight="normal" fill="#000" stroke="#000" stroke-width=".3" textLength="108.9" lengthAdjust="spacingAndGlyphs">db- cAMP + DPC</text>
<text x="604" y="652.2" font-size="16.5" font-weight="normal" fill="#000" stroke="#000" stroke-width=".4" textLength="44.3" lengthAdjust="spacingAndGlyphs">40 pA</text>
<path d="M657.3 633.7L657.3 661.6L698 661.6" stroke="#000" stroke-width="2" fill="none" stroke-linejoin="round"/>
<text x="654.9" y="676.5" font-size="15.6" font-weight="normal" fill="#000" stroke="#000" stroke-width=".3" textLength="54.4" lengthAdjust="spacingAndGlyphs">200 ms</text>
</g>
<g id="pH">
<path d="M871.5 394.3L871.5 684" stroke="#000" stroke-width="1.8" stroke-linecap="butt" fill="none"/>
<path d="M760 546.8L983 546.8" stroke="#000" stroke-width="1.8" stroke-linecap="butt" fill="none"/>
<path d="M760.9 546.8L760.9 554.1" stroke="#000" stroke-width="1.8" stroke-linecap="butt" fill="none"/>
<path d="M779.3 546.8L779.3 554.1" stroke="#000" stroke-width="1.8" stroke-linecap="butt" fill="none"/>
<path d="M797.8 546.8L797.8 554.1" stroke="#000" stroke-width="1.8" stroke-linecap="butt" fill="none"/>
<path d="M816.2 546.8L816.2 554.1" stroke="#000" stroke-width="1.8" stroke-linecap="butt" fill="none"/>
<path d="M834.6 546.8L834.6 554.1" stroke="#000" stroke-width="1.8" stroke-linecap="butt" fill="none"/>
<path d="M853.1 546.8L853.1 554.1" stroke="#000" stroke-width="1.8" stroke-linecap="butt" fill="none"/>
<path d="M889.9 546.8L889.9 554.1" stroke="#000" stroke-width="1.8" stroke-linecap="butt" fill="none"/>
<path d="M908.4 546.8L908.4 554.1" stroke="#000" stroke-width="1.8" stroke-linecap="butt" fill="none"/>
<path d="M926.8 546.8L926.8 554.1" stroke="#000" stroke-width="1.8" stroke-linecap="butt" fill="none"/>
<path d="M945.2 546.8L945.2 554.1" stroke="#000" stroke-width="1.8" stroke-linecap="butt" fill="none"/>
<path d="M963.7 546.8L963.7 554.1" stroke="#000" stroke-width="1.8" stroke-linecap="butt" fill="none"/>
<path d="M982.1 546.8L982.1 554.1" stroke="#000" stroke-width="1.8" stroke-linecap="butt" fill="none"/>
<path d="M867 409.6L871.5 409.6" stroke="#000" stroke-width="1.8" stroke-linecap="butt" fill="none"/>
<path d="M867 478.2L871.5 478.2" stroke="#000" stroke-width="1.8" stroke-linecap="butt" fill="none"/>
<path d="M867 614.5L871.5 614.5" stroke="#000" stroke-width="1.8" stroke-linecap="butt" fill="none"/>
<path d="M867 682.8L871.5 682.8" stroke="#000" stroke-width="1.8" stroke-linecap="butt" fill="none"/>
<text x="846.5" y="413.6" font-size="15.6" font-weight="normal" fill="#000" stroke="#000" stroke-width=".3" textLength="18.3" lengthAdjust="spacingAndGlyphs">1.8</text>
<text x="845.4" y="482.2" font-size="15.6" font-weight="normal" fill="#000" stroke="#000" stroke-width=".3" textLength="19.4" lengthAdjust="spacingAndGlyphs">0.9</text>
<text x="840.3" y="618.6" font-size="15.6" font-weight="normal" fill="#000" stroke="#000" stroke-width=".3" textLength="24.5" lengthAdjust="spacingAndGlyphs">-0.9</text>
<text x="842.3" y="687" font-size="15.6" font-weight="normal" fill="#000" stroke="#000" stroke-width=".3" textLength="22.5" lengthAdjust="spacingAndGlyphs">-1.8</text>
<text x="748" y="572" font-size="15.6" font-weight="normal" fill="#000" stroke="#000" stroke-width=".3" textLength="24.8" lengthAdjust="spacingAndGlyphs">-120</text>
<text x="769" y="572" font-size="15.6" font-weight="normal" fill="#000" stroke="#000" stroke-width=".3" textLength="23" lengthAdjust="spacingAndGlyphs">-100</text>
<text x="788.5" y="572" font-size="15.6" font-weight="normal" fill="#000" stroke="#000" stroke-width=".3" textLength="20" lengthAdjust="spacingAndGlyphs">-80</text>
<text x="807" y="572" font-size="15.6" font-weight="normal" fill="#000" stroke="#000" stroke-width=".3" textLength="20" lengthAdjust="spacingAndGlyphs">-60</text>
<text x="825.5" y="572" font-size="15.6" font-weight="normal" fill="#000" stroke="#000" stroke-width=".3" textLength="20" lengthAdjust="spacingAndGlyphs">-40</text>
<text x="844" y="572" font-size="15.6" font-weight="normal" fill="#000" stroke="#000" stroke-width=".3" textLength="21" lengthAdjust="spacingAndGlyphs">-20</text>
<text x="881.8" y="572" font-size="15.6" font-weight="normal" fill="#000" stroke="#000" stroke-width=".3" textLength="15.4" lengthAdjust="spacingAndGlyphs">20</text>
<text x="901" y="572" font-size="15.6" font-weight="normal" fill="#000" stroke="#000" stroke-width=".3" textLength="14.8" lengthAdjust="spacingAndGlyphs">40</text>
<text x="919.5" y="572" font-size="15.6" font-weight="normal" fill="#000" stroke="#000" stroke-width=".3" textLength="15.5" lengthAdjust="spacingAndGlyphs">60</text>
<text x="938.1" y="572" font-size="15.6" font-weight="normal" fill="#000" stroke="#000" stroke-width=".3" textLength="15.2" lengthAdjust="spacingAndGlyphs">80</text>
<text x="953.6" y="572" font-size="15.6" font-weight="normal" fill="#000" stroke="#000" stroke-width=".3" textLength="21.4" lengthAdjust="spacingAndGlyphs">100</text>
<text x="974" y="572" font-size="15.6" font-weight="normal" fill="#000" stroke="#000" stroke-width=".3" textLength="19.2" lengthAdjust="spacingAndGlyphs">120</text>
<text x="935.7" y="539.2" font-size="17.5" font-weight="normal" fill="#000" stroke="#000" stroke-width=".4" textLength="52.1" lengthAdjust="spacingAndGlyphs">Vm (mV)</text>
<text transform="translate(837.3 509.4) rotate(-90)" x="0" y="0" font-size="17.3" font-weight="normal" fill="#000" stroke="#000" stroke-width=".4" textLength="112.4" lengthAdjust="spacingAndGlyphs"><tspan font-family="Liberation Mono">I</tspan> (normalized)</text>
<path d="M779.3 628V644.6M776.1 628H782.5M776.1 644.6H782.5" stroke="#000" stroke-width="1.5" fill="none"/>
<path d="M797.8 608V618.9M794.6 608H801M794.6 618.9H801" stroke="#000" stroke-width="1.5" fill="none"/>
<path d="M816.2 589V597.4M813 589H819.4M813 597.4H819.4" stroke="#000" stroke-width="1.5" fill="none"/>
<path d="M779.3 596.9V607M776.1 596.9H782.5M776.1 607H782.5" stroke="#000" stroke-width="1.5" fill="none"/>
<path d="M908.4 495.6V507.6M905.9 495.6H910.9M905.9 507.6H910.9" stroke="#000" stroke-width="1.4" fill="none"/>
<path d="M926.8 478.4V490.4M924.3 478.4H929.3M924.3 490.4H929.3" stroke="#000" stroke-width="1.4" fill="none"/>
<path d="M945.2 460V472M942.7 460H947.7M942.7 472H947.7" stroke="#000" stroke-width="1.4" fill="none"/>
<path d="M963.7 441.5V453.5M961.2 441.5H966.2M961.2 453.5H966.2" stroke="#000" stroke-width="1.4" fill="none"/>
<path d="M779.3 607L797.8 593L816.2 576L834.6 563.6L853.1 553L871.5 540L889.9 526.6L908.4 515.7L926.8 500.9L945.2 484.9L963.7 470.6" stroke="#000" stroke-width="2.1" fill="none" stroke-linejoin="round" stroke-dasharray="9 2.2"/>
<path d="M779.3 609.5L797.8 594L816.2 578L834.6 565.5L853.1 550L871.5 529.5L889.9 514.3L908.4 498.6L926.8 481.4L945.2 463L963.7 444.5" stroke="#000" stroke-width="2.1" fill="none" stroke-linejoin="round" stroke-dasharray="9 2.2"/>
<path d="M779.3 628.4L797.8 607L816.2 588.6L834.6 571L853.1 552.6L871.5 532.9L889.9 515.7L908.4 498L926.8 479.1L945.2 460.9L963.7 439.4" stroke="#000" stroke-width="2.1" fill="none" stroke-linejoin="round" stroke-dasharray="9 2.2"/>
<path d="M779.3 602.5L785.3 614.5L773.3 614.5Z" fill="#000" stroke="#000" stroke-width="1" stroke-linejoin="round"/>
<path d="M797.8 587L803.8 599L791.8 599Z" fill="#000" stroke="#000" stroke-width="1" stroke-linejoin="round"/>
<path d="M816.2 571L822.2 583L810.2 583Z" fill="#000" stroke="#000" stroke-width="1" stroke-linejoin="round"/>
<path d="M834.6 558.5L840.6 570.5L828.6 570.5Z" fill="#000" stroke="#000" stroke-width="1" stroke-linejoin="round"/>
<path d="M853.1 543L859.1 555L847.1 555Z" fill="#000" stroke="#000" stroke-width="1" stroke-linejoin="round"/>
<path d="M871.5 522.5L877.5 534.5L865.5 534.5Z" fill="#000" stroke="#000" stroke-width="1" stroke-linejoin="round"/>
<path d="M889.9 507.3L895.9 519.3L883.9 519.3Z" fill="#000" stroke="#000" stroke-width="1" stroke-linejoin="round"/>
<path d="M908.4 491.6L914.4 503.6L902.4 503.6Z" fill="#000" stroke="#000" stroke-width="1" stroke-linejoin="round"/>
<path d="M926.8 474.4L932.8 486.4L920.8 486.4Z" fill="#000" stroke="#000" stroke-width="1" stroke-linejoin="round"/>
<path d="M945.2 456L951.2 468L939.2 468Z" fill="#000" stroke="#000" stroke-width="1" stroke-linejoin="round"/>
<path d="M963.7 437.5L969.7 449.5L957.7 449.5Z" fill="#000" stroke="#000" stroke-width="1" stroke-linejoin="round"/>
<circle cx="779.3" cy="628.4" r="5.3" fill="url(#sphh)" stroke="#000" stroke-width="1.8"/>
<circle cx="797.8" cy="607" r="5.3" fill="url(#sphh)" stroke="#000" stroke-width="1.8"/>
<circle cx="816.2" cy="588.6" r="5.3" fill="url(#sphh)" stroke="#000" stroke-width="1.8"/>
<circle cx="834.6" cy="571" r="5.3" fill="url(#sphh)" stroke="#000" stroke-width="1.8"/>
<circle cx="853.1" cy="552.6" r="5.3" fill="url(#sphh)" stroke="#000" stroke-width="1.8"/>
<circle cx="871.5" cy="532.9" r="5.3" fill="url(#sphh)" stroke="#000" stroke-width="1.8"/>
<circle cx="889.9" cy="515.7" r="5.3" fill="url(#sphh)" stroke="#000" stroke-width="1.8"/>
<circle cx="908.4" cy="498" r="5.3" fill="url(#sphh)" stroke="#000" stroke-width="1.8"/>
<circle cx="926.8" cy="479.1" r="5.3" fill="url(#sphh)" stroke="#000" stroke-width="1.8"/>
<circle cx="945.2" cy="460.9" r="5.3" fill="url(#sphh)" stroke="#000" stroke-width="1.8"/>
<circle cx="963.7" cy="439.4" r="5.3" fill="url(#sphh)" stroke="#000" stroke-width="1.8"/>
<rect x="774.5" y="602.2" width="9.6" height="9.6" fill="#000" stroke="#000" stroke-width="1.4"/>
<rect x="793" y="588.2" width="9.6" height="9.6" fill="#000" stroke="#000" stroke-width="1.4"/>
<rect x="811.4" y="571.2" width="9.6" height="9.6" fill="#000" stroke="#000" stroke-width="1.4"/>
<rect x="829.8" y="558.8" width="9.6" height="9.6" fill="#000" stroke="#000" stroke-width="1.4"/>
<rect x="848.3" y="548.2" width="9.6" height="9.6" fill="#000" stroke="#000" stroke-width="1.4"/>
<rect x="866.7" y="535.2" width="9.6" height="9.6" fill="#000" stroke="#000" stroke-width="1.4"/>
<rect x="885.1" y="521.8" width="9.6" height="9.6" fill="#000" stroke="#000" stroke-width="1.4"/>
<rect x="903.6" y="510.9" width="9.6" height="9.6" fill="#000" stroke="#000" stroke-width="1.4"/>
<rect x="922" y="496.1" width="9.6" height="9.6" fill="#000" stroke="#000" stroke-width="1.4"/>
<rect x="940.4" y="480.1" width="9.6" height="9.6" fill="#000" stroke="#000" stroke-width="1.4"/>
<rect x="958.9" y="465.8" width="9.6" height="9.6" fill="#000" stroke="#000" stroke-width="1.4"/>
<path d="M913.7 592.3L913.7 685.1" stroke="#000" stroke-width="1.8" stroke-linecap="butt" fill="none"/>
<path d="M913.2 684.6L1023.7 684.6" stroke="#000" stroke-width="1.8" stroke-linecap="butt" fill="none"/>
<path d="M913.2 684.6L913.2 687.6" stroke="#000" stroke-width=".9" stroke-linecap="butt" fill="none"/>
<path d="M922.4 684.6L922.4 686.8" stroke="#000" stroke-width=".9" stroke-linecap="butt" fill="none"/>
<path d="M931.6 684.6L931.6 687.6" stroke="#000" stroke-width=".9" stroke-linecap="butt" fill="none"/>
<path d="M940.8 684.6L940.8 686.8" stroke="#000" stroke-width=".9" stroke-linecap="butt" fill="none"/>
<path d="M950 684.6L950 687.6" stroke="#000" stroke-width=".9" stroke-linecap="butt" fill="none"/>
<path d="M959.2 684.6L959.2 686.8" stroke="#000" stroke-width=".9" stroke-linecap="butt" fill="none"/>
<path d="M968.4 684.6L968.4 687.6" stroke="#000" stroke-width=".9" stroke-linecap="butt" fill="none"/>
<path d="M977.6 684.6L977.6 686.8" stroke="#000" stroke-width=".9" stroke-linecap="butt" fill="none"/>
<path d="M986.8 684.6L986.8 687.6" stroke="#000" stroke-width=".9" stroke-linecap="butt" fill="none"/>
<path d="M996 684.6L996 686.8" stroke="#000" stroke-width=".9" stroke-linecap="butt" fill="none"/>
<path d="M1005.2 684.6L1005.2 687.6" stroke="#000" stroke-width=".9" stroke-linecap="butt" fill="none"/>
<path d="M1014.4 684.6L1014.4 686.8" stroke="#000" stroke-width=".9" stroke-linecap="butt" fill="none"/>
<path d="M1023.6 684.6L1023.6 687.6" stroke="#000" stroke-width=".9" stroke-linecap="butt" fill="none"/>
<path d="M911.4 611.1L913.7 611.1" stroke="#000" stroke-width=".9" stroke-linecap="butt" fill="none"/>
<path d="M911.4 643.1L913.7 643.1" stroke="#000" stroke-width=".9" stroke-linecap="butt" fill="none"/>
<path d="M911.4 675.1L913.7 675.1" stroke="#000" stroke-width=".9" stroke-linecap="butt" fill="none"/>
<text x="900" y="613.7" font-size="7.5" font-weight="normal" fill="#555" stroke="#555" stroke-width=".2" textLength="10.6" lengthAdjust="spacingAndGlyphs">1.0</text>
<text x="900" y="645.7" font-size="7.5" font-weight="normal" fill="#555" stroke="#555" stroke-width=".2" textLength="10.6" lengthAdjust="spacingAndGlyphs">0.5</text>
<text x="900" y="677.7" font-size="7.5" font-weight="normal" fill="#555" stroke="#555" stroke-width=".2" textLength="10.6" lengthAdjust="spacingAndGlyphs">0.0</text>
<text x="905.5" y="694.3" font-size="7.5" font-weight="normal" fill="#555" stroke="#555" stroke-width=".2" textLength="15" lengthAdjust="spacingAndGlyphs">-120</text>
<text x="926" y="694.3" font-size="7.5" font-weight="normal" fill="#555" stroke="#555" stroke-width=".2" textLength="11.5" lengthAdjust="spacingAndGlyphs">-80</text>
<text x="944.5" y="694.3" font-size="7.5" font-weight="normal" fill="#555" stroke="#555" stroke-width=".2" textLength="11.5" lengthAdjust="spacingAndGlyphs">-40</text>
<text x="983" y="694.3" font-size="7.5" font-weight="normal" fill="#555" stroke="#555" stroke-width=".2" textLength="7.5" lengthAdjust="spacingAndGlyphs">40</text>
<text x="1001.5" y="694.3" font-size="7.5" font-weight="normal" fill="#555" stroke="#555" stroke-width=".2" textLength="8" lengthAdjust="spacingAndGlyphs">80</text>
<text x="1017.5" y="694.3" font-size="7.5" font-weight="normal" fill="#555" stroke="#555" stroke-width=".2" textLength="12" lengthAdjust="spacingAndGlyphs">120</text>
<text x="952.3" y="708.3" font-size="9" font-weight="bold" fill="#222" stroke="#222" stroke-width="0" textLength="34.8" lengthAdjust="spacingAndGlyphs">Vm (mV)</text>
<text transform="translate(893.4 682.8) rotate(-90)" x="0" y="0" font-size="8.8" font-weight="bold" fill="#222" stroke="#222" stroke-width="0" textLength="92.3" lengthAdjust="spacingAndGlyphs">DPC Blocked fraction</text>
<path d="M922.4 605.3V615.3" stroke="#666" stroke-width=".8"/>
<path d="M931.6 606.1V616.1" stroke="#666" stroke-width=".8"/>
<path d="M940.8 613V623" stroke="#666" stroke-width=".8"/>
<path d="M950 624.4V634.4" stroke="#666" stroke-width=".8"/>
<path d="M959.2 606.7V616.7" stroke="#666" stroke-width=".8"/>
<path d="M968.4 603.3V613.3" stroke="#666" stroke-width=".8"/>
<path d="M977.6 608.1V618.1" stroke="#666" stroke-width=".8"/>
<path d="M986.8 610.1V620.1" stroke="#666" stroke-width=".8"/>
<path d="M996 611.9V621.9" stroke="#666" stroke-width=".8"/>
<path d="M1005.2 612.4V622.4" stroke="#666" stroke-width=".8"/>
<path d="M1014.4 612.4V622.4" stroke="#666" stroke-width=".8"/>
<path d="M959.2 635.7V645.7" stroke="#444" stroke-width=".8"/>
<path d="M968.4 662.6V672.6" stroke="#444" stroke-width=".8"/>
<path d="M977.6 662.9V672.9" stroke="#444" stroke-width=".8"/>
<path d="M986.8 664.3V674.3" stroke="#444" stroke-width=".8"/>
<path d="M996 662.6V672.6" stroke="#444" stroke-width=".8"/>
<path d="M1005.2 667.1V677.1" stroke="#444" stroke-width=".8"/>
<path d="M1014.4 663.4V673.4" stroke="#444" stroke-width=".8"/>
<circle cx="922.4" cy="610.3" r="3" fill="#fff" stroke="#000" stroke-width="1.5"/>
<circle cx="931.6" cy="611.1" r="3" fill="#fff" stroke="#000" stroke-width="1.5"/>
<circle cx="940.8" cy="618" r="3" fill="#fff" stroke="#000" stroke-width="1.5"/>
<circle cx="950" cy="629.4" r="3" fill="#fff" stroke="#000" stroke-width="1.5"/>
<circle cx="959.2" cy="611.7" r="3" fill="#fff" stroke="#000" stroke-width="1.5"/>
<circle cx="968.4" cy="608.3" r="3" fill="#fff" stroke="#000" stroke-width="1.5"/>
<circle cx="977.6" cy="613.1" r="3" fill="#fff" stroke="#000" stroke-width="1.5"/>
<circle cx="986.8" cy="615.1" r="3" fill="#fff" stroke="#000" stroke-width="1.5"/>
<circle cx="996" cy="616.9" r="3" fill="#fff" stroke="#000" stroke-width="1.5"/>
<circle cx="1005.2" cy="617.4" r="3" fill="#fff" stroke="#000" stroke-width="1.5"/>
<circle cx="1014.4" cy="617.4" r="3" fill="#fff" stroke="#000" stroke-width="1.5"/>
<circle cx="931.6" cy="628.9" r="3" fill="url(#sphh)" stroke="#000" stroke-width="1.3"/>
<circle cx="940.8" cy="633.1" r="3" fill="url(#sphh)" stroke="#000" stroke-width="1.3"/>
<circle cx="950" cy="646" r="3" fill="url(#sphh)" stroke="#000" stroke-width="1.3"/>
<circle cx="959.2" cy="624.6" r="3" fill="url(#sphh)" stroke="#000" stroke-width="1.3"/>
<circle cx="968.4" cy="620.9" r="3" fill="url(#sphh)" stroke="#000" stroke-width="1.3"/>
<circle cx="977.6" cy="636" r="3" fill="url(#sphh)" stroke="#000" stroke-width="1.3"/>
<circle cx="986.8" cy="629.4" r="3" fill="url(#sphh)" stroke="#000" stroke-width="1.3"/>
<circle cx="996" cy="628.9" r="3" fill="url(#sphh)" stroke="#000" stroke-width="1.3"/>
<circle cx="1005.2" cy="628.9" r="3" fill="url(#sphh)" stroke="#000" stroke-width="1.3"/>
<circle cx="1014.4" cy="628.3" r="3" fill="url(#sphh)" stroke="#000" stroke-width="1.3"/>
<path d="M922.4 606.2L926 613.2L918.8 613.2Z" fill="#000" stroke="#000" stroke-width="1" stroke-linejoin="round"/>
<path d="M931.6 613.9L935.2 620.9L928 620.9Z" fill="#000" stroke="#000" stroke-width="1" stroke-linejoin="round"/>
<path d="M940.8 618.5L944.4 625.5L937.2 625.5Z" fill="#000" stroke="#000" stroke-width="1" stroke-linejoin="round"/>
<path d="M950 621.3L953.6 628.3L946.4 628.3Z" fill="#000" stroke="#000" stroke-width="1" stroke-linejoin="round"/>
<path d="M959.2 635.6L962.8 642.6L955.6 642.6Z" fill="#000" stroke="#000" stroke-width="1" stroke-linejoin="round"/>
<path d="M968.4 662.5L972 669.5L964.8 669.5Z" fill="#000" stroke="#000" stroke-width="1" stroke-linejoin="round"/>
<path d="M977.6 662.8L981.2 669.8L974 669.8Z" fill="#000" stroke="#000" stroke-width="1" stroke-linejoin="round"/>
<path d="M986.8 664.2L990.4 671.2L983.2 671.2Z" fill="#000" stroke="#000" stroke-width="1" stroke-linejoin="round"/>
<path d="M996 662.5L999.6 669.5L992.4 669.5Z" fill="#000" stroke="#000" stroke-width="1" stroke-linejoin="round"/>
<path d="M1005.2 667L1008.8 674L1001.6 674Z" fill="#000" stroke="#000" stroke-width="1" stroke-linejoin="round"/>
<path d="M1014.4 663.3L1018 670.3L1010.8 670.3Z" fill="#000" stroke="#000" stroke-width="1" stroke-linejoin="round"/>
</g>
</g></svg></body></html>
